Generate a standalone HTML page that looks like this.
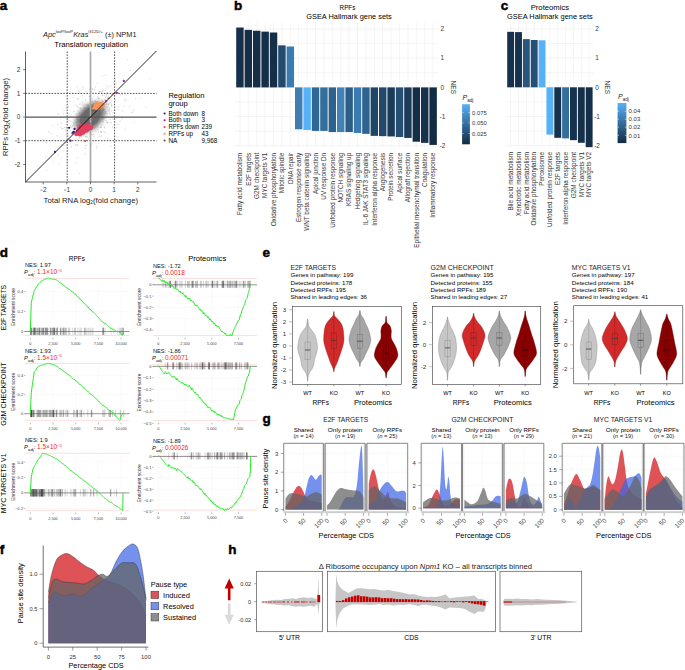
<!DOCTYPE html>
<html><head><meta charset="utf-8"><title>Figure</title>
<style>html,body{margin:0;padding:0;background:#fff;overflow:hidden}svg{display:block}
text{font-family:"Liberation Sans",sans-serif}</style></head>
<body><svg width="685" height="670" viewBox="0 0 685 670" font-family="Liberation Sans, sans-serif">
<rect x="0" y="0" width="685" height="670" fill="#fff"/>
<text x="-0.20" y="9.90" font-size="13.5" fill="#000" font-weight="bold" stroke="#000" stroke-width="0.45">a</text>
<text x="43.0" y="37.0" font-size="7.6" fill="#222" textLength="93.5" lengthAdjust="spacingAndGlyphs"><tspan font-style="italic">Apc</tspan><tspan font-size="4.3" dy="-3.6">loxP/loxP</tspan><tspan font-style="italic" dy="3.6">Kras</tspan><tspan font-size="4.3" dy="-3.6">G12D/+</tspan><tspan dy="3.6"> (±) NPM1</tspan></text>
<text x="91.20" y="46.70" font-size="7.4" text-anchor="middle" textLength="73.80" lengthAdjust="spacingAndGlyphs">Translation regulation</text>
<defs><filter id="bl1" x="-50%" y="-50%" width="200%" height="200%"><feGaussianBlur stdDeviation="2.2"/></filter><filter id="bl2" x="-50%" y="-50%" width="200%" height="200%"><feGaussianBlur stdDeviation="1.2"/></filter><filter id="bl3" x="-50%" y="-50%" width="200%" height="200%"><feGaussianBlur stdDeviation="0.5"/></filter></defs>
<circle cx="81.4" cy="117.0" r="0.75" fill="#aaa" fill-opacity="0.3"/>
<circle cx="89.3" cy="124.0" r="0.75" fill="#aaa" fill-opacity="0.3"/>
<circle cx="75.9" cy="135.6" r="0.75" fill="#aaa" fill-opacity="0.3"/>
<circle cx="106.4" cy="93.5" r="0.75" fill="#aaa" fill-opacity="0.3"/>
<circle cx="106.7" cy="96.4" r="0.75" fill="#aaa" fill-opacity="0.3"/>
<circle cx="95.8" cy="108.4" r="0.75" fill="#aaa" fill-opacity="0.3"/>
<circle cx="53.3" cy="139.0" r="0.75" fill="#aaa" fill-opacity="0.3"/>
<circle cx="95.0" cy="103.6" r="0.75" fill="#aaa" fill-opacity="0.3"/>
<circle cx="76.2" cy="162.9" r="0.75" fill="#aaa" fill-opacity="0.3"/>
<circle cx="78.9" cy="137.1" r="0.75" fill="#aaa" fill-opacity="0.3"/>
<circle cx="96.3" cy="112.1" r="0.75" fill="#aaa" fill-opacity="0.3"/>
<circle cx="105.5" cy="113.6" r="0.75" fill="#aaa" fill-opacity="0.3"/>
<circle cx="92.4" cy="108.1" r="0.75" fill="#aaa" fill-opacity="0.3"/>
<circle cx="63.3" cy="113.4" r="0.75" fill="#aaa" fill-opacity="0.3"/>
<circle cx="89.6" cy="96.4" r="0.75" fill="#aaa" fill-opacity="0.3"/>
<circle cx="86.1" cy="134.8" r="0.75" fill="#aaa" fill-opacity="0.3"/>
<circle cx="85.4" cy="124.2" r="0.75" fill="#aaa" fill-opacity="0.3"/>
<circle cx="99.5" cy="103.6" r="0.75" fill="#aaa" fill-opacity="0.3"/>
<circle cx="91.2" cy="133.7" r="0.75" fill="#aaa" fill-opacity="0.3"/>
<circle cx="70.3" cy="115.4" r="0.75" fill="#aaa" fill-opacity="0.3"/>
<circle cx="74.0" cy="129.3" r="0.75" fill="#aaa" fill-opacity="0.3"/>
<circle cx="111.5" cy="122.9" r="0.75" fill="#aaa" fill-opacity="0.3"/>
<circle cx="79.6" cy="104.5" r="0.75" fill="#aaa" fill-opacity="0.3"/>
<circle cx="57.7" cy="155.8" r="0.75" fill="#aaa" fill-opacity="0.3"/>
<circle cx="96.0" cy="126.3" r="0.75" fill="#aaa" fill-opacity="0.3"/>
<circle cx="99.9" cy="108.8" r="0.75" fill="#aaa" fill-opacity="0.3"/>
<circle cx="57.1" cy="135.7" r="0.75" fill="#aaa" fill-opacity="0.3"/>
<circle cx="93.9" cy="96.7" r="0.75" fill="#aaa" fill-opacity="0.3"/>
<circle cx="112.8" cy="88.2" r="0.75" fill="#aaa" fill-opacity="0.3"/>
<circle cx="104.3" cy="126.7" r="0.75" fill="#aaa" fill-opacity="0.3"/>
<circle cx="106.9" cy="111.7" r="0.75" fill="#aaa" fill-opacity="0.3"/>
<circle cx="93.8" cy="136.5" r="0.75" fill="#aaa" fill-opacity="0.3"/>
<circle cx="78.1" cy="139.1" r="0.75" fill="#aaa" fill-opacity="0.3"/>
<circle cx="131.6" cy="112.5" r="0.75" fill="#aaa" fill-opacity="0.3"/>
<circle cx="62.5" cy="140.9" r="0.75" fill="#aaa" fill-opacity="0.3"/>
<circle cx="110.9" cy="86.2" r="0.75" fill="#aaa" fill-opacity="0.3"/>
<circle cx="79.4" cy="173.6" r="0.75" fill="#aaa" fill-opacity="0.3"/>
<circle cx="103.5" cy="117.4" r="0.75" fill="#aaa" fill-opacity="0.3"/>
<circle cx="61.9" cy="128.2" r="0.75" fill="#aaa" fill-opacity="0.3"/>
<circle cx="108.6" cy="96.1" r="0.75" fill="#aaa" fill-opacity="0.3"/>
<circle cx="91.0" cy="108.8" r="0.75" fill="#aaa" fill-opacity="0.3"/>
<circle cx="113.2" cy="83.2" r="0.75" fill="#aaa" fill-opacity="0.3"/>
<circle cx="94.8" cy="102.9" r="0.75" fill="#aaa" fill-opacity="0.3"/>
<circle cx="51.2" cy="133.4" r="0.75" fill="#aaa" fill-opacity="0.3"/>
<circle cx="102.7" cy="95.4" r="0.75" fill="#aaa" fill-opacity="0.3"/>
<circle cx="61.2" cy="157.9" r="0.75" fill="#aaa" fill-opacity="0.3"/>
<circle cx="121.7" cy="118.4" r="0.75" fill="#aaa" fill-opacity="0.3"/>
<circle cx="78.1" cy="111.2" r="0.75" fill="#aaa" fill-opacity="0.3"/>
<circle cx="52.8" cy="125.9" r="0.75" fill="#aaa" fill-opacity="0.3"/>
<circle cx="101.6" cy="108.6" r="0.75" fill="#aaa" fill-opacity="0.3"/>
<circle cx="90.4" cy="105.5" r="0.75" fill="#aaa" fill-opacity="0.3"/>
<circle cx="82.3" cy="104.6" r="0.75" fill="#aaa" fill-opacity="0.3"/>
<circle cx="82.5" cy="132.6" r="0.75" fill="#aaa" fill-opacity="0.3"/>
<circle cx="108.7" cy="98.3" r="0.75" fill="#aaa" fill-opacity="0.3"/>
<circle cx="66.4" cy="124.2" r="0.75" fill="#aaa" fill-opacity="0.3"/>
<circle cx="120.5" cy="95.1" r="0.75" fill="#aaa" fill-opacity="0.3"/>
<circle cx="67.2" cy="142.8" r="0.75" fill="#aaa" fill-opacity="0.3"/>
<circle cx="90.5" cy="122.4" r="0.75" fill="#aaa" fill-opacity="0.3"/>
<circle cx="124.6" cy="101.4" r="0.75" fill="#aaa" fill-opacity="0.3"/>
<circle cx="124.3" cy="106.1" r="0.75" fill="#aaa" fill-opacity="0.3"/>
<circle cx="70.9" cy="125.4" r="0.75" fill="#aaa" fill-opacity="0.3"/>
<circle cx="102.8" cy="89.3" r="0.75" fill="#aaa" fill-opacity="0.3"/>
<circle cx="95.3" cy="109.7" r="0.75" fill="#aaa" fill-opacity="0.3"/>
<circle cx="88.0" cy="109.2" r="0.75" fill="#aaa" fill-opacity="0.3"/>
<circle cx="84.9" cy="117.7" r="0.75" fill="#aaa" fill-opacity="0.3"/>
<circle cx="100.7" cy="106.9" r="0.75" fill="#aaa" fill-opacity="0.3"/>
<circle cx="99.0" cy="98.4" r="0.75" fill="#aaa" fill-opacity="0.3"/>
<circle cx="123.2" cy="78.4" r="0.75" fill="#aaa" fill-opacity="0.3"/>
<circle cx="86.3" cy="128.1" r="0.75" fill="#aaa" fill-opacity="0.3"/>
<circle cx="82.0" cy="109.0" r="0.75" fill="#aaa" fill-opacity="0.3"/>
<circle cx="81.1" cy="119.6" r="0.75" fill="#aaa" fill-opacity="0.3"/>
<circle cx="146.1" cy="107.5" r="0.75" fill="#aaa" fill-opacity="0.3"/>
<circle cx="68.4" cy="134.9" r="0.75" fill="#aaa" fill-opacity="0.3"/>
<circle cx="95.4" cy="107.9" r="0.75" fill="#aaa" fill-opacity="0.3"/>
<circle cx="77.0" cy="118.9" r="0.75" fill="#aaa" fill-opacity="0.3"/>
<circle cx="100.2" cy="116.8" r="0.75" fill="#aaa" fill-opacity="0.3"/>
<circle cx="130.4" cy="70.7" r="0.75" fill="#aaa" fill-opacity="0.3"/>
<circle cx="81.6" cy="127.8" r="0.75" fill="#aaa" fill-opacity="0.3"/>
<circle cx="87.1" cy="121.7" r="0.75" fill="#aaa" fill-opacity="0.3"/>
<circle cx="46.5" cy="170.0" r="0.75" fill="#aaa" fill-opacity="0.3"/>
<circle cx="118.9" cy="109.7" r="0.75" fill="#aaa" fill-opacity="0.3"/>
<circle cx="80.7" cy="109.7" r="0.75" fill="#aaa" fill-opacity="0.3"/>
<circle cx="92.3" cy="88.5" r="0.75" fill="#aaa" fill-opacity="0.3"/>
<circle cx="63.5" cy="150.5" r="0.75" fill="#aaa" fill-opacity="0.3"/>
<circle cx="78.9" cy="117.5" r="0.75" fill="#aaa" fill-opacity="0.3"/>
<circle cx="134.0" cy="121.9" r="0.75" fill="#aaa" fill-opacity="0.3"/>
<circle cx="122.8" cy="110.8" r="0.75" fill="#aaa" fill-opacity="0.3"/>
<circle cx="116.0" cy="118.4" r="0.75" fill="#aaa" fill-opacity="0.3"/>
<circle cx="82.9" cy="103.2" r="0.75" fill="#aaa" fill-opacity="0.3"/>
<circle cx="86.1" cy="118.0" r="0.75" fill="#aaa" fill-opacity="0.3"/>
<circle cx="103.4" cy="101.7" r="0.75" fill="#aaa" fill-opacity="0.3"/>
<circle cx="75.2" cy="104.9" r="0.75" fill="#aaa" fill-opacity="0.3"/>
<circle cx="111.7" cy="101.1" r="0.75" fill="#aaa" fill-opacity="0.3"/>
<circle cx="149.5" cy="78.6" r="0.75" fill="#aaa" fill-opacity="0.3"/>
<circle cx="109.1" cy="103.2" r="0.75" fill="#aaa" fill-opacity="0.3"/>
<circle cx="86.5" cy="108.4" r="0.75" fill="#aaa" fill-opacity="0.3"/>
<circle cx="88.7" cy="107.4" r="0.75" fill="#aaa" fill-opacity="0.3"/>
<circle cx="77.0" cy="157.8" r="0.75" fill="#aaa" fill-opacity="0.3"/>
<circle cx="110.1" cy="114.8" r="0.75" fill="#aaa" fill-opacity="0.3"/>
<circle cx="85.5" cy="148.6" r="0.75" fill="#aaa" fill-opacity="0.3"/>
<circle cx="106.3" cy="87.9" r="0.75" fill="#aaa" fill-opacity="0.3"/>
<circle cx="125.1" cy="99.4" r="0.75" fill="#aaa" fill-opacity="0.3"/>
<circle cx="100.8" cy="127.4" r="0.75" fill="#aaa" fill-opacity="0.3"/>
<circle cx="89.8" cy="89.2" r="0.75" fill="#aaa" fill-opacity="0.3"/>
<circle cx="60.7" cy="118.9" r="0.75" fill="#aaa" fill-opacity="0.3"/>
<circle cx="109.6" cy="101.1" r="0.75" fill="#aaa" fill-opacity="0.3"/>
<circle cx="42.9" cy="139.5" r="0.75" fill="#aaa" fill-opacity="0.3"/>
<circle cx="94.2" cy="124.2" r="0.75" fill="#aaa" fill-opacity="0.3"/>
<circle cx="93.9" cy="106.3" r="0.75" fill="#aaa" fill-opacity="0.3"/>
<circle cx="126.2" cy="99.7" r="0.75" fill="#aaa" fill-opacity="0.3"/>
<circle cx="97.3" cy="83.5" r="0.75" fill="#aaa" fill-opacity="0.3"/>
<circle cx="117.9" cy="92.9" r="0.75" fill="#aaa" fill-opacity="0.3"/>
<circle cx="68.1" cy="121.2" r="0.75" fill="#aaa" fill-opacity="0.3"/>
<circle cx="91.4" cy="113.9" r="0.75" fill="#aaa" fill-opacity="0.3"/>
<circle cx="118.1" cy="94.2" r="0.75" fill="#aaa" fill-opacity="0.3"/>
<circle cx="53.2" cy="161.4" r="0.75" fill="#aaa" fill-opacity="0.3"/>
<circle cx="50.3" cy="142.7" r="0.75" fill="#aaa" fill-opacity="0.3"/>
<circle cx="101.6" cy="117.0" r="0.75" fill="#aaa" fill-opacity="0.3"/>
<circle cx="82.8" cy="109.8" r="0.75" fill="#aaa" fill-opacity="0.3"/>
<circle cx="80.0" cy="103.8" r="0.75" fill="#aaa" fill-opacity="0.3"/>
<circle cx="80.1" cy="108.8" r="0.75" fill="#aaa" fill-opacity="0.3"/>
<circle cx="102.5" cy="76.1" r="0.75" fill="#aaa" fill-opacity="0.3"/>
<circle cx="70.7" cy="121.1" r="0.75" fill="#aaa" fill-opacity="0.3"/>
<circle cx="67.0" cy="160.2" r="0.75" fill="#aaa" fill-opacity="0.3"/>
<circle cx="46.1" cy="142.4" r="0.75" fill="#aaa" fill-opacity="0.3"/>
<circle cx="68.8" cy="139.1" r="0.75" fill="#aaa" fill-opacity="0.3"/>
<circle cx="87.3" cy="120.8" r="0.75" fill="#aaa" fill-opacity="0.3"/>
<circle cx="77.9" cy="125.5" r="0.75" fill="#aaa" fill-opacity="0.3"/>
<circle cx="121.9" cy="84.9" r="0.75" fill="#aaa" fill-opacity="0.3"/>
<circle cx="90.9" cy="98.7" r="0.75" fill="#aaa" fill-opacity="0.3"/>
<circle cx="98.3" cy="132.0" r="0.75" fill="#aaa" fill-opacity="0.3"/>
<circle cx="71.0" cy="117.3" r="0.75" fill="#aaa" fill-opacity="0.3"/>
<circle cx="66.7" cy="151.7" r="0.75" fill="#aaa" fill-opacity="0.3"/>
<circle cx="101.2" cy="92.1" r="0.75" fill="#aaa" fill-opacity="0.3"/>
<circle cx="83.4" cy="109.7" r="0.75" fill="#aaa" fill-opacity="0.3"/>
<circle cx="104.0" cy="124.8" r="0.75" fill="#aaa" fill-opacity="0.3"/>
<circle cx="68.5" cy="150.7" r="0.75" fill="#aaa" fill-opacity="0.3"/>
<circle cx="111.9" cy="105.8" r="0.75" fill="#aaa" fill-opacity="0.3"/>
<circle cx="81.4" cy="140.1" r="0.75" fill="#aaa" fill-opacity="0.3"/>
<circle cx="64.4" cy="145.4" r="0.75" fill="#aaa" fill-opacity="0.3"/>
<circle cx="66.3" cy="134.8" r="0.75" fill="#aaa" fill-opacity="0.3"/>
<circle cx="45.7" cy="156.1" r="0.75" fill="#aaa" fill-opacity="0.3"/>
<circle cx="96.6" cy="146.0" r="0.75" fill="#aaa" fill-opacity="0.3"/>
<circle cx="105.8" cy="106.7" r="0.75" fill="#aaa" fill-opacity="0.3"/>
<circle cx="58.8" cy="164.6" r="0.75" fill="#aaa" fill-opacity="0.3"/>
<circle cx="99.8" cy="116.1" r="0.75" fill="#aaa" fill-opacity="0.3"/>
<circle cx="97.6" cy="96.5" r="0.75" fill="#aaa" fill-opacity="0.3"/>
<circle cx="99.4" cy="102.3" r="0.75" fill="#aaa" fill-opacity="0.3"/>
<circle cx="108.2" cy="87.5" r="0.75" fill="#aaa" fill-opacity="0.3"/>
<circle cx="117.2" cy="127.8" r="0.75" fill="#aaa" fill-opacity="0.3"/>
<circle cx="94.6" cy="89.4" r="0.75" fill="#aaa" fill-opacity="0.3"/>
<circle cx="89.5" cy="126.6" r="0.75" fill="#aaa" fill-opacity="0.3"/>
<circle cx="140.7" cy="98.4" r="0.75" fill="#aaa" fill-opacity="0.3"/>
<circle cx="77.0" cy="86.9" r="0.75" fill="#aaa" fill-opacity="0.3"/>
<circle cx="67.8" cy="127.4" r="0.75" fill="#aaa" fill-opacity="0.3"/>
<circle cx="125.0" cy="84.7" r="0.75" fill="#aaa" fill-opacity="0.3"/>
<circle cx="92.3" cy="99.0" r="0.75" fill="#aaa" fill-opacity="0.3"/>
<circle cx="75.2" cy="134.0" r="0.75" fill="#aaa" fill-opacity="0.3"/>
<circle cx="88.3" cy="104.5" r="0.75" fill="#aaa" fill-opacity="0.3"/>
<circle cx="91.6" cy="119.5" r="0.75" fill="#aaa" fill-opacity="0.3"/>
<circle cx="75.7" cy="138.4" r="0.75" fill="#aaa" fill-opacity="0.3"/>
<circle cx="105.4" cy="100.3" r="0.75" fill="#aaa" fill-opacity="0.3"/>
<circle cx="82.9" cy="139.8" r="0.75" fill="#aaa" fill-opacity="0.3"/>
<circle cx="127.6" cy="59.4" r="0.75" fill="#aaa" fill-opacity="0.3"/>
<circle cx="125.1" cy="129.1" r="0.75" fill="#aaa" fill-opacity="0.3"/>
<circle cx="97.2" cy="101.7" r="0.75" fill="#aaa" fill-opacity="0.3"/>
<circle cx="116.5" cy="83.3" r="0.75" fill="#aaa" fill-opacity="0.3"/>
<circle cx="84.6" cy="113.6" r="0.75" fill="#aaa" fill-opacity="0.3"/>
<circle cx="46.7" cy="142.4" r="0.75" fill="#aaa" fill-opacity="0.3"/>
<circle cx="102.6" cy="117.6" r="0.75" fill="#aaa" fill-opacity="0.3"/>
<ellipse cx="90.5" cy="117.1" rx="22" ry="14" fill="#aaaaaa" fill-opacity="0.35" filter="url(#bl2)" transform="rotate(-45 90.5 117.1)"/>
<ellipse cx="90.5" cy="117.1" rx="17.5" ry="11" fill="#838383" fill-opacity="0.9" filter="url(#bl2)" transform="rotate(-45 90.5 117.1)"/>
<ellipse cx="90.5" cy="117.1" rx="12.5" ry="8.5" fill="#686868" filter="url(#bl3)" transform="rotate(-45 90.5 117.1)"/>
<circle cx="92.7" cy="89.2" r="0.7" fill="#777" fill-opacity="0.3"/>
<circle cx="79.3" cy="137.8" r="0.7" fill="#777" fill-opacity="0.3"/>
<circle cx="92.5" cy="112.5" r="0.7" fill="#777" fill-opacity="0.3"/>
<circle cx="92.9" cy="128.6" r="0.7" fill="#777" fill-opacity="0.3"/>
<circle cx="107.2" cy="85.6" r="0.7" fill="#777" fill-opacity="0.3"/>
<circle cx="86.5" cy="140.2" r="0.7" fill="#777" fill-opacity="0.3"/>
<circle cx="102.8" cy="90.7" r="0.7" fill="#777" fill-opacity="0.3"/>
<circle cx="105.4" cy="90.6" r="0.7" fill="#777" fill-opacity="0.3"/>
<circle cx="78.8" cy="125.2" r="0.7" fill="#777" fill-opacity="0.3"/>
<circle cx="71.3" cy="147.0" r="0.7" fill="#777" fill-opacity="0.3"/>
<circle cx="86.1" cy="114.1" r="0.7" fill="#777" fill-opacity="0.3"/>
<circle cx="83.1" cy="126.3" r="0.7" fill="#777" fill-opacity="0.3"/>
<circle cx="93.0" cy="109.2" r="0.7" fill="#777" fill-opacity="0.3"/>
<circle cx="96.3" cy="108.4" r="0.7" fill="#777" fill-opacity="0.3"/>
<circle cx="81.2" cy="115.2" r="0.7" fill="#777" fill-opacity="0.3"/>
<circle cx="96.9" cy="122.4" r="0.7" fill="#777" fill-opacity="0.3"/>
<circle cx="83.4" cy="124.2" r="0.7" fill="#777" fill-opacity="0.3"/>
<circle cx="88.1" cy="117.2" r="0.7" fill="#777" fill-opacity="0.3"/>
<circle cx="89.2" cy="115.9" r="0.7" fill="#777" fill-opacity="0.3"/>
<circle cx="97.9" cy="127.6" r="0.7" fill="#777" fill-opacity="0.3"/>
<circle cx="87.8" cy="104.8" r="0.7" fill="#777" fill-opacity="0.3"/>
<circle cx="96.8" cy="113.5" r="0.7" fill="#777" fill-opacity="0.3"/>
<circle cx="102.4" cy="118.9" r="0.7" fill="#777" fill-opacity="0.3"/>
<circle cx="68.6" cy="138.2" r="0.7" fill="#777" fill-opacity="0.3"/>
<circle cx="74.7" cy="122.4" r="0.7" fill="#777" fill-opacity="0.3"/>
<circle cx="96.8" cy="148.1" r="0.7" fill="#777" fill-opacity="0.3"/>
<circle cx="67.5" cy="117.7" r="0.7" fill="#777" fill-opacity="0.3"/>
<circle cx="95.9" cy="131.2" r="0.7" fill="#777" fill-opacity="0.3"/>
<circle cx="78.1" cy="122.1" r="0.7" fill="#777" fill-opacity="0.3"/>
<circle cx="94.9" cy="110.2" r="0.7" fill="#777" fill-opacity="0.3"/>
<circle cx="102.3" cy="95.2" r="0.7" fill="#777" fill-opacity="0.3"/>
<circle cx="86.0" cy="113.1" r="0.7" fill="#777" fill-opacity="0.3"/>
<circle cx="102.4" cy="91.4" r="0.7" fill="#777" fill-opacity="0.3"/>
<circle cx="109.8" cy="113.2" r="0.7" fill="#777" fill-opacity="0.3"/>
<circle cx="83.6" cy="113.6" r="0.7" fill="#777" fill-opacity="0.3"/>
<circle cx="79.6" cy="112.9" r="0.7" fill="#777" fill-opacity="0.3"/>
<circle cx="90.8" cy="103.9" r="0.7" fill="#777" fill-opacity="0.3"/>
<circle cx="70.0" cy="101.4" r="0.7" fill="#777" fill-opacity="0.3"/>
<circle cx="106.1" cy="104.5" r="0.7" fill="#777" fill-opacity="0.3"/>
<circle cx="73.1" cy="97.6" r="0.7" fill="#777" fill-opacity="0.3"/>
<circle cx="80.4" cy="114.8" r="0.7" fill="#777" fill-opacity="0.3"/>
<circle cx="101.6" cy="105.9" r="0.7" fill="#777" fill-opacity="0.3"/>
<circle cx="75.9" cy="129.0" r="0.7" fill="#777" fill-opacity="0.3"/>
<circle cx="86.6" cy="105.0" r="0.7" fill="#777" fill-opacity="0.3"/>
<circle cx="99.2" cy="108.0" r="0.7" fill="#777" fill-opacity="0.3"/>
<circle cx="96.4" cy="103.6" r="0.7" fill="#777" fill-opacity="0.3"/>
<circle cx="92.4" cy="114.4" r="0.7" fill="#777" fill-opacity="0.3"/>
<circle cx="82.9" cy="115.0" r="0.7" fill="#777" fill-opacity="0.3"/>
<circle cx="83.0" cy="133.6" r="0.7" fill="#777" fill-opacity="0.3"/>
<circle cx="100.9" cy="127.5" r="0.7" fill="#777" fill-opacity="0.3"/>
<circle cx="99.8" cy="136.3" r="0.7" fill="#777" fill-opacity="0.3"/>
<circle cx="78.7" cy="120.8" r="0.7" fill="#777" fill-opacity="0.3"/>
<circle cx="97.3" cy="111.0" r="0.7" fill="#777" fill-opacity="0.3"/>
<circle cx="97.9" cy="129.8" r="0.7" fill="#777" fill-opacity="0.3"/>
<circle cx="107.6" cy="92.6" r="0.7" fill="#777" fill-opacity="0.3"/>
<circle cx="109.2" cy="110.9" r="0.7" fill="#777" fill-opacity="0.3"/>
<circle cx="101.3" cy="132.1" r="0.7" fill="#777" fill-opacity="0.3"/>
<circle cx="92.7" cy="101.6" r="0.7" fill="#777" fill-opacity="0.3"/>
<circle cx="69.3" cy="139.1" r="0.7" fill="#777" fill-opacity="0.3"/>
<circle cx="110.2" cy="122.5" r="0.7" fill="#777" fill-opacity="0.3"/>
<circle cx="77.3" cy="145.4" r="0.7" fill="#777" fill-opacity="0.3"/>
<circle cx="93.3" cy="134.2" r="0.7" fill="#777" fill-opacity="0.3"/>
<circle cx="89.1" cy="115.0" r="0.7" fill="#777" fill-opacity="0.3"/>
<circle cx="92.7" cy="104.9" r="0.7" fill="#777" fill-opacity="0.3"/>
<circle cx="99.3" cy="91.7" r="0.7" fill="#777" fill-opacity="0.3"/>
<circle cx="79.2" cy="135.6" r="0.7" fill="#777" fill-opacity="0.3"/>
<circle cx="86.1" cy="136.8" r="0.7" fill="#777" fill-opacity="0.3"/>
<circle cx="89.5" cy="118.0" r="0.7" fill="#777" fill-opacity="0.3"/>
<circle cx="107.3" cy="122.8" r="0.7" fill="#777" fill-opacity="0.3"/>
<circle cx="76.6" cy="131.3" r="0.7" fill="#777" fill-opacity="0.3"/>
<circle cx="90.4" cy="121.6" r="0.7" fill="#777" fill-opacity="0.3"/>
<circle cx="95.2" cy="123.2" r="0.7" fill="#777" fill-opacity="0.3"/>
<circle cx="95.9" cy="106.6" r="0.7" fill="#777" fill-opacity="0.3"/>
<circle cx="94.3" cy="122.9" r="0.7" fill="#777" fill-opacity="0.3"/>
<circle cx="107.8" cy="138.4" r="0.7" fill="#777" fill-opacity="0.3"/>
<circle cx="79.1" cy="128.0" r="0.7" fill="#777" fill-opacity="0.3"/>
<circle cx="72.0" cy="132.8" r="0.7" fill="#777" fill-opacity="0.3"/>
<circle cx="101.9" cy="125.2" r="0.7" fill="#777" fill-opacity="0.3"/>
<circle cx="89.9" cy="122.2" r="0.7" fill="#777" fill-opacity="0.3"/>
<circle cx="91.4" cy="107.5" r="0.7" fill="#777" fill-opacity="0.3"/>
<circle cx="96.1" cy="123.6" r="0.7" fill="#777" fill-opacity="0.3"/>
<circle cx="89.3" cy="119.2" r="0.7" fill="#777" fill-opacity="0.3"/>
<circle cx="96.7" cy="106.7" r="0.7" fill="#777" fill-opacity="0.3"/>
<circle cx="91.9" cy="134.9" r="0.7" fill="#777" fill-opacity="0.3"/>
<circle cx="91.5" cy="126.6" r="0.7" fill="#777" fill-opacity="0.3"/>
<circle cx="78.7" cy="130.6" r="0.7" fill="#777" fill-opacity="0.3"/>
<circle cx="84.2" cy="121.9" r="0.7" fill="#777" fill-opacity="0.3"/>
<circle cx="99.4" cy="114.1" r="0.7" fill="#777" fill-opacity="0.3"/>
<circle cx="119.2" cy="92.9" r="0.7" fill="#777" fill-opacity="0.3"/>
<circle cx="102.1" cy="103.7" r="0.7" fill="#777" fill-opacity="0.3"/>
<circle cx="120.0" cy="121.3" r="0.7" fill="#777" fill-opacity="0.3"/>
<circle cx="80.2" cy="123.9" r="0.7" fill="#777" fill-opacity="0.3"/>
<circle cx="80.8" cy="93.6" r="0.7" fill="#777" fill-opacity="0.3"/>
<circle cx="85.1" cy="104.3" r="0.7" fill="#777" fill-opacity="0.3"/>
<circle cx="92.5" cy="101.6" r="0.7" fill="#777" fill-opacity="0.3"/>
<circle cx="97.4" cy="112.4" r="0.7" fill="#777" fill-opacity="0.3"/>
<circle cx="103.9" cy="119.0" r="0.7" fill="#777" fill-opacity="0.3"/>
<circle cx="111.1" cy="110.9" r="0.7" fill="#777" fill-opacity="0.3"/>
<circle cx="78.3" cy="99.2" r="0.7" fill="#777" fill-opacity="0.3"/>
<circle cx="87.8" cy="119.5" r="0.7" fill="#777" fill-opacity="0.3"/>
<circle cx="103.5" cy="103.7" r="0.7" fill="#777" fill-opacity="0.3"/>
<circle cx="79.5" cy="124.5" r="0.7" fill="#777" fill-opacity="0.3"/>
<circle cx="92.1" cy="105.4" r="0.7" fill="#777" fill-opacity="0.3"/>
<circle cx="69.3" cy="113.4" r="0.7" fill="#777" fill-opacity="0.3"/>
<circle cx="109.3" cy="98.0" r="0.7" fill="#777" fill-opacity="0.3"/>
<circle cx="96.6" cy="117.1" r="0.7" fill="#777" fill-opacity="0.3"/>
<circle cx="111.6" cy="106.0" r="0.7" fill="#777" fill-opacity="0.3"/>
<circle cx="101.6" cy="112.8" r="0.7" fill="#777" fill-opacity="0.3"/>
<circle cx="77.5" cy="119.9" r="0.7" fill="#777" fill-opacity="0.3"/>
<circle cx="105.7" cy="102.0" r="0.7" fill="#777" fill-opacity="0.3"/>
<circle cx="77.1" cy="119.0" r="0.7" fill="#777" fill-opacity="0.3"/>
<circle cx="87.7" cy="115.5" r="0.7" fill="#777" fill-opacity="0.3"/>
<circle cx="99.8" cy="91.7" r="0.7" fill="#777" fill-opacity="0.3"/>
<circle cx="68.4" cy="106.8" r="0.7" fill="#777" fill-opacity="0.3"/>
<circle cx="85.0" cy="111.5" r="0.7" fill="#777" fill-opacity="0.3"/>
<circle cx="83.5" cy="124.8" r="0.7" fill="#777" fill-opacity="0.3"/>
<circle cx="58.0" cy="124.3" r="0.7" fill="#777" fill-opacity="0.3"/>
<circle cx="114.6" cy="110.2" r="0.7" fill="#777" fill-opacity="0.3"/>
<circle cx="84.9" cy="145.7" r="0.7" fill="#777" fill-opacity="0.3"/>
<circle cx="107.1" cy="107.0" r="0.7" fill="#777" fill-opacity="0.3"/>
<circle cx="92.0" cy="120.0" r="0.7" fill="#777" fill-opacity="0.3"/>
<circle cx="96.8" cy="126.2" r="0.7" fill="#777" fill-opacity="0.3"/>
<circle cx="101.0" cy="127.0" r="0.7" fill="#777" fill-opacity="0.3"/>
<circle cx="87.5" cy="115.7" r="0.7" fill="#777" fill-opacity="0.3"/>
<circle cx="97.5" cy="113.4" r="0.7" fill="#777" fill-opacity="0.3"/>
<circle cx="79.1" cy="126.2" r="0.7" fill="#777" fill-opacity="0.3"/>
<circle cx="73.9" cy="111.5" r="0.7" fill="#777" fill-opacity="0.3"/>
<circle cx="100.0" cy="109.2" r="0.7" fill="#777" fill-opacity="0.3"/>
<circle cx="90.1" cy="127.5" r="0.7" fill="#777" fill-opacity="0.3"/>
<circle cx="82.4" cy="130.3" r="0.7" fill="#777" fill-opacity="0.3"/>
<circle cx="90.2" cy="110.1" r="0.7" fill="#777" fill-opacity="0.3"/>
<circle cx="82.1" cy="95.7" r="0.7" fill="#777" fill-opacity="0.3"/>
<circle cx="82.4" cy="125.0" r="0.7" fill="#777" fill-opacity="0.3"/>
<circle cx="135.5" cy="98.6" r="0.7" fill="#777" fill-opacity="0.3"/>
<circle cx="83.4" cy="121.8" r="0.7" fill="#777" fill-opacity="0.3"/>
<circle cx="89.4" cy="112.4" r="0.7" fill="#777" fill-opacity="0.3"/>
<circle cx="85.2" cy="117.2" r="0.7" fill="#777" fill-opacity="0.3"/>
<circle cx="85.6" cy="111.0" r="0.7" fill="#777" fill-opacity="0.3"/>
<circle cx="75.3" cy="144.9" r="0.7" fill="#777" fill-opacity="0.3"/>
<circle cx="97.8" cy="124.5" r="0.7" fill="#777" fill-opacity="0.3"/>
<circle cx="74.2" cy="124.5" r="0.7" fill="#777" fill-opacity="0.3"/>
<circle cx="78.6" cy="120.0" r="0.7" fill="#777" fill-opacity="0.3"/>
<circle cx="96.8" cy="106.4" r="0.7" fill="#777" fill-opacity="0.3"/>
<circle cx="97.0" cy="112.1" r="0.7" fill="#777" fill-opacity="0.3"/>
<circle cx="74.7" cy="133.3" r="0.7" fill="#777" fill-opacity="0.3"/>
<circle cx="99.4" cy="115.7" r="0.7" fill="#777" fill-opacity="0.3"/>
<circle cx="84.1" cy="112.9" r="0.7" fill="#777" fill-opacity="0.3"/>
<circle cx="76.0" cy="122.5" r="0.7" fill="#777" fill-opacity="0.3"/>
<circle cx="115.6" cy="99.9" r="0.7" fill="#777" fill-opacity="0.3"/>
<circle cx="93.2" cy="116.5" r="0.7" fill="#777" fill-opacity="0.3"/>
<circle cx="105.7" cy="97.3" r="0.7" fill="#777" fill-opacity="0.3"/>
<circle cx="105.6" cy="111.8" r="0.7" fill="#777" fill-opacity="0.3"/>
<circle cx="90.4" cy="117.4" r="0.7" fill="#777" fill-opacity="0.3"/>
<circle cx="60.1" cy="127.1" r="0.7" fill="#777" fill-opacity="0.3"/>
<circle cx="113.1" cy="119.3" r="0.7" fill="#777" fill-opacity="0.3"/>
<circle cx="99.9" cy="109.6" r="0.7" fill="#777" fill-opacity="0.3"/>
<circle cx="93.0" cy="109.4" r="0.7" fill="#777" fill-opacity="0.3"/>
<circle cx="75.0" cy="135.7" r="0.7" fill="#777" fill-opacity="0.3"/>
<circle cx="111.5" cy="104.2" r="0.7" fill="#777" fill-opacity="0.3"/>
<circle cx="88.5" cy="138.4" r="0.7" fill="#777" fill-opacity="0.3"/>
<circle cx="74.3" cy="128.6" r="0.7" fill="#777" fill-opacity="0.3"/>
<circle cx="106.7" cy="94.8" r="0.7" fill="#777" fill-opacity="0.3"/>
<circle cx="77.4" cy="98.4" r="0.7" fill="#777" fill-opacity="0.3"/>
<circle cx="89.4" cy="127.8" r="0.7" fill="#777" fill-opacity="0.3"/>
<circle cx="92.6" cy="107.2" r="0.7" fill="#777" fill-opacity="0.3"/>
<circle cx="87.3" cy="137.0" r="0.7" fill="#777" fill-opacity="0.3"/>
<circle cx="92.0" cy="112.0" r="0.7" fill="#777" fill-opacity="0.3"/>
<circle cx="77.1" cy="133.4" r="0.7" fill="#777" fill-opacity="0.3"/>
<circle cx="81.1" cy="120.0" r="0.7" fill="#777" fill-opacity="0.3"/>
<circle cx="89.8" cy="119.0" r="0.7" fill="#777" fill-opacity="0.3"/>
<circle cx="79.0" cy="113.6" r="0.7" fill="#777" fill-opacity="0.3"/>
<circle cx="108.9" cy="103.9" r="0.7" fill="#777" fill-opacity="0.3"/>
<circle cx="105.5" cy="112.9" r="0.7" fill="#777" fill-opacity="0.3"/>
<circle cx="86.0" cy="110.9" r="0.7" fill="#777" fill-opacity="0.3"/>
<circle cx="110.4" cy="102.6" r="0.7" fill="#777" fill-opacity="0.3"/>
<circle cx="88.3" cy="116.5" r="0.7" fill="#777" fill-opacity="0.3"/>
<circle cx="73.4" cy="134.0" r="0.7" fill="#777" fill-opacity="0.3"/>
<circle cx="80.2" cy="122.1" r="0.7" fill="#777" fill-opacity="0.3"/>
<circle cx="91.7" cy="144.0" r="0.7" fill="#777" fill-opacity="0.3"/>
<circle cx="89.1" cy="114.8" r="0.7" fill="#777" fill-opacity="0.3"/>
<circle cx="78.0" cy="117.0" r="0.7" fill="#777" fill-opacity="0.3"/>
<circle cx="91.7" cy="124.5" r="0.7" fill="#777" fill-opacity="0.3"/>
<circle cx="107.0" cy="122.8" r="0.7" fill="#777" fill-opacity="0.3"/>
<circle cx="83.0" cy="125.0" r="0.7" fill="#777" fill-opacity="0.3"/>
<circle cx="101.3" cy="108.6" r="0.7" fill="#777" fill-opacity="0.3"/>
<circle cx="98.7" cy="118.3" r="0.7" fill="#777" fill-opacity="0.3"/>
<circle cx="82.1" cy="101.8" r="0.7" fill="#777" fill-opacity="0.3"/>
<circle cx="65.9" cy="108.1" r="0.7" fill="#777" fill-opacity="0.3"/>
<circle cx="83.1" cy="124.3" r="0.7" fill="#777" fill-opacity="0.3"/>
<circle cx="85.2" cy="107.8" r="0.7" fill="#777" fill-opacity="0.3"/>
<circle cx="91.4" cy="146.1" r="0.7" fill="#777" fill-opacity="0.3"/>
<circle cx="91.7" cy="104.6" r="0.7" fill="#777" fill-opacity="0.3"/>
<circle cx="78.9" cy="91.3" r="0.7" fill="#777" fill-opacity="0.3"/>
<circle cx="91.0" cy="113.0" r="0.7" fill="#777" fill-opacity="0.3"/>
<circle cx="98.4" cy="103.9" r="0.7" fill="#777" fill-opacity="0.3"/>
<circle cx="118.2" cy="107.0" r="0.7" fill="#777" fill-opacity="0.3"/>
<circle cx="110.7" cy="145.9" r="0.7" fill="#777" fill-opacity="0.3"/>
<circle cx="102.4" cy="110.5" r="0.7" fill="#777" fill-opacity="0.3"/>
<circle cx="85.7" cy="91.3" r="0.7" fill="#777" fill-opacity="0.3"/>
<circle cx="92.2" cy="119.0" r="0.7" fill="#777" fill-opacity="0.3"/>
<circle cx="90.8" cy="128.7" r="0.7" fill="#777" fill-opacity="0.3"/>
<circle cx="78.8" cy="119.7" r="0.7" fill="#777" fill-opacity="0.3"/>
<circle cx="90.4" cy="116.2" r="0.7" fill="#777" fill-opacity="0.3"/>
<circle cx="82.0" cy="112.6" r="0.7" fill="#777" fill-opacity="0.3"/>
<circle cx="97.1" cy="112.5" r="0.7" fill="#777" fill-opacity="0.3"/>
<circle cx="99.1" cy="110.6" r="0.7" fill="#777" fill-opacity="0.3"/>
<circle cx="67.1" cy="119.9" r="0.7" fill="#777" fill-opacity="0.3"/>
<circle cx="102.6" cy="118.6" r="0.7" fill="#777" fill-opacity="0.3"/>
<circle cx="100.3" cy="102.4" r="0.7" fill="#777" fill-opacity="0.3"/>
<circle cx="61.3" cy="123.4" r="0.7" fill="#777" fill-opacity="0.3"/>
<circle cx="88.0" cy="107.0" r="0.7" fill="#777" fill-opacity="0.3"/>
<circle cx="93.8" cy="115.9" r="0.7" fill="#777" fill-opacity="0.3"/>
<circle cx="66.0" cy="127.8" r="0.7" fill="#777" fill-opacity="0.3"/>
<circle cx="92.9" cy="118.8" r="0.7" fill="#777" fill-opacity="0.3"/>
<circle cx="93.9" cy="112.6" r="0.7" fill="#777" fill-opacity="0.3"/>
<circle cx="100.8" cy="112.1" r="0.7" fill="#777" fill-opacity="0.3"/>
<circle cx="105.3" cy="132.7" r="0.7" fill="#777" fill-opacity="0.3"/>
<circle cx="80.9" cy="117.1" r="0.7" fill="#777" fill-opacity="0.3"/>
<circle cx="108.3" cy="104.5" r="0.7" fill="#777" fill-opacity="0.3"/>
<circle cx="77.9" cy="107.2" r="0.7" fill="#777" fill-opacity="0.3"/>
<circle cx="81.6" cy="115.6" r="0.7" fill="#777" fill-opacity="0.3"/>
<circle cx="109.3" cy="97.7" r="0.7" fill="#777" fill-opacity="0.3"/>
<circle cx="109.5" cy="108.2" r="0.7" fill="#777" fill-opacity="0.3"/>
<circle cx="93.4" cy="115.3" r="0.7" fill="#777" fill-opacity="0.3"/>
<circle cx="83.8" cy="107.8" r="0.7" fill="#777" fill-opacity="0.3"/>
<circle cx="122.4" cy="94.6" r="0.7" fill="#777" fill-opacity="0.3"/>
<circle cx="80.4" cy="120.1" r="0.7" fill="#777" fill-opacity="0.3"/>
<circle cx="75.0" cy="125.6" r="0.7" fill="#777" fill-opacity="0.3"/>
<circle cx="99.0" cy="112.6" r="0.7" fill="#777" fill-opacity="0.3"/>
<circle cx="107.5" cy="122.1" r="0.7" fill="#777" fill-opacity="0.3"/>
<circle cx="110.1" cy="119.4" r="0.7" fill="#777" fill-opacity="0.3"/>
<circle cx="86.5" cy="129.0" r="0.7" fill="#777" fill-opacity="0.3"/>
<circle cx="79.9" cy="115.6" r="0.7" fill="#777" fill-opacity="0.3"/>
<circle cx="94.2" cy="119.0" r="0.7" fill="#777" fill-opacity="0.3"/>
<circle cx="85.5" cy="99.7" r="0.7" fill="#777" fill-opacity="0.3"/>
<circle cx="88.0" cy="114.4" r="0.7" fill="#777" fill-opacity="0.3"/>
<circle cx="102.7" cy="101.1" r="0.7" fill="#777" fill-opacity="0.3"/>
<circle cx="58.3" cy="114.0" r="0.7" fill="#777" fill-opacity="0.3"/>
<circle cx="129.7" cy="106.1" r="0.7" fill="#777" fill-opacity="0.3"/>
<circle cx="87.1" cy="114.6" r="0.7" fill="#777" fill-opacity="0.3"/>
<circle cx="96.7" cy="101.4" r="0.7" fill="#777" fill-opacity="0.3"/>
<circle cx="94.9" cy="127.7" r="0.7" fill="#777" fill-opacity="0.3"/>
<circle cx="84.3" cy="108.6" r="0.7" fill="#777" fill-opacity="0.3"/>
<circle cx="85.4" cy="136.8" r="0.7" fill="#777" fill-opacity="0.3"/>
<circle cx="104.0" cy="131.2" r="0.7" fill="#777" fill-opacity="0.3"/>
<circle cx="90.6" cy="123.2" r="0.7" fill="#777" fill-opacity="0.3"/>
<circle cx="100.6" cy="117.0" r="0.7" fill="#777" fill-opacity="0.3"/>
<circle cx="83.3" cy="129.9" r="0.7" fill="#777" fill-opacity="0.3"/>
<circle cx="94.6" cy="122.4" r="0.7" fill="#777" fill-opacity="0.3"/>
<circle cx="85.3" cy="111.6" r="0.7" fill="#777" fill-opacity="0.3"/>
<circle cx="91.9" cy="91.5" r="0.7" fill="#777" fill-opacity="0.3"/>
<circle cx="84.6" cy="129.0" r="0.7" fill="#777" fill-opacity="0.3"/>
<circle cx="48.8" cy="131.8" r="0.7" fill="#777" fill-opacity="0.3"/>
<circle cx="82.5" cy="125.6" r="0.7" fill="#777" fill-opacity="0.3"/>
<circle cx="106.1" cy="120.8" r="0.7" fill="#777" fill-opacity="0.3"/>
<circle cx="96.0" cy="112.0" r="0.7" fill="#777" fill-opacity="0.3"/>
<circle cx="67.7" cy="135.8" r="0.7" fill="#777" fill-opacity="0.3"/>
<circle cx="117.3" cy="116.8" r="0.7" fill="#777" fill-opacity="0.3"/>
<circle cx="98.2" cy="106.4" r="0.7" fill="#777" fill-opacity="0.3"/>
<circle cx="92.8" cy="108.6" r="0.7" fill="#777" fill-opacity="0.3"/>
<circle cx="106.9" cy="103.9" r="0.7" fill="#777" fill-opacity="0.3"/>
<circle cx="103.3" cy="110.1" r="0.7" fill="#777" fill-opacity="0.3"/>
<circle cx="104.5" cy="114.6" r="0.7" fill="#777" fill-opacity="0.3"/>
<circle cx="77.0" cy="106.0" r="0.7" fill="#777" fill-opacity="0.3"/>
<circle cx="96.7" cy="113.2" r="0.7" fill="#777" fill-opacity="0.3"/>
<circle cx="83.1" cy="135.7" r="0.7" fill="#777" fill-opacity="0.3"/>
<circle cx="86.0" cy="108.2" r="0.7" fill="#777" fill-opacity="0.3"/>
<circle cx="91.6" cy="108.5" r="0.7" fill="#777" fill-opacity="0.3"/>
<circle cx="80.4" cy="108.0" r="0.7" fill="#777" fill-opacity="0.3"/>
<circle cx="90.0" cy="125.5" r="0.7" fill="#777" fill-opacity="0.3"/>
<circle cx="100.1" cy="106.5" r="0.7" fill="#777" fill-opacity="0.3"/>
<circle cx="91.4" cy="124.4" r="0.7" fill="#777" fill-opacity="0.3"/>
<circle cx="83.2" cy="115.6" r="0.7" fill="#777" fill-opacity="0.3"/>
<circle cx="103.1" cy="121.7" r="0.7" fill="#777" fill-opacity="0.3"/>
<circle cx="94.1" cy="111.0" r="0.7" fill="#777" fill-opacity="0.3"/>
<circle cx="73.7" cy="123.0" r="0.7" fill="#777" fill-opacity="0.3"/>
<circle cx="89.7" cy="122.7" r="0.7" fill="#777" fill-opacity="0.3"/>
<circle cx="90.2" cy="98.7" r="0.7" fill="#777" fill-opacity="0.3"/>
<circle cx="79.6" cy="121.8" r="0.7" fill="#777" fill-opacity="0.3"/>
<circle cx="64.1" cy="110.6" r="0.7" fill="#777" fill-opacity="0.3"/>
<circle cx="76.4" cy="114.2" r="0.7" fill="#777" fill-opacity="0.3"/>
<circle cx="77.4" cy="118.7" r="0.7" fill="#777" fill-opacity="0.3"/>
<circle cx="133.7" cy="109.9" r="0.7" fill="#777" fill-opacity="0.3"/>
<circle cx="82.0" cy="118.5" r="0.7" fill="#777" fill-opacity="0.3"/>
<circle cx="94.2" cy="122.9" r="0.7" fill="#777" fill-opacity="0.3"/>
<circle cx="114.4" cy="92.1" r="0.7" fill="#777" fill-opacity="0.3"/>
<circle cx="65.8" cy="129.7" r="0.7" fill="#777" fill-opacity="0.3"/>
<circle cx="62.8" cy="128.5" r="0.7" fill="#777" fill-opacity="0.3"/>
<circle cx="82.9" cy="122.6" r="0.7" fill="#777" fill-opacity="0.3"/>
<circle cx="104.0" cy="101.9" r="0.7" fill="#777" fill-opacity="0.3"/>
<circle cx="86.7" cy="145.0" r="0.7" fill="#777" fill-opacity="0.3"/>
<circle cx="98.7" cy="98.4" r="0.7" fill="#777" fill-opacity="0.3"/>
<circle cx="75.1" cy="120.3" r="0.7" fill="#777" fill-opacity="0.3"/>
<circle cx="91.5" cy="106.8" r="0.7" fill="#777" fill-opacity="0.3"/>
<circle cx="67.0" cy="144.9" r="0.7" fill="#777" fill-opacity="0.3"/>
<circle cx="95.5" cy="101.6" r="0.7" fill="#777" fill-opacity="0.3"/>
<circle cx="117.9" cy="124.5" r="0.7" fill="#777" fill-opacity="0.3"/>
<circle cx="88.9" cy="111.7" r="0.7" fill="#777" fill-opacity="0.3"/>
<circle cx="126.2" cy="94.9" r="0.7" fill="#777" fill-opacity="0.3"/>
<circle cx="86.5" cy="120.6" r="0.7" fill="#777" fill-opacity="0.3"/>
<circle cx="103.7" cy="110.2" r="0.7" fill="#777" fill-opacity="0.3"/>
<circle cx="109.1" cy="109.7" r="0.7" fill="#777" fill-opacity="0.3"/>
<circle cx="97.3" cy="117.8" r="0.7" fill="#777" fill-opacity="0.3"/>
<circle cx="97.2" cy="120.2" r="0.7" fill="#777" fill-opacity="0.3"/>
<circle cx="64.6" cy="127.5" r="0.7" fill="#777" fill-opacity="0.3"/>
<circle cx="97.9" cy="117.6" r="0.7" fill="#777" fill-opacity="0.3"/>
<circle cx="85.8" cy="107.8" r="0.7" fill="#777" fill-opacity="0.3"/>
<circle cx="80.2" cy="129.0" r="0.7" fill="#777" fill-opacity="0.3"/>
<circle cx="92.9" cy="107.2" r="0.7" fill="#777" fill-opacity="0.3"/>
<circle cx="101.6" cy="135.9" r="0.7" fill="#777" fill-opacity="0.3"/>
<circle cx="102.3" cy="100.6" r="0.7" fill="#777" fill-opacity="0.3"/>
<circle cx="92.6" cy="118.9" r="0.7" fill="#777" fill-opacity="0.3"/>
<circle cx="96.5" cy="117.1" r="0.7" fill="#777" fill-opacity="0.3"/>
<circle cx="84.1" cy="134.0" r="0.7" fill="#777" fill-opacity="0.3"/>
<circle cx="88.1" cy="128.2" r="0.7" fill="#777" fill-opacity="0.3"/>
<circle cx="72.8" cy="125.8" r="0.7" fill="#777" fill-opacity="0.3"/>
<circle cx="71.0" cy="127.3" r="0.7" fill="#777" fill-opacity="0.3"/>
<circle cx="76.5" cy="126.1" r="0.7" fill="#777" fill-opacity="0.3"/>
<circle cx="104.7" cy="100.0" r="0.7" fill="#777" fill-opacity="0.3"/>
<circle cx="81.9" cy="125.1" r="0.7" fill="#777" fill-opacity="0.3"/>
<circle cx="104.5" cy="127.7" r="0.7" fill="#777" fill-opacity="0.3"/>
<circle cx="82.4" cy="122.9" r="0.7" fill="#777" fill-opacity="0.3"/>
<circle cx="84.6" cy="121.9" r="0.7" fill="#777" fill-opacity="0.3"/>
<circle cx="93.4" cy="103.3" r="0.7" fill="#777" fill-opacity="0.3"/>
<circle cx="96.6" cy="102.6" r="0.7" fill="#777" fill-opacity="0.3"/>
<circle cx="87.4" cy="120.5" r="0.7" fill="#777" fill-opacity="0.3"/>
<circle cx="89.6" cy="122.4" r="0.7" fill="#777" fill-opacity="0.3"/>
<circle cx="100.7" cy="131.4" r="0.7" fill="#777" fill-opacity="0.3"/>
<circle cx="86.9" cy="121.1" r="0.7" fill="#777" fill-opacity="0.3"/>
<circle cx="79.6" cy="128.4" r="0.7" fill="#777" fill-opacity="0.3"/>
<circle cx="97.5" cy="112.4" r="0.7" fill="#777" fill-opacity="0.3"/>
<circle cx="132.6" cy="112.0" r="0.7" fill="#777" fill-opacity="0.3"/>
<circle cx="101.1" cy="132.4" r="0.7" fill="#777" fill-opacity="0.3"/>
<circle cx="82.8" cy="87.1" r="0.7" fill="#777" fill-opacity="0.3"/>
<circle cx="61.2" cy="144.7" r="0.7" fill="#777" fill-opacity="0.3"/>
<circle cx="98.5" cy="113.3" r="0.7" fill="#777" fill-opacity="0.3"/>
<circle cx="112.7" cy="126.8" r="0.7" fill="#777" fill-opacity="0.3"/>
<circle cx="97.5" cy="104.8" r="0.7" fill="#777" fill-opacity="0.3"/>
<circle cx="94.9" cy="121.0" r="0.7" fill="#777" fill-opacity="0.3"/>
<circle cx="101.2" cy="113.3" r="0.7" fill="#777" fill-opacity="0.3"/>
<circle cx="96.7" cy="118.2" r="0.7" fill="#777" fill-opacity="0.3"/>
<circle cx="65.2" cy="142.9" r="0.7" fill="#777" fill-opacity="0.3"/>
<circle cx="87.4" cy="109.4" r="0.7" fill="#777" fill-opacity="0.3"/>
<circle cx="80.8" cy="127.3" r="0.7" fill="#777" fill-opacity="0.3"/>
<circle cx="96.5" cy="109.0" r="0.7" fill="#777" fill-opacity="0.3"/>
<circle cx="90.5" cy="88.8" r="0.7" fill="#777" fill-opacity="0.3"/>
<circle cx="93.8" cy="141.1" r="0.7" fill="#777" fill-opacity="0.3"/>
<circle cx="89.4" cy="96.5" r="0.7" fill="#777" fill-opacity="0.3"/>
<circle cx="95.2" cy="100.8" r="0.7" fill="#777" fill-opacity="0.3"/>
<circle cx="88.5" cy="129.2" r="0.7" fill="#777" fill-opacity="0.3"/>
<circle cx="107.1" cy="113.5" r="0.7" fill="#777" fill-opacity="0.3"/>
<circle cx="77.0" cy="144.8" r="0.7" fill="#777" fill-opacity="0.3"/>
<circle cx="105.1" cy="75.1" r="0.7" fill="#777" fill-opacity="0.3"/>
<circle cx="87.9" cy="130.1" r="0.7" fill="#777" fill-opacity="0.3"/>
<circle cx="98.4" cy="119.8" r="0.7" fill="#777" fill-opacity="0.3"/>
<circle cx="105.9" cy="102.8" r="0.7" fill="#777" fill-opacity="0.3"/>
<circle cx="68.9" cy="120.2" r="0.7" fill="#777" fill-opacity="0.3"/>
<circle cx="82.3" cy="122.2" r="0.7" fill="#777" fill-opacity="0.3"/>
<circle cx="92.6" cy="119.5" r="0.7" fill="#777" fill-opacity="0.3"/>
<circle cx="99.1" cy="118.3" r="0.7" fill="#777" fill-opacity="0.3"/>
<circle cx="85.2" cy="153.8" r="0.7" fill="#777" fill-opacity="0.3"/>
<circle cx="81.5" cy="136.9" r="0.7" fill="#777" fill-opacity="0.3"/>
<circle cx="89.8" cy="117.0" r="0.7" fill="#777" fill-opacity="0.3"/>
<circle cx="96.0" cy="109.9" r="0.7" fill="#777" fill-opacity="0.3"/>
<circle cx="86.5" cy="131.2" r="0.7" fill="#777" fill-opacity="0.3"/>
<circle cx="67.6" cy="142.4" r="0.7" fill="#777" fill-opacity="0.3"/>
<circle cx="92.2" cy="107.8" r="0.7" fill="#777" fill-opacity="0.3"/>
<circle cx="90.4" cy="119.7" r="0.7" fill="#777" fill-opacity="0.3"/>
<circle cx="101.0" cy="106.3" r="0.7" fill="#777" fill-opacity="0.3"/>
<circle cx="94.7" cy="104.6" r="0.7" fill="#777" fill-opacity="0.3"/>
<circle cx="83.7" cy="105.4" r="0.7" fill="#777" fill-opacity="0.3"/>
<circle cx="86.5" cy="126.2" r="0.7" fill="#777" fill-opacity="0.3"/>
<circle cx="87.0" cy="132.0" r="0.7" fill="#777" fill-opacity="0.3"/>
<circle cx="95.7" cy="86.9" r="0.7" fill="#777" fill-opacity="0.3"/>
<circle cx="86.7" cy="112.8" r="0.7" fill="#777" fill-opacity="0.3"/>
<circle cx="98.1" cy="98.0" r="0.7" fill="#777" fill-opacity="0.3"/>
<circle cx="113.1" cy="112.4" r="0.7" fill="#777" fill-opacity="0.3"/>
<circle cx="80.0" cy="121.2" r="0.7" fill="#777" fill-opacity="0.3"/>
<circle cx="106.1" cy="100.0" r="0.7" fill="#777" fill-opacity="0.3"/>
<circle cx="83.3" cy="129.4" r="0.7" fill="#777" fill-opacity="0.3"/>
<line x1="67.20" y1="51.50" x2="67.20" y2="182.00" stroke="#333" stroke-width="0.85" stroke-dasharray="1.6,1.3"/>
<line x1="25.50" y1="140.70" x2="156.50" y2="140.70" stroke="#333" stroke-width="0.85" stroke-dasharray="1.6,1.3"/>
<line x1="114.60" y1="51.50" x2="114.60" y2="182.00" stroke="#333" stroke-width="0.85" stroke-dasharray="1.6,1.3"/>
<line x1="25.50" y1="93.40" x2="156.50" y2="93.40" stroke="#333" stroke-width="0.85" stroke-dasharray="1.6,1.3"/>
<line x1="90.50" y1="51.50" x2="90.50" y2="182.00" stroke="#a8a8a8" stroke-width="1.6"/>
<line x1="25.50" y1="117.10" x2="156.50" y2="117.10" stroke="#555" stroke-width="1.4"/>
<path d="M91.10,108.40 L93.00,106.90 L94.10,104.70 L94.90,102.50 L97.10,103.20 L99.00,101.30 L100.10,102.50 L102.30,101.70 L103.80,103.20 L105.70,104.70 L104.60,105.80 L102.30,106.60 L101.60,108.10 L100.10,108.80 L97.80,110.70 L94.90,109.60 L92.60,109.20 Z" fill="#f7955b" filter="url(#bl3)"/>
<circle cx="96.9" cy="104.2" r="0.9" fill="#f7955b"/>
<circle cx="102.1" cy="104.6" r="0.9" fill="#f7955b"/>
<circle cx="98.5" cy="109.1" r="0.9" fill="#f7955b"/>
<circle cx="101.3" cy="106.1" r="0.9" fill="#f7955b"/>
<circle cx="97.0" cy="106.3" r="0.9" fill="#f7955b"/>
<circle cx="102.4" cy="106.6" r="0.9" fill="#f7955b"/>
<circle cx="101.5" cy="105.8" r="0.9" fill="#f7955b"/>
<circle cx="99.7" cy="105.3" r="0.9" fill="#f7955b"/>
<circle cx="99.5" cy="107.7" r="0.9" fill="#f7955b"/>
<circle cx="95.1" cy="105.5" r="0.9" fill="#f7955b"/>
<circle cx="99.1" cy="104.7" r="0.9" fill="#f7955b"/>
<circle cx="97.8" cy="106.9" r="0.9" fill="#f7955b"/>
<circle cx="103.3" cy="106.6" r="0.9" fill="#f7955b"/>
<circle cx="99.3" cy="103.1" r="0.9" fill="#f7955b"/>
<circle cx="103.1" cy="105.7" r="0.9" fill="#f7955b"/>
<circle cx="98.4" cy="103.8" r="0.9" fill="#f7955b"/>
<circle cx="98.4" cy="103.8" r="0.9" fill="#f7955b"/>
<circle cx="98.7" cy="106.3" r="0.9" fill="#f7955b"/>
<circle cx="98.6" cy="106.0" r="0.9" fill="#f7955b"/>
<circle cx="96.5" cy="107.9" r="0.9" fill="#f7955b"/>
<circle cx="96.9" cy="102.7" r="0.9" fill="#f7955b"/>
<circle cx="98.0" cy="104.4" r="0.9" fill="#f7955b"/>
<circle cx="96.1" cy="105.0" r="0.9" fill="#f7955b"/>
<circle cx="99.2" cy="103.7" r="0.9" fill="#f7955b"/>
<circle cx="98.2" cy="107.9" r="0.9" fill="#f7955b"/>
<path d="M74.70,134.60 L76.20,131.60 L78.10,129.30 L78.40,124.90 L82.20,124.10 L84.40,124.50 L86.60,123.40 L88.90,123.70 L90.40,124.90 L92.60,125.60 L93.00,127.50 L91.50,128.20 L90.70,130.10 L88.90,130.80 L88.10,132.30 L85.90,132.70 L84.40,134.20 L82.20,135.30 L80.70,136.40 L76.90,135.70 Z" fill="#e0405e" filter="url(#bl3)"/>
<circle cx="86.2" cy="128.3" r="0.9" fill="#e0405e"/>
<circle cx="83.5" cy="130.9" r="0.9" fill="#e0405e"/>
<circle cx="80.1" cy="129.7" r="0.9" fill="#e0405e"/>
<circle cx="81.9" cy="130.4" r="0.9" fill="#e0405e"/>
<circle cx="87.8" cy="127.5" r="0.9" fill="#e0405e"/>
<circle cx="77.9" cy="128.0" r="0.9" fill="#e0405e"/>
<circle cx="78.0" cy="132.4" r="0.9" fill="#e0405e"/>
<circle cx="75.2" cy="134.4" r="0.9" fill="#e0405e"/>
<circle cx="80.7" cy="131.7" r="0.9" fill="#e0405e"/>
<circle cx="91.7" cy="128.3" r="0.9" fill="#e0405e"/>
<circle cx="84.8" cy="132.1" r="0.9" fill="#e0405e"/>
<circle cx="88.5" cy="127.2" r="0.9" fill="#e0405e"/>
<circle cx="85.1" cy="128.1" r="0.9" fill="#e0405e"/>
<circle cx="78.6" cy="129.8" r="0.9" fill="#e0405e"/>
<circle cx="89.1" cy="125.0" r="0.9" fill="#e0405e"/>
<circle cx="90.2" cy="123.5" r="0.9" fill="#e0405e"/>
<circle cx="91.7" cy="128.9" r="0.9" fill="#e0405e"/>
<circle cx="80.5" cy="132.8" r="0.9" fill="#e0405e"/>
<circle cx="85.0" cy="130.8" r="0.9" fill="#e0405e"/>
<circle cx="76.9" cy="130.4" r="0.9" fill="#e0405e"/>
<circle cx="81.1" cy="131.3" r="0.9" fill="#e0405e"/>
<circle cx="85.0" cy="127.9" r="0.9" fill="#e0405e"/>
<circle cx="83.9" cy="131.6" r="0.9" fill="#e0405e"/>
<circle cx="83.9" cy="131.8" r="0.9" fill="#e0405e"/>
<circle cx="82.9" cy="132.6" r="0.9" fill="#e0405e"/>
<circle cx="84.3" cy="128.3" r="0.9" fill="#e0405e"/>
<circle cx="87.8" cy="124.8" r="0.9" fill="#e0405e"/>
<circle cx="85.0" cy="130.1" r="0.9" fill="#e0405e"/>
<circle cx="81.4" cy="131.4" r="0.9" fill="#e0405e"/>
<circle cx="83.2" cy="129.3" r="0.9" fill="#e0405e"/>
<circle cx="86.4" cy="128.4" r="0.9" fill="#e0405e"/>
<circle cx="76.1" cy="135.3" r="0.9" fill="#e0405e"/>
<circle cx="77.9" cy="134.0" r="0.9" fill="#e0405e"/>
<circle cx="86.1" cy="129.7" r="0.9" fill="#e0405e"/>
<circle cx="87.0" cy="129.6" r="0.9" fill="#e0405e"/>
<circle cx="85.8" cy="126.3" r="0.9" fill="#e0405e"/>
<circle cx="89.2" cy="129.7" r="0.9" fill="#e0405e"/>
<circle cx="86.1" cy="125.0" r="0.9" fill="#e0405e"/>
<circle cx="80.7" cy="129.6" r="0.9" fill="#e0405e"/>
<circle cx="86.5" cy="127.8" r="0.9" fill="#e0405e"/>
<circle cx="112.4" cy="94.3" r="1.0" fill="#f7955b"/>
<circle cx="108.3" cy="98.6" r="1.0" fill="#f7955b"/>
<circle cx="72.3" cy="133.6" r="1.0" fill="#e0405e"/>
<circle cx="85.2" cy="141.0" r="1.0" fill="#e0405e"/>
<circle cx="92.4" cy="127.2" r="1.0" fill="#e0405e"/>
<line x1="25.50" y1="182.00" x2="156.50" y2="50.96" stroke="#000" stroke-width="0.85"/>
<circle cx="69.1" cy="127.8" r="1.15" fill="#3a1d8a"/>
<circle cx="74.6" cy="128.9" r="1.15" fill="#3a1d8a"/>
<circle cx="73.8" cy="132.0" r="1.15" fill="#3a1d8a"/>
<circle cx="70.5" cy="140.7" r="1.15" fill="#3a1d8a"/>
<circle cx="55.0" cy="152.0" r="1.15" fill="#3a1d8a"/>
<circle cx="72.9" cy="132.6" r="1.15" fill="#3a1d8a"/>
<circle cx="106.2" cy="101.2" r="1.15" fill="#8b2c9c"/>
<circle cx="116.9" cy="92.8" r="1.15" fill="#8b2c9c"/>
<circle cx="123.8" cy="81.0" r="1.15" fill="#8b2c9c"/>
<line x1="25.50" y1="51.50" x2="25.50" y2="182.35" stroke="#444" stroke-width="0.85"/>
<line x1="25.10" y1="182.00" x2="156.50" y2="182.00" stroke="#444" stroke-width="0.85"/>
<line x1="23.10" y1="69.70" x2="25.50" y2="69.70" stroke="#444" stroke-width="0.7"/>
<text x="20.30" y="72.00" font-size="6.4" text-anchor="end" fill="#333">2</text>
<line x1="23.10" y1="93.40" x2="25.50" y2="93.40" stroke="#444" stroke-width="0.7"/>
<text x="20.30" y="95.70" font-size="6.4" text-anchor="end" fill="#333">1</text>
<line x1="23.10" y1="117.10" x2="25.50" y2="117.10" stroke="#444" stroke-width="0.7"/>
<text x="20.30" y="119.40" font-size="6.4" text-anchor="end" fill="#333">0</text>
<line x1="23.10" y1="140.80" x2="25.50" y2="140.80" stroke="#444" stroke-width="0.7"/>
<line x1="15.00" y1="140.90" x2="17.30" y2="140.90" stroke="#333" stroke-width="0.55"/>
<text x="20.30" y="143.10" font-size="6.4" text-anchor="end" fill="#333">1</text>
<line x1="23.10" y1="164.50" x2="25.50" y2="164.50" stroke="#444" stroke-width="0.7"/>
<line x1="15.00" y1="164.60" x2="17.30" y2="164.60" stroke="#333" stroke-width="0.55"/>
<text x="20.30" y="166.80" font-size="6.4" text-anchor="end" fill="#333">2</text>
<line x1="43.20" y1="182.00" x2="43.20" y2="184.40" stroke="#444" stroke-width="0.7"/>
<text x="44.70" y="192.40" font-size="6.4" text-anchor="middle" fill="#333">2</text>
<line x1="40.40" y1="190.10" x2="42.60" y2="190.10" stroke="#333" stroke-width="0.55"/>
<line x1="66.85" y1="182.00" x2="66.85" y2="184.40" stroke="#444" stroke-width="0.7"/>
<text x="68.35" y="192.40" font-size="6.4" text-anchor="middle" fill="#333">1</text>
<line x1="64.05" y1="190.10" x2="66.25" y2="190.10" stroke="#333" stroke-width="0.55"/>
<line x1="90.50" y1="182.00" x2="90.50" y2="184.40" stroke="#444" stroke-width="0.7"/>
<text x="90.50" y="192.40" font-size="6.4" text-anchor="middle" fill="#333">0</text>
<line x1="114.15" y1="182.00" x2="114.15" y2="184.40" stroke="#444" stroke-width="0.7"/>
<text x="114.15" y="192.40" font-size="6.4" text-anchor="middle" fill="#333">1</text>
<line x1="137.80" y1="182.00" x2="137.80" y2="184.40" stroke="#444" stroke-width="0.7"/>
<text x="137.80" y="192.40" font-size="6.4" text-anchor="middle" fill="#333">2</text>
<text x="43.6" y="202.8" font-size="7.6" fill="#222" textLength="94.4" lengthAdjust="spacingAndGlyphs">Total RNA log<tspan font-size="4.6" dy="1.6">2</tspan><tspan dy="-1.6">(fold change)</tspan></text>
<text x="8.4" y="156" font-size="7.6" fill="#222" textLength="78" lengthAdjust="spacingAndGlyphs" transform="rotate(-90 8.4 156)">RPFs log<tspan font-size="4.6" dy="1.6">2</tspan><tspan dy="-1.6">(fold change)</tspan></text>
<text x="168.40" y="97.60" font-size="7.5" textLength="36.10" lengthAdjust="spacingAndGlyphs">Regulation</text>
<text x="168.40" y="105.90" font-size="7.5" textLength="19.40" lengthAdjust="spacingAndGlyphs">group</text>
<circle cx="164.6" cy="113.50" r="1.1" fill="#3a1d8a"/>
<text x="168.40" y="115.70" font-size="6.3" textLength="30.00" lengthAdjust="spacingAndGlyphs">Both down</text>
<text x="201.40" y="115.70" font-size="6.3">8</text>
<circle cx="164.6" cy="120.25" r="1.1" fill="#8b2c9c"/>
<text x="168.40" y="122.45" font-size="6.3" textLength="22.00" lengthAdjust="spacingAndGlyphs">Both up</text>
<text x="201.40" y="122.45" font-size="6.3">3</text>
<circle cx="164.6" cy="127.00" r="1.1" fill="#e0405e"/>
<text x="168.40" y="129.20" font-size="6.3" textLength="30.70" lengthAdjust="spacingAndGlyphs">RPFs down</text>
<text x="201.40" y="129.20" font-size="6.3">239</text>
<circle cx="164.6" cy="133.75" r="1.1" fill="#f7955b"/>
<text x="168.40" y="135.95" font-size="6.3" textLength="24.50" lengthAdjust="spacingAndGlyphs">RPFs up</text>
<text x="201.40" y="135.95" font-size="6.3">43</text>
<circle cx="164.6" cy="140.50" r="1.1" fill="#555"/>
<text x="168.40" y="142.70" font-size="6.3" textLength="9.00" lengthAdjust="spacingAndGlyphs">NA</text>
<text x="201.40" y="142.70" font-size="6.3">9,968</text>
<text x="234.00" y="10.10" font-size="13.5" fill="#000" font-weight="bold" stroke="#000" stroke-width="0.45">b</text>
<line x1="239.92" y1="22.50" x2="239.92" y2="146.40" stroke="#ebebeb" stroke-width="0.5"/>
<line x1="248.32" y1="22.50" x2="248.32" y2="146.40" stroke="#ebebeb" stroke-width="0.5"/>
<line x1="256.73" y1="22.50" x2="256.73" y2="146.40" stroke="#ebebeb" stroke-width="0.5"/>
<line x1="265.12" y1="22.50" x2="265.12" y2="146.40" stroke="#ebebeb" stroke-width="0.5"/>
<line x1="273.53" y1="22.50" x2="273.53" y2="146.40" stroke="#ebebeb" stroke-width="0.5"/>
<line x1="281.93" y1="22.50" x2="281.93" y2="146.40" stroke="#ebebeb" stroke-width="0.5"/>
<line x1="290.33" y1="22.50" x2="290.33" y2="146.40" stroke="#ebebeb" stroke-width="0.5"/>
<line x1="298.73" y1="22.50" x2="298.73" y2="146.40" stroke="#ebebeb" stroke-width="0.5"/>
<line x1="307.12" y1="22.50" x2="307.12" y2="146.40" stroke="#ebebeb" stroke-width="0.5"/>
<line x1="315.53" y1="22.50" x2="315.53" y2="146.40" stroke="#ebebeb" stroke-width="0.5"/>
<line x1="323.93" y1="22.50" x2="323.93" y2="146.40" stroke="#ebebeb" stroke-width="0.5"/>
<line x1="332.33" y1="22.50" x2="332.33" y2="146.40" stroke="#ebebeb" stroke-width="0.5"/>
<line x1="340.73" y1="22.50" x2="340.73" y2="146.40" stroke="#ebebeb" stroke-width="0.5"/>
<line x1="349.12" y1="22.50" x2="349.12" y2="146.40" stroke="#ebebeb" stroke-width="0.5"/>
<line x1="357.53" y1="22.50" x2="357.53" y2="146.40" stroke="#ebebeb" stroke-width="0.5"/>
<line x1="365.93" y1="22.50" x2="365.93" y2="146.40" stroke="#ebebeb" stroke-width="0.5"/>
<line x1="374.33" y1="22.50" x2="374.33" y2="146.40" stroke="#ebebeb" stroke-width="0.5"/>
<line x1="382.73" y1="22.50" x2="382.73" y2="146.40" stroke="#ebebeb" stroke-width="0.5"/>
<line x1="391.12" y1="22.50" x2="391.12" y2="146.40" stroke="#ebebeb" stroke-width="0.5"/>
<line x1="399.52" y1="22.50" x2="399.52" y2="146.40" stroke="#ebebeb" stroke-width="0.5"/>
<line x1="407.93" y1="22.50" x2="407.93" y2="146.40" stroke="#ebebeb" stroke-width="0.5"/>
<line x1="416.33" y1="22.50" x2="416.33" y2="146.40" stroke="#ebebeb" stroke-width="0.5"/>
<line x1="424.73" y1="22.50" x2="424.73" y2="146.40" stroke="#ebebeb" stroke-width="0.5"/>
<line x1="433.12" y1="22.50" x2="433.12" y2="146.40" stroke="#ebebeb" stroke-width="0.5"/>
<line x1="235.00" y1="145.80" x2="438.60" y2="145.80" stroke="#e6e6e6" stroke-width="0.5"/>
<line x1="235.00" y1="131.20" x2="438.60" y2="131.20" stroke="#ebebeb" stroke-width="0.5"/>
<line x1="235.00" y1="116.60" x2="438.60" y2="116.60" stroke="#e6e6e6" stroke-width="0.5"/>
<line x1="235.00" y1="102.00" x2="438.60" y2="102.00" stroke="#ebebeb" stroke-width="0.5"/>
<line x1="235.00" y1="87.40" x2="438.60" y2="87.40" stroke="#e6e6e6" stroke-width="0.5"/>
<line x1="235.00" y1="72.80" x2="438.60" y2="72.80" stroke="#ebebeb" stroke-width="0.5"/>
<line x1="235.00" y1="58.20" x2="438.60" y2="58.20" stroke="#e6e6e6" stroke-width="0.5"/>
<line x1="235.00" y1="43.60" x2="438.60" y2="43.60" stroke="#ebebeb" stroke-width="0.5"/>
<line x1="235.00" y1="29.00" x2="438.60" y2="29.00" stroke="#e6e6e6" stroke-width="0.5"/>
<rect x="236.20" y="27.54" width="7.45" height="59.86" fill="#16304a"/>
<rect x="244.60" y="29.88" width="7.45" height="57.52" fill="#152f48"/>
<rect x="253.00" y="30.75" width="7.45" height="56.65" fill="#152f48"/>
<rect x="261.40" y="31.63" width="7.45" height="55.77" fill="#152f48"/>
<rect x="269.80" y="32.50" width="7.45" height="54.90" fill="#152f48"/>
<rect x="278.20" y="45.35" width="7.45" height="42.05" fill="#234b6e"/>
<rect x="286.60" y="46.52" width="7.45" height="40.88" fill="#3b7baf"/>
<rect x="295.00" y="87.40" width="7.45" height="41.90" fill="#3d7eb3"/>
<rect x="303.40" y="87.40" width="7.45" height="42.63" fill="#56b1f7"/>
<rect x="311.80" y="87.40" width="7.45" height="43.51" fill="#316794"/>
<rect x="320.20" y="87.40" width="7.45" height="43.51" fill="#346e9d"/>
<rect x="328.60" y="87.40" width="7.45" height="44.68" fill="#2e618b"/>
<rect x="337.00" y="87.40" width="7.45" height="44.68" fill="#3f83ba"/>
<rect x="345.40" y="87.40" width="7.45" height="44.68" fill="#2c5e87"/>
<rect x="353.80" y="87.40" width="7.45" height="45.55" fill="#3b7baf"/>
<rect x="362.20" y="87.40" width="7.45" height="46.43" fill="#2f638f"/>
<rect x="370.60" y="87.40" width="7.45" height="48.47" fill="#204667"/>
<rect x="379.00" y="87.40" width="7.45" height="48.76" fill="#22486b"/>
<rect x="387.40" y="87.40" width="7.45" height="49.06" fill="#1b3b59"/>
<rect x="395.80" y="87.40" width="7.45" height="49.64" fill="#244e72"/>
<rect x="404.20" y="87.40" width="7.45" height="50.52" fill="#1b3b59"/>
<rect x="412.60" y="87.40" width="7.45" height="54.31" fill="#142e47"/>
<rect x="421.00" y="87.40" width="7.45" height="55.48" fill="#16324c"/>
<rect x="429.40" y="87.40" width="7.45" height="57.52" fill="#132b43"/>
<text x="242.12" y="152.80" font-size="6.4" text-anchor="end" fill="#333" transform="rotate(-90 242.12 152.80)">Fatty acid metabolism</text>
<text x="250.52" y="152.80" font-size="6.4" text-anchor="end" fill="#333" transform="rotate(-90 250.52 152.80)">E2F targets</text>
<text x="258.93" y="152.80" font-size="6.4" text-anchor="end" fill="#333" transform="rotate(-90 258.93 152.80)">G2M checkpoint</text>
<text x="267.32" y="152.80" font-size="6.4" text-anchor="end" fill="#333" transform="rotate(-90 267.32 152.80)">MYC targets V1</text>
<text x="275.73" y="152.80" font-size="6.4" text-anchor="end" fill="#333" transform="rotate(-90 275.73 152.80)">Oxidative phosphorylation</text>
<text x="284.12" y="152.80" font-size="6.4" text-anchor="end" fill="#333" transform="rotate(-90 284.12 152.80)">Mitotic spindle</text>
<text x="292.53" y="152.80" font-size="6.4" text-anchor="end" fill="#333" transform="rotate(-90 292.53 152.80)">DNA repair</text>
<text x="300.93" y="152.80" font-size="6.4" text-anchor="end" fill="#333" transform="rotate(-90 300.93 152.80)">Estrogen response early</text>
<text x="309.32" y="152.80" font-size="6.4" text-anchor="end" fill="#333" transform="rotate(-90 309.32 152.80)">WNT beta catenin signaling</text>
<text x="317.73" y="152.80" font-size="6.4" text-anchor="end" fill="#333" transform="rotate(-90 317.73 152.80)">Apical junction</text>
<text x="326.12" y="152.80" font-size="6.4" text-anchor="end" fill="#333" transform="rotate(-90 326.12 152.80)">UV response Dn</text>
<text x="334.53" y="152.80" font-size="6.4" text-anchor="end" fill="#333" transform="rotate(-90 334.53 152.80)">Unfolded protein response</text>
<text x="342.93" y="152.80" font-size="6.4" text-anchor="end" fill="#333" transform="rotate(-90 342.93 152.80)">NOTCH signaling</text>
<text x="351.32" y="152.80" font-size="6.4" text-anchor="end" fill="#333" transform="rotate(-90 351.32 152.80)">KRAS signaling up</text>
<text x="359.73" y="152.80" font-size="6.4" text-anchor="end" fill="#333" transform="rotate(-90 359.73 152.80)">Hedgehog signaling</text>
<text x="368.12" y="152.80" font-size="6.4" text-anchor="end" fill="#333" transform="rotate(-90 368.12 152.80)">IL-6 JAK STAT3 signaling</text>
<text x="376.53" y="152.80" font-size="6.4" text-anchor="end" fill="#333" transform="rotate(-90 376.53 152.80)">Interferon alpha response</text>
<text x="384.93" y="152.80" font-size="6.4" text-anchor="end" fill="#333" transform="rotate(-90 384.93 152.80)">Angiogenesis</text>
<text x="393.32" y="152.80" font-size="6.4" text-anchor="end" fill="#333" transform="rotate(-90 393.32 152.80)">Protein secretion</text>
<text x="401.72" y="152.80" font-size="6.4" text-anchor="end" fill="#333" transform="rotate(-90 401.72 152.80)">Apical surface</text>
<text x="410.12" y="152.80" font-size="6.4" text-anchor="end" fill="#333" transform="rotate(-90 410.12 152.80)">Allograft rejection</text>
<text x="418.53" y="152.80" font-size="6.4" text-anchor="end" fill="#333" transform="rotate(-90 418.53 152.80)">Epithelial mesenchymal transition</text>
<text x="426.93" y="152.80" font-size="6.4" text-anchor="end" fill="#333" transform="rotate(-90 426.93 152.80)">Coagulation</text>
<text x="435.32" y="152.80" font-size="6.4" text-anchor="end" fill="#333" transform="rotate(-90 435.32 152.80)">Inflammatory response</text>
<text x="440.60" y="31.20" font-size="6.4" fill="#333">2</text>
<text x="440.60" y="60.40" font-size="6.4" fill="#333">1</text>
<text x="440.60" y="89.60" font-size="6.4" fill="#333">0</text>
<text x="439.60" y="118.80" font-size="6.4" fill="#333">-1</text>
<text x="439.60" y="148.00" font-size="6.4" fill="#333">-2</text>
<text x="450.80" y="87.40" font-size="7.0" text-anchor="middle" fill="#333" textLength="13.60" lengthAdjust="spacingAndGlyphs" transform="rotate(90 450.80 87.40)">NES</text>
<text x="347.50" y="10.30" font-size="7.2" text-anchor="middle" textLength="15.80" lengthAdjust="spacingAndGlyphs">RPFs</text>
<text x="349.00" y="19.20" font-size="7.3" text-anchor="middle" textLength="85.60" lengthAdjust="spacingAndGlyphs">GSEA Hallmark gene sets</text>
<defs><linearGradient id="gb" x1="0" y1="1" x2="0" y2="0"><stop offset="0" stop-color="#132B43"/><stop offset="1" stop-color="#56B1F7"/></linearGradient></defs>
<rect x="462.10" y="104.20" width="7.80" height="40.10" fill="url(#gb)"/>
<text x="462.50" y="100.00" font-size="7" font-style="italic" fill="#222">P<tspan font-size="4.5" font-style="normal" dy="2.2">adj</tspan></text>
<line x1="462.10" y1="112.40" x2="463.60" y2="112.40" stroke="#fff" stroke-width="0.5"/>
<line x1="468.40" y1="112.40" x2="469.90" y2="112.40" stroke="#fff" stroke-width="0.5"/>
<text x="472.10" y="114.50" font-size="5.8" fill="#333">0.075</text>
<line x1="462.10" y1="122.90" x2="463.60" y2="122.90" stroke="#fff" stroke-width="0.5"/>
<line x1="468.40" y1="122.90" x2="469.90" y2="122.90" stroke="#fff" stroke-width="0.5"/>
<text x="472.10" y="125.00" font-size="5.8" fill="#333">0.050</text>
<line x1="462.10" y1="133.50" x2="463.60" y2="133.50" stroke="#fff" stroke-width="0.5"/>
<line x1="468.40" y1="133.50" x2="469.90" y2="133.50" stroke="#fff" stroke-width="0.5"/>
<text x="472.10" y="135.60" font-size="5.8" fill="#333">0.025</text>
<text x="500.80" y="10.10" font-size="13.5" fill="#000" font-weight="bold" stroke="#000" stroke-width="0.45">c</text>
<line x1="510.65" y1="22.50" x2="510.65" y2="146.40" stroke="#ebebeb" stroke-width="0.5"/>
<line x1="518.50" y1="22.50" x2="518.50" y2="146.40" stroke="#ebebeb" stroke-width="0.5"/>
<line x1="526.35" y1="22.50" x2="526.35" y2="146.40" stroke="#ebebeb" stroke-width="0.5"/>
<line x1="534.20" y1="22.50" x2="534.20" y2="146.40" stroke="#ebebeb" stroke-width="0.5"/>
<line x1="542.05" y1="22.50" x2="542.05" y2="146.40" stroke="#ebebeb" stroke-width="0.5"/>
<line x1="549.90" y1="22.50" x2="549.90" y2="146.40" stroke="#ebebeb" stroke-width="0.5"/>
<line x1="557.75" y1="22.50" x2="557.75" y2="146.40" stroke="#ebebeb" stroke-width="0.5"/>
<line x1="565.60" y1="22.50" x2="565.60" y2="146.40" stroke="#ebebeb" stroke-width="0.5"/>
<line x1="573.45" y1="22.50" x2="573.45" y2="146.40" stroke="#ebebeb" stroke-width="0.5"/>
<line x1="581.30" y1="22.50" x2="581.30" y2="146.40" stroke="#ebebeb" stroke-width="0.5"/>
<line x1="589.15" y1="22.50" x2="589.15" y2="146.40" stroke="#ebebeb" stroke-width="0.5"/>
<line x1="506.20" y1="145.70" x2="594.00" y2="145.70" stroke="#e6e6e6" stroke-width="0.5"/>
<line x1="506.20" y1="131.10" x2="594.00" y2="131.10" stroke="#ebebeb" stroke-width="0.5"/>
<line x1="506.20" y1="116.50" x2="594.00" y2="116.50" stroke="#e6e6e6" stroke-width="0.5"/>
<line x1="506.20" y1="101.90" x2="594.00" y2="101.90" stroke="#ebebeb" stroke-width="0.5"/>
<line x1="506.20" y1="87.30" x2="594.00" y2="87.30" stroke="#e6e6e6" stroke-width="0.5"/>
<line x1="506.20" y1="72.70" x2="594.00" y2="72.70" stroke="#ebebeb" stroke-width="0.5"/>
<line x1="506.20" y1="58.10" x2="594.00" y2="58.10" stroke="#e6e6e6" stroke-width="0.5"/>
<line x1="506.20" y1="43.50" x2="594.00" y2="43.50" stroke="#ebebeb" stroke-width="0.5"/>
<line x1="506.20" y1="28.90" x2="594.00" y2="28.90" stroke="#e6e6e6" stroke-width="0.5"/>
<rect x="507.20" y="31.82" width="6.90" height="55.48" fill="#16324c"/>
<rect x="515.05" y="32.11" width="6.90" height="55.19" fill="#16324c"/>
<rect x="522.90" y="39.12" width="6.90" height="48.18" fill="#29577e"/>
<rect x="530.75" y="40.00" width="6.90" height="47.30" fill="#254f74"/>
<rect x="538.60" y="40.29" width="6.90" height="47.01" fill="#56b1f7"/>
<rect x="546.45" y="87.30" width="6.90" height="47.30" fill="#56b1f7"/>
<rect x="554.30" y="87.30" width="6.90" height="50.52" fill="#16324c"/>
<rect x="562.15" y="87.30" width="6.90" height="51.10" fill="#346e9d"/>
<rect x="570.00" y="87.30" width="6.90" height="52.85" fill="#16324c"/>
<rect x="577.85" y="87.30" width="6.90" height="55.48" fill="#16304a"/>
<rect x="585.70" y="87.30" width="6.90" height="59.86" fill="#152f48"/>
<text x="512.85" y="152.00" font-size="6.4" text-anchor="end" fill="#333" transform="rotate(-90 512.85 152.00)">Bile acid metabolism</text>
<text x="520.70" y="152.00" font-size="6.4" text-anchor="end" fill="#333" transform="rotate(-90 520.70 152.00)">Xenobiotic metabolism</text>
<text x="528.55" y="152.00" font-size="6.4" text-anchor="end" fill="#333" transform="rotate(-90 528.55 152.00)">Fatty acid metabolism</text>
<text x="536.40" y="152.00" font-size="6.4" text-anchor="end" fill="#333" transform="rotate(-90 536.40 152.00)">Oxidative phosphorylation</text>
<text x="544.25" y="152.00" font-size="6.4" text-anchor="end" fill="#333" transform="rotate(-90 544.25 152.00)">Peroxisome</text>
<text x="552.10" y="152.00" font-size="6.4" text-anchor="end" fill="#333" transform="rotate(-90 552.10 152.00)">Unfolded protein response</text>
<text x="559.95" y="152.00" font-size="6.4" text-anchor="end" fill="#333" transform="rotate(-90 559.95 152.00)">E2F targets</text>
<text x="567.80" y="152.00" font-size="6.4" text-anchor="end" fill="#333" transform="rotate(-90 567.80 152.00)">Interferon alpha response</text>
<text x="575.65" y="152.00" font-size="6.4" text-anchor="end" fill="#333" transform="rotate(-90 575.65 152.00)">G2M checkpoint</text>
<text x="583.50" y="152.00" font-size="6.4" text-anchor="end" fill="#333" transform="rotate(-90 583.50 152.00)">MYC targets V1</text>
<text x="591.35" y="152.00" font-size="6.4" text-anchor="end" fill="#333" transform="rotate(-90 591.35 152.00)">MYC targets V2</text>
<text x="595.20" y="31.10" font-size="6.4" fill="#333">2</text>
<text x="595.20" y="60.30" font-size="6.4" fill="#333">1</text>
<text x="595.20" y="89.50" font-size="6.4" fill="#333">0</text>
<text x="594.20" y="118.70" font-size="6.4" fill="#333">-1</text>
<text x="594.20" y="147.90" font-size="6.4" fill="#333">-2</text>
<text x="604.70" y="87.30" font-size="7.0" text-anchor="middle" fill="#333" textLength="13.60" lengthAdjust="spacingAndGlyphs" transform="rotate(90 604.70 87.30)">NES</text>
<text x="549.90" y="10.30" font-size="7.2" text-anchor="middle" textLength="38.40" lengthAdjust="spacingAndGlyphs">Proteomics</text>
<text x="549.90" y="19.20" font-size="7.3" text-anchor="middle" textLength="85.60" lengthAdjust="spacingAndGlyphs">GSEA Hallmark gene sets</text>
<defs><linearGradient id="gc" x1="0" y1="1" x2="0" y2="0"><stop offset="0" stop-color="#132B43"/><stop offset="1" stop-color="#56B1F7"/></linearGradient></defs>
<rect x="617.60" y="103.00" width="8.80" height="40.10" fill="url(#gc)"/>
<text x="618.00" y="98.80" font-size="7" font-style="italic" fill="#222">P<tspan font-size="4.5" font-style="normal" dy="2.2">adj</tspan></text>
<line x1="617.60" y1="111.30" x2="619.10" y2="111.30" stroke="#fff" stroke-width="0.5"/>
<line x1="624.90" y1="111.30" x2="626.40" y2="111.30" stroke="#fff" stroke-width="0.5"/>
<text x="628.60" y="113.40" font-size="6.0" fill="#333">0.04</text>
<line x1="617.60" y1="119.30" x2="619.10" y2="119.30" stroke="#fff" stroke-width="0.5"/>
<line x1="624.90" y1="119.30" x2="626.40" y2="119.30" stroke="#fff" stroke-width="0.5"/>
<text x="628.60" y="121.40" font-size="6.0" fill="#333">0.03</text>
<line x1="617.60" y1="127.20" x2="619.10" y2="127.20" stroke="#fff" stroke-width="0.5"/>
<line x1="624.90" y1="127.20" x2="626.40" y2="127.20" stroke="#fff" stroke-width="0.5"/>
<text x="628.60" y="129.30" font-size="6.0" fill="#333">0.02</text>
<line x1="617.60" y1="135.40" x2="619.10" y2="135.40" stroke="#fff" stroke-width="0.5"/>
<line x1="624.90" y1="135.40" x2="626.40" y2="135.40" stroke="#fff" stroke-width="0.5"/>
<text x="628.60" y="137.50" font-size="6.0" fill="#333">0.01</text>
<text x="-0.30" y="256.60" font-size="13.5" fill="#000" font-weight="bold" stroke="#000" stroke-width="0.45">d</text>
<text x="76.80" y="260.60" font-size="7.2" text-anchor="middle" textLength="16.10" lengthAdjust="spacingAndGlyphs">RPFs</text>
<text x="207.20" y="260.60" font-size="7.2" text-anchor="middle" textLength="38.00" lengthAdjust="spacingAndGlyphs">Proteomics</text>
<text x="6.50" y="307.60" font-size="7.9" text-anchor="middle" textLength="45.40" lengthAdjust="spacingAndGlyphs" transform="rotate(-90 6.50 307.60)">E2F TARGETS</text>
<text x="6.50" y="394.10" font-size="7.9" text-anchor="middle" textLength="63.40" lengthAdjust="spacingAndGlyphs" transform="rotate(-90 6.50 394.10)">G2M CHECKPOINT</text>
<text x="6.50" y="483.30" font-size="7.9" text-anchor="middle" textLength="59.70" lengthAdjust="spacingAndGlyphs" transform="rotate(-90 6.50 483.30)">MYC TARGETS V1</text>
<line x1="30.30" y1="276.91" x2="30.30" y2="336.49" stroke="#f4f4f4" stroke-width="0.5"/>
<line x1="53.00" y1="276.91" x2="53.00" y2="336.49" stroke="#f4f4f4" stroke-width="0.5"/>
<line x1="75.70" y1="276.91" x2="75.70" y2="336.49" stroke="#f4f4f4" stroke-width="0.5"/>
<line x1="98.40" y1="276.91" x2="98.40" y2="336.49" stroke="#f4f4f4" stroke-width="0.5"/>
<line x1="121.10" y1="276.91" x2="121.10" y2="336.49" stroke="#f4f4f4" stroke-width="0.5"/>
<line x1="24.80" y1="331.50" x2="129.50" y2="331.50" stroke="#f4f4f4" stroke-width="0.5"/>
<line x1="24.80" y1="311.54" x2="129.50" y2="311.54" stroke="#f4f4f4" stroke-width="0.5"/>
<line x1="24.80" y1="291.58" x2="129.50" y2="291.58" stroke="#f4f4f4" stroke-width="0.5"/>
<line x1="24.80" y1="278.41" x2="129.50" y2="278.41" stroke="#f7c4c4" stroke-width="0.55"/>
<line x1="24.80" y1="335.49" x2="129.50" y2="335.49" stroke="#f7c4c4" stroke-width="0.55"/>
<line x1="30.41" y1="327.70" x2="30.41" y2="334.90" stroke="#000" stroke-width="0.5" stroke-opacity="0.46"/>
<line x1="30.60" y1="327.70" x2="30.60" y2="334.90" stroke="#000" stroke-width="0.5" stroke-opacity="0.35"/>
<line x1="30.73" y1="327.70" x2="30.73" y2="334.90" stroke="#000" stroke-width="0.5" stroke-opacity="0.28"/>
<line x1="30.96" y1="327.70" x2="30.96" y2="334.90" stroke="#000" stroke-width="0.5" stroke-opacity="0.16"/>
<line x1="30.98" y1="327.70" x2="30.98" y2="334.90" stroke="#000" stroke-width="0.5" stroke-opacity="0.13"/>
<line x1="31.44" y1="327.70" x2="31.44" y2="334.90" stroke="#000" stroke-width="0.5" stroke-opacity="0.49"/>
<line x1="31.64" y1="327.70" x2="31.64" y2="334.90" stroke="#000" stroke-width="0.5" stroke-opacity="0.21"/>
<line x1="31.68" y1="327.70" x2="31.68" y2="334.90" stroke="#000" stroke-width="0.5" stroke-opacity="0.39"/>
<line x1="32.50" y1="327.70" x2="32.50" y2="334.90" stroke="#000" stroke-width="0.5" stroke-opacity="0.22"/>
<line x1="33.59" y1="327.70" x2="33.59" y2="334.90" stroke="#000" stroke-width="0.5" stroke-opacity="0.43"/>
<line x1="33.68" y1="327.70" x2="33.68" y2="334.90" stroke="#000" stroke-width="0.5" stroke-opacity="0.35"/>
<line x1="33.99" y1="327.70" x2="33.99" y2="334.90" stroke="#000" stroke-width="0.5" stroke-opacity="0.23"/>
<line x1="34.02" y1="327.70" x2="34.02" y2="334.90" stroke="#000" stroke-width="0.5" stroke-opacity="0.19"/>
<line x1="34.14" y1="327.70" x2="34.14" y2="334.90" stroke="#000" stroke-width="0.5" stroke-opacity="0.39"/>
<line x1="34.37" y1="327.70" x2="34.37" y2="334.90" stroke="#000" stroke-width="0.5" stroke-opacity="0.15"/>
<line x1="34.57" y1="327.70" x2="34.57" y2="334.90" stroke="#000" stroke-width="0.5" stroke-opacity="0.21"/>
<line x1="34.77" y1="327.70" x2="34.77" y2="334.90" stroke="#000" stroke-width="0.5" stroke-opacity="0.33"/>
<line x1="34.88" y1="327.70" x2="34.88" y2="334.90" stroke="#000" stroke-width="0.5" stroke-opacity="0.44"/>
<line x1="35.05" y1="327.70" x2="35.05" y2="334.90" stroke="#000" stroke-width="0.5" stroke-opacity="0.35"/>
<line x1="35.34" y1="327.70" x2="35.34" y2="334.90" stroke="#000" stroke-width="0.5" stroke-opacity="0.23"/>
<line x1="36.06" y1="327.70" x2="36.06" y2="334.90" stroke="#000" stroke-width="0.5" stroke-opacity="0.47"/>
<line x1="36.18" y1="327.70" x2="36.18" y2="334.90" stroke="#000" stroke-width="0.5" stroke-opacity="0.20"/>
<line x1="37.01" y1="327.70" x2="37.01" y2="334.90" stroke="#000" stroke-width="0.5" stroke-opacity="0.13"/>
<line x1="37.31" y1="327.70" x2="37.31" y2="334.90" stroke="#000" stroke-width="0.5" stroke-opacity="0.22"/>
<line x1="37.43" y1="327.70" x2="37.43" y2="334.90" stroke="#000" stroke-width="0.5" stroke-opacity="0.29"/>
<line x1="37.57" y1="327.70" x2="37.57" y2="334.90" stroke="#000" stroke-width="0.5" stroke-opacity="0.14"/>
<line x1="38.16" y1="327.70" x2="38.16" y2="334.90" stroke="#000" stroke-width="0.5" stroke-opacity="0.19"/>
<line x1="38.76" y1="327.70" x2="38.76" y2="334.90" stroke="#000" stroke-width="0.5" stroke-opacity="0.26"/>
<line x1="38.97" y1="327.70" x2="38.97" y2="334.90" stroke="#000" stroke-width="0.5" stroke-opacity="0.34"/>
<line x1="39.02" y1="327.70" x2="39.02" y2="334.90" stroke="#000" stroke-width="0.5" stroke-opacity="0.17"/>
<line x1="39.30" y1="327.70" x2="39.30" y2="334.90" stroke="#000" stroke-width="0.5" stroke-opacity="0.26"/>
<line x1="39.58" y1="327.70" x2="39.58" y2="334.90" stroke="#000" stroke-width="0.5" stroke-opacity="0.46"/>
<line x1="39.92" y1="327.70" x2="39.92" y2="334.90" stroke="#000" stroke-width="0.5" stroke-opacity="0.49"/>
<line x1="41.11" y1="327.70" x2="41.11" y2="334.90" stroke="#000" stroke-width="0.5" stroke-opacity="0.37"/>
<line x1="41.75" y1="327.70" x2="41.75" y2="334.90" stroke="#000" stroke-width="0.5" stroke-opacity="0.38"/>
<line x1="42.15" y1="327.70" x2="42.15" y2="334.90" stroke="#000" stroke-width="0.5" stroke-opacity="0.34"/>
<line x1="42.40" y1="327.70" x2="42.40" y2="334.90" stroke="#000" stroke-width="0.5" stroke-opacity="0.17"/>
<line x1="42.49" y1="327.70" x2="42.49" y2="334.90" stroke="#000" stroke-width="0.5" stroke-opacity="0.13"/>
<line x1="42.95" y1="327.70" x2="42.95" y2="334.90" stroke="#000" stroke-width="0.5" stroke-opacity="0.13"/>
<line x1="43.12" y1="327.70" x2="43.12" y2="334.90" stroke="#000" stroke-width="0.5" stroke-opacity="0.47"/>
<line x1="43.34" y1="327.70" x2="43.34" y2="334.90" stroke="#000" stroke-width="0.5" stroke-opacity="0.39"/>
<line x1="43.86" y1="327.70" x2="43.86" y2="334.90" stroke="#000" stroke-width="0.5" stroke-opacity="0.49"/>
<line x1="44.21" y1="327.70" x2="44.21" y2="334.90" stroke="#000" stroke-width="0.5" stroke-opacity="0.13"/>
<line x1="45.28" y1="327.70" x2="45.28" y2="334.90" stroke="#000" stroke-width="0.5" stroke-opacity="0.36"/>
<line x1="45.50" y1="327.70" x2="45.50" y2="334.90" stroke="#000" stroke-width="0.5" stroke-opacity="0.30"/>
<line x1="45.56" y1="327.70" x2="45.56" y2="334.90" stroke="#000" stroke-width="0.5" stroke-opacity="0.40"/>
<line x1="46.36" y1="327.70" x2="46.36" y2="334.90" stroke="#000" stroke-width="0.5" stroke-opacity="0.24"/>
<line x1="46.70" y1="327.70" x2="46.70" y2="334.90" stroke="#000" stroke-width="0.5" stroke-opacity="0.50"/>
<line x1="46.83" y1="327.70" x2="46.83" y2="334.90" stroke="#000" stroke-width="0.5" stroke-opacity="0.15"/>
<line x1="46.95" y1="327.70" x2="46.95" y2="334.90" stroke="#000" stroke-width="0.5" stroke-opacity="0.33"/>
<line x1="47.55" y1="327.70" x2="47.55" y2="334.90" stroke="#000" stroke-width="0.5" stroke-opacity="0.40"/>
<line x1="47.93" y1="327.70" x2="47.93" y2="334.90" stroke="#000" stroke-width="0.5" stroke-opacity="0.46"/>
<line x1="50.14" y1="327.70" x2="50.14" y2="334.90" stroke="#000" stroke-width="0.5" stroke-opacity="0.40"/>
<line x1="50.35" y1="327.70" x2="50.35" y2="334.90" stroke="#000" stroke-width="0.5" stroke-opacity="0.39"/>
<line x1="50.80" y1="327.70" x2="50.80" y2="334.90" stroke="#000" stroke-width="0.5" stroke-opacity="0.42"/>
<line x1="51.70" y1="327.70" x2="51.70" y2="334.90" stroke="#000" stroke-width="0.5" stroke-opacity="0.47"/>
<line x1="52.71" y1="327.70" x2="52.71" y2="334.90" stroke="#000" stroke-width="0.5" stroke-opacity="0.25"/>
<line x1="52.87" y1="327.70" x2="52.87" y2="334.90" stroke="#000" stroke-width="0.5" stroke-opacity="0.38"/>
<line x1="53.12" y1="327.70" x2="53.12" y2="334.90" stroke="#000" stroke-width="0.5" stroke-opacity="0.46"/>
<line x1="53.49" y1="327.70" x2="53.49" y2="334.90" stroke="#000" stroke-width="0.5" stroke-opacity="0.45"/>
<line x1="54.35" y1="327.70" x2="54.35" y2="334.90" stroke="#000" stroke-width="0.5" stroke-opacity="0.28"/>
<line x1="54.39" y1="327.70" x2="54.39" y2="334.90" stroke="#000" stroke-width="0.5" stroke-opacity="0.42"/>
<line x1="54.48" y1="327.70" x2="54.48" y2="334.90" stroke="#000" stroke-width="0.5" stroke-opacity="0.45"/>
<line x1="54.49" y1="327.70" x2="54.49" y2="334.90" stroke="#000" stroke-width="0.5" stroke-opacity="0.34"/>
<line x1="55.75" y1="327.70" x2="55.75" y2="334.90" stroke="#000" stroke-width="0.5" stroke-opacity="0.36"/>
<line x1="56.70" y1="327.70" x2="56.70" y2="334.90" stroke="#000" stroke-width="0.5" stroke-opacity="0.27"/>
<line x1="56.82" y1="327.70" x2="56.82" y2="334.90" stroke="#000" stroke-width="0.5" stroke-opacity="0.34"/>
<line x1="57.15" y1="327.70" x2="57.15" y2="334.90" stroke="#000" stroke-width="0.5" stroke-opacity="0.35"/>
<line x1="57.45" y1="327.70" x2="57.45" y2="334.90" stroke="#000" stroke-width="0.5" stroke-opacity="0.15"/>
<line x1="57.49" y1="327.70" x2="57.49" y2="334.90" stroke="#000" stroke-width="0.5" stroke-opacity="0.36"/>
<line x1="60.27" y1="327.70" x2="60.27" y2="334.90" stroke="#000" stroke-width="0.5" stroke-opacity="0.50"/>
<line x1="60.71" y1="327.70" x2="60.71" y2="334.90" stroke="#000" stroke-width="0.5" stroke-opacity="0.45"/>
<line x1="61.11" y1="327.70" x2="61.11" y2="334.90" stroke="#000" stroke-width="0.5" stroke-opacity="0.40"/>
<line x1="62.73" y1="327.70" x2="62.73" y2="334.90" stroke="#000" stroke-width="0.5" stroke-opacity="0.27"/>
<line x1="63.28" y1="327.70" x2="63.28" y2="334.90" stroke="#000" stroke-width="0.5" stroke-opacity="0.40"/>
<line x1="63.34" y1="327.70" x2="63.34" y2="334.90" stroke="#000" stroke-width="0.5" stroke-opacity="0.34"/>
<line x1="63.35" y1="327.70" x2="63.35" y2="334.90" stroke="#000" stroke-width="0.5" stroke-opacity="0.29"/>
<line x1="64.58" y1="327.70" x2="64.58" y2="334.90" stroke="#000" stroke-width="0.5" stroke-opacity="0.44"/>
<line x1="64.89" y1="327.70" x2="64.89" y2="334.90" stroke="#000" stroke-width="0.5" stroke-opacity="0.15"/>
<line x1="65.61" y1="327.70" x2="65.61" y2="334.90" stroke="#000" stroke-width="0.5" stroke-opacity="0.41"/>
<line x1="65.82" y1="327.70" x2="65.82" y2="334.90" stroke="#000" stroke-width="0.5" stroke-opacity="0.13"/>
<line x1="66.50" y1="327.70" x2="66.50" y2="334.90" stroke="#000" stroke-width="0.5" stroke-opacity="0.35"/>
<line x1="68.28" y1="327.70" x2="68.28" y2="334.90" stroke="#000" stroke-width="0.5" stroke-opacity="0.30"/>
<line x1="69.00" y1="327.70" x2="69.00" y2="334.90" stroke="#000" stroke-width="0.5" stroke-opacity="0.21"/>
<line x1="69.73" y1="327.70" x2="69.73" y2="334.90" stroke="#000" stroke-width="0.5" stroke-opacity="0.39"/>
<line x1="72.78" y1="327.70" x2="72.78" y2="334.90" stroke="#000" stroke-width="0.5" stroke-opacity="0.31"/>
<line x1="75.02" y1="327.70" x2="75.02" y2="334.90" stroke="#000" stroke-width="0.5" stroke-opacity="0.35"/>
<line x1="75.07" y1="327.70" x2="75.07" y2="334.90" stroke="#000" stroke-width="0.5" stroke-opacity="0.47"/>
<line x1="77.48" y1="327.70" x2="77.48" y2="334.90" stroke="#000" stroke-width="0.5" stroke-opacity="0.22"/>
<line x1="78.59" y1="327.70" x2="78.59" y2="334.90" stroke="#000" stroke-width="0.5" stroke-opacity="0.12"/>
<line x1="79.42" y1="327.70" x2="79.42" y2="334.90" stroke="#000" stroke-width="0.5" stroke-opacity="0.23"/>
<line x1="80.81" y1="327.70" x2="80.81" y2="334.90" stroke="#000" stroke-width="0.5" stroke-opacity="0.38"/>
<line x1="81.64" y1="327.70" x2="81.64" y2="334.90" stroke="#000" stroke-width="0.5" stroke-opacity="0.20"/>
<line x1="83.99" y1="327.70" x2="83.99" y2="334.90" stroke="#000" stroke-width="0.5" stroke-opacity="0.18"/>
<line x1="84.49" y1="327.70" x2="84.49" y2="334.90" stroke="#000" stroke-width="0.5" stroke-opacity="0.46"/>
<line x1="85.78" y1="327.70" x2="85.78" y2="334.90" stroke="#000" stroke-width="0.5" stroke-opacity="0.37"/>
<line x1="86.01" y1="327.70" x2="86.01" y2="334.90" stroke="#000" stroke-width="0.5" stroke-opacity="0.29"/>
<line x1="88.09" y1="327.70" x2="88.09" y2="334.90" stroke="#000" stroke-width="0.5" stroke-opacity="0.46"/>
<line x1="89.84" y1="327.70" x2="89.84" y2="334.90" stroke="#000" stroke-width="0.5" stroke-opacity="0.24"/>
<line x1="90.95" y1="327.70" x2="90.95" y2="334.90" stroke="#000" stroke-width="0.5" stroke-opacity="0.37"/>
<line x1="92.72" y1="327.70" x2="92.72" y2="334.90" stroke="#000" stroke-width="0.5" stroke-opacity="0.20"/>
<line x1="92.97" y1="327.70" x2="92.97" y2="334.90" stroke="#000" stroke-width="0.5" stroke-opacity="0.28"/>
<line x1="102.46" y1="327.70" x2="102.46" y2="334.90" stroke="#000" stroke-width="0.5" stroke-opacity="0.43"/>
<line x1="103.21" y1="327.70" x2="103.21" y2="334.90" stroke="#000" stroke-width="0.5" stroke-opacity="0.47"/>
<line x1="103.40" y1="327.70" x2="103.40" y2="334.90" stroke="#000" stroke-width="0.5" stroke-opacity="0.45"/>
<line x1="103.58" y1="327.70" x2="103.58" y2="334.90" stroke="#000" stroke-width="0.5" stroke-opacity="0.27"/>
<line x1="104.97" y1="327.70" x2="104.97" y2="334.90" stroke="#000" stroke-width="0.5" stroke-opacity="0.34"/>
<line x1="111.14" y1="327.70" x2="111.14" y2="334.90" stroke="#000" stroke-width="0.5" stroke-opacity="0.24"/>
<line x1="113.53" y1="327.70" x2="113.53" y2="334.90" stroke="#000" stroke-width="0.5" stroke-opacity="0.17"/>
<line x1="117.87" y1="327.70" x2="117.87" y2="334.90" stroke="#000" stroke-width="0.5" stroke-opacity="0.31"/>
<line x1="119.93" y1="327.70" x2="119.93" y2="334.90" stroke="#000" stroke-width="0.5" stroke-opacity="0.44"/>
<line x1="121.22" y1="327.70" x2="121.22" y2="334.90" stroke="#000" stroke-width="0.5" stroke-opacity="0.44"/>
<line x1="122.32" y1="327.70" x2="122.32" y2="334.90" stroke="#000" stroke-width="0.5" stroke-opacity="0.39"/>
<line x1="123.16" y1="327.70" x2="123.16" y2="334.90" stroke="#000" stroke-width="0.5" stroke-opacity="0.48"/>
<line x1="123.42" y1="327.70" x2="123.42" y2="334.90" stroke="#000" stroke-width="0.5" stroke-opacity="0.23"/>
<line x1="123.66" y1="327.70" x2="123.66" y2="334.90" stroke="#000" stroke-width="0.5" stroke-opacity="0.18"/>
<line x1="24.80" y1="331.50" x2="129.50" y2="331.50" stroke="#444" stroke-width="0.55"/>
<path d="M30.30,331.50 L30.80,316.98 L31.30,302.61 L31.80,300.30 L32.30,298.57 L32.80,296.21 L33.30,294.48 L33.80,292.23 L34.30,290.46 L34.80,289.63 L35.30,288.93 L35.80,288.14 L36.30,287.10 L36.80,286.64 L37.30,285.81 L37.80,284.89 L38.30,284.19 L38.80,283.73 L39.30,283.34 L39.80,282.76 L40.30,282.06 L40.80,281.87 L41.30,281.07 L41.80,280.53 L42.30,280.43 L42.80,280.27 L43.30,280.07 L43.80,279.95 L44.30,279.33 L44.80,279.46 L45.30,279.17 L45.80,278.92 L46.30,279.05 L46.80,278.66 L47.30,278.47 L47.80,278.51 L48.30,278.14 L48.80,278.48 L49.30,278.82 L49.80,279.16 L50.30,278.85 L50.80,278.59 L51.30,278.98 L51.80,278.75 L52.30,279.15 L52.80,279.17 L53.30,279.23 L53.80,279.22 L54.30,279.62 L54.80,279.23 L55.30,279.63 L55.80,279.30 L56.30,279.89 L56.80,280.24 L57.30,280.60 L57.80,280.52 L58.30,281.11 L58.80,281.71 L59.30,282.31 L59.80,282.91 L60.30,282.77 L60.80,283.20 L61.30,283.25 L61.80,283.96 L62.30,284.67 L62.80,284.67 L63.30,285.18 L63.80,285.46 L64.30,286.18 L64.80,286.38 L65.30,286.75 L65.80,287.15 L66.30,287.57 L66.80,287.47 L67.30,288.17 L67.80,288.87 L68.30,288.74 L68.80,289.44 L69.30,289.66 L69.80,289.50 L70.30,290.07 L70.80,290.64 L71.30,291.20 L71.80,291.77 L72.30,292.34 L72.80,291.71 L73.30,292.34 L73.80,292.98 L74.30,293.62 L74.80,294.25 L75.30,293.66 L75.80,294.28 L76.30,295.02 L76.80,295.80 L77.30,296.57 L77.80,296.43 L78.30,297.28 L78.80,297.49 L79.30,298.35 L79.80,298.47 L80.30,299.32 L80.80,300.17 L81.30,300.29 L81.80,300.25 L82.30,301.03 L82.80,301.81 L83.30,302.59 L83.80,303.37 L84.30,303.43 L84.80,303.69 L85.30,304.54 L85.80,304.88 L86.30,305.01 L86.80,305.80 L87.30,306.59 L87.80,307.38 L88.30,307.01 L88.80,307.84 L89.30,308.67 L89.80,309.51 L90.30,309.39 L90.80,310.23 L91.30,310.11 L91.80,310.94 L92.30,311.77 L92.80,311.94 L93.30,311.91 L93.80,312.48 L94.30,313.04 L94.80,313.61 L95.30,314.17 L95.80,314.73 L96.30,315.29 L96.80,315.85 L97.30,316.41 L97.80,316.97 L98.30,317.53 L98.80,318.09 L99.30,318.65 L99.80,319.21 L100.30,319.77 L100.80,320.33 L101.30,320.89 L101.80,321.45 L102.30,322.01 L102.80,321.91 L103.30,322.43 L103.80,322.61 L104.30,323.44 L104.80,324.15 L105.30,323.61 L105.80,324.06 L106.30,324.51 L106.80,324.95 L107.30,325.40 L107.80,325.84 L108.30,326.29 L108.80,326.74 L109.30,327.18 L109.80,327.63 L110.30,328.07 L110.80,328.52 L111.30,327.82 L111.80,328.42 L112.30,329.01 L112.80,329.61 L113.30,330.21 L113.80,329.55 L114.30,329.87 L114.80,330.17 L115.30,330.48 L115.80,330.78 L116.30,331.09 L116.80,331.39 L117.30,331.69 L117.80,332.00 L118.30,331.23 L118.80,331.69 L119.30,332.14 L119.80,332.78 L120.30,332.61 L120.80,333.47 L121.30,333.54 L121.80,334.41 L122.30,335.27 L122.80,334.39 L123.30,333.61 L123.80,331.61 L123.82,331.50" fill="none" stroke="#26ea26" stroke-width="1.0" stroke-linejoin="round"/>
<line x1="23.90" y1="331.50" x2="25.30" y2="331.50" stroke="#555" stroke-width="0.4"/>
<text x="23.30" y="332.90" font-size="4.1" text-anchor="end" fill="#444">0</text>
<line x1="23.90" y1="311.54" x2="25.30" y2="311.54" stroke="#555" stroke-width="0.4"/>
<text x="23.30" y="312.94" font-size="4.1" text-anchor="end" fill="#444">0.2</text>
<line x1="23.90" y1="291.58" x2="25.30" y2="291.58" stroke="#555" stroke-width="0.4"/>
<text x="23.30" y="292.98" font-size="4.1" text-anchor="end" fill="#444">0.4</text>
<line x1="30.30" y1="337.69" x2="30.30" y2="339.49" stroke="#555" stroke-width="0.4"/>
<text x="30.30" y="344.79" font-size="3.8" text-anchor="middle" fill="#444">0</text>
<line x1="53.00" y1="337.69" x2="53.00" y2="339.49" stroke="#555" stroke-width="0.4"/>
<text x="53.00" y="344.79" font-size="3.8" text-anchor="middle" fill="#444">2,500</text>
<line x1="75.70" y1="337.69" x2="75.70" y2="339.49" stroke="#555" stroke-width="0.4"/>
<text x="75.70" y="344.79" font-size="3.8" text-anchor="middle" fill="#444">5,000</text>
<line x1="98.40" y1="337.69" x2="98.40" y2="339.49" stroke="#555" stroke-width="0.4"/>
<text x="98.40" y="344.79" font-size="3.8" text-anchor="middle" fill="#444">7,500</text>
<line x1="121.10" y1="337.69" x2="121.10" y2="339.49" stroke="#555" stroke-width="0.4"/>
<text x="121.10" y="344.79" font-size="3.8" text-anchor="middle" fill="#444">10,000</text>
<text x="14.80" y="306.95" font-size="4.6" text-anchor="middle" fill="#333" textLength="38.00" lengthAdjust="spacingAndGlyphs" transform="rotate(-90 14.80 306.95)">Enrichment score</text>
<text x="25.00" y="267.20" font-size="5.7" fill="#111">NES: 1.97</text>
<text x="24.10" y="274.20" font-size="5.9" fill="#111"><tspan font-style="italic">P</tspan><tspan font-size="4.3" dy="2.0">adj</tspan><tspan dy="-2.0">: </tspan><tspan fill="#f02828" font-size="6.5">1.1×10<tspan font-size="4.3" dy="-2.6">−5</tspan></tspan></text>
<line x1="158.40" y1="276.97" x2="158.40" y2="336.54" stroke="#f4f4f4" stroke-width="0.5"/>
<line x1="185.10" y1="276.97" x2="185.10" y2="336.54" stroke="#f4f4f4" stroke-width="0.5"/>
<line x1="211.80" y1="276.97" x2="211.80" y2="336.54" stroke="#f4f4f4" stroke-width="0.5"/>
<line x1="238.50" y1="276.97" x2="238.50" y2="336.54" stroke="#f4f4f4" stroke-width="0.5"/>
<line x1="153.00" y1="284.80" x2="257.00" y2="284.80" stroke="#f4f4f4" stroke-width="0.5"/>
<line x1="153.00" y1="296.10" x2="257.00" y2="296.10" stroke="#f4f4f4" stroke-width="0.5"/>
<line x1="153.00" y1="307.40" x2="257.00" y2="307.40" stroke="#f4f4f4" stroke-width="0.5"/>
<line x1="153.00" y1="318.70" x2="257.00" y2="318.70" stroke="#f4f4f4" stroke-width="0.5"/>
<line x1="153.00" y1="330.00" x2="257.00" y2="330.00" stroke="#f4f4f4" stroke-width="0.5"/>
<line x1="153.00" y1="278.47" x2="257.00" y2="278.47" stroke="#f7c4c4" stroke-width="0.55"/>
<line x1="153.00" y1="335.54" x2="257.00" y2="335.54" stroke="#f7c4c4" stroke-width="0.55"/>
<line x1="162.27" y1="280.80" x2="162.27" y2="287.80" stroke="#000" stroke-width="0.5" stroke-opacity="0.24"/>
<line x1="163.89" y1="280.80" x2="163.89" y2="287.80" stroke="#000" stroke-width="0.5" stroke-opacity="0.42"/>
<line x1="165.50" y1="280.80" x2="165.50" y2="287.80" stroke="#000" stroke-width="0.5" stroke-opacity="0.44"/>
<line x1="166.74" y1="280.80" x2="166.74" y2="287.80" stroke="#000" stroke-width="0.5" stroke-opacity="0.36"/>
<line x1="167.97" y1="280.80" x2="167.97" y2="287.80" stroke="#000" stroke-width="0.5" stroke-opacity="0.21"/>
<line x1="168.99" y1="280.80" x2="168.99" y2="287.80" stroke="#000" stroke-width="0.5" stroke-opacity="0.32"/>
<line x1="169.53" y1="280.80" x2="169.53" y2="287.80" stroke="#000" stroke-width="0.5" stroke-opacity="0.30"/>
<line x1="170.21" y1="280.80" x2="170.21" y2="287.80" stroke="#000" stroke-width="0.5" stroke-opacity="0.36"/>
<line x1="170.26" y1="280.80" x2="170.26" y2="287.80" stroke="#000" stroke-width="0.5" stroke-opacity="0.22"/>
<line x1="170.32" y1="280.80" x2="170.32" y2="287.80" stroke="#000" stroke-width="0.5" stroke-opacity="0.48"/>
<line x1="170.62" y1="280.80" x2="170.62" y2="287.80" stroke="#000" stroke-width="0.5" stroke-opacity="0.46"/>
<line x1="172.09" y1="280.80" x2="172.09" y2="287.80" stroke="#000" stroke-width="0.5" stroke-opacity="0.18"/>
<line x1="174.72" y1="280.80" x2="174.72" y2="287.80" stroke="#000" stroke-width="0.5" stroke-opacity="0.23"/>
<line x1="175.36" y1="280.80" x2="175.36" y2="287.80" stroke="#000" stroke-width="0.5" stroke-opacity="0.45"/>
<line x1="175.39" y1="280.80" x2="175.39" y2="287.80" stroke="#000" stroke-width="0.5" stroke-opacity="0.23"/>
<line x1="175.62" y1="280.80" x2="175.62" y2="287.80" stroke="#000" stroke-width="0.5" stroke-opacity="0.48"/>
<line x1="176.75" y1="280.80" x2="176.75" y2="287.80" stroke="#000" stroke-width="0.5" stroke-opacity="0.32"/>
<line x1="177.02" y1="280.80" x2="177.02" y2="287.80" stroke="#000" stroke-width="0.5" stroke-opacity="0.38"/>
<line x1="179.82" y1="280.80" x2="179.82" y2="287.80" stroke="#000" stroke-width="0.5" stroke-opacity="0.39"/>
<line x1="180.90" y1="280.80" x2="180.90" y2="287.80" stroke="#000" stroke-width="0.5" stroke-opacity="0.20"/>
<line x1="181.47" y1="280.80" x2="181.47" y2="287.80" stroke="#000" stroke-width="0.5" stroke-opacity="0.23"/>
<line x1="182.57" y1="280.80" x2="182.57" y2="287.80" stroke="#000" stroke-width="0.5" stroke-opacity="0.22"/>
<line x1="185.42" y1="280.80" x2="185.42" y2="287.80" stroke="#000" stroke-width="0.5" stroke-opacity="0.38"/>
<line x1="187.54" y1="280.80" x2="187.54" y2="287.80" stroke="#000" stroke-width="0.5" stroke-opacity="0.38"/>
<line x1="187.92" y1="280.80" x2="187.92" y2="287.80" stroke="#000" stroke-width="0.5" stroke-opacity="0.17"/>
<line x1="188.93" y1="280.80" x2="188.93" y2="287.80" stroke="#000" stroke-width="0.5" stroke-opacity="0.46"/>
<line x1="189.08" y1="280.80" x2="189.08" y2="287.80" stroke="#000" stroke-width="0.5" stroke-opacity="0.28"/>
<line x1="191.26" y1="280.80" x2="191.26" y2="287.80" stroke="#000" stroke-width="0.5" stroke-opacity="0.21"/>
<line x1="191.90" y1="280.80" x2="191.90" y2="287.80" stroke="#000" stroke-width="0.5" stroke-opacity="0.29"/>
<line x1="192.24" y1="280.80" x2="192.24" y2="287.80" stroke="#000" stroke-width="0.5" stroke-opacity="0.49"/>
<line x1="192.60" y1="280.80" x2="192.60" y2="287.80" stroke="#000" stroke-width="0.5" stroke-opacity="0.33"/>
<line x1="193.06" y1="280.80" x2="193.06" y2="287.80" stroke="#000" stroke-width="0.5" stroke-opacity="0.36"/>
<line x1="193.18" y1="280.80" x2="193.18" y2="287.80" stroke="#000" stroke-width="0.5" stroke-opacity="0.47"/>
<line x1="195.45" y1="280.80" x2="195.45" y2="287.80" stroke="#000" stroke-width="0.5" stroke-opacity="0.49"/>
<line x1="196.86" y1="280.80" x2="196.86" y2="287.80" stroke="#000" stroke-width="0.5" stroke-opacity="0.41"/>
<line x1="197.15" y1="280.80" x2="197.15" y2="287.80" stroke="#000" stroke-width="0.5" stroke-opacity="0.28"/>
<line x1="197.22" y1="280.80" x2="197.22" y2="287.80" stroke="#000" stroke-width="0.5" stroke-opacity="0.34"/>
<line x1="200.40" y1="280.80" x2="200.40" y2="287.80" stroke="#000" stroke-width="0.5" stroke-opacity="0.46"/>
<line x1="201.60" y1="280.80" x2="201.60" y2="287.80" stroke="#000" stroke-width="0.5" stroke-opacity="0.42"/>
<line x1="203.51" y1="280.80" x2="203.51" y2="287.80" stroke="#000" stroke-width="0.5" stroke-opacity="0.34"/>
<line x1="205.61" y1="280.80" x2="205.61" y2="287.80" stroke="#000" stroke-width="0.5" stroke-opacity="0.25"/>
<line x1="206.25" y1="280.80" x2="206.25" y2="287.80" stroke="#000" stroke-width="0.5" stroke-opacity="0.26"/>
<line x1="206.95" y1="280.80" x2="206.95" y2="287.80" stroke="#000" stroke-width="0.5" stroke-opacity="0.40"/>
<line x1="208.28" y1="280.80" x2="208.28" y2="287.80" stroke="#000" stroke-width="0.5" stroke-opacity="0.33"/>
<line x1="210.22" y1="280.80" x2="210.22" y2="287.80" stroke="#000" stroke-width="0.5" stroke-opacity="0.13"/>
<line x1="212.17" y1="280.80" x2="212.17" y2="287.80" stroke="#000" stroke-width="0.5" stroke-opacity="0.39"/>
<line x1="212.28" y1="280.80" x2="212.28" y2="287.80" stroke="#000" stroke-width="0.5" stroke-opacity="0.46"/>
<line x1="212.28" y1="280.80" x2="212.28" y2="287.80" stroke="#000" stroke-width="0.5" stroke-opacity="0.42"/>
<line x1="212.62" y1="280.80" x2="212.62" y2="287.80" stroke="#000" stroke-width="0.5" stroke-opacity="0.46"/>
<line x1="214.10" y1="280.80" x2="214.10" y2="287.80" stroke="#000" stroke-width="0.5" stroke-opacity="0.47"/>
<line x1="216.01" y1="280.80" x2="216.01" y2="287.80" stroke="#000" stroke-width="0.5" stroke-opacity="0.32"/>
<line x1="217.09" y1="280.80" x2="217.09" y2="287.80" stroke="#000" stroke-width="0.5" stroke-opacity="0.42"/>
<line x1="217.25" y1="280.80" x2="217.25" y2="287.80" stroke="#000" stroke-width="0.5" stroke-opacity="0.26"/>
<line x1="217.52" y1="280.80" x2="217.52" y2="287.80" stroke="#000" stroke-width="0.5" stroke-opacity="0.16"/>
<line x1="218.10" y1="280.80" x2="218.10" y2="287.80" stroke="#000" stroke-width="0.5" stroke-opacity="0.25"/>
<line x1="221.96" y1="280.80" x2="221.96" y2="287.80" stroke="#000" stroke-width="0.5" stroke-opacity="0.24"/>
<line x1="222.10" y1="280.80" x2="222.10" y2="287.80" stroke="#000" stroke-width="0.5" stroke-opacity="0.47"/>
<line x1="222.67" y1="280.80" x2="222.67" y2="287.80" stroke="#000" stroke-width="0.5" stroke-opacity="0.38"/>
<line x1="222.72" y1="280.80" x2="222.72" y2="287.80" stroke="#000" stroke-width="0.5" stroke-opacity="0.33"/>
<line x1="223.14" y1="280.80" x2="223.14" y2="287.80" stroke="#000" stroke-width="0.5" stroke-opacity="0.36"/>
<line x1="223.26" y1="280.80" x2="223.26" y2="287.80" stroke="#000" stroke-width="0.5" stroke-opacity="0.17"/>
<line x1="223.50" y1="280.80" x2="223.50" y2="287.80" stroke="#000" stroke-width="0.5" stroke-opacity="0.32"/>
<line x1="223.59" y1="280.80" x2="223.59" y2="287.80" stroke="#000" stroke-width="0.5" stroke-opacity="0.39"/>
<line x1="223.93" y1="280.80" x2="223.93" y2="287.80" stroke="#000" stroke-width="0.5" stroke-opacity="0.27"/>
<line x1="225.33" y1="280.80" x2="225.33" y2="287.80" stroke="#000" stroke-width="0.5" stroke-opacity="0.21"/>
<line x1="227.13" y1="280.80" x2="227.13" y2="287.80" stroke="#000" stroke-width="0.5" stroke-opacity="0.27"/>
<line x1="227.42" y1="280.80" x2="227.42" y2="287.80" stroke="#000" stroke-width="0.5" stroke-opacity="0.24"/>
<line x1="227.73" y1="280.80" x2="227.73" y2="287.80" stroke="#000" stroke-width="0.5" stroke-opacity="0.38"/>
<line x1="228.28" y1="280.80" x2="228.28" y2="287.80" stroke="#000" stroke-width="0.5" stroke-opacity="0.17"/>
<line x1="228.65" y1="280.80" x2="228.65" y2="287.80" stroke="#000" stroke-width="0.5" stroke-opacity="0.15"/>
<line x1="229.19" y1="280.80" x2="229.19" y2="287.80" stroke="#000" stroke-width="0.5" stroke-opacity="0.24"/>
<line x1="229.93" y1="280.80" x2="229.93" y2="287.80" stroke="#000" stroke-width="0.5" stroke-opacity="0.38"/>
<line x1="230.16" y1="280.80" x2="230.16" y2="287.80" stroke="#000" stroke-width="0.5" stroke-opacity="0.41"/>
<line x1="230.31" y1="280.80" x2="230.31" y2="287.80" stroke="#000" stroke-width="0.5" stroke-opacity="0.37"/>
<line x1="231.97" y1="280.80" x2="231.97" y2="287.80" stroke="#000" stroke-width="0.5" stroke-opacity="0.48"/>
<line x1="232.04" y1="280.80" x2="232.04" y2="287.80" stroke="#000" stroke-width="0.5" stroke-opacity="0.26"/>
<line x1="232.59" y1="280.80" x2="232.59" y2="287.80" stroke="#000" stroke-width="0.5" stroke-opacity="0.13"/>
<line x1="233.26" y1="280.80" x2="233.26" y2="287.80" stroke="#000" stroke-width="0.5" stroke-opacity="0.31"/>
<line x1="234.34" y1="280.80" x2="234.34" y2="287.80" stroke="#000" stroke-width="0.5" stroke-opacity="0.29"/>
<line x1="234.42" y1="280.80" x2="234.42" y2="287.80" stroke="#000" stroke-width="0.5" stroke-opacity="0.19"/>
<line x1="235.23" y1="280.80" x2="235.23" y2="287.80" stroke="#000" stroke-width="0.5" stroke-opacity="0.37"/>
<line x1="235.70" y1="280.80" x2="235.70" y2="287.80" stroke="#000" stroke-width="0.5" stroke-opacity="0.25"/>
<line x1="235.84" y1="280.80" x2="235.84" y2="287.80" stroke="#000" stroke-width="0.5" stroke-opacity="0.21"/>
<line x1="236.36" y1="280.80" x2="236.36" y2="287.80" stroke="#000" stroke-width="0.5" stroke-opacity="0.24"/>
<line x1="236.46" y1="280.80" x2="236.46" y2="287.80" stroke="#000" stroke-width="0.5" stroke-opacity="0.48"/>
<line x1="236.68" y1="280.80" x2="236.68" y2="287.80" stroke="#000" stroke-width="0.5" stroke-opacity="0.12"/>
<line x1="236.89" y1="280.80" x2="236.89" y2="287.80" stroke="#000" stroke-width="0.5" stroke-opacity="0.26"/>
<line x1="237.75" y1="280.80" x2="237.75" y2="287.80" stroke="#000" stroke-width="0.5" stroke-opacity="0.23"/>
<line x1="239.67" y1="280.80" x2="239.67" y2="287.80" stroke="#000" stroke-width="0.5" stroke-opacity="0.20"/>
<line x1="240.17" y1="280.80" x2="240.17" y2="287.80" stroke="#000" stroke-width="0.5" stroke-opacity="0.28"/>
<line x1="241.80" y1="280.80" x2="241.80" y2="287.80" stroke="#000" stroke-width="0.5" stroke-opacity="0.20"/>
<line x1="243.27" y1="280.80" x2="243.27" y2="287.80" stroke="#000" stroke-width="0.5" stroke-opacity="0.47"/>
<line x1="243.88" y1="280.80" x2="243.88" y2="287.80" stroke="#000" stroke-width="0.5" stroke-opacity="0.31"/>
<line x1="243.91" y1="280.80" x2="243.91" y2="287.80" stroke="#000" stroke-width="0.5" stroke-opacity="0.39"/>
<line x1="244.98" y1="280.80" x2="244.98" y2="287.80" stroke="#000" stroke-width="0.5" stroke-opacity="0.18"/>
<line x1="245.32" y1="280.80" x2="245.32" y2="287.80" stroke="#000" stroke-width="0.5" stroke-opacity="0.30"/>
<line x1="247.81" y1="280.80" x2="247.81" y2="287.80" stroke="#000" stroke-width="0.5" stroke-opacity="0.35"/>
<line x1="248.14" y1="280.80" x2="248.14" y2="287.80" stroke="#000" stroke-width="0.5" stroke-opacity="0.44"/>
<line x1="249.02" y1="280.80" x2="249.02" y2="287.80" stroke="#000" stroke-width="0.5" stroke-opacity="0.21"/>
<line x1="249.10" y1="280.80" x2="249.10" y2="287.80" stroke="#000" stroke-width="0.5" stroke-opacity="0.29"/>
<line x1="249.80" y1="280.80" x2="249.80" y2="287.80" stroke="#000" stroke-width="0.5" stroke-opacity="0.44"/>
<line x1="250.21" y1="280.80" x2="250.21" y2="287.80" stroke="#000" stroke-width="0.5" stroke-opacity="0.44"/>
<line x1="153.00" y1="284.80" x2="257.00" y2="284.80" stroke="#444" stroke-width="0.55"/>
<path d="M158.40,278.47 L158.90,277.76 L159.40,278.40 L159.90,279.04 L160.40,279.68 L160.90,280.28 L161.40,280.86 L161.90,281.44 L162.40,279.71 L162.90,280.57 L163.40,281.47 L163.90,280.31 L164.40,281.21 L164.90,282.11 L165.40,283.01 L165.90,282.10 L166.40,283.00 L166.90,282.34 L167.40,283.24 L167.90,284.13 L168.40,283.60 L168.90,284.50 L169.40,284.41 L169.90,284.54 L170.40,284.67 L170.90,284.53 L171.40,285.53 L171.90,286.53 L172.40,285.16 L172.90,286.03 L173.40,286.91 L173.90,287.79 L174.40,288.67 L174.90,287.82 L175.40,288.23 L175.90,288.36 L176.40,289.36 L176.90,289.46 L177.40,288.82 L177.90,289.66 L178.40,290.51 L178.90,291.35 L179.40,292.20 L179.90,291.02 L180.40,292.02 L180.90,293.02 L181.40,292.96 L181.90,292.90 L182.40,293.93 L182.90,292.80 L183.40,293.68 L183.90,294.55 L184.40,295.42 L184.90,296.30 L185.40,297.17 L185.90,295.50 L186.40,296.53 L186.90,297.57 L187.40,298.60 L187.90,298.05 L188.40,298.20 L188.90,299.23 L189.40,298.07 L189.90,299.09 L190.40,300.11 L190.90,301.13 L191.40,300.39 L191.90,300.91 L192.40,301.60 L192.90,302.22 L193.40,301.54 L193.90,302.65 L194.40,303.75 L194.90,304.86 L195.40,305.96 L195.90,304.85 L196.40,305.99 L196.90,306.05 L197.40,305.48 L197.90,306.41 L198.40,307.34 L198.90,308.28 L199.40,309.21 L199.90,310.14 L200.40,308.95 L200.90,310.09 L201.40,311.23 L201.90,310.40 L202.40,311.54 L202.90,312.68 L203.40,313.82 L203.90,312.42 L204.40,313.56 L204.90,314.70 L205.40,315.84 L205.90,315.23 L206.40,315.52 L206.90,316.66 L207.40,316.51 L207.90,317.65 L208.40,316.71 L208.90,317.85 L209.40,318.99 L209.90,320.13 L210.40,318.81 L210.90,319.92 L211.40,321.03 L211.90,322.14 L212.40,321.66 L212.90,321.61 L213.40,322.72 L213.90,323.83 L214.40,322.79 L214.90,323.90 L215.40,325.02 L215.90,326.13 L216.40,325.34 L216.90,326.45 L217.40,326.50 L217.90,327.07 L218.40,326.29 L218.90,327.11 L219.40,327.94 L219.90,328.76 L220.40,329.61 L220.90,330.46 L221.40,331.31 L221.90,332.16 L222.40,331.37 L222.90,331.81 L223.40,332.37 L223.90,333.03 L224.40,333.06 L224.90,334.19 L225.40,333.29 L225.90,334.20 L226.40,334.99 L226.90,335.78 L227.40,335.23 L227.90,335.10 L228.40,335.31 L228.90,335.51 L229.40,335.26 L229.90,335.83 L230.40,334.39 L230.90,334.95 L231.40,335.51 L231.90,336.08 L232.40,334.25 L232.90,332.58 L233.40,330.57 L233.90,329.67 L234.40,328.37 L234.90,327.50 L235.40,326.38 L235.90,325.27 L236.40,324.57 L236.90,323.11 L237.40,322.80 L237.90,320.73 L238.40,320.43 L238.90,320.12 L239.40,319.34 L239.90,317.00 L240.40,314.84 L240.90,314.03 L241.40,313.22 L241.90,310.45 L242.40,309.64 L242.90,308.83 L243.40,306.70 L243.90,305.59 L244.40,304.27 L244.90,303.65 L245.40,300.55 L245.90,299.84 L246.40,299.13 L246.90,298.42 L247.40,297.66 L247.90,294.69 L248.40,292.58 L248.90,291.24 L249.40,288.72 L249.90,286.31 L250.25,284.80" fill="none" stroke="#26ea26" stroke-width="1.0" stroke-linejoin="round"/>
<line x1="152.10" y1="284.80" x2="153.50" y2="284.80" stroke="#555" stroke-width="0.4"/>
<text x="151.50" y="286.20" font-size="4.1" text-anchor="end" fill="#444">0</text>
<line x1="152.10" y1="296.10" x2="153.50" y2="296.10" stroke="#555" stroke-width="0.4"/>
<text x="151.50" y="297.50" font-size="4.1" text-anchor="end" fill="#444">−0.1</text>
<line x1="152.10" y1="307.40" x2="153.50" y2="307.40" stroke="#555" stroke-width="0.4"/>
<text x="151.50" y="308.80" font-size="4.1" text-anchor="end" fill="#444">−0.2</text>
<line x1="152.10" y1="318.70" x2="153.50" y2="318.70" stroke="#555" stroke-width="0.4"/>
<text x="151.50" y="320.10" font-size="4.1" text-anchor="end" fill="#444">−0.3</text>
<line x1="152.10" y1="330.00" x2="153.50" y2="330.00" stroke="#555" stroke-width="0.4"/>
<text x="151.50" y="331.40" font-size="4.1" text-anchor="end" fill="#444">−0.4</text>
<line x1="158.40" y1="337.74" x2="158.40" y2="339.54" stroke="#555" stroke-width="0.4"/>
<text x="158.40" y="344.84" font-size="3.8" text-anchor="middle" fill="#444">0</text>
<line x1="185.10" y1="337.74" x2="185.10" y2="339.54" stroke="#555" stroke-width="0.4"/>
<text x="185.10" y="344.84" font-size="3.8" text-anchor="middle" fill="#444">2,500</text>
<line x1="211.80" y1="337.74" x2="211.80" y2="339.54" stroke="#555" stroke-width="0.4"/>
<text x="211.80" y="344.84" font-size="3.8" text-anchor="middle" fill="#444">5,000</text>
<line x1="238.50" y1="337.74" x2="238.50" y2="339.54" stroke="#555" stroke-width="0.4"/>
<text x="238.50" y="344.84" font-size="3.8" text-anchor="middle" fill="#444">7,500</text>
<text x="141.00" y="307.00" font-size="4.6" text-anchor="middle" fill="#333" textLength="38.00" lengthAdjust="spacingAndGlyphs" transform="rotate(-90 141.00 307.00)">Enrichment score</text>
<text x="152.90" y="267.50" font-size="5.7" fill="#111">NES: -1.72</text>
<text x="152.00" y="274.50" font-size="5.9" fill="#111"><tspan font-style="italic">P</tspan><tspan font-size="4.3" dy="2.0">adj</tspan><tspan dy="-2.0">: </tspan><tspan fill="#f02828" font-size="6.5">0.0018</tspan></text>
<line x1="30.30" y1="361.91" x2="30.30" y2="421.37" stroke="#f4f4f4" stroke-width="0.5"/>
<line x1="53.00" y1="361.91" x2="53.00" y2="421.37" stroke="#f4f4f4" stroke-width="0.5"/>
<line x1="75.70" y1="361.91" x2="75.70" y2="421.37" stroke="#f4f4f4" stroke-width="0.5"/>
<line x1="98.40" y1="361.91" x2="98.40" y2="421.37" stroke="#f4f4f4" stroke-width="0.5"/>
<line x1="121.10" y1="361.91" x2="121.10" y2="421.37" stroke="#f4f4f4" stroke-width="0.5"/>
<line x1="24.80" y1="413.70" x2="129.50" y2="413.70" stroke="#f4f4f4" stroke-width="0.5"/>
<line x1="24.80" y1="394.65" x2="129.50" y2="394.65" stroke="#f4f4f4" stroke-width="0.5"/>
<line x1="24.80" y1="375.60" x2="129.50" y2="375.60" stroke="#f4f4f4" stroke-width="0.5"/>
<line x1="24.80" y1="363.41" x2="129.50" y2="363.41" stroke="#f7c4c4" stroke-width="0.55"/>
<line x1="24.80" y1="420.37" x2="129.50" y2="420.37" stroke="#f7c4c4" stroke-width="0.55"/>
<line x1="30.37" y1="409.90" x2="30.37" y2="417.10" stroke="#000" stroke-width="0.5" stroke-opacity="0.31"/>
<line x1="30.89" y1="409.90" x2="30.89" y2="417.10" stroke="#000" stroke-width="0.5" stroke-opacity="0.49"/>
<line x1="30.97" y1="409.90" x2="30.97" y2="417.10" stroke="#000" stroke-width="0.5" stroke-opacity="0.32"/>
<line x1="30.97" y1="409.90" x2="30.97" y2="417.10" stroke="#000" stroke-width="0.5" stroke-opacity="0.30"/>
<line x1="31.14" y1="409.90" x2="31.14" y2="417.10" stroke="#000" stroke-width="0.5" stroke-opacity="0.37"/>
<line x1="31.27" y1="409.90" x2="31.27" y2="417.10" stroke="#000" stroke-width="0.5" stroke-opacity="0.23"/>
<line x1="31.32" y1="409.90" x2="31.32" y2="417.10" stroke="#000" stroke-width="0.5" stroke-opacity="0.13"/>
<line x1="31.35" y1="409.90" x2="31.35" y2="417.10" stroke="#000" stroke-width="0.5" stroke-opacity="0.31"/>
<line x1="31.48" y1="409.90" x2="31.48" y2="417.10" stroke="#000" stroke-width="0.5" stroke-opacity="0.47"/>
<line x1="31.55" y1="409.90" x2="31.55" y2="417.10" stroke="#000" stroke-width="0.5" stroke-opacity="0.40"/>
<line x1="31.64" y1="409.90" x2="31.64" y2="417.10" stroke="#000" stroke-width="0.5" stroke-opacity="0.22"/>
<line x1="32.26" y1="409.90" x2="32.26" y2="417.10" stroke="#000" stroke-width="0.5" stroke-opacity="0.38"/>
<line x1="32.71" y1="409.90" x2="32.71" y2="417.10" stroke="#000" stroke-width="0.5" stroke-opacity="0.44"/>
<line x1="33.06" y1="409.90" x2="33.06" y2="417.10" stroke="#000" stroke-width="0.5" stroke-opacity="0.22"/>
<line x1="33.41" y1="409.90" x2="33.41" y2="417.10" stroke="#000" stroke-width="0.5" stroke-opacity="0.34"/>
<line x1="33.41" y1="409.90" x2="33.41" y2="417.10" stroke="#000" stroke-width="0.5" stroke-opacity="0.26"/>
<line x1="33.63" y1="409.90" x2="33.63" y2="417.10" stroke="#000" stroke-width="0.5" stroke-opacity="0.21"/>
<line x1="34.10" y1="409.90" x2="34.10" y2="417.10" stroke="#000" stroke-width="0.5" stroke-opacity="0.23"/>
<line x1="34.16" y1="409.90" x2="34.16" y2="417.10" stroke="#000" stroke-width="0.5" stroke-opacity="0.20"/>
<line x1="34.26" y1="409.90" x2="34.26" y2="417.10" stroke="#000" stroke-width="0.5" stroke-opacity="0.25"/>
<line x1="35.82" y1="409.90" x2="35.82" y2="417.10" stroke="#000" stroke-width="0.5" stroke-opacity="0.13"/>
<line x1="36.50" y1="409.90" x2="36.50" y2="417.10" stroke="#000" stroke-width="0.5" stroke-opacity="0.27"/>
<line x1="37.50" y1="409.90" x2="37.50" y2="417.10" stroke="#000" stroke-width="0.5" stroke-opacity="0.15"/>
<line x1="37.81" y1="409.90" x2="37.81" y2="417.10" stroke="#000" stroke-width="0.5" stroke-opacity="0.41"/>
<line x1="37.90" y1="409.90" x2="37.90" y2="417.10" stroke="#000" stroke-width="0.5" stroke-opacity="0.35"/>
<line x1="38.06" y1="409.90" x2="38.06" y2="417.10" stroke="#000" stroke-width="0.5" stroke-opacity="0.12"/>
<line x1="38.47" y1="409.90" x2="38.47" y2="417.10" stroke="#000" stroke-width="0.5" stroke-opacity="0.41"/>
<line x1="38.85" y1="409.90" x2="38.85" y2="417.10" stroke="#000" stroke-width="0.5" stroke-opacity="0.19"/>
<line x1="39.25" y1="409.90" x2="39.25" y2="417.10" stroke="#000" stroke-width="0.5" stroke-opacity="0.30"/>
<line x1="39.44" y1="409.90" x2="39.44" y2="417.10" stroke="#000" stroke-width="0.5" stroke-opacity="0.33"/>
<line x1="40.18" y1="409.90" x2="40.18" y2="417.10" stroke="#000" stroke-width="0.5" stroke-opacity="0.25"/>
<line x1="40.19" y1="409.90" x2="40.19" y2="417.10" stroke="#000" stroke-width="0.5" stroke-opacity="0.23"/>
<line x1="40.59" y1="409.90" x2="40.59" y2="417.10" stroke="#000" stroke-width="0.5" stroke-opacity="0.29"/>
<line x1="40.67" y1="409.90" x2="40.67" y2="417.10" stroke="#000" stroke-width="0.5" stroke-opacity="0.17"/>
<line x1="41.96" y1="409.90" x2="41.96" y2="417.10" stroke="#000" stroke-width="0.5" stroke-opacity="0.45"/>
<line x1="43.11" y1="409.90" x2="43.11" y2="417.10" stroke="#000" stroke-width="0.5" stroke-opacity="0.16"/>
<line x1="43.16" y1="409.90" x2="43.16" y2="417.10" stroke="#000" stroke-width="0.5" stroke-opacity="0.43"/>
<line x1="43.69" y1="409.90" x2="43.69" y2="417.10" stroke="#000" stroke-width="0.5" stroke-opacity="0.20"/>
<line x1="43.82" y1="409.90" x2="43.82" y2="417.10" stroke="#000" stroke-width="0.5" stroke-opacity="0.24"/>
<line x1="44.59" y1="409.90" x2="44.59" y2="417.10" stroke="#000" stroke-width="0.5" stroke-opacity="0.27"/>
<line x1="44.60" y1="409.90" x2="44.60" y2="417.10" stroke="#000" stroke-width="0.5" stroke-opacity="0.13"/>
<line x1="44.91" y1="409.90" x2="44.91" y2="417.10" stroke="#000" stroke-width="0.5" stroke-opacity="0.17"/>
<line x1="45.27" y1="409.90" x2="45.27" y2="417.10" stroke="#000" stroke-width="0.5" stroke-opacity="0.26"/>
<line x1="45.89" y1="409.90" x2="45.89" y2="417.10" stroke="#000" stroke-width="0.5" stroke-opacity="0.29"/>
<line x1="45.98" y1="409.90" x2="45.98" y2="417.10" stroke="#000" stroke-width="0.5" stroke-opacity="0.45"/>
<line x1="46.71" y1="409.90" x2="46.71" y2="417.10" stroke="#000" stroke-width="0.5" stroke-opacity="0.50"/>
<line x1="47.42" y1="409.90" x2="47.42" y2="417.10" stroke="#000" stroke-width="0.5" stroke-opacity="0.14"/>
<line x1="47.65" y1="409.90" x2="47.65" y2="417.10" stroke="#000" stroke-width="0.5" stroke-opacity="0.32"/>
<line x1="48.58" y1="409.90" x2="48.58" y2="417.10" stroke="#000" stroke-width="0.5" stroke-opacity="0.17"/>
<line x1="49.35" y1="409.90" x2="49.35" y2="417.10" stroke="#000" stroke-width="0.5" stroke-opacity="0.43"/>
<line x1="49.62" y1="409.90" x2="49.62" y2="417.10" stroke="#000" stroke-width="0.5" stroke-opacity="0.24"/>
<line x1="50.20" y1="409.90" x2="50.20" y2="417.10" stroke="#000" stroke-width="0.5" stroke-opacity="0.46"/>
<line x1="50.52" y1="409.90" x2="50.52" y2="417.10" stroke="#000" stroke-width="0.5" stroke-opacity="0.33"/>
<line x1="51.16" y1="409.90" x2="51.16" y2="417.10" stroke="#000" stroke-width="0.5" stroke-opacity="0.17"/>
<line x1="51.75" y1="409.90" x2="51.75" y2="417.10" stroke="#000" stroke-width="0.5" stroke-opacity="0.12"/>
<line x1="51.83" y1="409.90" x2="51.83" y2="417.10" stroke="#000" stroke-width="0.5" stroke-opacity="0.21"/>
<line x1="51.98" y1="409.90" x2="51.98" y2="417.10" stroke="#000" stroke-width="0.5" stroke-opacity="0.45"/>
<line x1="52.86" y1="409.90" x2="52.86" y2="417.10" stroke="#000" stroke-width="0.5" stroke-opacity="0.18"/>
<line x1="52.96" y1="409.90" x2="52.96" y2="417.10" stroke="#000" stroke-width="0.5" stroke-opacity="0.30"/>
<line x1="53.14" y1="409.90" x2="53.14" y2="417.10" stroke="#000" stroke-width="0.5" stroke-opacity="0.26"/>
<line x1="53.14" y1="409.90" x2="53.14" y2="417.10" stroke="#000" stroke-width="0.5" stroke-opacity="0.25"/>
<line x1="53.22" y1="409.90" x2="53.22" y2="417.10" stroke="#000" stroke-width="0.5" stroke-opacity="0.42"/>
<line x1="53.45" y1="409.90" x2="53.45" y2="417.10" stroke="#000" stroke-width="0.5" stroke-opacity="0.20"/>
<line x1="53.60" y1="409.90" x2="53.60" y2="417.10" stroke="#000" stroke-width="0.5" stroke-opacity="0.39"/>
<line x1="53.87" y1="409.90" x2="53.87" y2="417.10" stroke="#000" stroke-width="0.5" stroke-opacity="0.37"/>
<line x1="54.13" y1="409.90" x2="54.13" y2="417.10" stroke="#000" stroke-width="0.5" stroke-opacity="0.48"/>
<line x1="56.02" y1="409.90" x2="56.02" y2="417.10" stroke="#000" stroke-width="0.5" stroke-opacity="0.32"/>
<line x1="56.39" y1="409.90" x2="56.39" y2="417.10" stroke="#000" stroke-width="0.5" stroke-opacity="0.47"/>
<line x1="56.49" y1="409.90" x2="56.49" y2="417.10" stroke="#000" stroke-width="0.5" stroke-opacity="0.29"/>
<line x1="57.21" y1="409.90" x2="57.21" y2="417.10" stroke="#000" stroke-width="0.5" stroke-opacity="0.34"/>
<line x1="59.42" y1="409.90" x2="59.42" y2="417.10" stroke="#000" stroke-width="0.5" stroke-opacity="0.36"/>
<line x1="60.60" y1="409.90" x2="60.60" y2="417.10" stroke="#000" stroke-width="0.5" stroke-opacity="0.44"/>
<line x1="61.27" y1="409.90" x2="61.27" y2="417.10" stroke="#000" stroke-width="0.5" stroke-opacity="0.46"/>
<line x1="62.02" y1="409.90" x2="62.02" y2="417.10" stroke="#000" stroke-width="0.5" stroke-opacity="0.16"/>
<line x1="63.07" y1="409.90" x2="63.07" y2="417.10" stroke="#000" stroke-width="0.5" stroke-opacity="0.17"/>
<line x1="63.31" y1="409.90" x2="63.31" y2="417.10" stroke="#000" stroke-width="0.5" stroke-opacity="0.32"/>
<line x1="63.68" y1="409.90" x2="63.68" y2="417.10" stroke="#000" stroke-width="0.5" stroke-opacity="0.43"/>
<line x1="65.58" y1="409.90" x2="65.58" y2="417.10" stroke="#000" stroke-width="0.5" stroke-opacity="0.32"/>
<line x1="66.84" y1="409.90" x2="66.84" y2="417.10" stroke="#000" stroke-width="0.5" stroke-opacity="0.23"/>
<line x1="67.33" y1="409.90" x2="67.33" y2="417.10" stroke="#000" stroke-width="0.5" stroke-opacity="0.49"/>
<line x1="67.75" y1="409.90" x2="67.75" y2="417.10" stroke="#000" stroke-width="0.5" stroke-opacity="0.23"/>
<line x1="68.80" y1="409.90" x2="68.80" y2="417.10" stroke="#000" stroke-width="0.5" stroke-opacity="0.15"/>
<line x1="73.36" y1="409.90" x2="73.36" y2="417.10" stroke="#000" stroke-width="0.5" stroke-opacity="0.14"/>
<line x1="73.64" y1="409.90" x2="73.64" y2="417.10" stroke="#000" stroke-width="0.5" stroke-opacity="0.13"/>
<line x1="73.98" y1="409.90" x2="73.98" y2="417.10" stroke="#000" stroke-width="0.5" stroke-opacity="0.40"/>
<line x1="74.35" y1="409.90" x2="74.35" y2="417.10" stroke="#000" stroke-width="0.5" stroke-opacity="0.16"/>
<line x1="76.17" y1="409.90" x2="76.17" y2="417.10" stroke="#000" stroke-width="0.5" stroke-opacity="0.39"/>
<line x1="77.06" y1="409.90" x2="77.06" y2="417.10" stroke="#000" stroke-width="0.5" stroke-opacity="0.45"/>
<line x1="77.23" y1="409.90" x2="77.23" y2="417.10" stroke="#000" stroke-width="0.5" stroke-opacity="0.50"/>
<line x1="77.36" y1="409.90" x2="77.36" y2="417.10" stroke="#000" stroke-width="0.5" stroke-opacity="0.43"/>
<line x1="79.42" y1="409.90" x2="79.42" y2="417.10" stroke="#000" stroke-width="0.5" stroke-opacity="0.28"/>
<line x1="80.79" y1="409.90" x2="80.79" y2="417.10" stroke="#000" stroke-width="0.5" stroke-opacity="0.36"/>
<line x1="81.19" y1="409.90" x2="81.19" y2="417.10" stroke="#000" stroke-width="0.5" stroke-opacity="0.44"/>
<line x1="81.68" y1="409.90" x2="81.68" y2="417.10" stroke="#000" stroke-width="0.5" stroke-opacity="0.39"/>
<line x1="84.00" y1="409.90" x2="84.00" y2="417.10" stroke="#000" stroke-width="0.5" stroke-opacity="0.23"/>
<line x1="87.79" y1="409.90" x2="87.79" y2="417.10" stroke="#000" stroke-width="0.5" stroke-opacity="0.41"/>
<line x1="90.70" y1="409.90" x2="90.70" y2="417.10" stroke="#000" stroke-width="0.5" stroke-opacity="0.16"/>
<line x1="91.45" y1="409.90" x2="91.45" y2="417.10" stroke="#000" stroke-width="0.5" stroke-opacity="0.24"/>
<line x1="91.54" y1="409.90" x2="91.54" y2="417.10" stroke="#000" stroke-width="0.5" stroke-opacity="0.50"/>
<line x1="92.18" y1="409.90" x2="92.18" y2="417.10" stroke="#000" stroke-width="0.5" stroke-opacity="0.30"/>
<line x1="103.00" y1="409.90" x2="103.00" y2="417.10" stroke="#000" stroke-width="0.5" stroke-opacity="0.22"/>
<line x1="103.06" y1="409.90" x2="103.06" y2="417.10" stroke="#000" stroke-width="0.5" stroke-opacity="0.42"/>
<line x1="104.56" y1="409.90" x2="104.56" y2="417.10" stroke="#000" stroke-width="0.5" stroke-opacity="0.29"/>
<line x1="104.88" y1="409.90" x2="104.88" y2="417.10" stroke="#000" stroke-width="0.5" stroke-opacity="0.12"/>
<line x1="105.48" y1="409.90" x2="105.48" y2="417.10" stroke="#000" stroke-width="0.5" stroke-opacity="0.13"/>
<line x1="108.56" y1="409.90" x2="108.56" y2="417.10" stroke="#000" stroke-width="0.5" stroke-opacity="0.22"/>
<line x1="109.24" y1="409.90" x2="109.24" y2="417.10" stroke="#000" stroke-width="0.5" stroke-opacity="0.25"/>
<line x1="109.93" y1="409.90" x2="109.93" y2="417.10" stroke="#000" stroke-width="0.5" stroke-opacity="0.48"/>
<line x1="110.10" y1="409.90" x2="110.10" y2="417.10" stroke="#000" stroke-width="0.5" stroke-opacity="0.21"/>
<line x1="110.60" y1="409.90" x2="110.60" y2="417.10" stroke="#000" stroke-width="0.5" stroke-opacity="0.44"/>
<line x1="112.75" y1="409.90" x2="112.75" y2="417.10" stroke="#000" stroke-width="0.5" stroke-opacity="0.44"/>
<line x1="115.41" y1="409.90" x2="115.41" y2="417.10" stroke="#000" stroke-width="0.5" stroke-opacity="0.28"/>
<line x1="120.37" y1="409.90" x2="120.37" y2="417.10" stroke="#000" stroke-width="0.5" stroke-opacity="0.50"/>
<line x1="123.78" y1="409.90" x2="123.78" y2="417.10" stroke="#000" stroke-width="0.5" stroke-opacity="0.41"/>
<line x1="24.80" y1="413.70" x2="129.50" y2="413.70" stroke="#444" stroke-width="0.55"/>
<path d="M30.30,413.70 L30.80,403.08 L31.30,392.26 L31.80,388.71 L32.30,385.23 L32.80,381.83 L33.30,378.47 L33.80,374.93 L34.30,371.56 L34.80,371.13 L35.30,370.69 L35.80,370.26 L36.30,369.12 L36.80,368.15 L37.30,367.72 L37.80,366.87 L38.30,366.39 L38.80,366.28 L39.30,366.00 L39.80,365.85 L40.30,365.64 L40.80,365.21 L41.30,365.35 L41.80,365.50 L42.30,364.88 L42.80,365.03 L43.30,364.62 L43.80,364.56 L44.30,364.47 L44.80,364.32 L45.30,363.99 L45.80,364.18 L46.30,363.89 L46.80,363.63 L47.30,363.82 L47.80,363.35 L48.30,363.54 L48.80,363.42 L49.30,363.86 L49.80,363.71 L50.30,363.87 L50.80,364.01 L51.30,364.07 L51.80,364.30 L52.30,364.35 L52.80,364.79 L53.30,364.66 L53.80,364.86 L54.30,364.47 L54.80,364.90 L55.30,365.47 L55.80,366.12 L56.30,366.09 L56.80,366.35 L57.30,366.21 L57.80,366.81 L58.30,367.42 L58.80,368.03 L59.30,368.64 L59.80,368.35 L60.30,369.01 L60.80,369.10 L61.30,369.31 L61.80,369.98 L62.30,370.07 L62.80,370.74 L63.30,371.00 L63.80,370.78 L64.30,371.43 L64.80,372.08 L65.30,372.73 L65.80,372.42 L66.30,373.08 L66.80,373.79 L67.30,373.96 L67.80,373.92 L68.30,374.64 L68.80,375.36 L69.30,374.99 L69.80,375.51 L70.30,376.04 L70.80,376.57 L71.30,377.10 L71.80,377.63 L72.30,378.16 L72.80,378.69 L73.30,379.22 L73.80,379.06 L74.30,379.55 L74.80,379.58 L75.30,380.30 L75.80,381.01 L76.30,380.92 L76.80,381.69 L77.30,382.02 L77.80,382.14 L78.30,382.87 L78.80,383.60 L79.30,384.32 L79.80,384.07 L80.30,384.84 L80.80,385.04 L81.30,385.53 L81.80,385.55 L82.30,386.25 L82.80,386.94 L83.30,387.64 L83.80,388.34 L84.30,387.83 L84.80,388.43 L85.30,389.03 L85.80,389.63 L86.30,390.23 L86.80,390.83 L87.30,391.43 L87.80,390.89 L88.30,391.54 L88.80,392.18 L89.30,392.83 L89.80,393.47 L90.30,394.12 L90.80,393.98 L91.30,394.74 L91.80,395.01 L92.30,394.94 L92.80,395.44 L93.30,395.94 L93.80,396.44 L94.30,396.94 L94.80,397.45 L95.30,397.95 L95.80,398.45 L96.30,398.95 L96.80,399.46 L97.30,399.96 L97.80,400.46 L98.30,400.96 L98.80,401.46 L99.30,401.97 L99.80,402.47 L100.30,402.97 L100.80,403.47 L101.30,403.98 L101.80,404.48 L102.30,404.98 L102.80,405.48 L103.30,405.06 L103.80,405.83 L104.30,406.59 L104.80,406.73 L105.30,407.15 L105.80,407.01 L106.30,407.58 L106.80,408.15 L107.30,408.73 L107.80,409.30 L108.30,409.88 L108.80,409.73 L109.30,410.00 L109.80,410.70 L110.30,410.92 L110.80,410.88 L111.30,411.53 L111.80,412.18 L112.30,412.84 L112.80,412.34 L113.30,412.95 L113.80,413.55 L114.30,414.36 L114.80,415.18 L115.30,416.01 L115.80,415.61 L116.30,416.34 L116.80,417.06 L117.30,417.79 L117.80,418.48 L118.30,418.91 L118.80,419.34 L119.30,419.77 L119.80,420.20 L120.30,419.64 L120.80,417.27 L121.30,416.05 L121.80,415.08 L122.30,414.38 L122.80,413.43 L122.92,413.22" fill="none" stroke="#26ea26" stroke-width="1.0" stroke-linejoin="round"/>
<line x1="23.90" y1="413.70" x2="25.30" y2="413.70" stroke="#555" stroke-width="0.4"/>
<text x="23.30" y="415.10" font-size="4.1" text-anchor="end" fill="#444">0</text>
<line x1="23.90" y1="394.65" x2="25.30" y2="394.65" stroke="#555" stroke-width="0.4"/>
<text x="23.30" y="396.05" font-size="4.1" text-anchor="end" fill="#444">0.2</text>
<line x1="23.90" y1="375.60" x2="25.30" y2="375.60" stroke="#555" stroke-width="0.4"/>
<text x="23.30" y="377.00" font-size="4.1" text-anchor="end" fill="#444">0.4</text>
<line x1="30.30" y1="422.57" x2="30.30" y2="424.37" stroke="#555" stroke-width="0.4"/>
<text x="30.30" y="429.67" font-size="3.8" text-anchor="middle" fill="#444">0</text>
<line x1="53.00" y1="422.57" x2="53.00" y2="424.37" stroke="#555" stroke-width="0.4"/>
<text x="53.00" y="429.67" font-size="3.8" text-anchor="middle" fill="#444">2,500</text>
<line x1="75.70" y1="422.57" x2="75.70" y2="424.37" stroke="#555" stroke-width="0.4"/>
<text x="75.70" y="429.67" font-size="3.8" text-anchor="middle" fill="#444">5,000</text>
<line x1="98.40" y1="422.57" x2="98.40" y2="424.37" stroke="#555" stroke-width="0.4"/>
<text x="98.40" y="429.67" font-size="3.8" text-anchor="middle" fill="#444">7,500</text>
<line x1="121.10" y1="422.57" x2="121.10" y2="424.37" stroke="#555" stroke-width="0.4"/>
<text x="121.10" y="429.67" font-size="3.8" text-anchor="middle" fill="#444">10,000</text>
<text x="14.80" y="391.89" font-size="4.6" text-anchor="middle" fill="#333" textLength="38.00" lengthAdjust="spacingAndGlyphs" transform="rotate(-90 14.80 391.89)">Enrichment score</text>
<text x="25.00" y="352.90" font-size="5.7" fill="#111">NES: 1.93</text>
<text x="24.10" y="359.90" font-size="5.9" fill="#111"><tspan font-style="italic">P</tspan><tspan font-size="4.3" dy="2.0">adj</tspan><tspan dy="-2.0">: </tspan><tspan fill="#f02828" font-size="6.5">1.5×10<tspan font-size="4.3" dy="-2.6">−5</tspan></tspan></text>
<line x1="158.40" y1="363.19" x2="158.40" y2="421.55" stroke="#f4f4f4" stroke-width="0.5"/>
<line x1="185.10" y1="363.19" x2="185.10" y2="421.55" stroke="#f4f4f4" stroke-width="0.5"/>
<line x1="211.80" y1="363.19" x2="211.80" y2="421.55" stroke="#f4f4f4" stroke-width="0.5"/>
<line x1="238.50" y1="363.19" x2="238.50" y2="421.55" stroke="#f4f4f4" stroke-width="0.5"/>
<line x1="153.00" y1="366.40" x2="257.00" y2="366.40" stroke="#f4f4f4" stroke-width="0.5"/>
<line x1="153.00" y1="377.80" x2="257.00" y2="377.80" stroke="#f4f4f4" stroke-width="0.5"/>
<line x1="153.00" y1="389.20" x2="257.00" y2="389.20" stroke="#f4f4f4" stroke-width="0.5"/>
<line x1="153.00" y1="400.60" x2="257.00" y2="400.60" stroke="#f4f4f4" stroke-width="0.5"/>
<line x1="153.00" y1="412.00" x2="257.00" y2="412.00" stroke="#f4f4f4" stroke-width="0.5"/>
<line x1="153.00" y1="423.40" x2="257.00" y2="423.40" stroke="#f4f4f4" stroke-width="0.5"/>
<line x1="153.00" y1="364.69" x2="257.00" y2="364.69" stroke="#f7c4c4" stroke-width="0.55"/>
<line x1="153.00" y1="420.55" x2="257.00" y2="420.55" stroke="#f7c4c4" stroke-width="0.55"/>
<line x1="165.22" y1="362.40" x2="165.22" y2="369.40" stroke="#000" stroke-width="0.5" stroke-opacity="0.26"/>
<line x1="167.29" y1="362.40" x2="167.29" y2="369.40" stroke="#000" stroke-width="0.5" stroke-opacity="0.33"/>
<line x1="167.50" y1="362.40" x2="167.50" y2="369.40" stroke="#000" stroke-width="0.5" stroke-opacity="0.35"/>
<line x1="167.95" y1="362.40" x2="167.95" y2="369.40" stroke="#000" stroke-width="0.5" stroke-opacity="0.48"/>
<line x1="172.79" y1="362.40" x2="172.79" y2="369.40" stroke="#000" stroke-width="0.5" stroke-opacity="0.41"/>
<line x1="172.88" y1="362.40" x2="172.88" y2="369.40" stroke="#000" stroke-width="0.5" stroke-opacity="0.31"/>
<line x1="173.24" y1="362.40" x2="173.24" y2="369.40" stroke="#000" stroke-width="0.5" stroke-opacity="0.44"/>
<line x1="173.49" y1="362.40" x2="173.49" y2="369.40" stroke="#000" stroke-width="0.5" stroke-opacity="0.26"/>
<line x1="173.93" y1="362.40" x2="173.93" y2="369.40" stroke="#000" stroke-width="0.5" stroke-opacity="0.27"/>
<line x1="176.80" y1="362.40" x2="176.80" y2="369.40" stroke="#000" stroke-width="0.5" stroke-opacity="0.48"/>
<line x1="178.69" y1="362.40" x2="178.69" y2="369.40" stroke="#000" stroke-width="0.5" stroke-opacity="0.33"/>
<line x1="179.14" y1="362.40" x2="179.14" y2="369.40" stroke="#000" stroke-width="0.5" stroke-opacity="0.41"/>
<line x1="179.20" y1="362.40" x2="179.20" y2="369.40" stroke="#000" stroke-width="0.5" stroke-opacity="0.24"/>
<line x1="179.54" y1="362.40" x2="179.54" y2="369.40" stroke="#000" stroke-width="0.5" stroke-opacity="0.47"/>
<line x1="179.74" y1="362.40" x2="179.74" y2="369.40" stroke="#000" stroke-width="0.5" stroke-opacity="0.35"/>
<line x1="180.24" y1="362.40" x2="180.24" y2="369.40" stroke="#000" stroke-width="0.5" stroke-opacity="0.21"/>
<line x1="180.49" y1="362.40" x2="180.49" y2="369.40" stroke="#000" stroke-width="0.5" stroke-opacity="0.47"/>
<line x1="180.96" y1="362.40" x2="180.96" y2="369.40" stroke="#000" stroke-width="0.5" stroke-opacity="0.30"/>
<line x1="181.94" y1="362.40" x2="181.94" y2="369.40" stroke="#000" stroke-width="0.5" stroke-opacity="0.25"/>
<line x1="182.21" y1="362.40" x2="182.21" y2="369.40" stroke="#000" stroke-width="0.5" stroke-opacity="0.22"/>
<line x1="182.71" y1="362.40" x2="182.71" y2="369.40" stroke="#000" stroke-width="0.5" stroke-opacity="0.16"/>
<line x1="184.69" y1="362.40" x2="184.69" y2="369.40" stroke="#000" stroke-width="0.5" stroke-opacity="0.20"/>
<line x1="185.72" y1="362.40" x2="185.72" y2="369.40" stroke="#000" stroke-width="0.5" stroke-opacity="0.38"/>
<line x1="185.98" y1="362.40" x2="185.98" y2="369.40" stroke="#000" stroke-width="0.5" stroke-opacity="0.17"/>
<line x1="186.13" y1="362.40" x2="186.13" y2="369.40" stroke="#000" stroke-width="0.5" stroke-opacity="0.22"/>
<line x1="187.59" y1="362.40" x2="187.59" y2="369.40" stroke="#000" stroke-width="0.5" stroke-opacity="0.29"/>
<line x1="187.93" y1="362.40" x2="187.93" y2="369.40" stroke="#000" stroke-width="0.5" stroke-opacity="0.33"/>
<line x1="189.18" y1="362.40" x2="189.18" y2="369.40" stroke="#000" stroke-width="0.5" stroke-opacity="0.26"/>
<line x1="191.63" y1="362.40" x2="191.63" y2="369.40" stroke="#000" stroke-width="0.5" stroke-opacity="0.42"/>
<line x1="194.75" y1="362.40" x2="194.75" y2="369.40" stroke="#000" stroke-width="0.5" stroke-opacity="0.22"/>
<line x1="195.12" y1="362.40" x2="195.12" y2="369.40" stroke="#000" stroke-width="0.5" stroke-opacity="0.26"/>
<line x1="196.73" y1="362.40" x2="196.73" y2="369.40" stroke="#000" stroke-width="0.5" stroke-opacity="0.28"/>
<line x1="196.93" y1="362.40" x2="196.93" y2="369.40" stroke="#000" stroke-width="0.5" stroke-opacity="0.17"/>
<line x1="197.21" y1="362.40" x2="197.21" y2="369.40" stroke="#000" stroke-width="0.5" stroke-opacity="0.20"/>
<line x1="197.78" y1="362.40" x2="197.78" y2="369.40" stroke="#000" stroke-width="0.5" stroke-opacity="0.18"/>
<line x1="199.76" y1="362.40" x2="199.76" y2="369.40" stroke="#000" stroke-width="0.5" stroke-opacity="0.40"/>
<line x1="200.89" y1="362.40" x2="200.89" y2="369.40" stroke="#000" stroke-width="0.5" stroke-opacity="0.18"/>
<line x1="201.02" y1="362.40" x2="201.02" y2="369.40" stroke="#000" stroke-width="0.5" stroke-opacity="0.37"/>
<line x1="201.57" y1="362.40" x2="201.57" y2="369.40" stroke="#000" stroke-width="0.5" stroke-opacity="0.20"/>
<line x1="202.55" y1="362.40" x2="202.55" y2="369.40" stroke="#000" stroke-width="0.5" stroke-opacity="0.37"/>
<line x1="202.61" y1="362.40" x2="202.61" y2="369.40" stroke="#000" stroke-width="0.5" stroke-opacity="0.37"/>
<line x1="202.64" y1="362.40" x2="202.64" y2="369.40" stroke="#000" stroke-width="0.5" stroke-opacity="0.25"/>
<line x1="202.76" y1="362.40" x2="202.76" y2="369.40" stroke="#000" stroke-width="0.5" stroke-opacity="0.47"/>
<line x1="202.94" y1="362.40" x2="202.94" y2="369.40" stroke="#000" stroke-width="0.5" stroke-opacity="0.37"/>
<line x1="204.02" y1="362.40" x2="204.02" y2="369.40" stroke="#000" stroke-width="0.5" stroke-opacity="0.33"/>
<line x1="204.23" y1="362.40" x2="204.23" y2="369.40" stroke="#000" stroke-width="0.5" stroke-opacity="0.14"/>
<line x1="204.62" y1="362.40" x2="204.62" y2="369.40" stroke="#000" stroke-width="0.5" stroke-opacity="0.27"/>
<line x1="205.62" y1="362.40" x2="205.62" y2="369.40" stroke="#000" stroke-width="0.5" stroke-opacity="0.22"/>
<line x1="208.37" y1="362.40" x2="208.37" y2="369.40" stroke="#000" stroke-width="0.5" stroke-opacity="0.30"/>
<line x1="208.41" y1="362.40" x2="208.41" y2="369.40" stroke="#000" stroke-width="0.5" stroke-opacity="0.47"/>
<line x1="208.82" y1="362.40" x2="208.82" y2="369.40" stroke="#000" stroke-width="0.5" stroke-opacity="0.45"/>
<line x1="209.14" y1="362.40" x2="209.14" y2="369.40" stroke="#000" stroke-width="0.5" stroke-opacity="0.14"/>
<line x1="209.35" y1="362.40" x2="209.35" y2="369.40" stroke="#000" stroke-width="0.5" stroke-opacity="0.38"/>
<line x1="209.54" y1="362.40" x2="209.54" y2="369.40" stroke="#000" stroke-width="0.5" stroke-opacity="0.47"/>
<line x1="209.69" y1="362.40" x2="209.69" y2="369.40" stroke="#000" stroke-width="0.5" stroke-opacity="0.33"/>
<line x1="212.10" y1="362.40" x2="212.10" y2="369.40" stroke="#000" stroke-width="0.5" stroke-opacity="0.16"/>
<line x1="212.98" y1="362.40" x2="212.98" y2="369.40" stroke="#000" stroke-width="0.5" stroke-opacity="0.45"/>
<line x1="213.91" y1="362.40" x2="213.91" y2="369.40" stroke="#000" stroke-width="0.5" stroke-opacity="0.28"/>
<line x1="214.23" y1="362.40" x2="214.23" y2="369.40" stroke="#000" stroke-width="0.5" stroke-opacity="0.49"/>
<line x1="215.13" y1="362.40" x2="215.13" y2="369.40" stroke="#000" stroke-width="0.5" stroke-opacity="0.45"/>
<line x1="217.75" y1="362.40" x2="217.75" y2="369.40" stroke="#000" stroke-width="0.5" stroke-opacity="0.43"/>
<line x1="218.25" y1="362.40" x2="218.25" y2="369.40" stroke="#000" stroke-width="0.5" stroke-opacity="0.47"/>
<line x1="218.27" y1="362.40" x2="218.27" y2="369.40" stroke="#000" stroke-width="0.5" stroke-opacity="0.15"/>
<line x1="219.27" y1="362.40" x2="219.27" y2="369.40" stroke="#000" stroke-width="0.5" stroke-opacity="0.42"/>
<line x1="220.18" y1="362.40" x2="220.18" y2="369.40" stroke="#000" stroke-width="0.5" stroke-opacity="0.24"/>
<line x1="221.73" y1="362.40" x2="221.73" y2="369.40" stroke="#000" stroke-width="0.5" stroke-opacity="0.17"/>
<line x1="221.82" y1="362.40" x2="221.82" y2="369.40" stroke="#000" stroke-width="0.5" stroke-opacity="0.26"/>
<line x1="223.19" y1="362.40" x2="223.19" y2="369.40" stroke="#000" stroke-width="0.5" stroke-opacity="0.34"/>
<line x1="223.52" y1="362.40" x2="223.52" y2="369.40" stroke="#000" stroke-width="0.5" stroke-opacity="0.12"/>
<line x1="224.51" y1="362.40" x2="224.51" y2="369.40" stroke="#000" stroke-width="0.5" stroke-opacity="0.29"/>
<line x1="224.71" y1="362.40" x2="224.71" y2="369.40" stroke="#000" stroke-width="0.5" stroke-opacity="0.42"/>
<line x1="225.11" y1="362.40" x2="225.11" y2="369.40" stroke="#000" stroke-width="0.5" stroke-opacity="0.31"/>
<line x1="225.20" y1="362.40" x2="225.20" y2="369.40" stroke="#000" stroke-width="0.5" stroke-opacity="0.32"/>
<line x1="225.34" y1="362.40" x2="225.34" y2="369.40" stroke="#000" stroke-width="0.5" stroke-opacity="0.23"/>
<line x1="225.58" y1="362.40" x2="225.58" y2="369.40" stroke="#000" stroke-width="0.5" stroke-opacity="0.49"/>
<line x1="225.62" y1="362.40" x2="225.62" y2="369.40" stroke="#000" stroke-width="0.5" stroke-opacity="0.21"/>
<line x1="226.19" y1="362.40" x2="226.19" y2="369.40" stroke="#000" stroke-width="0.5" stroke-opacity="0.38"/>
<line x1="226.48" y1="362.40" x2="226.48" y2="369.40" stroke="#000" stroke-width="0.5" stroke-opacity="0.37"/>
<line x1="226.83" y1="362.40" x2="226.83" y2="369.40" stroke="#000" stroke-width="0.5" stroke-opacity="0.12"/>
<line x1="227.15" y1="362.40" x2="227.15" y2="369.40" stroke="#000" stroke-width="0.5" stroke-opacity="0.50"/>
<line x1="228.27" y1="362.40" x2="228.27" y2="369.40" stroke="#000" stroke-width="0.5" stroke-opacity="0.21"/>
<line x1="228.62" y1="362.40" x2="228.62" y2="369.40" stroke="#000" stroke-width="0.5" stroke-opacity="0.50"/>
<line x1="229.57" y1="362.40" x2="229.57" y2="369.40" stroke="#000" stroke-width="0.5" stroke-opacity="0.47"/>
<line x1="230.70" y1="362.40" x2="230.70" y2="369.40" stroke="#000" stroke-width="0.5" stroke-opacity="0.46"/>
<line x1="231.14" y1="362.40" x2="231.14" y2="369.40" stroke="#000" stroke-width="0.5" stroke-opacity="0.44"/>
<line x1="232.18" y1="362.40" x2="232.18" y2="369.40" stroke="#000" stroke-width="0.5" stroke-opacity="0.27"/>
<line x1="232.34" y1="362.40" x2="232.34" y2="369.40" stroke="#000" stroke-width="0.5" stroke-opacity="0.29"/>
<line x1="232.68" y1="362.40" x2="232.68" y2="369.40" stroke="#000" stroke-width="0.5" stroke-opacity="0.25"/>
<line x1="235.38" y1="362.40" x2="235.38" y2="369.40" stroke="#000" stroke-width="0.5" stroke-opacity="0.48"/>
<line x1="235.45" y1="362.40" x2="235.45" y2="369.40" stroke="#000" stroke-width="0.5" stroke-opacity="0.13"/>
<line x1="235.92" y1="362.40" x2="235.92" y2="369.40" stroke="#000" stroke-width="0.5" stroke-opacity="0.17"/>
<line x1="236.22" y1="362.40" x2="236.22" y2="369.40" stroke="#000" stroke-width="0.5" stroke-opacity="0.48"/>
<line x1="236.49" y1="362.40" x2="236.49" y2="369.40" stroke="#000" stroke-width="0.5" stroke-opacity="0.43"/>
<line x1="237.27" y1="362.40" x2="237.27" y2="369.40" stroke="#000" stroke-width="0.5" stroke-opacity="0.39"/>
<line x1="239.68" y1="362.40" x2="239.68" y2="369.40" stroke="#000" stroke-width="0.5" stroke-opacity="0.49"/>
<line x1="239.72" y1="362.40" x2="239.72" y2="369.40" stroke="#000" stroke-width="0.5" stroke-opacity="0.32"/>
<line x1="241.54" y1="362.40" x2="241.54" y2="369.40" stroke="#000" stroke-width="0.5" stroke-opacity="0.44"/>
<line x1="244.87" y1="362.40" x2="244.87" y2="369.40" stroke="#000" stroke-width="0.5" stroke-opacity="0.29"/>
<line x1="245.11" y1="362.40" x2="245.11" y2="369.40" stroke="#000" stroke-width="0.5" stroke-opacity="0.46"/>
<line x1="246.53" y1="362.40" x2="246.53" y2="369.40" stroke="#000" stroke-width="0.5" stroke-opacity="0.15"/>
<line x1="247.13" y1="362.40" x2="247.13" y2="369.40" stroke="#000" stroke-width="0.5" stroke-opacity="0.29"/>
<line x1="247.23" y1="362.40" x2="247.23" y2="369.40" stroke="#000" stroke-width="0.5" stroke-opacity="0.34"/>
<line x1="247.23" y1="362.40" x2="247.23" y2="369.40" stroke="#000" stroke-width="0.5" stroke-opacity="0.42"/>
<line x1="247.38" y1="362.40" x2="247.38" y2="369.40" stroke="#000" stroke-width="0.5" stroke-opacity="0.28"/>
<line x1="248.63" y1="362.40" x2="248.63" y2="369.40" stroke="#000" stroke-width="0.5" stroke-opacity="0.38"/>
<line x1="153.00" y1="366.40" x2="257.00" y2="366.40" stroke="#444" stroke-width="0.55"/>
<path d="M158.40,366.40 L158.90,365.85 L159.40,366.67 L159.90,367.50 L160.40,368.32 L160.90,369.14 L161.40,369.96 L161.90,370.78 L162.40,371.60 L162.90,372.42 L163.40,372.85 L163.90,373.19 L164.40,373.53 L164.90,373.88 L165.40,371.68 L165.90,372.46 L166.40,373.24 L166.90,374.03 L167.40,373.35 L167.90,373.71 L168.40,372.51 L168.90,373.03 L169.40,373.65 L169.90,374.26 L170.40,374.87 L170.90,375.49 L171.40,376.10 L171.90,376.72 L172.40,377.33 L172.90,376.31 L173.40,376.89 L173.90,377.42 L174.40,376.60 L174.90,377.45 L175.40,378.29 L175.90,379.14 L176.40,379.99 L176.90,378.28 L177.40,379.29 L177.90,380.30 L178.40,381.31 L178.90,380.82 L179.40,381.24 L179.90,381.46 L180.40,381.99 L180.90,382.54 L181.40,382.61 L181.90,383.62 L182.40,383.20 L182.90,382.48 L183.40,383.35 L183.90,384.22 L184.40,385.09 L184.90,384.03 L185.40,384.90 L185.90,384.95 L186.40,384.52 L186.90,385.39 L187.40,386.26 L187.90,385.98 L188.40,385.84 L188.90,386.71 L189.40,385.37 L189.90,386.35 L190.40,387.43 L190.90,388.51 L191.40,389.60 L191.90,387.88 L192.40,388.85 L192.90,389.81 L193.40,390.78 L193.90,391.74 L194.40,392.70 L194.90,392.12 L195.40,392.02 L195.90,393.19 L196.40,394.35 L196.90,394.37 L197.40,394.72 L197.90,394.32 L198.40,395.55 L198.90,396.78 L199.40,398.02 L199.90,397.26 L200.40,398.49 L200.90,398.92 L201.40,399.72 L201.90,399.97 L202.40,401.20 L202.90,401.42 L203.40,401.85 L203.90,403.08 L204.40,403.12 L204.90,403.46 L205.40,404.70 L205.90,403.84 L206.40,404.93 L206.90,405.93 L207.40,406.83 L207.90,407.73 L208.40,407.24 L208.90,407.53 L209.40,407.97 L209.90,407.31 L210.40,408.28 L210.90,409.25 L211.40,410.22 L211.90,411.19 L212.40,410.27 L212.90,411.31 L213.40,411.19 L213.90,412.23 L214.40,411.69 L214.90,412.74 L215.40,411.77 L215.90,412.69 L216.40,413.55 L216.90,414.33 L217.40,415.11 L217.90,414.23 L218.40,414.15 L218.90,415.04 L219.40,414.71 L219.90,415.61 L220.40,414.93 L220.90,415.82 L221.40,416.72 L221.90,415.63 L222.40,416.53 L222.90,417.42 L223.40,417.23 L223.90,417.25 L224.40,418.05 L224.90,417.70 L225.40,417.78 L225.90,418.01 L226.40,418.26 L226.90,418.21 L227.40,418.08 L227.90,418.87 L228.40,418.73 L228.90,418.64 L229.40,419.36 L229.90,418.75 L230.40,419.46 L230.90,419.17 L231.40,418.94 L231.90,419.66 L232.40,419.37 L232.90,418.90 L233.40,419.77 L233.90,417.45 L234.40,415.14 L234.90,412.83 L235.40,409.54 L235.90,409.05 L236.40,408.05 L236.90,407.23 L237.40,405.19 L237.90,404.98 L238.40,404.76 L238.90,404.54 L239.40,403.87 L239.90,400.62 L240.40,399.99 L240.90,399.37 L241.40,398.74 L241.90,395.42 L242.40,394.57 L242.90,393.37 L243.40,391.80 L243.90,390.22 L244.40,388.65 L244.90,385.56 L245.40,383.16 L245.90,381.81 L246.40,380.46 L246.90,378.59 L247.40,376.71 L247.90,376.35 L248.40,375.98 L248.90,373.78 L249.40,372.79 L249.90,369.63 L250.25,366.40" fill="none" stroke="#26ea26" stroke-width="1.0" stroke-linejoin="round"/>
<line x1="152.10" y1="366.40" x2="153.50" y2="366.40" stroke="#555" stroke-width="0.4"/>
<text x="151.50" y="367.80" font-size="4.1" text-anchor="end" fill="#444">0</text>
<line x1="152.10" y1="377.80" x2="153.50" y2="377.80" stroke="#555" stroke-width="0.4"/>
<text x="151.50" y="379.20" font-size="4.1" text-anchor="end" fill="#444">−0.1</text>
<line x1="152.10" y1="389.20" x2="153.50" y2="389.20" stroke="#555" stroke-width="0.4"/>
<text x="151.50" y="390.60" font-size="4.1" text-anchor="end" fill="#444">−0.2</text>
<line x1="152.10" y1="400.60" x2="153.50" y2="400.60" stroke="#555" stroke-width="0.4"/>
<text x="151.50" y="402.00" font-size="4.1" text-anchor="end" fill="#444">−0.3</text>
<line x1="152.10" y1="412.00" x2="153.50" y2="412.00" stroke="#555" stroke-width="0.4"/>
<text x="151.50" y="413.40" font-size="4.1" text-anchor="end" fill="#444">−0.4</text>
<line x1="152.10" y1="423.40" x2="153.50" y2="423.40" stroke="#555" stroke-width="0.4"/>
<text x="151.50" y="424.80" font-size="4.1" text-anchor="end" fill="#444">−0.5</text>
<line x1="158.40" y1="422.75" x2="158.40" y2="424.55" stroke="#555" stroke-width="0.4"/>
<text x="158.40" y="429.85" font-size="3.8" text-anchor="middle" fill="#444">0</text>
<line x1="185.10" y1="422.75" x2="185.10" y2="424.55" stroke="#555" stroke-width="0.4"/>
<text x="185.10" y="429.85" font-size="3.8" text-anchor="middle" fill="#444">2,500</text>
<line x1="211.80" y1="422.75" x2="211.80" y2="424.55" stroke="#555" stroke-width="0.4"/>
<text x="211.80" y="429.85" font-size="3.8" text-anchor="middle" fill="#444">5,000</text>
<line x1="238.50" y1="422.75" x2="238.50" y2="424.55" stroke="#555" stroke-width="0.4"/>
<text x="238.50" y="429.85" font-size="3.8" text-anchor="middle" fill="#444">7,500</text>
<text x="141.00" y="392.62" font-size="4.6" text-anchor="middle" fill="#333" textLength="38.00" lengthAdjust="spacingAndGlyphs" transform="rotate(-90 141.00 392.62)">Enrichment score</text>
<text x="152.90" y="353.30" font-size="5.7" fill="#111">NES: -1.86</text>
<text x="152.00" y="360.30" font-size="5.9" fill="#111"><tspan font-style="italic">P</tspan><tspan font-size="4.3" dy="2.0">adj</tspan><tspan dy="-2.0">: </tspan><tspan fill="#f02828" font-size="6.5">0.00071</tspan></text>
<line x1="30.30" y1="451.75" x2="30.30" y2="511.30" stroke="#f4f4f4" stroke-width="0.5"/>
<line x1="53.00" y1="451.75" x2="53.00" y2="511.30" stroke="#f4f4f4" stroke-width="0.5"/>
<line x1="75.70" y1="451.75" x2="75.70" y2="511.30" stroke="#f4f4f4" stroke-width="0.5"/>
<line x1="98.40" y1="451.75" x2="98.40" y2="511.30" stroke="#f4f4f4" stroke-width="0.5"/>
<line x1="121.10" y1="451.75" x2="121.10" y2="511.30" stroke="#f4f4f4" stroke-width="0.5"/>
<line x1="24.80" y1="492.90" x2="129.50" y2="492.90" stroke="#f4f4f4" stroke-width="0.5"/>
<line x1="24.80" y1="508.30" x2="129.50" y2="508.30" stroke="#f4f4f4" stroke-width="0.5"/>
<line x1="24.80" y1="477.50" x2="129.50" y2="477.50" stroke="#f4f4f4" stroke-width="0.5"/>
<line x1="24.80" y1="462.10" x2="129.50" y2="462.10" stroke="#f4f4f4" stroke-width="0.5"/>
<line x1="24.80" y1="453.25" x2="129.50" y2="453.25" stroke="#f7c4c4" stroke-width="0.55"/>
<line x1="24.80" y1="510.30" x2="129.50" y2="510.30" stroke="#f7c4c4" stroke-width="0.55"/>
<line x1="30.45" y1="489.10" x2="30.45" y2="496.50" stroke="#000" stroke-width="0.5" stroke-opacity="0.35"/>
<line x1="30.51" y1="489.10" x2="30.51" y2="496.50" stroke="#000" stroke-width="0.5" stroke-opacity="0.39"/>
<line x1="30.54" y1="489.10" x2="30.54" y2="496.50" stroke="#000" stroke-width="0.5" stroke-opacity="0.25"/>
<line x1="30.90" y1="489.10" x2="30.90" y2="496.50" stroke="#000" stroke-width="0.5" stroke-opacity="0.14"/>
<line x1="31.30" y1="489.10" x2="31.30" y2="496.50" stroke="#000" stroke-width="0.5" stroke-opacity="0.19"/>
<line x1="31.57" y1="489.10" x2="31.57" y2="496.50" stroke="#000" stroke-width="0.5" stroke-opacity="0.45"/>
<line x1="31.78" y1="489.10" x2="31.78" y2="496.50" stroke="#000" stroke-width="0.5" stroke-opacity="0.40"/>
<line x1="32.08" y1="489.10" x2="32.08" y2="496.50" stroke="#000" stroke-width="0.5" stroke-opacity="0.16"/>
<line x1="32.31" y1="489.10" x2="32.31" y2="496.50" stroke="#000" stroke-width="0.5" stroke-opacity="0.44"/>
<line x1="32.49" y1="489.10" x2="32.49" y2="496.50" stroke="#000" stroke-width="0.5" stroke-opacity="0.34"/>
<line x1="32.58" y1="489.10" x2="32.58" y2="496.50" stroke="#000" stroke-width="0.5" stroke-opacity="0.25"/>
<line x1="33.14" y1="489.10" x2="33.14" y2="496.50" stroke="#000" stroke-width="0.5" stroke-opacity="0.46"/>
<line x1="33.21" y1="489.10" x2="33.21" y2="496.50" stroke="#000" stroke-width="0.5" stroke-opacity="0.17"/>
<line x1="33.24" y1="489.10" x2="33.24" y2="496.50" stroke="#000" stroke-width="0.5" stroke-opacity="0.16"/>
<line x1="33.29" y1="489.10" x2="33.29" y2="496.50" stroke="#000" stroke-width="0.5" stroke-opacity="0.25"/>
<line x1="33.35" y1="489.10" x2="33.35" y2="496.50" stroke="#000" stroke-width="0.5" stroke-opacity="0.40"/>
<line x1="33.65" y1="489.10" x2="33.65" y2="496.50" stroke="#000" stroke-width="0.5" stroke-opacity="0.33"/>
<line x1="33.87" y1="489.10" x2="33.87" y2="496.50" stroke="#000" stroke-width="0.5" stroke-opacity="0.30"/>
<line x1="33.94" y1="489.10" x2="33.94" y2="496.50" stroke="#000" stroke-width="0.5" stroke-opacity="0.46"/>
<line x1="34.26" y1="489.10" x2="34.26" y2="496.50" stroke="#000" stroke-width="0.5" stroke-opacity="0.27"/>
<line x1="34.35" y1="489.10" x2="34.35" y2="496.50" stroke="#000" stroke-width="0.5" stroke-opacity="0.42"/>
<line x1="34.60" y1="489.10" x2="34.60" y2="496.50" stroke="#000" stroke-width="0.5" stroke-opacity="0.12"/>
<line x1="34.80" y1="489.10" x2="34.80" y2="496.50" stroke="#000" stroke-width="0.5" stroke-opacity="0.42"/>
<line x1="34.88" y1="489.10" x2="34.88" y2="496.50" stroke="#000" stroke-width="0.5" stroke-opacity="0.18"/>
<line x1="35.40" y1="489.10" x2="35.40" y2="496.50" stroke="#000" stroke-width="0.5" stroke-opacity="0.37"/>
<line x1="35.45" y1="489.10" x2="35.45" y2="496.50" stroke="#000" stroke-width="0.5" stroke-opacity="0.44"/>
<line x1="35.64" y1="489.10" x2="35.64" y2="496.50" stroke="#000" stroke-width="0.5" stroke-opacity="0.37"/>
<line x1="36.09" y1="489.10" x2="36.09" y2="496.50" stroke="#000" stroke-width="0.5" stroke-opacity="0.34"/>
<line x1="36.26" y1="489.10" x2="36.26" y2="496.50" stroke="#000" stroke-width="0.5" stroke-opacity="0.33"/>
<line x1="36.53" y1="489.10" x2="36.53" y2="496.50" stroke="#000" stroke-width="0.5" stroke-opacity="0.41"/>
<line x1="36.59" y1="489.10" x2="36.59" y2="496.50" stroke="#000" stroke-width="0.5" stroke-opacity="0.26"/>
<line x1="36.68" y1="489.10" x2="36.68" y2="496.50" stroke="#000" stroke-width="0.5" stroke-opacity="0.21"/>
<line x1="36.80" y1="489.10" x2="36.80" y2="496.50" stroke="#000" stroke-width="0.5" stroke-opacity="0.33"/>
<line x1="37.36" y1="489.10" x2="37.36" y2="496.50" stroke="#000" stroke-width="0.5" stroke-opacity="0.32"/>
<line x1="37.48" y1="489.10" x2="37.48" y2="496.50" stroke="#000" stroke-width="0.5" stroke-opacity="0.16"/>
<line x1="37.54" y1="489.10" x2="37.54" y2="496.50" stroke="#000" stroke-width="0.5" stroke-opacity="0.32"/>
<line x1="38.51" y1="489.10" x2="38.51" y2="496.50" stroke="#000" stroke-width="0.5" stroke-opacity="0.30"/>
<line x1="38.96" y1="489.10" x2="38.96" y2="496.50" stroke="#000" stroke-width="0.5" stroke-opacity="0.18"/>
<line x1="39.08" y1="489.10" x2="39.08" y2="496.50" stroke="#000" stroke-width="0.5" stroke-opacity="0.39"/>
<line x1="39.30" y1="489.10" x2="39.30" y2="496.50" stroke="#000" stroke-width="0.5" stroke-opacity="0.42"/>
<line x1="39.44" y1="489.10" x2="39.44" y2="496.50" stroke="#000" stroke-width="0.5" stroke-opacity="0.25"/>
<line x1="39.66" y1="489.10" x2="39.66" y2="496.50" stroke="#000" stroke-width="0.5" stroke-opacity="0.45"/>
<line x1="40.44" y1="489.10" x2="40.44" y2="496.50" stroke="#000" stroke-width="0.5" stroke-opacity="0.50"/>
<line x1="40.79" y1="489.10" x2="40.79" y2="496.50" stroke="#000" stroke-width="0.5" stroke-opacity="0.37"/>
<line x1="40.98" y1="489.10" x2="40.98" y2="496.50" stroke="#000" stroke-width="0.5" stroke-opacity="0.27"/>
<line x1="41.20" y1="489.10" x2="41.20" y2="496.50" stroke="#000" stroke-width="0.5" stroke-opacity="0.22"/>
<line x1="41.20" y1="489.10" x2="41.20" y2="496.50" stroke="#000" stroke-width="0.5" stroke-opacity="0.17"/>
<line x1="41.28" y1="489.10" x2="41.28" y2="496.50" stroke="#000" stroke-width="0.5" stroke-opacity="0.22"/>
<line x1="41.42" y1="489.10" x2="41.42" y2="496.50" stroke="#000" stroke-width="0.5" stroke-opacity="0.50"/>
<line x1="41.48" y1="489.10" x2="41.48" y2="496.50" stroke="#000" stroke-width="0.5" stroke-opacity="0.14"/>
<line x1="41.58" y1="489.10" x2="41.58" y2="496.50" stroke="#000" stroke-width="0.5" stroke-opacity="0.47"/>
<line x1="42.06" y1="489.10" x2="42.06" y2="496.50" stroke="#000" stroke-width="0.5" stroke-opacity="0.38"/>
<line x1="42.12" y1="489.10" x2="42.12" y2="496.50" stroke="#000" stroke-width="0.5" stroke-opacity="0.42"/>
<line x1="42.22" y1="489.10" x2="42.22" y2="496.50" stroke="#000" stroke-width="0.5" stroke-opacity="0.16"/>
<line x1="42.31" y1="489.10" x2="42.31" y2="496.50" stroke="#000" stroke-width="0.5" stroke-opacity="0.37"/>
<line x1="42.35" y1="489.10" x2="42.35" y2="496.50" stroke="#000" stroke-width="0.5" stroke-opacity="0.20"/>
<line x1="42.57" y1="489.10" x2="42.57" y2="496.50" stroke="#000" stroke-width="0.5" stroke-opacity="0.38"/>
<line x1="42.84" y1="489.10" x2="42.84" y2="496.50" stroke="#000" stroke-width="0.5" stroke-opacity="0.42"/>
<line x1="42.95" y1="489.10" x2="42.95" y2="496.50" stroke="#000" stroke-width="0.5" stroke-opacity="0.39"/>
<line x1="43.01" y1="489.10" x2="43.01" y2="496.50" stroke="#000" stroke-width="0.5" stroke-opacity="0.32"/>
<line x1="43.80" y1="489.10" x2="43.80" y2="496.50" stroke="#000" stroke-width="0.5" stroke-opacity="0.46"/>
<line x1="43.83" y1="489.10" x2="43.83" y2="496.50" stroke="#000" stroke-width="0.5" stroke-opacity="0.21"/>
<line x1="44.19" y1="489.10" x2="44.19" y2="496.50" stroke="#000" stroke-width="0.5" stroke-opacity="0.18"/>
<line x1="44.43" y1="489.10" x2="44.43" y2="496.50" stroke="#000" stroke-width="0.5" stroke-opacity="0.45"/>
<line x1="45.21" y1="489.10" x2="45.21" y2="496.50" stroke="#000" stroke-width="0.5" stroke-opacity="0.14"/>
<line x1="46.03" y1="489.10" x2="46.03" y2="496.50" stroke="#000" stroke-width="0.5" stroke-opacity="0.28"/>
<line x1="47.89" y1="489.10" x2="47.89" y2="496.50" stroke="#000" stroke-width="0.5" stroke-opacity="0.28"/>
<line x1="48.49" y1="489.10" x2="48.49" y2="496.50" stroke="#000" stroke-width="0.5" stroke-opacity="0.45"/>
<line x1="49.42" y1="489.10" x2="49.42" y2="496.50" stroke="#000" stroke-width="0.5" stroke-opacity="0.26"/>
<line x1="50.18" y1="489.10" x2="50.18" y2="496.50" stroke="#000" stroke-width="0.5" stroke-opacity="0.34"/>
<line x1="51.43" y1="489.10" x2="51.43" y2="496.50" stroke="#000" stroke-width="0.5" stroke-opacity="0.31"/>
<line x1="51.83" y1="489.10" x2="51.83" y2="496.50" stroke="#000" stroke-width="0.5" stroke-opacity="0.30"/>
<line x1="52.06" y1="489.10" x2="52.06" y2="496.50" stroke="#000" stroke-width="0.5" stroke-opacity="0.30"/>
<line x1="52.18" y1="489.10" x2="52.18" y2="496.50" stroke="#000" stroke-width="0.5" stroke-opacity="0.30"/>
<line x1="52.40" y1="489.10" x2="52.40" y2="496.50" stroke="#000" stroke-width="0.5" stroke-opacity="0.35"/>
<line x1="52.54" y1="489.10" x2="52.54" y2="496.50" stroke="#000" stroke-width="0.5" stroke-opacity="0.28"/>
<line x1="53.87" y1="489.10" x2="53.87" y2="496.50" stroke="#000" stroke-width="0.5" stroke-opacity="0.28"/>
<line x1="54.33" y1="489.10" x2="54.33" y2="496.50" stroke="#000" stroke-width="0.5" stroke-opacity="0.47"/>
<line x1="56.22" y1="489.10" x2="56.22" y2="496.50" stroke="#000" stroke-width="0.5" stroke-opacity="0.49"/>
<line x1="57.14" y1="489.10" x2="57.14" y2="496.50" stroke="#000" stroke-width="0.5" stroke-opacity="0.21"/>
<line x1="57.84" y1="489.10" x2="57.84" y2="496.50" stroke="#000" stroke-width="0.5" stroke-opacity="0.48"/>
<line x1="58.19" y1="489.10" x2="58.19" y2="496.50" stroke="#000" stroke-width="0.5" stroke-opacity="0.13"/>
<line x1="59.03" y1="489.10" x2="59.03" y2="496.50" stroke="#000" stroke-width="0.5" stroke-opacity="0.25"/>
<line x1="59.10" y1="489.10" x2="59.10" y2="496.50" stroke="#000" stroke-width="0.5" stroke-opacity="0.46"/>
<line x1="60.06" y1="489.10" x2="60.06" y2="496.50" stroke="#000" stroke-width="0.5" stroke-opacity="0.18"/>
<line x1="60.26" y1="489.10" x2="60.26" y2="496.50" stroke="#000" stroke-width="0.5" stroke-opacity="0.37"/>
<line x1="60.32" y1="489.10" x2="60.32" y2="496.50" stroke="#000" stroke-width="0.5" stroke-opacity="0.50"/>
<line x1="60.71" y1="489.10" x2="60.71" y2="496.50" stroke="#000" stroke-width="0.5" stroke-opacity="0.35"/>
<line x1="61.02" y1="489.10" x2="61.02" y2="496.50" stroke="#000" stroke-width="0.5" stroke-opacity="0.29"/>
<line x1="61.63" y1="489.10" x2="61.63" y2="496.50" stroke="#000" stroke-width="0.5" stroke-opacity="0.13"/>
<line x1="62.40" y1="489.10" x2="62.40" y2="496.50" stroke="#000" stroke-width="0.5" stroke-opacity="0.29"/>
<line x1="62.61" y1="489.10" x2="62.61" y2="496.50" stroke="#000" stroke-width="0.5" stroke-opacity="0.30"/>
<line x1="65.09" y1="489.10" x2="65.09" y2="496.50" stroke="#000" stroke-width="0.5" stroke-opacity="0.42"/>
<line x1="67.18" y1="489.10" x2="67.18" y2="496.50" stroke="#000" stroke-width="0.5" stroke-opacity="0.27"/>
<line x1="70.91" y1="489.10" x2="70.91" y2="496.50" stroke="#000" stroke-width="0.5" stroke-opacity="0.43"/>
<line x1="73.12" y1="489.10" x2="73.12" y2="496.50" stroke="#000" stroke-width="0.5" stroke-opacity="0.27"/>
<line x1="73.88" y1="489.10" x2="73.88" y2="496.50" stroke="#000" stroke-width="0.5" stroke-opacity="0.36"/>
<line x1="74.38" y1="489.10" x2="74.38" y2="496.50" stroke="#000" stroke-width="0.5" stroke-opacity="0.41"/>
<line x1="74.41" y1="489.10" x2="74.41" y2="496.50" stroke="#000" stroke-width="0.5" stroke-opacity="0.18"/>
<line x1="75.53" y1="489.10" x2="75.53" y2="496.50" stroke="#000" stroke-width="0.5" stroke-opacity="0.48"/>
<line x1="75.84" y1="489.10" x2="75.84" y2="496.50" stroke="#000" stroke-width="0.5" stroke-opacity="0.29"/>
<line x1="80.43" y1="489.10" x2="80.43" y2="496.50" stroke="#000" stroke-width="0.5" stroke-opacity="0.30"/>
<line x1="83.17" y1="489.10" x2="83.17" y2="496.50" stroke="#000" stroke-width="0.5" stroke-opacity="0.49"/>
<line x1="83.98" y1="489.10" x2="83.98" y2="496.50" stroke="#000" stroke-width="0.5" stroke-opacity="0.34"/>
<line x1="85.04" y1="489.10" x2="85.04" y2="496.50" stroke="#000" stroke-width="0.5" stroke-opacity="0.32"/>
<line x1="85.78" y1="489.10" x2="85.78" y2="496.50" stroke="#000" stroke-width="0.5" stroke-opacity="0.20"/>
<line x1="87.05" y1="489.10" x2="87.05" y2="496.50" stroke="#000" stroke-width="0.5" stroke-opacity="0.20"/>
<line x1="90.43" y1="489.10" x2="90.43" y2="496.50" stroke="#000" stroke-width="0.5" stroke-opacity="0.41"/>
<line x1="91.18" y1="489.10" x2="91.18" y2="496.50" stroke="#000" stroke-width="0.5" stroke-opacity="0.31"/>
<line x1="93.69" y1="489.10" x2="93.69" y2="496.50" stroke="#000" stroke-width="0.5" stroke-opacity="0.37"/>
<line x1="93.72" y1="489.10" x2="93.72" y2="496.50" stroke="#000" stroke-width="0.5" stroke-opacity="0.38"/>
<line x1="97.01" y1="489.10" x2="97.01" y2="496.50" stroke="#000" stroke-width="0.5" stroke-opacity="0.38"/>
<line x1="110.62" y1="489.10" x2="110.62" y2="496.50" stroke="#000" stroke-width="0.5" stroke-opacity="0.24"/>
<line x1="110.66" y1="489.10" x2="110.66" y2="496.50" stroke="#000" stroke-width="0.5" stroke-opacity="0.45"/>
<line x1="110.79" y1="489.10" x2="110.79" y2="496.50" stroke="#000" stroke-width="0.5" stroke-opacity="0.29"/>
<line x1="114.32" y1="489.10" x2="114.32" y2="496.50" stroke="#000" stroke-width="0.5" stroke-opacity="0.19"/>
<line x1="116.60" y1="489.10" x2="116.60" y2="496.50" stroke="#000" stroke-width="0.5" stroke-opacity="0.45"/>
<line x1="24.80" y1="492.90" x2="129.50" y2="492.90" stroke="#444" stroke-width="0.55"/>
<path d="M30.30,492.90 L30.80,484.85 L31.30,476.82 L31.80,474.44 L32.30,472.34 L32.80,470.03 L33.30,468.08 L33.80,467.24 L34.30,466.33 L34.80,465.44 L35.30,464.66 L35.80,463.66 L36.30,462.77 L36.80,461.96 L37.30,461.17 L37.80,460.06 L38.30,459.53 L38.80,458.72 L39.30,458.03 L39.80,457.15 L40.30,456.69 L40.80,455.81 L41.30,455.13 L41.80,454.44 L42.30,453.75 L42.80,453.33 L43.30,453.35 L43.80,453.73 L44.30,453.64 L44.80,453.76 L45.30,453.73 L45.80,454.11 L46.30,453.81 L46.80,454.18 L47.30,454.55 L47.80,455.03 L48.30,454.91 L48.80,455.01 L49.30,455.51 L49.80,455.58 L50.30,455.56 L50.80,456.06 L51.30,456.55 L51.80,456.63 L52.30,456.79 L52.80,456.82 L53.30,457.32 L53.80,457.82 L54.30,457.86 L54.80,457.77 L55.30,458.26 L55.80,458.74 L56.30,458.53 L56.80,459.03 L57.30,459.24 L57.80,459.90 L58.30,459.99 L58.80,460.65 L59.30,460.81 L59.80,461.47 L60.30,461.77 L60.80,462.13 L61.30,462.56 L61.80,462.87 L62.30,463.52 L62.80,463.39 L63.30,463.98 L63.80,464.57 L64.30,465.16 L64.80,465.75 L65.30,465.43 L65.80,466.06 L66.30,466.68 L66.80,467.31 L67.30,466.99 L67.80,467.52 L68.30,468.05 L68.80,468.59 L69.30,469.12 L69.80,469.65 L70.30,470.18 L70.80,470.71 L71.30,470.38 L71.80,471.00 L72.30,471.62 L72.80,472.24 L73.30,472.21 L73.80,472.88 L74.30,473.22 L74.80,473.45 L75.30,474.11 L75.80,474.41 L76.30,474.37 L76.80,474.86 L77.30,475.34 L77.80,475.83 L78.30,476.31 L78.80,476.79 L79.30,477.28 L79.80,477.76 L80.30,478.25 L80.80,477.86 L81.30,478.41 L81.80,478.96 L82.30,479.51 L82.80,480.07 L83.30,479.97 L83.80,480.61 L84.30,480.77 L84.80,481.41 L85.30,481.59 L85.80,481.73 L86.30,482.38 L86.80,483.04 L87.30,482.85 L87.80,483.38 L88.30,483.92 L88.80,484.45 L89.30,484.99 L89.80,485.53 L90.30,486.06 L90.80,486.03 L91.30,486.02 L91.80,486.60 L92.30,487.19 L92.80,487.77 L93.30,488.35 L93.80,488.00 L94.30,488.54 L94.80,489.08 L95.30,489.66 L95.80,490.25 L96.30,490.84 L96.80,491.43 L97.30,491.03 L97.80,491.51 L98.30,491.99 L98.80,492.47 L99.30,492.96 L99.80,493.44 L100.30,493.92 L100.80,494.40 L101.30,494.88 L101.80,495.37 L102.30,495.85 L102.80,496.33 L103.30,496.81 L103.80,497.30 L104.30,497.78 L104.80,498.18 L105.30,498.56 L105.80,498.95 L106.30,499.33 L106.80,499.72 L107.30,500.10 L107.80,500.49 L108.30,500.87 L108.80,501.26 L109.30,501.64 L109.80,502.03 L110.30,502.41 L110.80,501.86 L111.30,502.34 L111.80,502.83 L112.30,503.31 L112.80,503.79 L113.30,504.27 L113.80,504.75 L114.30,505.20 L114.80,504.80 L115.30,505.32 L115.80,505.84 L116.30,506.36 L116.80,505.91 L117.30,506.30 L117.80,506.69 L118.30,507.08 L118.80,507.47 L119.30,507.86 L119.80,508.25 L120.30,508.64 L120.80,509.03 L121.30,509.42 L121.80,509.81 L122.30,510.21 L122.80,510.17 L123.05,492.90" fill="none" stroke="#26ea26" stroke-width="1.0" stroke-linejoin="round"/>
<line x1="23.90" y1="492.90" x2="25.30" y2="492.90" stroke="#555" stroke-width="0.4"/>
<text x="23.30" y="494.30" font-size="4.1" text-anchor="end" fill="#444">0</text>
<line x1="23.90" y1="508.30" x2="25.30" y2="508.30" stroke="#555" stroke-width="0.4"/>
<text x="23.30" y="509.70" font-size="4.1" text-anchor="end" fill="#444">−0.2</text>
<line x1="23.90" y1="477.50" x2="25.30" y2="477.50" stroke="#555" stroke-width="0.4"/>
<text x="23.30" y="478.90" font-size="4.1" text-anchor="end" fill="#444">0.2</text>
<line x1="23.90" y1="462.10" x2="25.30" y2="462.10" stroke="#555" stroke-width="0.4"/>
<text x="23.30" y="463.50" font-size="4.1" text-anchor="end" fill="#444">0.4</text>
<line x1="30.30" y1="512.50" x2="30.30" y2="514.30" stroke="#555" stroke-width="0.4"/>
<text x="30.30" y="519.60" font-size="3.8" text-anchor="middle" fill="#444">0</text>
<line x1="53.00" y1="512.50" x2="53.00" y2="514.30" stroke="#555" stroke-width="0.4"/>
<text x="53.00" y="519.60" font-size="3.8" text-anchor="middle" fill="#444">2,500</text>
<line x1="75.70" y1="512.50" x2="75.70" y2="514.30" stroke="#555" stroke-width="0.4"/>
<text x="75.70" y="519.60" font-size="3.8" text-anchor="middle" fill="#444">5,000</text>
<line x1="98.40" y1="512.50" x2="98.40" y2="514.30" stroke="#555" stroke-width="0.4"/>
<text x="98.40" y="519.60" font-size="3.8" text-anchor="middle" fill="#444">7,500</text>
<line x1="121.10" y1="512.50" x2="121.10" y2="514.30" stroke="#555" stroke-width="0.4"/>
<text x="121.10" y="519.60" font-size="3.8" text-anchor="middle" fill="#444">10,000</text>
<text x="14.80" y="481.77" font-size="4.6" text-anchor="middle" fill="#333" textLength="38.00" lengthAdjust="spacingAndGlyphs" transform="rotate(-90 14.80 481.77)">Enrichment score</text>
<text x="25.00" y="442.40" font-size="5.7" fill="#111">NES: 1.9</text>
<text x="24.10" y="449.40" font-size="5.9" fill="#111"><tspan font-style="italic">P</tspan><tspan font-size="4.3" dy="2.0">adj</tspan><tspan dy="-2.0">: </tspan><tspan fill="#f02828" font-size="6.5">1.5×10<tspan font-size="4.3" dy="-2.6">−5</tspan></tspan></text>
<line x1="158.40" y1="454.90" x2="158.40" y2="511.05" stroke="#f4f4f4" stroke-width="0.5"/>
<line x1="185.10" y1="454.90" x2="185.10" y2="511.05" stroke="#f4f4f4" stroke-width="0.5"/>
<line x1="211.80" y1="454.90" x2="211.80" y2="511.05" stroke="#f4f4f4" stroke-width="0.5"/>
<line x1="238.50" y1="454.90" x2="238.50" y2="511.05" stroke="#f4f4f4" stroke-width="0.5"/>
<line x1="153.00" y1="456.40" x2="257.00" y2="456.40" stroke="#f4f4f4" stroke-width="0.5"/>
<line x1="153.00" y1="467.35" x2="257.00" y2="467.35" stroke="#f4f4f4" stroke-width="0.5"/>
<line x1="153.00" y1="478.30" x2="257.00" y2="478.30" stroke="#f4f4f4" stroke-width="0.5"/>
<line x1="153.00" y1="489.25" x2="257.00" y2="489.25" stroke="#f4f4f4" stroke-width="0.5"/>
<line x1="153.00" y1="500.20" x2="257.00" y2="500.20" stroke="#f4f4f4" stroke-width="0.5"/>
<line x1="153.00" y1="511.15" x2="257.00" y2="511.15" stroke="#f4f4f4" stroke-width="0.5"/>
<line x1="153.00" y1="456.40" x2="257.00" y2="456.40" stroke="#f7c4c4" stroke-width="0.55"/>
<line x1="153.00" y1="510.05" x2="257.00" y2="510.05" stroke="#f7c4c4" stroke-width="0.55"/>
<line x1="168.68" y1="452.40" x2="168.68" y2="459.40" stroke="#000" stroke-width="0.5" stroke-opacity="0.30"/>
<line x1="172.00" y1="452.40" x2="172.00" y2="459.40" stroke="#000" stroke-width="0.5" stroke-opacity="0.13"/>
<line x1="172.58" y1="452.40" x2="172.58" y2="459.40" stroke="#000" stroke-width="0.5" stroke-opacity="0.13"/>
<line x1="173.37" y1="452.40" x2="173.37" y2="459.40" stroke="#000" stroke-width="0.5" stroke-opacity="0.20"/>
<line x1="174.01" y1="452.40" x2="174.01" y2="459.40" stroke="#000" stroke-width="0.5" stroke-opacity="0.37"/>
<line x1="174.11" y1="452.40" x2="174.11" y2="459.40" stroke="#000" stroke-width="0.5" stroke-opacity="0.47"/>
<line x1="174.51" y1="452.40" x2="174.51" y2="459.40" stroke="#000" stroke-width="0.5" stroke-opacity="0.31"/>
<line x1="174.96" y1="452.40" x2="174.96" y2="459.40" stroke="#000" stroke-width="0.5" stroke-opacity="0.16"/>
<line x1="177.02" y1="452.40" x2="177.02" y2="459.40" stroke="#000" stroke-width="0.5" stroke-opacity="0.20"/>
<line x1="177.33" y1="452.40" x2="177.33" y2="459.40" stroke="#000" stroke-width="0.5" stroke-opacity="0.28"/>
<line x1="187.62" y1="452.40" x2="187.62" y2="459.40" stroke="#000" stroke-width="0.5" stroke-opacity="0.16"/>
<line x1="189.21" y1="452.40" x2="189.21" y2="459.40" stroke="#000" stroke-width="0.5" stroke-opacity="0.16"/>
<line x1="190.76" y1="452.40" x2="190.76" y2="459.40" stroke="#000" stroke-width="0.5" stroke-opacity="0.28"/>
<line x1="191.35" y1="452.40" x2="191.35" y2="459.40" stroke="#000" stroke-width="0.5" stroke-opacity="0.44"/>
<line x1="191.54" y1="452.40" x2="191.54" y2="459.40" stroke="#000" stroke-width="0.5" stroke-opacity="0.21"/>
<line x1="191.89" y1="452.40" x2="191.89" y2="459.40" stroke="#000" stroke-width="0.5" stroke-opacity="0.46"/>
<line x1="193.58" y1="452.40" x2="193.58" y2="459.40" stroke="#000" stroke-width="0.5" stroke-opacity="0.45"/>
<line x1="195.94" y1="452.40" x2="195.94" y2="459.40" stroke="#000" stroke-width="0.5" stroke-opacity="0.28"/>
<line x1="196.50" y1="452.40" x2="196.50" y2="459.40" stroke="#000" stroke-width="0.5" stroke-opacity="0.21"/>
<line x1="197.56" y1="452.40" x2="197.56" y2="459.40" stroke="#000" stroke-width="0.5" stroke-opacity="0.19"/>
<line x1="198.19" y1="452.40" x2="198.19" y2="459.40" stroke="#000" stroke-width="0.5" stroke-opacity="0.37"/>
<line x1="198.45" y1="452.40" x2="198.45" y2="459.40" stroke="#000" stroke-width="0.5" stroke-opacity="0.43"/>
<line x1="199.64" y1="452.40" x2="199.64" y2="459.40" stroke="#000" stroke-width="0.5" stroke-opacity="0.45"/>
<line x1="200.51" y1="452.40" x2="200.51" y2="459.40" stroke="#000" stroke-width="0.5" stroke-opacity="0.20"/>
<line x1="204.89" y1="452.40" x2="204.89" y2="459.40" stroke="#000" stroke-width="0.5" stroke-opacity="0.28"/>
<line x1="206.30" y1="452.40" x2="206.30" y2="459.40" stroke="#000" stroke-width="0.5" stroke-opacity="0.13"/>
<line x1="207.20" y1="452.40" x2="207.20" y2="459.40" stroke="#000" stroke-width="0.5" stroke-opacity="0.24"/>
<line x1="207.33" y1="452.40" x2="207.33" y2="459.40" stroke="#000" stroke-width="0.5" stroke-opacity="0.23"/>
<line x1="207.63" y1="452.40" x2="207.63" y2="459.40" stroke="#000" stroke-width="0.5" stroke-opacity="0.17"/>
<line x1="208.08" y1="452.40" x2="208.08" y2="459.40" stroke="#000" stroke-width="0.5" stroke-opacity="0.15"/>
<line x1="208.22" y1="452.40" x2="208.22" y2="459.40" stroke="#000" stroke-width="0.5" stroke-opacity="0.50"/>
<line x1="208.29" y1="452.40" x2="208.29" y2="459.40" stroke="#000" stroke-width="0.5" stroke-opacity="0.24"/>
<line x1="208.78" y1="452.40" x2="208.78" y2="459.40" stroke="#000" stroke-width="0.5" stroke-opacity="0.31"/>
<line x1="209.75" y1="452.40" x2="209.75" y2="459.40" stroke="#000" stroke-width="0.5" stroke-opacity="0.32"/>
<line x1="210.23" y1="452.40" x2="210.23" y2="459.40" stroke="#000" stroke-width="0.5" stroke-opacity="0.30"/>
<line x1="211.03" y1="452.40" x2="211.03" y2="459.40" stroke="#000" stroke-width="0.5" stroke-opacity="0.34"/>
<line x1="212.56" y1="452.40" x2="212.56" y2="459.40" stroke="#000" stroke-width="0.5" stroke-opacity="0.31"/>
<line x1="214.42" y1="452.40" x2="214.42" y2="459.40" stroke="#000" stroke-width="0.5" stroke-opacity="0.31"/>
<line x1="214.45" y1="452.40" x2="214.45" y2="459.40" stroke="#000" stroke-width="0.5" stroke-opacity="0.15"/>
<line x1="214.99" y1="452.40" x2="214.99" y2="459.40" stroke="#000" stroke-width="0.5" stroke-opacity="0.36"/>
<line x1="216.48" y1="452.40" x2="216.48" y2="459.40" stroke="#000" stroke-width="0.5" stroke-opacity="0.37"/>
<line x1="216.81" y1="452.40" x2="216.81" y2="459.40" stroke="#000" stroke-width="0.5" stroke-opacity="0.40"/>
<line x1="217.43" y1="452.40" x2="217.43" y2="459.40" stroke="#000" stroke-width="0.5" stroke-opacity="0.24"/>
<line x1="217.50" y1="452.40" x2="217.50" y2="459.40" stroke="#000" stroke-width="0.5" stroke-opacity="0.30"/>
<line x1="217.56" y1="452.40" x2="217.56" y2="459.40" stroke="#000" stroke-width="0.5" stroke-opacity="0.43"/>
<line x1="217.87" y1="452.40" x2="217.87" y2="459.40" stroke="#000" stroke-width="0.5" stroke-opacity="0.40"/>
<line x1="218.38" y1="452.40" x2="218.38" y2="459.40" stroke="#000" stroke-width="0.5" stroke-opacity="0.14"/>
<line x1="219.25" y1="452.40" x2="219.25" y2="459.40" stroke="#000" stroke-width="0.5" stroke-opacity="0.25"/>
<line x1="220.12" y1="452.40" x2="220.12" y2="459.40" stroke="#000" stroke-width="0.5" stroke-opacity="0.19"/>
<line x1="220.37" y1="452.40" x2="220.37" y2="459.40" stroke="#000" stroke-width="0.5" stroke-opacity="0.39"/>
<line x1="220.47" y1="452.40" x2="220.47" y2="459.40" stroke="#000" stroke-width="0.5" stroke-opacity="0.27"/>
<line x1="220.78" y1="452.40" x2="220.78" y2="459.40" stroke="#000" stroke-width="0.5" stroke-opacity="0.27"/>
<line x1="221.03" y1="452.40" x2="221.03" y2="459.40" stroke="#000" stroke-width="0.5" stroke-opacity="0.20"/>
<line x1="221.75" y1="452.40" x2="221.75" y2="459.40" stroke="#000" stroke-width="0.5" stroke-opacity="0.29"/>
<line x1="221.86" y1="452.40" x2="221.86" y2="459.40" stroke="#000" stroke-width="0.5" stroke-opacity="0.39"/>
<line x1="222.05" y1="452.40" x2="222.05" y2="459.40" stroke="#000" stroke-width="0.5" stroke-opacity="0.36"/>
<line x1="222.85" y1="452.40" x2="222.85" y2="459.40" stroke="#000" stroke-width="0.5" stroke-opacity="0.20"/>
<line x1="224.44" y1="452.40" x2="224.44" y2="459.40" stroke="#000" stroke-width="0.5" stroke-opacity="0.27"/>
<line x1="224.58" y1="452.40" x2="224.58" y2="459.40" stroke="#000" stroke-width="0.5" stroke-opacity="0.36"/>
<line x1="225.33" y1="452.40" x2="225.33" y2="459.40" stroke="#000" stroke-width="0.5" stroke-opacity="0.14"/>
<line x1="227.37" y1="452.40" x2="227.37" y2="459.40" stroke="#000" stroke-width="0.5" stroke-opacity="0.46"/>
<line x1="228.97" y1="452.40" x2="228.97" y2="459.40" stroke="#000" stroke-width="0.5" stroke-opacity="0.13"/>
<line x1="229.58" y1="452.40" x2="229.58" y2="459.40" stroke="#000" stroke-width="0.5" stroke-opacity="0.36"/>
<line x1="229.96" y1="452.40" x2="229.96" y2="459.40" stroke="#000" stroke-width="0.5" stroke-opacity="0.18"/>
<line x1="230.16" y1="452.40" x2="230.16" y2="459.40" stroke="#000" stroke-width="0.5" stroke-opacity="0.48"/>
<line x1="231.69" y1="452.40" x2="231.69" y2="459.40" stroke="#000" stroke-width="0.5" stroke-opacity="0.38"/>
<line x1="232.02" y1="452.40" x2="232.02" y2="459.40" stroke="#000" stroke-width="0.5" stroke-opacity="0.20"/>
<line x1="232.36" y1="452.40" x2="232.36" y2="459.40" stroke="#000" stroke-width="0.5" stroke-opacity="0.31"/>
<line x1="232.89" y1="452.40" x2="232.89" y2="459.40" stroke="#000" stroke-width="0.5" stroke-opacity="0.44"/>
<line x1="233.14" y1="452.40" x2="233.14" y2="459.40" stroke="#000" stroke-width="0.5" stroke-opacity="0.44"/>
<line x1="233.52" y1="452.40" x2="233.52" y2="459.40" stroke="#000" stroke-width="0.5" stroke-opacity="0.37"/>
<line x1="233.97" y1="452.40" x2="233.97" y2="459.40" stroke="#000" stroke-width="0.5" stroke-opacity="0.36"/>
<line x1="234.42" y1="452.40" x2="234.42" y2="459.40" stroke="#000" stroke-width="0.5" stroke-opacity="0.40"/>
<line x1="236.78" y1="452.40" x2="236.78" y2="459.40" stroke="#000" stroke-width="0.5" stroke-opacity="0.47"/>
<line x1="237.18" y1="452.40" x2="237.18" y2="459.40" stroke="#000" stroke-width="0.5" stroke-opacity="0.32"/>
<line x1="237.59" y1="452.40" x2="237.59" y2="459.40" stroke="#000" stroke-width="0.5" stroke-opacity="0.35"/>
<line x1="238.14" y1="452.40" x2="238.14" y2="459.40" stroke="#000" stroke-width="0.5" stroke-opacity="0.42"/>
<line x1="238.27" y1="452.40" x2="238.27" y2="459.40" stroke="#000" stroke-width="0.5" stroke-opacity="0.31"/>
<line x1="239.15" y1="452.40" x2="239.15" y2="459.40" stroke="#000" stroke-width="0.5" stroke-opacity="0.20"/>
<line x1="239.55" y1="452.40" x2="239.55" y2="459.40" stroke="#000" stroke-width="0.5" stroke-opacity="0.34"/>
<line x1="240.46" y1="452.40" x2="240.46" y2="459.40" stroke="#000" stroke-width="0.5" stroke-opacity="0.25"/>
<line x1="240.54" y1="452.40" x2="240.54" y2="459.40" stroke="#000" stroke-width="0.5" stroke-opacity="0.39"/>
<line x1="241.66" y1="452.40" x2="241.66" y2="459.40" stroke="#000" stroke-width="0.5" stroke-opacity="0.40"/>
<line x1="242.22" y1="452.40" x2="242.22" y2="459.40" stroke="#000" stroke-width="0.5" stroke-opacity="0.46"/>
<line x1="242.64" y1="452.40" x2="242.64" y2="459.40" stroke="#000" stroke-width="0.5" stroke-opacity="0.16"/>
<line x1="243.32" y1="452.40" x2="243.32" y2="459.40" stroke="#000" stroke-width="0.5" stroke-opacity="0.13"/>
<line x1="244.13" y1="452.40" x2="244.13" y2="459.40" stroke="#000" stroke-width="0.5" stroke-opacity="0.47"/>
<line x1="246.58" y1="452.40" x2="246.58" y2="459.40" stroke="#000" stroke-width="0.5" stroke-opacity="0.40"/>
<line x1="246.58" y1="452.40" x2="246.58" y2="459.40" stroke="#000" stroke-width="0.5" stroke-opacity="0.50"/>
<line x1="246.58" y1="452.40" x2="246.58" y2="459.40" stroke="#000" stroke-width="0.5" stroke-opacity="0.43"/>
<line x1="247.28" y1="452.40" x2="247.28" y2="459.40" stroke="#000" stroke-width="0.5" stroke-opacity="0.48"/>
<line x1="247.67" y1="452.40" x2="247.67" y2="459.40" stroke="#000" stroke-width="0.5" stroke-opacity="0.18"/>
<line x1="153.00" y1="456.40" x2="257.00" y2="456.40" stroke="#444" stroke-width="0.55"/>
<path d="M158.40,456.40 L158.90,455.65 L159.40,456.21 L159.90,456.78 L160.40,457.34 L160.90,457.91 L161.40,458.49 L161.90,459.12 L162.40,459.75 L162.90,460.38 L163.40,461.01 L163.90,461.64 L164.40,462.27 L164.90,462.90 L165.40,463.53 L165.90,464.17 L166.40,464.80 L166.90,465.43 L167.40,465.84 L167.90,466.22 L168.40,466.61 L168.90,464.49 L169.40,465.14 L169.90,465.80 L170.40,466.46 L170.90,467.11 L171.40,467.77 L171.90,468.42 L172.40,467.59 L172.90,467.62 L173.40,467.61 L173.90,468.49 L174.40,468.60 L174.90,468.94 L175.40,468.25 L175.90,469.11 L176.40,469.97 L176.90,470.83 L177.40,468.67 L177.90,469.04 L178.40,469.41 L178.90,469.78 L179.40,470.16 L179.90,470.53 L180.40,470.90 L180.90,471.28 L181.40,471.65 L181.90,472.03 L182.40,472.59 L182.90,473.15 L183.40,473.71 L183.90,474.27 L184.40,474.84 L184.90,475.40 L185.40,475.96 L185.90,476.52 L186.40,477.08 L186.90,477.65 L187.40,478.21 L187.90,476.75 L188.40,477.80 L188.90,478.85 L189.40,477.97 L189.90,479.02 L190.40,480.08 L190.90,479.82 L191.40,480.39 L191.90,479.86 L192.40,480.92 L192.90,481.97 L193.40,483.03 L193.90,481.69 L194.40,482.69 L194.90,483.69 L195.40,484.68 L195.90,485.68 L196.40,485.07 L196.90,485.13 L197.40,486.24 L197.90,486.37 L198.40,486.99 L198.90,487.27 L199.40,488.44 L199.90,488.35 L200.40,489.52 L200.90,488.60 L201.40,489.45 L201.90,490.31 L202.40,491.16 L202.90,492.02 L203.40,492.88 L203.90,493.73 L204.40,494.59 L204.90,493.27 L205.40,494.44 L205.90,495.61 L206.40,495.36 L206.90,496.53 L207.40,496.80 L207.90,497.51 L208.40,497.85 L208.90,498.12 L209.40,499.29 L209.90,499.57 L210.40,499.96 L210.90,501.13 L211.40,500.86 L211.90,502.03 L212.40,503.18 L212.90,502.10 L213.40,503.11 L213.90,504.11 L214.40,505.12 L214.90,504.61 L215.40,504.37 L215.90,505.37 L216.40,506.38 L216.90,505.68 L217.40,506.69 L217.90,506.46 L218.40,506.61 L218.90,507.62 L219.40,507.55 L219.90,508.55 L220.40,508.42 L220.90,508.60 L221.40,508.77 L221.90,508.85 L222.40,509.01 L222.90,508.31 L223.40,509.08 L223.90,509.85 L224.40,510.62 L224.90,509.78 L225.40,508.83 L225.90,509.37 L226.40,509.77 L226.90,510.18 L227.40,508.34 L227.90,508.75 L228.40,509.16 L228.90,509.56 L229.40,508.61 L229.90,508.41 L230.40,507.39 L230.90,507.80 L231.40,508.17 L231.90,507.08 L232.40,506.19 L232.90,505.78 L233.40,505.45 L233.90,504.99 L234.40,504.50 L234.90,502.91 L235.40,502.83 L235.90,502.71 L236.40,502.59 L236.90,500.92 L237.40,500.36 L237.90,499.71 L238.40,498.62 L238.90,498.55 L239.40,497.71 L239.90,496.83 L240.40,496.77 L240.90,495.20 L241.40,494.61 L241.90,492.99 L242.40,491.81 L242.90,490.55 L243.40,489.04 L243.90,488.46 L244.40,486.02 L244.90,485.35 L245.40,484.69 L245.90,484.26 L246.40,483.84 L246.90,481.73 L247.40,480.73 L247.90,478.74 L248.40,478.21 L248.90,477.59 L249.40,476.95 L249.90,476.32 L250.40,470.71 L250.78,456.40" fill="none" stroke="#26ea26" stroke-width="1.0" stroke-linejoin="round"/>
<line x1="152.10" y1="456.40" x2="153.50" y2="456.40" stroke="#555" stroke-width="0.4"/>
<text x="151.50" y="457.80" font-size="4.1" text-anchor="end" fill="#444">0</text>
<line x1="152.10" y1="467.35" x2="153.50" y2="467.35" stroke="#555" stroke-width="0.4"/>
<text x="151.50" y="468.75" font-size="4.1" text-anchor="end" fill="#444">−0.1</text>
<line x1="152.10" y1="478.30" x2="153.50" y2="478.30" stroke="#555" stroke-width="0.4"/>
<text x="151.50" y="479.70" font-size="4.1" text-anchor="end" fill="#444">−0.2</text>
<line x1="152.10" y1="489.25" x2="153.50" y2="489.25" stroke="#555" stroke-width="0.4"/>
<text x="151.50" y="490.65" font-size="4.1" text-anchor="end" fill="#444">−0.3</text>
<line x1="152.10" y1="500.20" x2="153.50" y2="500.20" stroke="#555" stroke-width="0.4"/>
<text x="151.50" y="501.60" font-size="4.1" text-anchor="end" fill="#444">−0.4</text>
<line x1="152.10" y1="511.15" x2="153.50" y2="511.15" stroke="#555" stroke-width="0.4"/>
<text x="151.50" y="512.55" font-size="4.1" text-anchor="end" fill="#444">−0.5</text>
<line x1="158.40" y1="512.25" x2="158.40" y2="514.05" stroke="#555" stroke-width="0.4"/>
<text x="158.40" y="519.35" font-size="3.8" text-anchor="middle" fill="#444">0</text>
<line x1="185.10" y1="512.25" x2="185.10" y2="514.05" stroke="#555" stroke-width="0.4"/>
<text x="185.10" y="519.35" font-size="3.8" text-anchor="middle" fill="#444">2,500</text>
<line x1="211.80" y1="512.25" x2="211.80" y2="514.05" stroke="#555" stroke-width="0.4"/>
<text x="211.80" y="519.35" font-size="3.8" text-anchor="middle" fill="#444">5,000</text>
<line x1="238.50" y1="512.25" x2="238.50" y2="514.05" stroke="#555" stroke-width="0.4"/>
<text x="238.50" y="519.35" font-size="3.8" text-anchor="middle" fill="#444">7,500</text>
<text x="141.00" y="483.23" font-size="4.6" text-anchor="middle" fill="#333" textLength="38.00" lengthAdjust="spacingAndGlyphs" transform="rotate(-90 141.00 483.23)">Enrichment score</text>
<text x="152.90" y="442.60" font-size="5.7" fill="#111">NES: -1.89</text>
<text x="152.00" y="449.60" font-size="5.9" fill="#111"><tspan font-style="italic">P</tspan><tspan font-size="4.3" dy="2.0">adj</tspan><tspan dy="-2.0">: </tspan><tspan fill="#f02828" font-size="6.5">0.00026</tspan></text>
<text x="262.60" y="256.60" font-size="13.5" fill="#000" font-weight="bold" stroke="#000" stroke-width="0.45">e</text>
<text x="290.50" y="269.60" font-size="7.4" fill="#1a1a1a" textLength="45.50" lengthAdjust="spacingAndGlyphs">E2F TARGETS</text>
<text x="290.50" y="277.40" font-size="6.15">Genes in pathway: 199</text>
<text x="290.50" y="284.55" font-size="6.15">Detected proteins: 178</text>
<text x="290.50" y="291.70" font-size="6.15">Detected RPFs: 195</text>
<text x="290.50" y="298.85" font-size="6.15">Shared in leading edges: 36</text>
<path d="M307.60,318.79 L307.63,318.96 L307.66,319.17 L307.69,319.41 L307.74,319.69 L307.78,319.99 L307.83,320.32 L307.89,320.67 L307.95,321.03 L308.02,321.41 L308.10,321.80 L308.18,322.21 L308.24,322.65 L308.31,323.11 L308.39,323.60 L308.47,324.10 L308.57,324.61 L308.68,325.12 L308.82,325.63 L308.99,326.13 L309.20,326.62 L309.45,327.11 L309.75,327.60 L310.09,328.10 L310.45,328.61 L310.83,329.11 L311.21,329.60 L311.59,330.08 L311.95,330.55 L312.29,331.01 L312.60,331.44 L312.88,331.84 L313.14,332.20 L313.39,332.54 L313.63,332.86 L313.86,333.17 L314.08,333.49 L314.29,333.83 L314.50,334.20 L314.70,334.60 L314.90,335.05 L315.10,335.56 L315.29,336.11 L315.48,336.69 L315.67,337.29 L315.84,337.92 L316.01,338.55 L316.18,339.20 L316.33,339.84 L316.47,340.47 L316.60,341.08 L316.72,341.69 L316.84,342.30 L316.95,342.93 L317.05,343.55 L317.14,344.17 L317.22,344.78 L317.28,345.39 L317.34,345.98 L317.38,346.55 L317.40,347.10 L317.41,347.63 L317.41,348.12 L317.40,348.58 L317.37,349.03 L317.33,349.47 L317.28,349.92 L317.21,350.38 L317.12,350.86 L317.02,351.37 L316.90,351.92 L316.75,352.51 L316.58,353.13 L316.38,353.76 L316.16,354.41 L315.93,355.08 L315.70,355.77 L315.46,356.47 L315.23,357.19 L315.01,357.93 L314.80,358.67 L314.62,359.45 L314.45,360.27 L314.29,361.12 L314.14,362.00 L313.99,362.88 L313.84,363.75 L313.66,364.61 L313.47,365.45 L313.25,366.24 L313.00,366.99 L312.70,367.69 L312.36,368.37 L311.98,369.02 L311.58,369.65 L311.17,370.26 L310.76,370.84 L310.37,371.41 L310.00,371.96 L309.67,372.49 L309.40,373.01 L309.17,373.51 L308.98,373.97 L308.82,374.41 L308.68,374.83 L308.56,375.23 L308.45,375.63 L308.36,376.02 L308.27,376.42 L308.19,376.82 L308.10,377.23 L308.02,377.67 L307.94,378.14 L307.88,378.63 L307.82,379.12 L307.77,379.60 L307.73,380.06 L307.69,380.49 L307.66,380.87 L307.63,381.20 L307.60,381.45 L307.60,381.45 L307.57,381.20 L307.54,380.87 L307.51,380.49 L307.47,380.06 L307.43,379.60 L307.38,379.12 L307.32,378.63 L307.26,378.14 L307.18,377.67 L307.10,377.23 L307.01,376.82 L306.93,376.42 L306.84,376.02 L306.75,375.63 L306.64,375.23 L306.52,374.83 L306.38,374.41 L306.22,373.97 L306.03,373.51 L305.80,373.01 L305.53,372.49 L305.20,371.96 L304.83,371.41 L304.44,370.84 L304.03,370.26 L303.62,369.65 L303.22,369.02 L302.84,368.37 L302.50,367.69 L302.20,366.99 L301.95,366.24 L301.73,365.45 L301.54,364.61 L301.36,363.75 L301.21,362.88 L301.06,362.00 L300.91,361.12 L300.75,360.27 L300.58,359.45 L300.40,358.67 L300.19,357.93 L299.97,357.19 L299.74,356.47 L299.50,355.77 L299.27,355.08 L299.04,354.41 L298.82,353.76 L298.62,353.13 L298.45,352.51 L298.30,351.92 L298.18,351.37 L298.08,350.86 L297.99,350.38 L297.92,349.92 L297.87,349.47 L297.83,349.03 L297.80,348.58 L297.79,348.12 L297.79,347.63 L297.80,347.10 L297.82,346.55 L297.86,345.98 L297.92,345.39 L297.98,344.78 L298.06,344.17 L298.15,343.55 L298.25,342.93 L298.36,342.30 L298.48,341.69 L298.60,341.08 L298.73,340.47 L298.87,339.84 L299.02,339.20 L299.19,338.55 L299.36,337.92 L299.53,337.29 L299.72,336.69 L299.91,336.11 L300.10,335.56 L300.30,335.05 L300.50,334.60 L300.70,334.20 L300.91,333.83 L301.12,333.49 L301.34,333.17 L301.57,332.86 L301.81,332.54 L302.06,332.20 L302.32,331.84 L302.60,331.44 L302.91,331.01 L303.25,330.55 L303.61,330.08 L303.99,329.60 L304.38,329.11 L304.75,328.61 L305.11,328.10 L305.45,327.60 L305.75,327.11 L306.00,326.62 L306.21,326.13 L306.38,325.63 L306.52,325.12 L306.63,324.61 L306.73,324.10 L306.81,323.60 L306.89,323.11 L306.96,322.65 L307.02,322.21 L307.10,321.80 L307.18,321.41 L307.25,321.03 L307.31,320.67 L307.37,320.32 L307.42,319.99 L307.46,319.69 L307.51,319.41 L307.54,319.17 L307.57,318.96 L307.60,318.79 Z" fill="#c6c6c6" stroke="#8c8c8c" stroke-width="0.45"/>
<line x1="307.60" y1="318.79" x2="307.60" y2="381.45" stroke="#8c8c8c" stroke-width="0.45" stroke-opacity="0.9"/>
<rect x="305.00" y="342.04" width="5.20" height="17.23" fill="none" stroke="#8c8c8c" stroke-width="0.45"/>
<line x1="305.00" y1="350.00" x2="310.20" y2="350.00" stroke="#3a3a3a" stroke-width="0.75"/>
<path d="M333.80,311.56 L333.84,311.82 L333.89,312.16 L333.94,312.57 L334.00,313.03 L334.06,313.52 L334.14,314.02 L334.23,314.51 L334.34,314.98 L334.46,315.41 L334.60,315.77 L334.76,316.08 L334.92,316.33 L335.10,316.55 L335.29,316.75 L335.50,316.94 L335.72,317.13 L335.96,317.34 L336.22,317.58 L336.50,317.85 L336.80,318.19 L337.14,318.56 L337.51,318.98 L337.92,319.42 L338.36,319.89 L338.80,320.38 L339.24,320.88 L339.68,321.40 L340.09,321.93 L340.46,322.47 L340.80,323.00 L341.10,323.53 L341.38,324.04 L341.63,324.54 L341.87,325.06 L342.09,325.59 L342.30,326.15 L342.49,326.75 L342.67,327.40 L342.84,328.12 L343.00,328.91 L343.15,329.81 L343.30,330.82 L343.43,331.91 L343.55,333.07 L343.66,334.25 L343.75,335.43 L343.82,336.59 L343.87,337.70 L343.90,338.72 L343.90,339.63 L343.88,340.44 L343.82,341.16 L343.75,341.83 L343.65,342.44 L343.54,343.02 L343.41,343.57 L343.27,344.13 L343.12,344.69 L342.96,345.27 L342.80,345.90 L342.63,346.56 L342.44,347.24 L342.24,347.93 L342.02,348.63 L341.80,349.33 L341.57,350.03 L341.35,350.71 L341.12,351.38 L340.91,352.03 L340.70,352.65 L340.50,353.24 L340.30,353.82 L340.10,354.38 L339.91,354.92 L339.71,355.45 L339.52,355.97 L339.33,356.48 L339.15,356.97 L338.97,357.47 L338.80,357.95 L338.64,358.42 L338.49,358.85 L338.36,359.27 L338.23,359.68 L338.10,360.08 L337.97,360.49 L337.83,360.90 L337.67,361.34 L337.50,361.80 L337.30,362.29 L337.07,362.83 L336.81,363.41 L336.52,364.02 L336.22,364.65 L335.91,365.29 L335.60,365.92 L335.31,366.54 L335.04,367.13 L334.80,367.69 L334.60,368.19 L334.44,368.66 L334.31,369.12 L334.20,369.56 L334.10,369.98 L334.03,370.37 L333.97,370.73 L333.92,371.06 L333.88,371.35 L333.84,371.60 L333.80,371.81 L333.80,371.81 L333.76,371.60 L333.72,371.35 L333.68,371.06 L333.63,370.73 L333.57,370.37 L333.50,369.98 L333.40,369.56 L333.29,369.12 L333.16,368.66 L333.00,368.19 L332.80,367.69 L332.56,367.13 L332.29,366.54 L332.00,365.92 L331.69,365.29 L331.38,364.65 L331.08,364.02 L330.79,363.41 L330.53,362.83 L330.30,362.29 L330.10,361.80 L329.93,361.34 L329.77,360.90 L329.63,360.49 L329.50,360.08 L329.37,359.68 L329.24,359.27 L329.11,358.85 L328.96,358.42 L328.80,357.95 L328.63,357.47 L328.45,356.97 L328.27,356.48 L328.08,355.97 L327.89,355.45 L327.69,354.92 L327.50,354.38 L327.30,353.82 L327.10,353.24 L326.90,352.65 L326.69,352.03 L326.48,351.38 L326.25,350.71 L326.03,350.03 L325.80,349.33 L325.58,348.63 L325.36,347.93 L325.16,347.24 L324.97,346.56 L324.80,345.90 L324.64,345.27 L324.48,344.69 L324.33,344.13 L324.19,343.57 L324.06,343.02 L323.95,342.44 L323.85,341.83 L323.78,341.16 L323.72,340.44 L323.70,339.63 L323.70,338.72 L323.73,337.70 L323.78,336.59 L323.85,335.43 L323.94,334.25 L324.05,333.07 L324.17,331.91 L324.30,330.82 L324.45,329.81 L324.60,328.91 L324.76,328.12 L324.93,327.40 L325.11,326.75 L325.30,326.15 L325.51,325.59 L325.73,325.06 L325.97,324.54 L326.22,324.04 L326.50,323.53 L326.80,323.00 L327.14,322.47 L327.51,321.93 L327.92,321.40 L328.36,320.88 L328.80,320.38 L329.24,319.89 L329.68,319.42 L330.09,318.98 L330.46,318.56 L330.80,318.19 L331.10,317.85 L331.38,317.58 L331.64,317.34 L331.88,317.13 L332.10,316.94 L332.31,316.75 L332.50,316.55 L332.68,316.33 L332.84,316.08 L333.00,315.77 L333.14,315.41 L333.26,314.98 L333.37,314.51 L333.46,314.02 L333.54,313.52 L333.60,313.03 L333.66,312.57 L333.71,312.16 L333.76,311.82 L333.80,311.56 Z" fill="#d22a2a" stroke="#8a1a1a" stroke-width="0.45"/>
<line x1="333.80" y1="311.56" x2="333.80" y2="371.81" stroke="#8a1a1a" stroke-width="0.45" stroke-opacity="0.9"/>
<rect x="331.20" y="333.01" width="5.20" height="15.18" fill="none" stroke="#8a1a1a" stroke-width="0.45"/>
<line x1="331.20" y1="340.36" x2="336.40" y2="340.36" stroke="#3a3a3a" stroke-width="0.75"/>
<path d="M359.90,310.47 L359.95,310.72 L360.01,311.02 L360.07,311.39 L360.14,311.80 L360.22,312.24 L360.32,312.71 L360.44,313.19 L360.57,313.66 L360.72,314.13 L360.90,314.57 L361.11,315.00 L361.35,315.43 L361.63,315.86 L361.92,316.29 L362.22,316.73 L362.54,317.18 L362.85,317.63 L363.15,318.08 L363.44,318.55 L363.70,319.03 L363.94,319.52 L364.18,320.03 L364.41,320.56 L364.63,321.09 L364.84,321.63 L365.06,322.16 L365.27,322.69 L365.48,323.22 L365.69,323.72 L365.90,324.21 L366.12,324.67 L366.33,325.12 L366.55,325.54 L366.77,325.96 L366.98,326.37 L367.19,326.78 L367.40,327.20 L367.61,327.63 L367.81,328.08 L368.00,328.55 L368.19,329.04 L368.38,329.54 L368.56,330.04 L368.74,330.56 L368.92,331.09 L369.09,331.63 L369.25,332.18 L369.41,332.73 L369.56,333.29 L369.70,333.85 L369.84,334.42 L369.98,335.01 L370.12,335.60 L370.26,336.21 L370.39,336.82 L370.50,337.43 L370.59,338.04 L370.66,338.66 L370.70,339.27 L370.70,339.88 L370.67,340.48 L370.60,341.09 L370.51,341.71 L370.40,342.32 L370.26,342.93 L370.11,343.54 L369.94,344.15 L369.77,344.74 L369.58,345.33 L369.40,345.90 L369.20,346.46 L368.99,347.02 L368.75,347.57 L368.50,348.12 L368.25,348.66 L367.99,349.19 L367.73,349.71 L367.48,350.21 L367.23,350.71 L367.00,351.20 L366.78,351.68 L366.55,352.15 L366.33,352.61 L366.11,353.06 L365.89,353.50 L365.68,353.93 L365.48,354.35 L365.28,354.76 L365.08,355.15 L364.90,355.54 L364.73,355.91 L364.58,356.25 L364.44,356.58 L364.31,356.89 L364.19,357.20 L364.06,357.50 L363.92,357.81 L363.77,358.12 L363.60,358.45 L363.40,358.79 L363.17,359.16 L362.91,359.53 L362.62,359.91 L362.32,360.30 L362.01,360.69 L361.70,361.09 L361.41,361.48 L361.14,361.88 L360.90,362.27 L360.70,362.65 L360.54,363.04 L360.41,363.46 L360.30,363.90 L360.20,364.33 L360.13,364.76 L360.07,365.17 L360.02,365.54 L359.98,365.88 L359.94,366.16 L359.90,366.38 L359.90,366.38 L359.86,366.16 L359.82,365.88 L359.78,365.54 L359.73,365.17 L359.67,364.76 L359.60,364.33 L359.50,363.90 L359.39,363.46 L359.26,363.04 L359.10,362.65 L358.90,362.27 L358.66,361.88 L358.39,361.48 L358.10,361.09 L357.79,360.69 L357.48,360.30 L357.18,359.91 L356.89,359.53 L356.63,359.16 L356.40,358.79 L356.20,358.45 L356.03,358.12 L355.88,357.81 L355.74,357.50 L355.61,357.20 L355.49,356.89 L355.36,356.58 L355.22,356.25 L355.07,355.91 L354.90,355.54 L354.72,355.15 L354.52,354.76 L354.32,354.35 L354.12,353.93 L353.91,353.50 L353.69,353.06 L353.47,352.61 L353.25,352.15 L353.02,351.68 L352.80,351.20 L352.57,350.71 L352.32,350.21 L352.07,349.71 L351.81,349.19 L351.55,348.66 L351.30,348.12 L351.05,347.57 L350.81,347.02 L350.60,346.46 L350.40,345.90 L350.22,345.33 L350.03,344.74 L349.86,344.15 L349.69,343.54 L349.54,342.93 L349.40,342.32 L349.29,341.71 L349.20,341.09 L349.13,340.48 L349.10,339.88 L349.10,339.27 L349.14,338.66 L349.21,338.04 L349.30,337.43 L349.41,336.82 L349.54,336.21 L349.68,335.60 L349.82,335.01 L349.96,334.42 L350.10,333.85 L350.24,333.29 L350.39,332.73 L350.55,332.18 L350.71,331.63 L350.88,331.09 L351.06,330.56 L351.24,330.04 L351.42,329.54 L351.61,329.04 L351.80,328.55 L351.99,328.08 L352.19,327.63 L352.40,327.20 L352.61,326.78 L352.82,326.37 L353.03,325.96 L353.25,325.54 L353.47,325.12 L353.68,324.67 L353.90,324.21 L354.11,323.72 L354.32,323.22 L354.53,322.69 L354.74,322.16 L354.96,321.63 L355.17,321.09 L355.39,320.56 L355.62,320.03 L355.86,319.52 L356.10,319.03 L356.36,318.55 L356.65,318.08 L356.95,317.63 L357.26,317.18 L357.57,316.73 L357.88,316.29 L358.17,315.86 L358.45,315.43 L358.69,315.00 L358.90,314.57 L359.08,314.13 L359.23,313.66 L359.36,313.19 L359.48,312.71 L359.57,312.24 L359.66,311.80 L359.73,311.39 L359.79,311.02 L359.85,310.72 L359.90,310.47 Z" fill="#a6a6a6" stroke="#6e6e6e" stroke-width="0.45"/>
<line x1="359.90" y1="310.47" x2="359.90" y2="366.38" stroke="#6e6e6e" stroke-width="0.45" stroke-opacity="0.9"/>
<rect x="357.30" y="334.21" width="5.20" height="14.10" fill="none" stroke="#6e6e6e" stroke-width="0.45"/>
<line x1="357.30" y1="341.20" x2="362.50" y2="341.20" stroke="#3a3a3a" stroke-width="0.75"/>
<path d="M386.10,316.26 L386.14,316.54 L386.19,316.93 L386.24,317.39 L386.31,317.89 L386.37,318.41 L386.44,318.92 L386.50,319.39 L386.55,319.84 L386.58,320.29 L386.61,320.75 L386.64,321.20 L386.70,321.63 L386.78,322.04 L386.90,322.40 L387.06,322.72 L387.26,322.99 L387.49,323.23 L387.74,323.46 L387.99,323.68 L388.25,323.93 L388.50,324.21 L388.75,324.51 L389.02,324.80 L389.30,325.11 L389.57,325.43 L389.84,325.78 L390.08,326.18 L390.30,326.62 L390.50,327.13 L390.68,327.71 L390.85,328.33 L391.00,328.98 L391.13,329.62 L391.23,330.25 L391.30,330.84 L391.33,331.38 L391.32,331.90 L391.27,332.40 L391.21,332.89 L391.16,333.39 L391.11,333.91 L391.10,334.45 L391.10,335.02 L391.09,335.61 L391.09,336.22 L391.11,336.83 L391.16,337.45 L391.25,338.06 L391.40,338.67 L391.61,339.26 L391.88,339.84 L392.18,340.41 L392.52,341.00 L392.88,341.59 L393.24,342.22 L393.60,342.89 L393.97,343.59 L394.37,344.33 L394.79,345.10 L395.20,345.88 L395.60,346.68 L395.97,347.49 L396.30,348.31 L396.60,349.16 L396.88,350.06 L397.14,350.98 L397.37,351.89 L397.57,352.77 L397.71,353.60 L397.80,354.33 L397.83,354.98 L397.80,355.54 L397.73,356.05 L397.62,356.53 L397.47,356.99 L397.30,357.45 L397.10,357.95 L396.87,358.47 L396.59,358.98 L396.28,359.50 L395.95,360.02 L395.60,360.53 L395.25,361.05 L394.90,361.56 L394.55,362.08 L394.19,362.60 L393.81,363.11 L393.44,363.63 L393.05,364.15 L392.67,364.66 L392.30,365.18 L391.93,365.70 L391.55,366.23 L391.17,366.76 L390.79,367.29 L390.42,367.81 L390.06,368.31 L389.70,368.79 L389.34,369.26 L388.98,369.72 L388.61,370.16 L388.27,370.59 L387.94,371.01 L387.65,371.41 L387.40,371.81 L387.20,372.17 L387.05,372.50 L386.94,372.82 L386.84,373.13 L386.76,373.46 L386.69,373.82 L386.60,374.22 L386.51,374.70 L386.42,375.27 L386.34,375.87 L386.26,376.47 L386.20,377.03 L386.14,377.50 L386.10,377.83 L386.10,377.83 L386.06,377.50 L386.00,377.03 L385.94,376.47 L385.86,375.87 L385.78,375.27 L385.69,374.70 L385.60,374.22 L385.51,373.82 L385.44,373.46 L385.36,373.13 L385.26,372.82 L385.15,372.50 L385.00,372.17 L384.80,371.81 L384.55,371.41 L384.26,371.01 L383.93,370.59 L383.59,370.16 L383.22,369.72 L382.86,369.26 L382.50,368.79 L382.14,368.31 L381.78,367.81 L381.41,367.29 L381.03,366.76 L380.65,366.23 L380.27,365.70 L379.90,365.18 L379.53,364.66 L379.15,364.15 L378.76,363.63 L378.39,363.11 L378.01,362.60 L377.65,362.08 L377.30,361.56 L376.95,361.05 L376.60,360.53 L376.25,360.02 L375.92,359.50 L375.61,358.98 L375.33,358.47 L375.10,357.95 L374.90,357.45 L374.73,356.99 L374.58,356.53 L374.47,356.05 L374.40,355.54 L374.37,354.98 L374.40,354.33 L374.49,353.60 L374.63,352.77 L374.83,351.89 L375.06,350.98 L375.32,350.06 L375.60,349.16 L375.90,348.31 L376.23,347.49 L376.60,346.68 L377.00,345.88 L377.41,345.10 L377.83,344.33 L378.23,343.59 L378.60,342.89 L378.96,342.22 L379.32,341.59 L379.68,341.00 L380.02,340.41 L380.32,339.84 L380.59,339.26 L380.80,338.67 L380.95,338.06 L381.04,337.45 L381.09,336.83 L381.11,336.22 L381.11,335.61 L381.10,335.02 L381.10,334.45 L381.09,333.91 L381.04,333.39 L380.99,332.89 L380.93,332.40 L380.88,331.90 L380.87,331.38 L380.90,330.84 L380.97,330.25 L381.07,329.62 L381.20,328.98 L381.35,328.33 L381.52,327.71 L381.70,327.13 L381.90,326.62 L382.12,326.18 L382.36,325.78 L382.63,325.43 L382.90,325.11 L383.18,324.80 L383.45,324.51 L383.70,324.21 L383.95,323.93 L384.21,323.68 L384.46,323.46 L384.71,323.23 L384.94,322.99 L385.14,322.72 L385.30,322.40 L385.42,322.04 L385.50,321.63 L385.56,321.20 L385.59,320.75 L385.62,320.29 L385.65,319.84 L385.70,319.39 L385.76,318.92 L385.83,318.41 L385.89,317.89 L385.96,317.39 L386.01,316.93 L386.06,316.54 L386.10,316.26 Z" fill="#8b0000" stroke="#5a0000" stroke-width="0.45"/>
<line x1="386.10" y1="316.26" x2="386.10" y2="377.83" stroke="#5a0000" stroke-width="0.45" stroke-opacity="0.9"/>
<rect x="383.50" y="343.73" width="5.20" height="15.06" fill="none" stroke="#5a0000" stroke-width="0.45"/>
<line x1="383.50" y1="353.49" x2="388.70" y2="353.49" stroke="#2a0303" stroke-width="0.75"/>
<rect x="292.50" y="306.60" width="108.80" height="77.80" fill="none" stroke="#444" stroke-width="0.65"/>
<line x1="288.90" y1="309.75" x2="292.50" y2="309.75" stroke="#999" stroke-width="0.6"/>
<text x="286.20" y="311.95" font-size="6.2" text-anchor="end" fill="#333">3</text>
<line x1="288.90" y1="321.80" x2="292.50" y2="321.80" stroke="#999" stroke-width="0.6"/>
<text x="286.20" y="324.00" font-size="6.2" text-anchor="end" fill="#333">2</text>
<line x1="288.90" y1="333.85" x2="292.50" y2="333.85" stroke="#999" stroke-width="0.6"/>
<text x="286.20" y="336.05" font-size="6.2" text-anchor="end" fill="#333">1</text>
<line x1="288.90" y1="345.90" x2="292.50" y2="345.90" stroke="#999" stroke-width="0.6"/>
<text x="286.20" y="348.10" font-size="6.2" text-anchor="end" fill="#333">0</text>
<line x1="288.90" y1="357.95" x2="292.50" y2="357.95" stroke="#999" stroke-width="0.6"/>
<text x="286.20" y="360.15" font-size="6.2" text-anchor="end" fill="#333">-1</text>
<line x1="288.90" y1="370.00" x2="292.50" y2="370.00" stroke="#999" stroke-width="0.6"/>
<text x="286.20" y="372.20" font-size="6.2" text-anchor="end" fill="#333">-2</text>
<line x1="288.90" y1="382.05" x2="292.50" y2="382.05" stroke="#999" stroke-width="0.6"/>
<text x="286.20" y="384.25" font-size="6.2" text-anchor="end" fill="#333">-3</text>
<line x1="307.60" y1="384.40" x2="307.60" y2="386.40" stroke="#444" stroke-width="0.5"/>
<text x="307.60" y="395.00" font-size="5.6" text-anchor="middle">WT</text>
<line x1="333.80" y1="384.40" x2="333.80" y2="386.40" stroke="#444" stroke-width="0.5"/>
<text x="333.80" y="395.00" font-size="5.6" text-anchor="middle">KO</text>
<line x1="359.90" y1="384.40" x2="359.90" y2="386.40" stroke="#444" stroke-width="0.5"/>
<text x="359.90" y="395.00" font-size="5.6" text-anchor="middle">WT</text>
<line x1="386.10" y1="384.40" x2="386.10" y2="386.40" stroke="#444" stroke-width="0.5"/>
<text x="386.10" y="395.00" font-size="5.6" text-anchor="middle">KO</text>
<text x="320.70" y="404.80" font-size="7.2" text-anchor="middle" textLength="16.60" lengthAdjust="spacingAndGlyphs">RPFs</text>
<text x="373.00" y="404.80" font-size="7.2" text-anchor="middle" textLength="38.00" lengthAdjust="spacingAndGlyphs">Proteomics</text>
<text x="277.30" y="345.50" font-size="7.4" text-anchor="middle" textLength="87.00" lengthAdjust="spacingAndGlyphs" transform="rotate(-90 277.30 345.50)">Normalized quantification</text>
<text x="430.60" y="269.60" font-size="7.4" fill="#1a1a1a" textLength="63.30" lengthAdjust="spacingAndGlyphs">G2M CHECKPOINT</text>
<text x="430.60" y="277.40" font-size="6.15">Genes in pathway: 195</text>
<text x="430.60" y="284.55" font-size="6.15">Detected proteins: 155</text>
<text x="430.60" y="291.70" font-size="6.15">Detected RPFs: 189</text>
<text x="430.60" y="298.85" font-size="6.15">Shared in leading edges: 27</text>
<path d="M447.50,316.88 L447.54,317.08 L447.59,317.32 L447.64,317.60 L447.70,317.91 L447.76,318.26 L447.84,318.64 L447.93,319.05 L448.04,319.48 L448.16,319.93 L448.30,320.40 L448.46,320.91 L448.65,321.47 L448.85,322.06 L449.06,322.69 L449.29,323.34 L449.53,323.99 L449.77,324.64 L450.02,325.27 L450.26,325.88 L450.50,326.45 L450.74,326.98 L450.98,327.48 L451.23,327.96 L451.48,328.43 L451.73,328.89 L451.99,329.35 L452.24,329.83 L452.50,330.32 L452.75,330.84 L453.00,331.40 L453.26,331.98 L453.52,332.56 L453.80,333.15 L454.07,333.76 L454.34,334.39 L454.61,335.04 L454.86,335.73 L455.10,336.44 L455.31,337.20 L455.50,338.00 L455.67,338.87 L455.83,339.80 L455.97,340.80 L456.10,341.83 L456.22,342.88 L456.32,343.94 L456.39,344.99 L456.45,346.01 L456.49,346.98 L456.50,347.90 L456.49,348.76 L456.44,349.60 L456.38,350.41 L456.29,351.19 L456.19,351.96 L456.07,352.70 L455.94,353.44 L455.80,354.17 L455.65,354.88 L455.50,355.60 L455.34,356.31 L455.17,357.01 L454.99,357.70 L454.80,358.37 L454.59,359.04 L454.38,359.69 L454.17,360.34 L453.95,360.97 L453.72,361.59 L453.50,362.20 L453.27,362.80 L453.03,363.39 L452.79,363.98 L452.54,364.55 L452.28,365.11 L452.02,365.66 L451.77,366.19 L451.51,366.71 L451.25,367.21 L451.00,367.70 L450.74,368.17 L450.47,368.61 L450.19,369.04 L449.91,369.45 L449.63,369.85 L449.36,370.24 L449.11,370.63 L448.88,371.01 L448.67,371.39 L448.50,371.77 L448.36,372.15 L448.26,372.50 L448.17,372.85 L448.11,373.20 L448.07,373.54 L448.03,373.88 L448.01,374.24 L447.98,374.60 L447.94,374.99 L447.90,375.40 L447.85,375.86 L447.80,376.37 L447.75,376.92 L447.71,377.48 L447.66,378.05 L447.62,378.59 L447.58,379.11 L447.55,379.56 L447.52,379.95 L447.50,380.24 L447.50,380.24 L447.48,379.95 L447.45,379.56 L447.42,379.11 L447.38,378.59 L447.34,378.05 L447.29,377.48 L447.25,376.92 L447.20,376.37 L447.15,375.86 L447.10,375.40 L447.06,374.99 L447.02,374.60 L446.99,374.24 L446.97,373.88 L446.93,373.54 L446.89,373.20 L446.83,372.85 L446.74,372.50 L446.64,372.15 L446.50,371.77 L446.33,371.39 L446.12,371.01 L445.89,370.63 L445.64,370.24 L445.37,369.85 L445.09,369.45 L444.81,369.04 L444.53,368.61 L444.26,368.17 L444.00,367.70 L443.75,367.21 L443.49,366.71 L443.23,366.19 L442.98,365.66 L442.72,365.11 L442.46,364.55 L442.21,363.98 L441.97,363.39 L441.73,362.80 L441.50,362.20 L441.28,361.59 L441.05,360.97 L440.83,360.34 L440.62,359.69 L440.41,359.04 L440.20,358.37 L440.01,357.70 L439.83,357.01 L439.66,356.31 L439.50,355.60 L439.35,354.88 L439.20,354.17 L439.06,353.44 L438.93,352.70 L438.81,351.96 L438.71,351.19 L438.62,350.41 L438.56,349.60 L438.51,348.76 L438.50,347.90 L438.51,346.98 L438.55,346.01 L438.61,344.99 L438.68,343.94 L438.78,342.88 L438.90,341.83 L439.03,340.80 L439.17,339.80 L439.33,338.87 L439.50,338.00 L439.69,337.20 L439.90,336.44 L440.14,335.73 L440.39,335.04 L440.66,334.39 L440.93,333.76 L441.20,333.15 L441.48,332.56 L441.74,331.98 L442.00,331.40 L442.25,330.84 L442.50,330.32 L442.76,329.83 L443.01,329.35 L443.27,328.89 L443.52,328.43 L443.77,327.96 L444.02,327.48 L444.26,326.98 L444.50,326.45 L444.74,325.88 L444.98,325.27 L445.23,324.64 L445.47,323.99 L445.71,323.34 L445.94,322.69 L446.15,322.06 L446.35,321.47 L446.54,320.91 L446.70,320.40 L446.84,319.93 L446.96,319.48 L447.07,319.05 L447.16,318.64 L447.24,318.26 L447.30,317.91 L447.36,317.60 L447.41,317.32 L447.46,317.08 L447.50,316.88 Z" fill="#c6c6c6" stroke="#8c8c8c" stroke-width="0.45"/>
<line x1="447.50" y1="316.88" x2="447.50" y2="380.24" stroke="#8c8c8c" stroke-width="0.45" stroke-opacity="0.9"/>
<rect x="444.90" y="340.75" width="5.20" height="15.51" fill="none" stroke="#8c8c8c" stroke-width="0.45"/>
<line x1="444.90" y1="347.90" x2="450.10" y2="347.90" stroke="#3a3a3a" stroke-width="0.75"/>
<path d="M473.60,313.25 L473.64,313.42 L473.68,313.62 L473.73,313.86 L473.78,314.13 L473.84,314.43 L473.91,314.74 L473.98,315.07 L474.06,315.40 L474.15,315.75 L474.25,316.10 L474.35,316.44 L474.47,316.78 L474.60,317.10 L474.74,317.42 L474.88,317.74 L475.03,318.06 L475.19,318.38 L475.36,318.70 L475.54,319.03 L475.73,319.36 L475.92,319.70 L476.13,320.05 L476.36,320.40 L476.59,320.76 L476.84,321.12 L477.10,321.50 L477.38,321.88 L477.69,322.26 L478.03,322.65 L478.38,323.04 L478.74,323.44 L479.11,323.84 L479.49,324.25 L479.87,324.67 L480.24,325.11 L480.60,325.56 L480.95,326.02 L481.29,326.50 L481.60,327.00 L481.91,327.52 L482.22,328.07 L482.54,328.65 L482.85,329.24 L483.17,329.85 L483.47,330.47 L483.75,331.09 L484.02,331.72 L484.26,332.34 L484.48,332.95 L484.66,333.55 L484.80,334.14 L484.90,334.70 L484.96,335.24 L484.97,335.75 L484.95,336.25 L484.89,336.74 L484.81,337.22 L484.71,337.69 L484.58,338.17 L484.43,338.65 L484.28,339.14 L484.11,339.65 L483.94,340.17 L483.77,340.72 L483.60,341.30 L483.42,341.91 L483.23,342.57 L483.01,343.25 L482.79,343.95 L482.55,344.67 L482.30,345.40 L482.05,346.13 L481.79,346.86 L481.54,347.56 L481.29,348.25 L481.05,348.91 L480.82,349.53 L480.60,350.10 L480.39,350.63 L480.20,351.13 L480.01,351.59 L479.83,352.04 L479.65,352.46 L479.47,352.86 L479.29,353.25 L479.11,353.63 L478.93,354.02 L478.73,354.40 L478.53,354.79 L478.32,355.19 L478.10,355.60 L477.86,356.02 L477.59,356.45 L477.31,356.87 L477.01,357.29 L476.71,357.72 L476.41,358.14 L476.11,358.56 L475.81,358.98 L475.53,359.41 L475.26,359.83 L475.01,360.25 L474.79,360.68 L474.60,361.10 L474.44,361.54 L474.30,362.00 L474.18,362.48 L474.08,362.97 L473.99,363.47 L473.91,363.95 L473.85,364.43 L473.80,364.89 L473.75,365.31 L473.71,365.71 L473.67,366.06 L473.64,366.36 L473.60,366.60 L473.60,366.60 L473.56,366.36 L473.53,366.06 L473.49,365.71 L473.45,365.31 L473.40,364.89 L473.35,364.43 L473.29,363.95 L473.21,363.47 L473.12,362.97 L473.02,362.48 L472.90,362.00 L472.76,361.54 L472.60,361.10 L472.41,360.68 L472.19,360.25 L471.94,359.83 L471.67,359.41 L471.39,358.98 L471.09,358.56 L470.79,358.14 L470.49,357.72 L470.19,357.29 L469.89,356.87 L469.61,356.45 L469.34,356.02 L469.10,355.60 L468.88,355.19 L468.67,354.79 L468.47,354.40 L468.27,354.02 L468.09,353.63 L467.91,353.25 L467.73,352.86 L467.55,352.46 L467.37,352.04 L467.19,351.59 L467.00,351.13 L466.81,350.63 L466.60,350.10 L466.38,349.53 L466.15,348.91 L465.91,348.25 L465.66,347.56 L465.41,346.86 L465.15,346.13 L464.90,345.40 L464.65,344.67 L464.41,343.95 L464.19,343.25 L463.97,342.57 L463.78,341.91 L463.60,341.30 L463.43,340.72 L463.26,340.17 L463.09,339.65 L462.92,339.14 L462.77,338.65 L462.62,338.17 L462.49,337.69 L462.39,337.22 L462.31,336.74 L462.25,336.25 L462.23,335.75 L462.24,335.24 L462.30,334.70 L462.40,334.14 L462.54,333.55 L462.72,332.95 L462.94,332.34 L463.18,331.72 L463.45,331.09 L463.73,330.47 L464.03,329.85 L464.35,329.24 L464.66,328.65 L464.98,328.07 L465.29,327.52 L465.60,327.00 L465.91,326.50 L466.25,326.02 L466.60,325.56 L466.96,325.11 L467.33,324.67 L467.71,324.25 L468.09,323.84 L468.46,323.44 L468.82,323.04 L469.17,322.65 L469.51,322.26 L469.82,321.88 L470.10,321.50 L470.36,321.12 L470.61,320.76 L470.84,320.40 L471.07,320.05 L471.28,319.70 L471.47,319.36 L471.66,319.03 L471.84,318.70 L472.01,318.38 L472.17,318.06 L472.32,317.74 L472.46,317.42 L472.60,317.10 L472.73,316.78 L472.85,316.44 L472.95,316.10 L473.05,315.75 L473.14,315.40 L473.22,315.07 L473.29,314.74 L473.36,314.43 L473.42,314.13 L473.47,313.86 L473.52,313.62 L473.56,313.42 L473.60,313.25 Z" fill="#d22a2a" stroke="#8a1a1a" stroke-width="0.45"/>
<line x1="473.60" y1="313.25" x2="473.60" y2="366.60" stroke="#8a1a1a" stroke-width="0.45" stroke-opacity="0.9"/>
<rect x="471.00" y="332.50" width="5.20" height="13.20" fill="none" stroke="#8a1a1a" stroke-width="0.45"/>
<line x1="471.00" y1="338.00" x2="476.20" y2="338.00" stroke="#3a3a3a" stroke-width="0.75"/>
<path d="M499.40,310.94 L499.45,311.16 L499.50,311.44 L499.56,311.75 L499.63,312.11 L499.70,312.50 L499.78,312.91 L499.87,313.34 L499.97,313.79 L500.07,314.24 L500.19,314.70 L500.32,315.15 L500.45,315.58 L500.60,316.00 L500.76,316.41 L500.93,316.81 L501.11,317.22 L501.30,317.62 L501.51,318.03 L501.72,318.45 L501.94,318.86 L502.16,319.28 L502.40,319.71 L502.64,320.15 L502.89,320.59 L503.14,321.04 L503.40,321.50 L503.67,321.96 L503.96,322.43 L504.26,322.90 L504.57,323.37 L504.88,323.84 L505.21,324.33 L505.53,324.82 L505.86,325.33 L506.18,325.85 L506.50,326.38 L506.81,326.93 L507.11,327.51 L507.40,328.10 L507.69,328.72 L508.00,329.38 L508.31,330.07 L508.63,330.78 L508.95,331.51 L509.26,332.25 L509.56,332.99 L509.83,333.73 L510.08,334.47 L510.30,335.19 L510.48,335.90 L510.62,336.58 L510.70,337.23 L510.73,337.86 L510.72,338.47 L510.66,339.07 L510.56,339.65 L510.43,340.23 L510.28,340.79 L510.10,341.35 L509.91,341.90 L509.71,342.45 L509.50,342.99 L509.29,343.53 L509.09,344.06 L508.90,344.60 L508.71,345.14 L508.50,345.68 L508.28,346.22 L508.05,346.76 L507.81,347.29 L507.57,347.82 L507.32,348.35 L507.07,348.86 L506.83,349.36 L506.58,349.84 L506.35,350.31 L506.12,350.77 L505.90,351.20 L505.69,351.61 L505.49,352.00 L505.30,352.37 L505.11,352.72 L504.92,353.05 L504.74,353.38 L504.56,353.70 L504.38,354.01 L504.19,354.32 L504.00,354.63 L503.81,354.95 L503.61,355.27 L503.40,355.60 L503.18,355.93 L502.95,356.25 L502.70,356.57 L502.45,356.88 L502.19,357.19 L501.93,357.50 L501.68,357.82 L501.43,358.15 L501.19,358.48 L500.97,358.83 L500.76,359.20 L500.57,359.59 L500.40,360.00 L500.25,360.45 L500.13,360.96 L500.01,361.51 L499.91,362.08 L499.82,362.68 L499.75,363.28 L499.68,363.87 L499.62,364.44 L499.57,364.98 L499.52,365.48 L499.48,365.93 L499.44,366.30 L499.40,366.60 L499.40,366.60 L499.36,366.30 L499.32,365.93 L499.28,365.48 L499.23,364.98 L499.18,364.44 L499.12,363.87 L499.05,363.28 L498.98,362.68 L498.89,362.08 L498.79,361.51 L498.67,360.96 L498.55,360.45 L498.40,360.00 L498.23,359.59 L498.04,359.20 L497.83,358.83 L497.61,358.48 L497.37,358.15 L497.12,357.82 L496.87,357.50 L496.61,357.19 L496.35,356.88 L496.10,356.57 L495.85,356.25 L495.62,355.93 L495.40,355.60 L495.19,355.27 L494.99,354.95 L494.80,354.63 L494.61,354.32 L494.42,354.01 L494.24,353.70 L494.06,353.38 L493.88,353.05 L493.69,352.72 L493.50,352.37 L493.31,352.00 L493.11,351.61 L492.90,351.20 L492.68,350.77 L492.45,350.31 L492.22,349.84 L491.97,349.36 L491.73,348.86 L491.48,348.35 L491.23,347.82 L490.99,347.29 L490.75,346.76 L490.52,346.22 L490.30,345.68 L490.09,345.14 L489.90,344.60 L489.71,344.06 L489.51,343.53 L489.30,342.99 L489.09,342.45 L488.89,341.90 L488.70,341.35 L488.52,340.79 L488.37,340.23 L488.24,339.65 L488.14,339.07 L488.08,338.47 L488.07,337.86 L488.10,337.23 L488.18,336.58 L488.32,335.90 L488.50,335.19 L488.72,334.47 L488.97,333.73 L489.24,332.99 L489.54,332.25 L489.85,331.51 L490.17,330.78 L490.49,330.07 L490.80,329.38 L491.11,328.72 L491.40,328.10 L491.69,327.51 L491.99,326.93 L492.30,326.38 L492.62,325.85 L492.94,325.33 L493.27,324.82 L493.59,324.33 L493.92,323.84 L494.23,323.37 L494.54,322.90 L494.84,322.43 L495.13,321.96 L495.40,321.50 L495.66,321.04 L495.91,320.59 L496.16,320.15 L496.40,319.71 L496.64,319.28 L496.86,318.86 L497.08,318.45 L497.29,318.03 L497.50,317.62 L497.69,317.22 L497.87,316.81 L498.04,316.41 L498.20,316.00 L498.35,315.58 L498.48,315.15 L498.61,314.70 L498.73,314.24 L498.83,313.79 L498.93,313.34 L499.02,312.91 L499.10,312.50 L499.17,312.11 L499.24,311.75 L499.30,311.44 L499.35,311.16 L499.40,310.94 Z" fill="#a6a6a6" stroke="#6e6e6e" stroke-width="0.45"/>
<line x1="499.40" y1="310.94" x2="499.40" y2="366.60" stroke="#6e6e6e" stroke-width="0.45" stroke-opacity="0.9"/>
<rect x="496.80" y="332.50" width="5.20" height="12.65" fill="none" stroke="#6e6e6e" stroke-width="0.45"/>
<line x1="496.80" y1="338.00" x2="502.00" y2="338.00" stroke="#3a3a3a" stroke-width="0.75"/>
<path d="M525.20,310.94 L525.24,311.20 L525.28,311.52 L525.32,311.88 L525.37,312.28 L525.42,312.72 L525.48,313.19 L525.55,313.69 L525.62,314.22 L525.71,314.77 L525.81,315.33 L525.93,315.91 L526.05,316.50 L526.20,317.10 L526.37,317.72 L526.56,318.37 L526.77,319.06 L526.99,319.78 L527.23,320.51 L527.48,321.27 L527.73,322.03 L527.99,322.79 L528.25,323.55 L528.50,324.30 L528.75,325.04 L528.98,325.76 L529.20,326.45 L529.41,327.12 L529.61,327.79 L529.81,328.44 L530.01,329.09 L530.20,329.73 L530.39,330.36 L530.57,330.99 L530.76,331.62 L530.95,332.24 L531.13,332.86 L531.32,333.47 L531.51,334.09 L531.70,334.70 L531.89,335.30 L532.09,335.89 L532.28,336.46 L532.48,337.02 L532.67,337.58 L532.87,338.13 L533.06,338.69 L533.25,339.26 L533.45,339.85 L533.64,340.45 L533.83,341.07 L534.01,341.72 L534.20,342.40 L534.40,343.13 L534.62,343.90 L534.85,344.71 L535.09,345.56 L535.33,346.42 L535.57,347.29 L535.79,348.16 L536.00,349.03 L536.17,349.87 L536.32,350.68 L536.43,351.46 L536.49,352.18 L536.50,352.85 L536.46,353.46 L536.36,354.03 L536.23,354.56 L536.05,355.05 L535.85,355.52 L535.62,355.97 L535.37,356.40 L535.10,356.81 L534.82,357.22 L534.53,357.63 L534.25,358.04 L533.97,358.46 L533.70,358.90 L533.43,359.34 L533.15,359.78 L532.85,360.22 L532.54,360.65 L532.23,361.08 L531.91,361.51 L531.58,361.93 L531.26,362.35 L530.93,362.77 L530.61,363.18 L530.30,363.59 L529.99,364.00 L529.70,364.40 L529.41,364.79 L529.11,365.17 L528.81,365.53 L528.50,365.89 L528.20,366.24 L527.91,366.60 L527.62,366.95 L527.34,367.31 L527.08,367.68 L526.83,368.07 L526.60,368.47 L526.39,368.90 L526.20,369.35 L526.04,369.85 L525.90,370.40 L525.78,371.00 L525.68,371.62 L525.59,372.27 L525.51,372.91 L525.45,373.55 L525.40,374.17 L525.35,374.76 L525.31,375.29 L525.27,375.77 L525.24,376.18 L525.20,376.50 L525.20,376.50 L525.16,376.18 L525.13,375.77 L525.09,375.29 L525.05,374.76 L525.00,374.17 L524.95,373.55 L524.89,372.91 L524.81,372.27 L524.72,371.62 L524.62,371.00 L524.50,370.40 L524.36,369.85 L524.20,369.35 L524.01,368.90 L523.80,368.47 L523.57,368.07 L523.32,367.68 L523.06,367.31 L522.78,366.95 L522.49,366.60 L522.20,366.24 L521.90,365.89 L521.59,365.53 L521.29,365.17 L520.99,364.79 L520.70,364.40 L520.41,364.00 L520.10,363.59 L519.79,363.18 L519.47,362.77 L519.14,362.35 L518.82,361.93 L518.49,361.51 L518.17,361.08 L517.86,360.65 L517.55,360.22 L517.25,359.78 L516.97,359.34 L516.70,358.90 L516.43,358.46 L516.15,358.04 L515.87,357.63 L515.58,357.22 L515.30,356.81 L515.03,356.40 L514.78,355.97 L514.55,355.52 L514.35,355.05 L514.17,354.56 L514.04,354.03 L513.94,353.46 L513.90,352.85 L513.91,352.18 L513.97,351.46 L514.08,350.68 L514.23,349.87 L514.40,349.03 L514.61,348.16 L514.83,347.29 L515.07,346.42 L515.31,345.56 L515.55,344.71 L515.78,343.90 L516.00,343.13 L516.20,342.40 L516.39,341.72 L516.57,341.07 L516.76,340.45 L516.95,339.85 L517.15,339.26 L517.34,338.69 L517.53,338.13 L517.73,337.58 L517.92,337.02 L518.12,336.46 L518.31,335.89 L518.51,335.30 L518.70,334.70 L518.89,334.09 L519.08,333.47 L519.27,332.86 L519.45,332.24 L519.64,331.62 L519.83,330.99 L520.01,330.36 L520.20,329.73 L520.39,329.09 L520.59,328.44 L520.79,327.79 L520.99,327.12 L521.20,326.45 L521.42,325.76 L521.65,325.04 L521.90,324.30 L522.15,323.55 L522.41,322.79 L522.67,322.03 L522.92,321.27 L523.17,320.51 L523.41,319.78 L523.63,319.06 L523.84,318.37 L524.03,317.72 L524.20,317.10 L524.35,316.50 L524.47,315.91 L524.59,315.33 L524.69,314.77 L524.78,314.22 L524.85,313.69 L524.92,313.19 L524.98,312.72 L525.03,312.28 L525.08,311.88 L525.12,311.52 L525.16,311.20 L525.20,310.94 Z" fill="#8b0000" stroke="#5a0000" stroke-width="0.45"/>
<line x1="525.20" y1="310.94" x2="525.20" y2="376.50" stroke="#5a0000" stroke-width="0.45" stroke-opacity="0.9"/>
<rect x="522.60" y="341.96" width="5.20" height="14.30" fill="none" stroke="#5a0000" stroke-width="0.45"/>
<line x1="522.60" y1="350.32" x2="527.80" y2="350.32" stroke="#2a0303" stroke-width="0.75"/>
<rect x="432.50" y="306.60" width="108.20" height="77.80" fill="none" stroke="#444" stroke-width="0.65"/>
<line x1="428.90" y1="322.60" x2="432.50" y2="322.60" stroke="#999" stroke-width="0.6"/>
<text x="426.20" y="324.80" font-size="6.2" text-anchor="end" fill="#333">2</text>
<line x1="428.90" y1="344.60" x2="432.50" y2="344.60" stroke="#999" stroke-width="0.6"/>
<text x="426.20" y="346.80" font-size="6.2" text-anchor="end" fill="#333">0</text>
<line x1="428.90" y1="366.60" x2="432.50" y2="366.60" stroke="#999" stroke-width="0.6"/>
<text x="426.20" y="368.80" font-size="6.2" text-anchor="end" fill="#333">-2</text>
<line x1="447.50" y1="384.40" x2="447.50" y2="386.40" stroke="#444" stroke-width="0.5"/>
<text x="447.50" y="395.00" font-size="5.6" text-anchor="middle">WT</text>
<line x1="473.60" y1="384.40" x2="473.60" y2="386.40" stroke="#444" stroke-width="0.5"/>
<text x="473.60" y="395.00" font-size="5.6" text-anchor="middle">KO</text>
<line x1="499.40" y1="384.40" x2="499.40" y2="386.40" stroke="#444" stroke-width="0.5"/>
<text x="499.40" y="395.00" font-size="5.6" text-anchor="middle">WT</text>
<line x1="525.20" y1="384.40" x2="525.20" y2="386.40" stroke="#444" stroke-width="0.5"/>
<text x="525.20" y="395.00" font-size="5.6" text-anchor="middle">KO</text>
<text x="461.10" y="404.80" font-size="7.2" text-anchor="middle" textLength="16.60" lengthAdjust="spacingAndGlyphs">RPFs</text>
<text x="512.70" y="404.80" font-size="7.2" text-anchor="middle" textLength="38.00" lengthAdjust="spacingAndGlyphs">Proteomics</text>
<text x="417.30" y="345.50" font-size="7.4" text-anchor="middle" textLength="87.00" lengthAdjust="spacingAndGlyphs" transform="rotate(-90 417.30 345.50)">Normalized quantification</text>
<text x="571.80" y="269.60" font-size="7.4" fill="#1a1a1a" textLength="58.70" lengthAdjust="spacingAndGlyphs">MYC TARGETS V1</text>
<text x="571.80" y="277.40" font-size="6.15">Genes in pathway: 197</text>
<text x="571.80" y="284.55" font-size="6.15">Detected proteins: 184</text>
<text x="571.80" y="291.70" font-size="6.15">Detected RPFs: 190</text>
<text x="571.80" y="298.85" font-size="6.15">Shared in leading edges: 41</text>
<path d="M588.70,319.31 L588.74,319.51 L588.79,319.76 L588.83,320.05 L588.89,320.38 L588.94,320.73 L589.01,321.11 L589.09,321.51 L589.18,321.92 L589.29,322.33 L589.41,322.75 L589.54,323.16 L589.70,323.56 L589.88,323.96 L590.09,324.35 L590.32,324.76 L590.57,325.17 L590.83,325.58 L591.11,326.01 L591.38,326.44 L591.66,326.88 L591.94,327.33 L592.21,327.79 L592.46,328.27 L592.70,328.75 L592.93,329.25 L593.16,329.77 L593.38,330.29 L593.61,330.83 L593.83,331.38 L594.04,331.94 L594.25,332.50 L594.46,333.07 L594.66,333.64 L594.85,334.21 L595.03,334.79 L595.20,335.36 L595.36,335.94 L595.52,336.53 L595.67,337.13 L595.81,337.74 L595.95,338.35 L596.08,338.97 L596.20,339.57 L596.32,340.18 L596.43,340.77 L596.53,341.34 L596.62,341.90 L596.70,342.44 L596.78,342.95 L596.84,343.43 L596.90,343.89 L596.95,344.33 L597.00,344.76 L597.03,345.19 L597.06,345.62 L597.08,346.05 L597.10,346.50 L597.10,346.97 L597.11,347.46 L597.10,347.99 L597.09,348.54 L597.06,349.12 L597.03,349.73 L596.98,350.35 L596.93,350.98 L596.88,351.62 L596.81,352.27 L596.75,352.92 L596.69,353.56 L596.62,354.19 L596.56,354.82 L596.50,355.42 L596.45,356.01 L596.40,356.60 L596.37,357.19 L596.33,357.77 L596.29,358.35 L596.25,358.92 L596.20,359.49 L596.14,360.06 L596.06,360.62 L595.96,361.17 L595.84,361.72 L595.70,362.26 L595.53,362.80 L595.33,363.34 L595.10,363.88 L594.86,364.41 L594.61,364.94 L594.34,365.46 L594.06,365.98 L593.78,366.49 L593.50,366.98 L593.23,367.47 L592.96,367.94 L592.70,368.40 L592.44,368.84 L592.18,369.24 L591.90,369.62 L591.63,369.99 L591.35,370.35 L591.08,370.70 L590.81,371.06 L590.55,371.42 L590.31,371.81 L590.08,372.21 L589.88,372.65 L589.70,373.12 L589.54,373.65 L589.41,374.25 L589.29,374.89 L589.18,375.57 L589.09,376.26 L589.01,376.96 L588.94,377.63 L588.89,378.28 L588.83,378.87 L588.79,379.40 L588.74,379.85 L588.70,380.20 L588.70,380.20 L588.66,379.85 L588.61,379.40 L588.57,378.87 L588.51,378.28 L588.46,377.63 L588.39,376.96 L588.31,376.26 L588.22,375.57 L588.11,374.89 L587.99,374.25 L587.86,373.65 L587.70,373.12 L587.52,372.65 L587.32,372.21 L587.09,371.81 L586.85,371.42 L586.59,371.06 L586.33,370.70 L586.05,370.35 L585.77,369.99 L585.50,369.62 L585.22,369.24 L584.96,368.84 L584.70,368.40 L584.44,367.94 L584.17,367.47 L583.90,366.98 L583.62,366.49 L583.34,365.98 L583.06,365.46 L582.79,364.94 L582.54,364.41 L582.30,363.88 L582.07,363.34 L581.87,362.80 L581.70,362.26 L581.56,361.72 L581.44,361.17 L581.34,360.62 L581.26,360.06 L581.20,359.49 L581.15,358.92 L581.11,358.35 L581.07,357.77 L581.03,357.19 L581.00,356.60 L580.95,356.01 L580.90,355.42 L580.84,354.82 L580.78,354.19 L580.71,353.56 L580.65,352.92 L580.59,352.27 L580.53,351.62 L580.47,350.98 L580.42,350.35 L580.38,349.73 L580.34,349.12 L580.31,348.54 L580.30,347.99 L580.29,347.46 L580.30,346.97 L580.30,346.50 L580.32,346.05 L580.34,345.62 L580.37,345.19 L580.40,344.76 L580.45,344.33 L580.50,343.89 L580.56,343.43 L580.62,342.95 L580.70,342.44 L580.78,341.90 L580.87,341.34 L580.97,340.77 L581.08,340.18 L581.20,339.57 L581.32,338.97 L581.45,338.35 L581.59,337.74 L581.73,337.13 L581.88,336.53 L582.04,335.94 L582.20,335.36 L582.37,334.79 L582.55,334.21 L582.74,333.64 L582.94,333.07 L583.15,332.50 L583.36,331.94 L583.57,331.38 L583.79,330.83 L584.02,330.29 L584.24,329.77 L584.47,329.25 L584.70,328.75 L584.94,328.27 L585.19,327.79 L585.46,327.33 L585.74,326.88 L586.02,326.44 L586.29,326.01 L586.57,325.58 L586.83,325.17 L587.08,324.76 L587.31,324.35 L587.52,323.96 L587.70,323.56 L587.86,323.16 L587.99,322.75 L588.11,322.33 L588.22,321.92 L588.31,321.51 L588.39,321.11 L588.46,320.73 L588.51,320.38 L588.57,320.05 L588.61,319.76 L588.66,319.51 L588.70,319.31 Z" fill="#c6c6c6" stroke="#8c8c8c" stroke-width="0.45"/>
<line x1="588.70" y1="319.31" x2="588.70" y2="380.20" stroke="#8c8c8c" stroke-width="0.45" stroke-opacity="0.9"/>
<rect x="586.10" y="341.97" width="5.20" height="17.46" fill="none" stroke="#8c8c8c" stroke-width="0.45"/>
<line x1="586.10" y1="349.05" x2="591.30" y2="349.05" stroke="#3a3a3a" stroke-width="0.75"/>
<path d="M614.80,311.76 L614.86,311.96 L614.92,312.20 L614.98,312.48 L615.05,312.79 L615.13,313.12 L615.22,313.49 L615.32,313.87 L615.44,314.28 L615.57,314.70 L615.72,315.13 L615.89,315.58 L616.08,316.03 L616.30,316.48 L616.55,316.95 L616.83,317.44 L617.14,317.95 L617.48,318.48 L617.84,319.03 L618.20,319.59 L618.58,320.16 L618.97,320.73 L619.35,321.30 L619.73,321.88 L620.11,322.45 L620.46,323.01 L620.80,323.56 L621.13,324.10 L621.46,324.64 L621.79,325.18 L622.12,325.72 L622.44,326.25 L622.77,326.79 L623.08,327.32 L623.39,327.87 L623.70,328.41 L623.99,328.96 L624.27,329.51 L624.54,330.07 L624.80,330.64 L625.05,331.22 L625.31,331.81 L625.57,332.42 L625.83,333.03 L626.08,333.65 L626.31,334.27 L626.53,334.89 L626.73,335.50 L626.91,336.11 L627.06,336.71 L627.18,337.30 L627.26,337.87 L627.30,338.43 L627.30,338.97 L627.26,339.49 L627.18,340.01 L627.07,340.52 L626.93,341.02 L626.76,341.51 L626.58,342.00 L626.38,342.47 L626.17,342.95 L625.96,343.41 L625.74,343.88 L625.52,344.34 L625.30,344.80 L625.08,345.25 L624.84,345.70 L624.58,346.15 L624.32,346.58 L624.04,347.01 L623.76,347.44 L623.47,347.87 L623.18,348.28 L622.89,348.70 L622.60,349.12 L622.33,349.53 L622.06,349.94 L621.80,350.35 L621.55,350.75 L621.31,351.15 L621.07,351.54 L620.84,351.92 L620.61,352.31 L620.38,352.69 L620.16,353.07 L619.93,353.45 L619.71,353.83 L619.48,354.22 L619.26,354.61 L619.03,355.01 L618.80,355.42 L618.56,355.84 L618.32,356.26 L618.07,356.68 L617.81,357.11 L617.56,357.54 L617.30,357.98 L617.05,358.42 L616.81,358.86 L616.58,359.30 L616.36,359.75 L616.15,360.19 L615.97,360.64 L615.80,361.08 L615.65,361.55 L615.53,362.04 L615.41,362.55 L615.31,363.08 L615.22,363.60 L615.15,364.13 L615.08,364.64 L615.02,365.13 L614.97,365.60 L614.92,366.02 L614.88,366.40 L614.84,366.72 L614.80,366.98 L614.80,366.98 L614.76,366.72 L614.72,366.40 L614.68,366.02 L614.63,365.60 L614.58,365.13 L614.52,364.64 L614.45,364.13 L614.38,363.60 L614.29,363.08 L614.19,362.55 L614.07,362.04 L613.95,361.55 L613.80,361.08 L613.63,360.64 L613.45,360.19 L613.24,359.75 L613.02,359.30 L612.79,358.86 L612.55,358.42 L612.30,357.98 L612.04,357.54 L611.79,357.11 L611.53,356.68 L611.28,356.26 L611.04,355.84 L610.80,355.42 L610.57,355.01 L610.34,354.61 L610.12,354.22 L609.89,353.83 L609.67,353.45 L609.44,353.07 L609.22,352.69 L608.99,352.31 L608.76,351.92 L608.53,351.54 L608.29,351.15 L608.05,350.75 L607.80,350.35 L607.54,349.94 L607.27,349.53 L607.00,349.12 L606.71,348.70 L606.42,348.28 L606.13,347.87 L605.84,347.44 L605.56,347.01 L605.28,346.58 L605.02,346.15 L604.76,345.70 L604.52,345.25 L604.30,344.80 L604.08,344.34 L603.86,343.88 L603.64,343.41 L603.43,342.95 L603.22,342.47 L603.02,342.00 L602.84,341.51 L602.67,341.02 L602.53,340.52 L602.42,340.01 L602.34,339.49 L602.30,338.97 L602.30,338.43 L602.34,337.87 L602.42,337.30 L602.54,336.71 L602.69,336.11 L602.87,335.50 L603.07,334.89 L603.29,334.27 L603.52,333.65 L603.77,333.03 L604.03,332.42 L604.29,331.81 L604.55,331.22 L604.80,330.64 L605.06,330.07 L605.33,329.51 L605.61,328.96 L605.90,328.41 L606.21,327.87 L606.52,327.32 L606.83,326.79 L607.16,326.25 L607.48,325.72 L607.81,325.18 L608.14,324.64 L608.47,324.10 L608.80,323.56 L609.14,323.01 L609.49,322.45 L609.87,321.88 L610.25,321.30 L610.63,320.73 L611.02,320.16 L611.40,319.59 L611.76,319.03 L612.12,318.48 L612.46,317.95 L612.77,317.44 L613.05,316.95 L613.30,316.48 L613.52,316.03 L613.71,315.58 L613.88,315.13 L614.03,314.70 L614.16,314.28 L614.28,313.87 L614.38,313.49 L614.47,313.12 L614.55,312.79 L614.62,312.48 L614.68,312.20 L614.74,311.96 L614.80,311.76 Z" fill="#d22a2a" stroke="#8a1a1a" stroke-width="0.45"/>
<line x1="614.80" y1="311.76" x2="614.80" y2="366.98" stroke="#8a1a1a" stroke-width="0.45" stroke-opacity="0.9"/>
<rect x="612.20" y="333.12" width="5.20" height="11.33" fill="none" stroke="#8a1a1a" stroke-width="0.45"/>
<line x1="612.20" y1="338.43" x2="617.40" y2="338.43" stroke="#3a3a3a" stroke-width="0.75"/>
<path d="M640.60,309.75 L640.66,309.94 L640.73,310.16 L640.80,310.41 L640.89,310.69 L640.98,310.99 L641.08,311.32 L641.19,311.67 L641.31,312.04 L641.44,312.43 L641.59,312.84 L641.74,313.26 L641.91,313.68 L642.10,314.12 L642.30,314.57 L642.52,315.05 L642.76,315.54 L643.01,316.06 L643.28,316.59 L643.55,317.14 L643.84,317.70 L644.13,318.27 L644.42,318.85 L644.72,319.43 L645.01,320.02 L645.31,320.61 L645.60,321.20 L645.90,321.79 L646.21,322.39 L646.53,322.99 L646.87,323.59 L647.20,324.21 L647.54,324.83 L647.87,325.45 L648.20,326.09 L648.52,326.74 L648.82,327.40 L649.10,328.07 L649.36,328.76 L649.60,329.46 L649.82,330.19 L650.04,330.94 L650.25,331.73 L650.45,332.53 L650.64,333.34 L650.81,334.17 L650.97,334.99 L651.11,335.81 L651.22,336.62 L651.31,337.40 L651.37,338.17 L651.40,338.91 L651.40,339.61 L651.36,340.28 L651.27,340.93 L651.15,341.57 L651.00,342.19 L650.82,342.79 L650.62,343.38 L650.41,343.96 L650.19,344.52 L649.96,345.07 L649.73,345.61 L649.51,346.13 L649.29,346.65 L649.10,347.16 L648.91,347.65 L648.73,348.13 L648.54,348.59 L648.35,349.03 L648.15,349.46 L647.96,349.88 L647.77,350.29 L647.57,350.70 L647.38,351.10 L647.18,351.50 L646.99,351.90 L646.79,352.30 L646.60,352.71 L646.41,353.11 L646.22,353.51 L646.02,353.90 L645.83,354.28 L645.64,354.67 L645.45,355.05 L645.25,355.43 L645.06,355.81 L644.87,356.19 L644.68,356.58 L644.48,356.97 L644.29,357.37 L644.10,357.78 L643.90,358.18 L643.70,358.57 L643.49,358.94 L643.28,359.31 L643.07,359.68 L642.86,360.06 L642.65,360.45 L642.45,360.86 L642.26,361.30 L642.07,361.77 L641.90,362.28 L641.74,362.84 L641.60,363.44 L641.47,364.14 L641.35,364.94 L641.25,365.82 L641.15,366.76 L641.06,367.74 L640.98,368.73 L640.91,369.72 L640.84,370.68 L640.78,371.59 L640.73,372.43 L640.68,373.18 L640.64,373.81 L640.60,374.30 L640.60,374.30 L640.56,373.81 L640.52,373.18 L640.47,372.43 L640.42,371.59 L640.36,370.68 L640.29,369.72 L640.22,368.73 L640.14,367.74 L640.05,366.76 L639.95,365.82 L639.85,364.94 L639.73,364.14 L639.60,363.44 L639.46,362.84 L639.30,362.28 L639.13,361.77 L638.94,361.30 L638.75,360.86 L638.55,360.45 L638.34,360.06 L638.13,359.68 L637.92,359.31 L637.71,358.94 L637.50,358.57 L637.30,358.18 L637.10,357.78 L636.91,357.37 L636.72,356.97 L636.52,356.58 L636.33,356.19 L636.14,355.81 L635.95,355.43 L635.75,355.05 L635.56,354.67 L635.37,354.28 L635.18,353.90 L634.98,353.51 L634.79,353.11 L634.60,352.71 L634.41,352.30 L634.21,351.90 L634.02,351.50 L633.82,351.10 L633.63,350.70 L633.43,350.29 L633.24,349.88 L633.05,349.46 L632.85,349.03 L632.66,348.59 L632.47,348.13 L632.29,347.65 L632.10,347.16 L631.91,346.65 L631.69,346.13 L631.47,345.61 L631.24,345.07 L631.01,344.52 L630.79,343.96 L630.58,343.38 L630.38,342.79 L630.20,342.19 L630.05,341.57 L629.93,340.93 L629.84,340.28 L629.80,339.61 L629.80,338.91 L629.83,338.17 L629.89,337.40 L629.98,336.62 L630.09,335.81 L630.23,334.99 L630.39,334.17 L630.56,333.34 L630.75,332.53 L630.95,331.73 L631.16,330.94 L631.38,330.19 L631.60,329.46 L631.84,328.76 L632.10,328.07 L632.38,327.40 L632.68,326.74 L633.00,326.09 L633.33,325.45 L633.66,324.83 L634.00,324.21 L634.33,323.59 L634.67,322.99 L634.99,322.39 L635.30,321.79 L635.60,321.20 L635.89,320.61 L636.19,320.02 L636.48,319.43 L636.78,318.85 L637.07,318.27 L637.36,317.70 L637.65,317.14 L637.92,316.59 L638.19,316.06 L638.44,315.54 L638.68,315.05 L638.90,314.57 L639.10,314.12 L639.29,313.68 L639.46,313.26 L639.61,312.84 L639.76,312.43 L639.89,312.04 L640.01,311.67 L640.12,311.32 L640.22,310.99 L640.31,310.69 L640.40,310.41 L640.47,310.16 L640.54,309.94 L640.60,309.75 Z" fill="#a6a6a6" stroke="#6e6e6e" stroke-width="0.45"/>
<line x1="640.60" y1="309.75" x2="640.60" y2="374.30" stroke="#6e6e6e" stroke-width="0.45" stroke-opacity="0.9"/>
<rect x="638.00" y="333.59" width="5.20" height="13.92" fill="none" stroke="#6e6e6e" stroke-width="0.45"/>
<line x1="638.00" y1="340.32" x2="643.20" y2="340.32" stroke="#3a3a3a" stroke-width="0.75"/>
<path d="M666.80,314.00 L666.86,314.21 L666.94,314.48 L667.02,314.78 L667.12,315.12 L667.22,315.49 L667.33,315.89 L667.45,316.31 L667.58,316.73 L667.72,317.17 L667.85,317.60 L668.00,318.03 L668.15,318.44 L668.30,318.84 L668.46,319.22 L668.63,319.58 L668.82,319.94 L669.01,320.29 L669.21,320.64 L669.42,321.00 L669.62,321.36 L669.83,321.74 L670.03,322.14 L670.24,322.57 L670.43,323.02 L670.62,323.51 L670.80,324.03 L670.97,324.60 L671.14,325.20 L671.30,325.83 L671.46,326.50 L671.61,327.18 L671.77,327.89 L671.92,328.61 L672.07,329.34 L672.22,330.08 L672.36,330.82 L672.51,331.56 L672.65,332.28 L672.80,333.00 L672.94,333.71 L673.09,334.41 L673.22,335.11 L673.36,335.80 L673.50,336.51 L673.63,337.21 L673.77,337.92 L673.90,338.64 L674.04,339.37 L674.18,340.11 L674.31,340.87 L674.46,341.65 L674.60,342.44 L674.76,343.27 L674.94,344.13 L675.15,345.03 L675.36,345.95 L675.57,346.88 L675.78,347.82 L675.99,348.76 L676.17,349.68 L676.33,350.59 L676.46,351.48 L676.55,352.33 L676.60,353.13 L676.60,353.89 L676.54,354.59 L676.44,355.27 L676.30,355.91 L676.12,356.52 L675.90,357.11 L675.67,357.67 L675.41,358.22 L675.15,358.76 L674.87,359.28 L674.59,359.79 L674.32,360.30 L674.05,360.81 L673.80,361.32 L673.55,361.83 L673.29,362.33 L673.02,362.81 L672.74,363.29 L672.46,363.76 L672.17,364.22 L671.89,364.67 L671.61,365.12 L671.33,365.55 L671.05,365.98 L670.79,366.40 L670.54,366.81 L670.30,367.22 L670.07,367.61 L669.85,367.96 L669.62,368.29 L669.41,368.61 L669.20,368.91 L668.99,369.21 L668.80,369.52 L668.61,369.84 L668.43,370.17 L668.25,370.53 L668.09,370.92 L667.94,371.35 L667.80,371.82 L667.67,372.37 L667.55,372.99 L667.45,373.67 L667.35,374.40 L667.26,375.15 L667.18,375.92 L667.11,376.68 L667.04,377.42 L666.98,378.12 L666.93,378.76 L666.88,379.33 L666.84,379.82 L666.80,380.20 L666.80,380.20 L666.76,379.82 L666.72,379.33 L666.67,378.76 L666.62,378.12 L666.56,377.42 L666.49,376.68 L666.42,375.92 L666.34,375.15 L666.25,374.40 L666.15,373.67 L666.05,372.99 L665.93,372.37 L665.80,371.82 L665.66,371.35 L665.51,370.92 L665.35,370.53 L665.17,370.17 L664.99,369.84 L664.80,369.52 L664.61,369.21 L664.40,368.91 L664.19,368.61 L663.98,368.29 L663.75,367.96 L663.53,367.61 L663.30,367.22 L663.06,366.81 L662.81,366.40 L662.55,365.98 L662.27,365.55 L661.99,365.12 L661.71,364.67 L661.43,364.22 L661.14,363.76 L660.86,363.29 L660.58,362.81 L660.31,362.33 L660.05,361.83 L659.80,361.32 L659.55,360.81 L659.28,360.30 L659.01,359.79 L658.73,359.28 L658.45,358.76 L658.19,358.22 L657.93,357.67 L657.70,357.11 L657.48,356.52 L657.30,355.91 L657.16,355.27 L657.06,354.59 L657.00,353.89 L657.00,353.13 L657.05,352.33 L657.14,351.48 L657.27,350.59 L657.43,349.68 L657.61,348.76 L657.82,347.82 L658.03,346.88 L658.24,345.95 L658.45,345.03 L658.66,344.13 L658.84,343.27 L659.00,342.44 L659.14,341.65 L659.29,340.87 L659.42,340.11 L659.56,339.37 L659.70,338.64 L659.83,337.92 L659.97,337.21 L660.10,336.51 L660.24,335.80 L660.38,335.11 L660.51,334.41 L660.66,333.71 L660.80,333.00 L660.95,332.28 L661.09,331.56 L661.24,330.82 L661.38,330.08 L661.53,329.34 L661.68,328.61 L661.83,327.89 L661.99,327.18 L662.14,326.50 L662.30,325.83 L662.46,325.20 L662.63,324.60 L662.80,324.03 L662.98,323.51 L663.17,323.02 L663.36,322.57 L663.57,322.14 L663.77,321.74 L663.98,321.36 L664.18,321.00 L664.39,320.64 L664.59,320.29 L664.78,319.94 L664.97,319.58 L665.14,319.22 L665.30,318.84 L665.45,318.44 L665.60,318.03 L665.75,317.60 L665.88,317.17 L666.02,316.73 L666.15,316.31 L666.27,315.89 L666.38,315.49 L666.48,315.12 L666.58,314.78 L666.66,314.48 L666.74,314.21 L666.80,314.00 Z" fill="#8b0000" stroke="#5a0000" stroke-width="0.45"/>
<line x1="666.80" y1="314.00" x2="666.80" y2="380.20" stroke="#5a0000" stroke-width="0.45" stroke-opacity="0.9"/>
<rect x="664.20" y="340.32" width="5.20" height="15.46" fill="none" stroke="#5a0000" stroke-width="0.45"/>
<line x1="664.20" y1="349.87" x2="669.40" y2="349.87" stroke="#2a0303" stroke-width="0.75"/>
<rect x="573.70" y="305.70" width="109.10" height="78.10" fill="none" stroke="#444" stroke-width="0.65"/>
<line x1="570.10" y1="321.20" x2="573.70" y2="321.20" stroke="#999" stroke-width="0.6"/>
<text x="567.40" y="323.40" font-size="6.2" text-anchor="end" fill="#333">2</text>
<line x1="570.10" y1="344.80" x2="573.70" y2="344.80" stroke="#999" stroke-width="0.6"/>
<text x="567.40" y="347.00" font-size="6.2" text-anchor="end" fill="#333">0</text>
<line x1="570.10" y1="368.40" x2="573.70" y2="368.40" stroke="#999" stroke-width="0.6"/>
<text x="567.40" y="370.60" font-size="6.2" text-anchor="end" fill="#333">-2</text>
<line x1="588.70" y1="383.80" x2="588.70" y2="385.80" stroke="#444" stroke-width="0.5"/>
<text x="588.70" y="395.00" font-size="5.6" text-anchor="middle">WT</text>
<line x1="614.80" y1="383.80" x2="614.80" y2="385.80" stroke="#444" stroke-width="0.5"/>
<text x="614.80" y="395.00" font-size="5.6" text-anchor="middle">KO</text>
<line x1="640.60" y1="383.80" x2="640.60" y2="385.80" stroke="#444" stroke-width="0.5"/>
<text x="640.60" y="395.00" font-size="5.6" text-anchor="middle">WT</text>
<line x1="666.80" y1="383.80" x2="666.80" y2="385.80" stroke="#444" stroke-width="0.5"/>
<text x="666.80" y="395.00" font-size="5.6" text-anchor="middle">KO</text>
<text x="602.00" y="404.80" font-size="7.2" text-anchor="middle" textLength="16.60" lengthAdjust="spacingAndGlyphs">RPFs</text>
<text x="655.50" y="404.80" font-size="7.2" text-anchor="middle" textLength="38.00" lengthAdjust="spacingAndGlyphs">Proteomics</text>
<text x="558.40" y="344.75" font-size="7.4" text-anchor="middle" textLength="87.00" lengthAdjust="spacingAndGlyphs" transform="rotate(-90 558.40 344.75)">Normalized quantification</text>
<text x="-0.30" y="554.00" font-size="13.5" fill="#000" font-weight="bold" stroke="#000" stroke-width="0.45">f</text>
<path d="M48.40,643.20 L48.40,592.14 L48.55,591.25 L48.73,590.12 L48.93,588.78 L49.17,587.28 L49.42,585.65 L49.70,583.95 L50.00,582.20 L50.31,580.44 L50.64,578.73 L50.98,577.10 L51.33,575.58 L51.70,574.11 L52.10,572.60 L52.53,571.06 L52.97,569.52 L53.43,568.00 L53.90,566.52 L54.37,565.10 L54.85,563.76 L55.31,562.51 L55.77,561.39 L56.21,560.40 L56.63,559.56 L57.04,558.85 L57.45,558.26 L57.84,557.77 L58.24,557.35 L58.64,557.00 L59.05,556.69 L59.46,556.41 L59.89,556.14 L60.33,555.87 L60.80,555.57 L61.28,555.26 L61.78,554.96 L62.30,554.68 L62.84,554.41 L63.38,554.17 L63.92,553.96 L64.48,553.78 L65.03,553.64 L65.58,553.55 L66.12,553.50 L66.65,553.50 L67.17,553.56 L67.69,553.67 L68.19,553.83 L68.70,554.03 L69.20,554.27 L69.71,554.55 L70.23,554.85 L70.75,555.18 L71.29,555.52 L71.84,555.89 L72.41,556.26 L73.00,556.66 L73.61,557.11 L74.23,557.59 L74.87,558.09 L75.52,558.62 L76.17,559.16 L76.83,559.71 L77.49,560.25 L78.14,560.78 L78.79,561.29 L79.44,561.78 L80.08,562.25 L80.72,562.72 L81.36,563.18 L82.00,563.65 L82.64,564.10 L83.28,564.55 L83.92,564.98 L84.56,565.41 L85.20,565.83 L85.83,566.23 L86.46,566.61 L87.10,566.97 L87.74,567.30 L88.39,567.61 L89.04,567.91 L89.69,568.19 L90.33,568.48 L90.96,568.76 L91.58,569.06 L92.18,569.37 L92.75,569.70 L93.30,570.06 L93.81,570.45 L94.28,570.85 L94.71,571.28 L95.13,571.71 L95.54,572.16 L95.94,572.62 L96.34,573.08 L96.76,573.54 L97.20,573.99 L97.67,574.45 L98.18,574.89 L98.71,575.33 L99.23,575.78 L99.77,576.23 L100.31,576.68 L100.87,577.12 L101.46,577.57 L102.08,578.01 L102.74,578.45 L103.44,578.88 L104.20,579.31 L105.01,579.72 L105.89,580.11 L106.84,580.49 L107.85,580.84 L108.91,581.19 L110.00,581.53 L111.12,581.88 L112.26,582.23 L113.39,582.60 L114.52,582.99 L115.64,583.41 L116.72,583.86 L117.78,584.32 L118.85,584.78 L119.91,585.24 L120.98,585.70 L122.04,586.19 L123.11,586.71 L124.17,587.27 L125.24,587.87 L126.30,588.53 L127.37,589.26 L128.43,590.07 L129.52,590.96 L130.64,591.94 L131.78,592.99 L132.94,594.10 L134.09,595.26 L135.22,596.45 L136.32,597.66 L137.37,598.88 L138.37,600.11 L139.30,601.31 L140.14,602.49 L140.92,603.71 L141.64,605.01 L142.32,606.37 L142.95,607.76 L143.53,609.14 L144.06,610.49 L144.55,611.77 L144.98,612.95 L145.37,614.00 L145.71,614.90 L146.00,615.60 L146.00,643.20 Z" fill="#d01018" fill-opacity="0.72"/>
<path d="M48.40,592.14 L48.55,591.25 L48.73,590.12 L48.93,588.78 L49.17,587.28 L49.42,585.65 L49.70,583.95 L50.00,582.20 L50.31,580.44 L50.64,578.73 L50.98,577.10 L51.33,575.58 L51.70,574.11 L52.10,572.60 L52.53,571.06 L52.97,569.52 L53.43,568.00 L53.90,566.52 L54.37,565.10 L54.85,563.76 L55.31,562.51 L55.77,561.39 L56.21,560.40 L56.63,559.56 L57.04,558.85 L57.45,558.26 L57.84,557.77 L58.24,557.35 L58.64,557.00 L59.05,556.69 L59.46,556.41 L59.89,556.14 L60.33,555.87 L60.80,555.57 L61.28,555.26 L61.78,554.96 L62.30,554.68 L62.84,554.41 L63.38,554.17 L63.92,553.96 L64.48,553.78 L65.03,553.64 L65.58,553.55 L66.12,553.50 L66.65,553.50 L67.17,553.56 L67.69,553.67 L68.19,553.83 L68.70,554.03 L69.20,554.27 L69.71,554.55 L70.23,554.85 L70.75,555.18 L71.29,555.52 L71.84,555.89 L72.41,556.26 L73.00,556.66 L73.61,557.11 L74.23,557.59 L74.87,558.09 L75.52,558.62 L76.17,559.16 L76.83,559.71 L77.49,560.25 L78.14,560.78 L78.79,561.29 L79.44,561.78 L80.08,562.25 L80.72,562.72 L81.36,563.18 L82.00,563.65 L82.64,564.10 L83.28,564.55 L83.92,564.98 L84.56,565.41 L85.20,565.83 L85.83,566.23 L86.46,566.61 L87.10,566.97 L87.74,567.30 L88.39,567.61 L89.04,567.91 L89.69,568.19 L90.33,568.48 L90.96,568.76 L91.58,569.06 L92.18,569.37 L92.75,569.70 L93.30,570.06 L93.81,570.45 L94.28,570.85 L94.71,571.28 L95.13,571.71 L95.54,572.16 L95.94,572.62 L96.34,573.08 L96.76,573.54 L97.20,573.99 L97.67,574.45 L98.18,574.89 L98.71,575.33 L99.23,575.78 L99.77,576.23 L100.31,576.68 L100.87,577.12 L101.46,577.57 L102.08,578.01 L102.74,578.45 L103.44,578.88 L104.20,579.31 L105.01,579.72 L105.89,580.11 L106.84,580.49 L107.85,580.84 L108.91,581.19 L110.00,581.53 L111.12,581.88 L112.26,582.23 L113.39,582.60 L114.52,582.99 L115.64,583.41 L116.72,583.86 L117.78,584.32 L118.85,584.78 L119.91,585.24 L120.98,585.70 L122.04,586.19 L123.11,586.71 L124.17,587.27 L125.24,587.87 L126.30,588.53 L127.37,589.26 L128.43,590.07 L129.52,590.96 L130.64,591.94 L131.78,592.99 L132.94,594.10 L134.09,595.26 L135.22,596.45 L136.32,597.66 L137.37,598.88 L138.37,600.11 L139.30,601.31 L140.14,602.49 L140.92,603.71 L141.64,605.01 L142.32,606.37 L142.95,607.76 L143.53,609.14 L144.06,610.49 L144.55,611.77 L144.98,612.95 L145.37,614.00 L145.71,614.90 L146.00,615.60" fill="none" stroke="#333" stroke-width="0.45"/>
<path d="M48.40,643.20 L48.40,602.49 L48.73,601.75 L49.17,600.70 L49.69,599.45 L50.27,598.09 L50.88,596.72 L51.49,595.44 L52.07,594.34 L52.60,593.52 L53.05,592.95 L53.47,592.53 L53.85,592.23 L54.24,592.05 L54.64,591.97 L55.09,591.97 L55.61,592.03 L56.21,592.14 L56.89,592.37 L57.63,592.78 L58.42,593.29 L59.26,593.87 L60.15,594.44 L61.08,594.95 L62.04,595.36 L63.04,595.59 L64.11,595.63 L65.26,595.50 L66.47,595.27 L67.71,594.99 L68.96,594.69 L70.17,594.43 L71.33,594.25 L72.41,594.21 L73.41,594.33 L74.36,594.58 L75.27,594.92 L76.14,595.29 L76.99,595.66 L77.82,595.97 L78.63,596.20 L79.44,596.28 L80.22,596.24 L80.98,596.13 L81.72,595.96 L82.44,595.72 L83.15,595.42 L83.86,595.07 L84.57,594.66 L85.29,594.21 L86.02,593.68 L86.73,593.06 L87.44,592.36 L88.15,591.62 L88.87,590.86 L89.60,590.10 L90.36,589.37 L91.15,588.69 L91.97,588.05 L92.83,587.43 L93.71,586.83 L94.60,586.23 L95.50,585.64 L96.41,585.05 L97.30,584.46 L98.18,583.86 L99.05,583.25 L99.94,582.64 L100.84,582.02 L101.73,581.40 L102.60,580.79 L103.44,580.19 L104.25,579.60 L105.01,579.03 L105.70,578.55 L106.32,578.19 L106.90,577.88 L107.45,577.56 L108.00,577.17 L108.58,576.64 L109.20,575.90 L109.89,574.89 L110.65,573.55 L111.46,571.90 L112.31,570.03 L113.18,568.03 L114.07,565.99 L114.97,563.97 L115.85,562.08 L116.72,560.40 L117.57,558.88 L118.42,557.41 L119.26,556.00 L120.11,554.66 L120.96,553.40 L121.82,552.20 L122.68,551.08 L123.55,550.05 L124.46,549.09 L125.42,548.20 L126.39,547.38 L127.37,546.64 L128.32,545.98 L129.22,545.41 L130.05,544.92 L130.77,544.53 L131.39,544.24 L131.91,544.04 L132.36,543.94 L132.76,543.93 L133.13,543.98 L133.50,544.11 L133.87,544.29 L134.29,544.53 L134.73,544.78 L135.17,545.03 L135.61,545.32 L136.06,545.69 L136.50,546.18 L136.94,546.81 L137.37,547.63 L137.80,548.67 L138.23,549.98 L138.66,551.53 L139.09,553.29 L139.52,555.18 L139.94,557.17 L140.35,559.20 L140.74,561.21 L141.12,563.16 L141.48,565.04 L141.81,566.90 L142.14,568.77 L142.45,570.66 L142.75,572.61 L143.06,574.64 L143.36,576.77 L143.66,579.03 L143.98,581.59 L144.31,584.49 L144.65,587.59 L144.99,590.72 L145.30,593.72 L145.58,596.45 L145.82,598.73 L146.00,600.42 L146.00,643.20 Z" fill="#3d66e6" fill-opacity="0.72"/>
<path d="M48.40,602.49 L48.73,601.75 L49.17,600.70 L49.69,599.45 L50.27,598.09 L50.88,596.72 L51.49,595.44 L52.07,594.34 L52.60,593.52 L53.05,592.95 L53.47,592.53 L53.85,592.23 L54.24,592.05 L54.64,591.97 L55.09,591.97 L55.61,592.03 L56.21,592.14 L56.89,592.37 L57.63,592.78 L58.42,593.29 L59.26,593.87 L60.15,594.44 L61.08,594.95 L62.04,595.36 L63.04,595.59 L64.11,595.63 L65.26,595.50 L66.47,595.27 L67.71,594.99 L68.96,594.69 L70.17,594.43 L71.33,594.25 L72.41,594.21 L73.41,594.33 L74.36,594.58 L75.27,594.92 L76.14,595.29 L76.99,595.66 L77.82,595.97 L78.63,596.20 L79.44,596.28 L80.22,596.24 L80.98,596.13 L81.72,595.96 L82.44,595.72 L83.15,595.42 L83.86,595.07 L84.57,594.66 L85.29,594.21 L86.02,593.68 L86.73,593.06 L87.44,592.36 L88.15,591.62 L88.87,590.86 L89.60,590.10 L90.36,589.37 L91.15,588.69 L91.97,588.05 L92.83,587.43 L93.71,586.83 L94.60,586.23 L95.50,585.64 L96.41,585.05 L97.30,584.46 L98.18,583.86 L99.05,583.25 L99.94,582.64 L100.84,582.02 L101.73,581.40 L102.60,580.79 L103.44,580.19 L104.25,579.60 L105.01,579.03 L105.70,578.55 L106.32,578.19 L106.90,577.88 L107.45,577.56 L108.00,577.17 L108.58,576.64 L109.20,575.90 L109.89,574.89 L110.65,573.55 L111.46,571.90 L112.31,570.03 L113.18,568.03 L114.07,565.99 L114.97,563.97 L115.85,562.08 L116.72,560.40 L117.57,558.88 L118.42,557.41 L119.26,556.00 L120.11,554.66 L120.96,553.40 L121.82,552.20 L122.68,551.08 L123.55,550.05 L124.46,549.09 L125.42,548.20 L126.39,547.38 L127.37,546.64 L128.32,545.98 L129.22,545.41 L130.05,544.92 L130.77,544.53 L131.39,544.24 L131.91,544.04 L132.36,543.94 L132.76,543.93 L133.13,543.98 L133.50,544.11 L133.87,544.29 L134.29,544.53 L134.73,544.78 L135.17,545.03 L135.61,545.32 L136.06,545.69 L136.50,546.18 L136.94,546.81 L137.37,547.63 L137.80,548.67 L138.23,549.98 L138.66,551.53 L139.09,553.29 L139.52,555.18 L139.94,557.17 L140.35,559.20 L140.74,561.21 L141.12,563.16 L141.48,565.04 L141.81,566.90 L142.14,568.77 L142.45,570.66 L142.75,572.61 L143.06,574.64 L143.36,576.77 L143.66,579.03 L143.98,581.59 L144.31,584.49 L144.65,587.59 L144.99,590.72 L145.30,593.72 L145.58,596.45 L145.82,598.73 L146.00,600.42" fill="none" stroke="#333" stroke-width="0.45"/>
<path d="M48.40,643.20 L48.40,597.66 L48.65,596.66 L48.98,595.29 L49.37,593.65 L49.80,591.83 L50.27,589.90 L50.76,587.96 L51.25,586.09 L51.73,584.38 L52.18,582.92 L52.60,581.79 L52.97,580.96 L53.30,580.31 L53.62,579.82 L53.93,579.48 L54.24,579.25 L54.56,579.11 L54.91,579.04 L55.29,579.02 L55.72,579.02 L56.21,579.03 L56.74,579.09 L57.29,579.26 L57.87,579.51 L58.47,579.82 L59.12,580.17 L59.80,580.55 L60.53,580.91 L61.31,581.26 L62.14,581.56 L63.04,581.79 L64.02,581.96 L65.11,582.11 L66.27,582.23 L67.49,582.33 L68.74,582.42 L70.00,582.49 L71.26,582.57 L72.48,582.65 L73.65,582.73 L74.75,582.83 L75.79,582.95 L76.81,583.10 L77.81,583.28 L78.78,583.45 L79.73,583.62 L80.65,583.77 L81.56,583.88 L82.44,583.94 L83.29,583.94 L84.12,583.86 L84.92,583.70 L85.68,583.48 L86.40,583.20 L87.10,582.87 L87.78,582.50 L88.45,582.10 L89.11,581.69 L89.78,581.26 L90.46,580.83 L91.15,580.41 L91.86,579.97 L92.59,579.48 L93.33,578.95 L94.08,578.41 L94.81,577.87 L95.54,577.33 L96.25,576.82 L96.93,576.35 L97.57,575.93 L98.18,575.58 L98.73,575.29 L99.25,575.03 L99.73,574.80 L100.18,574.61 L100.62,574.46 L101.04,574.34 L101.46,574.25 L101.88,574.20 L102.31,574.18 L102.76,574.20 L103.22,574.30 L103.66,574.53 L104.09,574.83 L104.52,575.18 L104.95,575.54 L105.40,575.87 L105.87,576.15 L106.36,576.33 L106.88,576.38 L107.45,576.27 L108.06,575.99 L108.70,575.57 L109.38,575.04 L110.09,574.42 L110.82,573.73 L111.55,572.99 L112.29,572.23 L113.03,571.48 L113.76,570.75 L114.48,570.06 L115.18,569.37 L115.88,568.62 L116.59,567.83 L117.29,567.04 L117.99,566.24 L118.70,565.48 L119.40,564.77 L120.10,564.13 L120.80,563.59 L121.50,563.16 L122.20,562.85 L122.90,562.65 L123.59,562.53 L124.29,562.48 L124.98,562.49 L125.67,562.54 L126.36,562.61 L127.05,562.69 L127.74,562.76 L128.43,562.82 L129.13,562.81 L129.84,562.76 L130.55,562.69 L131.27,562.62 L131.98,562.58 L132.68,562.60 L133.36,562.71 L134.02,562.94 L134.66,563.31 L135.26,563.85 L135.84,564.58 L136.39,565.49 L136.91,566.54 L137.42,567.71 L137.91,568.96 L138.38,570.28 L138.84,571.62 L139.29,572.97 L139.72,574.30 L140.14,575.58 L140.56,576.85 L140.95,578.17 L141.34,579.52 L141.70,580.89 L142.06,582.26 L142.40,583.63 L142.73,584.97 L143.05,586.27 L143.36,587.51 L143.66,588.69 L143.95,589.84 L144.24,591.00 L144.52,592.15 L144.79,593.27 L145.05,594.34 L145.29,595.35 L145.51,596.27 L145.70,597.09 L145.87,597.79 L146.00,598.35 L146.00,643.20 Z" fill="#626262" fill-opacity="0.72"/>
<path d="M48.40,597.66 L48.65,596.66 L48.98,595.29 L49.37,593.65 L49.80,591.83 L50.27,589.90 L50.76,587.96 L51.25,586.09 L51.73,584.38 L52.18,582.92 L52.60,581.79 L52.97,580.96 L53.30,580.31 L53.62,579.82 L53.93,579.48 L54.24,579.25 L54.56,579.11 L54.91,579.04 L55.29,579.02 L55.72,579.02 L56.21,579.03 L56.74,579.09 L57.29,579.26 L57.87,579.51 L58.47,579.82 L59.12,580.17 L59.80,580.55 L60.53,580.91 L61.31,581.26 L62.14,581.56 L63.04,581.79 L64.02,581.96 L65.11,582.11 L66.27,582.23 L67.49,582.33 L68.74,582.42 L70.00,582.49 L71.26,582.57 L72.48,582.65 L73.65,582.73 L74.75,582.83 L75.79,582.95 L76.81,583.10 L77.81,583.28 L78.78,583.45 L79.73,583.62 L80.65,583.77 L81.56,583.88 L82.44,583.94 L83.29,583.94 L84.12,583.86 L84.92,583.70 L85.68,583.48 L86.40,583.20 L87.10,582.87 L87.78,582.50 L88.45,582.10 L89.11,581.69 L89.78,581.26 L90.46,580.83 L91.15,580.41 L91.86,579.97 L92.59,579.48 L93.33,578.95 L94.08,578.41 L94.81,577.87 L95.54,577.33 L96.25,576.82 L96.93,576.35 L97.57,575.93 L98.18,575.58 L98.73,575.29 L99.25,575.03 L99.73,574.80 L100.18,574.61 L100.62,574.46 L101.04,574.34 L101.46,574.25 L101.88,574.20 L102.31,574.18 L102.76,574.20 L103.22,574.30 L103.66,574.53 L104.09,574.83 L104.52,575.18 L104.95,575.54 L105.40,575.87 L105.87,576.15 L106.36,576.33 L106.88,576.38 L107.45,576.27 L108.06,575.99 L108.70,575.57 L109.38,575.04 L110.09,574.42 L110.82,573.73 L111.55,572.99 L112.29,572.23 L113.03,571.48 L113.76,570.75 L114.48,570.06 L115.18,569.37 L115.88,568.62 L116.59,567.83 L117.29,567.04 L117.99,566.24 L118.70,565.48 L119.40,564.77 L120.10,564.13 L120.80,563.59 L121.50,563.16 L122.20,562.85 L122.90,562.65 L123.59,562.53 L124.29,562.48 L124.98,562.49 L125.67,562.54 L126.36,562.61 L127.05,562.69 L127.74,562.76 L128.43,562.82 L129.13,562.81 L129.84,562.76 L130.55,562.69 L131.27,562.62 L131.98,562.58 L132.68,562.60 L133.36,562.71 L134.02,562.94 L134.66,563.31 L135.26,563.85 L135.84,564.58 L136.39,565.49 L136.91,566.54 L137.42,567.71 L137.91,568.96 L138.38,570.28 L138.84,571.62 L139.29,572.97 L139.72,574.30 L140.14,575.58 L140.56,576.85 L140.95,578.17 L141.34,579.52 L141.70,580.89 L142.06,582.26 L142.40,583.63 L142.73,584.97 L143.05,586.27 L143.36,587.51 L143.66,588.69 L143.95,589.84 L144.24,591.00 L144.52,592.15 L144.79,593.27 L145.05,594.34 L145.29,595.35 L145.51,596.27 L145.70,597.09 L145.87,597.79 L146.00,598.35" fill="none" stroke="#333" stroke-width="0.45"/>
<line x1="43.20" y1="545.50" x2="43.20" y2="647.10" stroke="#333" stroke-width="0.7"/>
<line x1="43.20" y1="647.10" x2="148.30" y2="647.10" stroke="#333" stroke-width="0.7"/>
<line x1="39.40" y1="643.20" x2="43.20" y2="643.20" stroke="#666" stroke-width="0.6"/>
<text x="37.40" y="645.20" font-size="5.7" text-anchor="end" fill="#333">0</text>
<line x1="39.40" y1="608.70" x2="43.20" y2="608.70" stroke="#666" stroke-width="0.6"/>
<text x="37.40" y="610.70" font-size="5.7" text-anchor="end" fill="#333">0.5</text>
<line x1="39.40" y1="574.20" x2="43.20" y2="574.20" stroke="#666" stroke-width="0.6"/>
<text x="37.40" y="576.20" font-size="5.7" text-anchor="end" fill="#333">1.0</text>
<line x1="48.40" y1="647.10" x2="48.40" y2="650.60" stroke="#555" stroke-width="0.6"/>
<text x="48.40" y="658.80" font-size="5.9" text-anchor="middle" fill="#333">0</text>
<line x1="72.80" y1="647.10" x2="72.80" y2="650.60" stroke="#555" stroke-width="0.6"/>
<text x="72.80" y="658.80" font-size="5.9" text-anchor="middle" fill="#333">25</text>
<line x1="97.20" y1="647.10" x2="97.20" y2="650.60" stroke="#555" stroke-width="0.6"/>
<text x="97.20" y="658.80" font-size="5.9" text-anchor="middle" fill="#333">50</text>
<line x1="121.60" y1="647.10" x2="121.60" y2="650.60" stroke="#555" stroke-width="0.6"/>
<text x="121.60" y="658.80" font-size="5.9" text-anchor="middle" fill="#333">75</text>
<line x1="146.00" y1="647.10" x2="146.00" y2="650.60" stroke="#555" stroke-width="0.6"/>
<text x="146.00" y="658.80" font-size="5.9" text-anchor="middle" fill="#333">100</text>
<text x="96.10" y="668.20" font-size="7.38" text-anchor="middle" textLength="55.40" lengthAdjust="spacingAndGlyphs">Percentage CDS</text>
<text x="23.40" y="593.30" font-size="7.3" text-anchor="middle" textLength="60.00" lengthAdjust="spacingAndGlyphs" transform="rotate(-90 23.40 593.30)">Pause site density</text>
<text x="150.70" y="586.80" font-size="7.2" textLength="36.50" lengthAdjust="spacingAndGlyphs">Pause type</text>
<rect x="151.00" y="591.20" width="7.80" height="7.40" fill="#fff"/>
<rect x="151.00" y="591.20" width="7.80" height="7.40" fill="#d01018" stroke="#333" stroke-width="0.45" fill-opacity="0.72"/>
<text x="163.10" y="597.50" font-size="7.4" textLength="26.80" lengthAdjust="spacingAndGlyphs">Induced</text>
<rect x="151.00" y="602.40" width="7.80" height="7.40" fill="#fff"/>
<rect x="151.00" y="602.40" width="7.80" height="7.40" fill="#3d66e6" stroke="#333" stroke-width="0.45" fill-opacity="0.72"/>
<text x="163.10" y="608.70" font-size="7.4" textLength="30.70" lengthAdjust="spacingAndGlyphs">Resolved</text>
<rect x="151.00" y="613.60" width="7.80" height="7.40" fill="#fff"/>
<rect x="151.00" y="613.60" width="7.80" height="7.40" fill="#626262" stroke="#333" stroke-width="0.45" fill-opacity="0.72"/>
<text x="163.10" y="619.90" font-size="7.4" textLength="33.00" lengthAdjust="spacingAndGlyphs">Sustained</text>
<text x="262.60" y="423.00" font-size="13.5" fill="#000" font-weight="bold" stroke="#000" stroke-width="0.45">g</text>
<text x="268.20" y="478.70" font-size="7.3" text-anchor="middle" textLength="59.80" lengthAdjust="spacingAndGlyphs" transform="rotate(-90 268.20 478.70)">Pause site density</text>
<rect x="283.70" y="511.20" width="41.00" height="1.90" fill="#cdcdcd"/>
<rect x="323.30" y="443.30" width="1.90" height="67.90" fill="#cdcdcd"/>
<rect x="325.20" y="511.20" width="41.20" height="1.90" fill="#cdcdcd"/>
<rect x="365.00" y="443.30" width="2.00" height="67.90" fill="#cdcdcd"/>
<rect x="367.00" y="511.20" width="42.10" height="1.90" fill="#cdcdcd"/>
<clipPath id="cpE2F0"><rect x="283.70" y="443.30" width="39.60" height="67.90"/></clipPath>
<g clip-path="url(#cpE2F0)">
<line x1="283.70" y1="509.60" x2="323.30" y2="509.60" stroke="#f3f3f3" stroke-width="0.5"/>
<line x1="283.70" y1="490.90" x2="323.30" y2="490.90" stroke="#f3f3f3" stroke-width="0.5"/>
<line x1="283.70" y1="472.20" x2="323.30" y2="472.20" stroke="#f3f3f3" stroke-width="0.5"/>
<line x1="283.70" y1="453.50" x2="323.30" y2="453.50" stroke="#f3f3f3" stroke-width="0.5"/>
<line x1="285.50" y1="443.30" x2="285.50" y2="511.20" stroke="#f3f3f3" stroke-width="0.5"/>
<line x1="303.60" y1="443.30" x2="303.60" y2="511.20" stroke="#f3f3f3" stroke-width="0.5"/>
<line x1="321.70" y1="443.30" x2="321.70" y2="511.20" stroke="#f3f3f3" stroke-width="0.5"/>
<path d="M285.50,509.60 L285.50,506.80 L285.63,506.60 L285.78,506.37 L285.95,506.12 L286.15,505.83 L286.36,505.52 L286.59,505.18 L286.83,504.83 L287.08,504.46 L287.34,504.07 L287.60,503.67 L287.87,503.26 L288.13,502.85 L288.39,502.43 L288.64,502.01 L288.89,501.60 L289.12,501.19 L289.35,500.77 L289.57,500.33 L289.80,499.88 L290.02,499.42 L290.25,498.94 L290.48,498.46 L290.70,497.97 L290.93,497.48 L291.16,496.99 L291.38,496.50 L291.61,496.01 L291.83,495.53 L292.06,495.05 L292.29,494.59 L292.51,494.14 L292.74,493.71 L292.97,493.27 L293.20,492.84 L293.43,492.40 L293.66,491.96 L293.90,491.52 L294.13,491.09 L294.36,490.66 L294.60,490.25 L294.83,489.84 L295.06,489.45 L295.28,489.07 L295.51,488.72 L295.73,488.38 L295.94,488.07 L296.15,487.79 L296.36,487.53 L296.56,487.30 L296.76,487.10 L296.95,486.91 L297.14,486.73 L297.33,486.58 L297.51,486.45 L297.70,486.33 L297.88,486.24 L298.05,486.16 L298.23,486.09 L298.40,486.04 L298.57,486.01 L298.75,486.00 L298.92,486.00 L299.09,486.01 L299.26,486.04 L299.42,486.08 L299.58,486.14 L299.74,486.20 L299.89,486.29 L300.04,486.39 L300.19,486.50 L300.33,486.64 L300.48,486.79 L300.63,486.95 L300.78,487.14 L300.93,487.34 L301.09,487.56 L301.25,487.81 L301.42,488.07 L301.60,488.35 L301.79,488.66 L301.99,489.00 L302.20,489.39 L302.42,489.82 L302.64,490.28 L302.88,490.78 L303.12,491.29 L303.36,491.82 L303.60,492.36 L303.84,492.90 L304.08,493.43 L304.32,493.95 L304.56,494.45 L304.78,494.93 L305.00,495.37 L305.21,495.78 L305.41,496.14 L305.59,496.46 L305.76,496.75 L305.92,497.02 L306.07,497.26 L306.21,497.49 L306.34,497.70 L306.48,497.89 L306.61,498.08 L306.74,498.25 L306.88,498.41 L307.03,498.56 L307.18,498.71 L307.35,498.86 L307.53,499.01 L307.73,499.16 L307.94,499.31 L308.18,499.47 L308.42,499.62 L308.68,499.76 L308.95,499.90 L309.23,500.03 L309.52,500.15 L309.81,500.27 L310.12,500.39 L310.42,500.50 L310.74,500.61 L311.05,500.71 L311.37,500.81 L311.69,500.91 L312.01,501.00 L312.33,501.10 L312.65,501.19 L312.97,501.27 L313.31,501.35 L313.65,501.42 L314.00,501.48 L314.35,501.55 L314.71,501.60 L315.07,501.66 L315.43,501.71 L315.79,501.76 L316.14,501.81 L316.49,501.86 L316.83,501.91 L317.16,501.96 L317.48,502.01 L317.79,502.06 L318.08,502.12 L318.36,502.18 L318.64,502.24 L318.92,502.31 L319.20,502.38 L319.47,502.44 L319.73,502.51 L319.98,502.58 L320.23,502.65 L320.46,502.71 L320.69,502.77 L320.90,502.83 L321.09,502.89 L321.27,502.94 L321.43,502.98 L321.58,503.02 L321.70,503.06 L321.70,509.60 Z" fill="#d01018" fill-opacity="0.72"/>
<path d="M285.50,509.60 L285.50,509.60 L285.74,509.56 L286.04,509.53 L286.38,509.49 L286.77,509.44 L287.19,509.39 L287.64,509.34 L288.11,509.28 L288.59,509.20 L289.08,509.12 L289.57,509.03 L290.04,508.92 L290.50,508.80 L290.93,508.67 L291.35,508.52 L291.77,508.36 L292.18,508.18 L292.60,508.00 L293.02,507.81 L293.44,507.60 L293.85,507.39 L294.27,507.16 L294.69,506.92 L295.11,506.67 L295.52,506.41 L295.94,506.14 L296.36,505.86 L296.79,505.56 L297.22,505.24 L297.67,504.91 L298.13,504.56 L298.58,504.20 L299.03,503.83 L299.48,503.45 L299.91,503.07 L300.33,502.68 L300.73,502.30 L301.11,501.92 L301.47,501.55 L301.79,501.19 L302.08,500.84 L302.34,500.51 L302.58,500.20 L302.80,499.90 L302.99,499.60 L303.17,499.30 L303.34,498.98 L303.51,498.65 L303.67,498.29 L303.82,497.91 L303.98,497.49 L304.15,497.02 L304.32,496.51 L304.50,495.94 L304.68,495.32 L304.85,494.65 L305.02,493.95 L305.19,493.21 L305.35,492.45 L305.51,491.68 L305.68,490.90 L305.84,490.12 L306.00,489.35 L306.17,488.59 L306.33,487.86 L306.50,487.16 L306.66,486.47 L306.83,485.77 L306.99,485.06 L307.15,484.35 L307.31,483.64 L307.48,482.95 L307.64,482.26 L307.81,481.60 L307.97,480.96 L308.14,480.35 L308.31,479.77 L308.49,479.24 L308.67,478.75 L308.85,478.29 L309.04,477.86 L309.24,477.45 L309.43,477.07 L309.63,476.71 L309.83,476.38 L310.04,476.09 L310.24,475.82 L310.44,475.59 L310.63,475.39 L310.83,475.22 L311.02,475.10 L311.20,475.00 L311.38,474.96 L311.55,474.97 L311.72,475.03 L311.89,475.14 L312.05,475.27 L312.21,475.44 L312.37,475.63 L312.53,475.83 L312.69,476.05 L312.86,476.26 L313.02,476.48 L313.20,476.69 L313.37,476.88 L313.56,477.08 L313.74,477.32 L313.93,477.58 L314.13,477.87 L314.32,478.17 L314.52,478.46 L314.72,478.74 L314.92,479.01 L315.12,479.24 L315.32,479.43 L315.51,479.58 L315.71,479.66 L315.91,479.68 L316.10,479.62 L316.30,479.49 L316.50,479.29 L316.70,479.04 L316.90,478.76 L317.10,478.44 L317.30,478.11 L317.49,477.77 L317.69,477.43 L317.88,477.10 L318.07,476.80 L318.26,476.53 L318.44,476.31 L318.62,476.12 L318.81,475.94 L318.99,475.77 L319.17,475.60 L319.35,475.45 L319.53,475.31 L319.70,475.17 L319.87,475.05 L320.04,474.94 L320.19,474.84 L320.34,474.76 L320.48,474.69 L320.61,474.63 L320.74,474.59 L320.85,474.58 L320.96,474.58 L321.06,474.61 L321.16,474.64 L321.25,474.69 L321.33,474.74 L321.41,474.79 L321.48,474.85 L321.55,474.90 L321.60,474.95 L321.66,474.98 L321.70,475.00 L321.70,509.60 Z" fill="#3d66e6" fill-opacity="0.72"/>
<path d="M285.50,509.60 L285.50,498.75 L285.60,498.61 L285.72,498.42 L285.86,498.20 L286.01,497.95 L286.18,497.68 L286.36,497.40 L286.55,497.10 L286.74,496.79 L286.95,496.48 L287.16,496.17 L287.37,495.87 L287.58,495.58 L287.79,495.31 L288.00,495.06 L288.20,494.83 L288.40,494.64 L288.59,494.47 L288.78,494.31 L288.98,494.17 L289.18,494.04 L289.38,493.92 L289.58,493.81 L289.78,493.70 L289.98,493.61 L290.18,493.53 L290.39,493.45 L290.60,493.39 L290.81,493.33 L291.02,493.27 L291.23,493.22 L291.44,493.18 L291.65,493.14 L291.87,493.11 L292.08,493.10 L292.29,493.09 L292.51,493.09 L292.72,493.10 L292.94,493.11 L293.15,493.14 L293.37,493.17 L293.60,493.20 L293.82,493.24 L294.05,493.28 L294.28,493.33 L294.52,493.37 L294.77,493.42 L295.02,493.47 L295.27,493.52 L295.54,493.57 L295.82,493.62 L296.10,493.68 L296.40,493.74 L296.70,493.80 L297.01,493.87 L297.32,493.94 L297.63,494.01 L297.94,494.08 L298.25,494.16 L298.55,494.24 L298.85,494.32 L299.15,494.40 L299.44,494.48 L299.71,494.56 L299.98,494.64 L300.24,494.73 L300.48,494.82 L300.73,494.92 L300.96,495.02 L301.19,495.13 L301.42,495.24 L301.64,495.35 L301.86,495.46 L302.07,495.56 L302.29,495.67 L302.51,495.77 L302.72,495.86 L302.94,495.94 L303.15,496.02 L303.38,496.08 L303.60,496.14 L303.82,496.18 L304.05,496.23 L304.26,496.27 L304.48,496.30 L304.69,496.33 L304.91,496.36 L305.13,496.38 L305.34,496.39 L305.56,496.40 L305.78,496.39 L306.01,496.38 L306.24,496.36 L306.47,496.32 L306.72,496.27 L306.96,496.21 L307.22,496.14 L307.48,496.04 L307.76,495.93 L308.04,495.79 L308.33,495.63 L308.62,495.47 L308.92,495.29 L309.22,495.10 L309.53,494.91 L309.83,494.71 L310.14,494.52 L310.45,494.33 L310.75,494.14 L311.05,493.97 L311.35,493.80 L311.64,493.65 L311.93,493.52 L312.21,493.40 L312.49,493.27 L312.77,493.15 L313.05,493.04 L313.33,492.92 L313.61,492.82 L313.89,492.71 L314.17,492.62 L314.44,492.53 L314.71,492.45 L314.98,492.38 L315.24,492.32 L315.51,492.27 L315.76,492.24 L316.02,492.22 L316.27,492.21 L316.52,492.22 L316.77,492.25 L317.02,492.30 L317.27,492.36 L317.52,492.43 L317.76,492.52 L318.00,492.61 L318.24,492.71 L318.47,492.82 L318.70,492.93 L318.92,493.03 L319.13,493.14 L319.33,493.25 L319.53,493.35 L319.71,493.44 L319.89,493.52 L320.06,493.60 L320.22,493.67 L320.37,493.76 L320.51,493.84 L320.65,493.92 L320.78,494.00 L320.90,494.08 L321.02,494.16 L321.13,494.24 L321.23,494.31 L321.33,494.38 L321.42,494.44 L321.50,494.50 L321.57,494.55 L321.64,494.60 L321.70,494.64 L321.70,509.60 Z" fill="#626262" fill-opacity="0.72"/>
</g>
<path d="M283.70,511.20 L283.70,443.30 L323.30,443.30 L323.30,511.20" fill="none" stroke="#555" stroke-width="0.7"/>
<text x="303.50" y="431.70" font-size="6.2" text-anchor="middle" textLength="19.60" lengthAdjust="spacingAndGlyphs">Shared</text>
<text x="303.50" y="438.4" font-size="5.8" text-anchor="middle" fill="#222">(<tspan font-style="italic">n</tspan> = 14)</text>
<line x1="285.50" y1="513.10" x2="285.50" y2="515.80" stroke="#555" stroke-width="0.5"/>
<text x="287.90" y="521.00" font-size="6.3" text-anchor="end" fill="#333" transform="rotate(-45 287.90 521.00)">0</text>
<line x1="303.60" y1="513.10" x2="303.60" y2="515.80" stroke="#555" stroke-width="0.5"/>
<text x="306.00" y="521.00" font-size="6.3" text-anchor="end" fill="#333" transform="rotate(-45 306.00 521.00)">50</text>
<line x1="321.70" y1="513.10" x2="321.70" y2="515.80" stroke="#555" stroke-width="0.5"/>
<text x="324.10" y="521.00" font-size="6.3" text-anchor="end" fill="#333" transform="rotate(-45 324.10 521.00)">100</text>
<clipPath id="cpE2F1"><rect x="325.20" y="443.30" width="39.80" height="67.90"/></clipPath>
<g clip-path="url(#cpE2F1)">
<line x1="325.20" y1="509.60" x2="365.00" y2="509.60" stroke="#f3f3f3" stroke-width="0.5"/>
<line x1="325.20" y1="490.90" x2="365.00" y2="490.90" stroke="#f3f3f3" stroke-width="0.5"/>
<line x1="325.20" y1="472.20" x2="365.00" y2="472.20" stroke="#f3f3f3" stroke-width="0.5"/>
<line x1="325.20" y1="453.50" x2="365.00" y2="453.50" stroke="#f3f3f3" stroke-width="0.5"/>
<line x1="327.00" y1="443.30" x2="327.00" y2="511.20" stroke="#f3f3f3" stroke-width="0.5"/>
<line x1="345.20" y1="443.30" x2="345.20" y2="511.20" stroke="#f3f3f3" stroke-width="0.5"/>
<line x1="363.40" y1="443.30" x2="363.40" y2="511.20" stroke="#f3f3f3" stroke-width="0.5"/>
<path d="M327.00,509.60 L327.00,509.60 L327.12,509.60 L327.24,509.60 L327.36,509.60 L327.49,509.60 L327.62,509.60 L327.76,509.60 L327.90,509.60 L328.04,509.60 L328.19,509.60 L328.34,509.60 L328.50,509.60 L328.66,509.60 L328.82,509.60 L328.99,509.60 L329.16,509.60 L329.33,509.60 L329.51,509.60 L329.69,509.60 L329.87,509.60 L330.06,509.60 L330.25,509.60 L330.44,509.60 L330.64,509.60 L330.84,509.60 L331.04,509.60 L331.24,509.60 L331.45,509.60 L331.66,509.60 L331.88,509.60 L332.09,509.60 L332.31,509.60 L332.53,509.60 L332.76,509.60 L332.98,509.60 L333.21,509.60 L333.44,509.60 L333.68,509.60 L333.91,509.60 L334.15,509.60 L334.39,509.60 L334.64,509.60 L334.88,509.60 L335.13,509.60 L335.38,509.60 L335.63,509.60 L335.88,509.60 L336.13,509.60 L336.39,509.60 L336.65,509.60 L336.91,509.60 L337.17,509.60 L337.43,509.60 L337.70,509.60 L337.96,509.60 L338.23,509.60 L338.50,509.60 L338.77,509.60 L339.04,509.60 L339.31,509.60 L339.58,509.60 L339.86,509.60 L340.13,509.60 L340.41,509.60 L340.69,509.60 L340.96,509.60 L341.24,509.60 L341.52,509.60 L341.80,509.60 L342.08,509.60 L342.37,509.60 L342.65,509.60 L342.93,509.60 L343.21,509.60 L343.50,509.60 L343.78,509.60 L344.06,509.60 L344.35,509.60 L344.63,509.60 L344.92,509.60 L345.20,509.60 L345.48,509.60 L345.77,509.60 L346.05,509.60 L346.34,509.60 L346.62,509.60 L346.90,509.60 L347.19,509.60 L347.47,509.60 L347.75,509.60 L348.03,509.60 L348.32,509.60 L348.60,509.60 L348.88,509.60 L349.16,509.60 L349.44,509.60 L349.71,509.60 L349.99,509.60 L350.27,509.60 L350.54,509.60 L350.82,509.60 L351.09,509.60 L351.36,509.60 L351.63,509.60 L351.90,509.60 L352.17,509.60 L352.44,509.60 L352.70,509.60 L352.97,509.60 L353.23,509.60 L353.49,509.60 L353.75,509.60 L354.01,509.60 L354.27,509.60 L354.52,509.60 L354.77,509.60 L355.02,509.60 L355.27,509.60 L355.52,509.60 L355.76,509.60 L356.01,509.60 L356.25,509.60 L356.49,509.60 L356.72,509.60 L356.96,509.60 L357.19,509.60 L357.42,509.60 L357.64,509.60 L357.87,509.60 L358.09,509.60 L358.31,509.60 L358.52,509.60 L358.74,509.60 L358.95,509.60 L359.16,509.60 L359.36,509.60 L359.56,509.60 L359.76,509.60 L359.96,509.60 L360.15,509.60 L360.34,509.60 L360.53,509.60 L360.71,509.60 L360.89,509.60 L361.07,509.60 L361.24,509.60 L361.41,509.60 L361.58,509.60 L361.74,509.60 L361.90,509.60 L362.06,509.60 L362.21,509.60 L362.36,509.60 L362.50,509.60 L362.64,509.60 L362.78,509.60 L362.91,509.60 L363.04,509.60 L363.16,509.60 L363.28,509.60 L363.40,509.60 L363.40,509.60 Z" fill="#d01018" fill-opacity="0.72"/>
<path d="M327.00,509.60 L327.00,509.60 L327.46,509.60 L328.05,509.60 L328.75,509.60 L329.54,509.60 L330.39,509.60 L331.30,509.60 L332.23,509.60 L333.18,509.60 L334.11,509.60 L335.01,509.60 L335.86,509.60 L336.65,509.60 L337.34,509.60 L337.92,509.60 L338.40,509.37 L338.82,509.10 L339.18,508.78 L339.49,508.42 L339.76,508.03 L339.99,507.61 L340.19,507.17 L340.38,506.71 L340.56,506.25 L340.73,505.78 L340.91,505.32 L341.10,504.86 L341.32,504.42 L341.56,503.99 L341.82,503.56 L342.08,503.11 L342.34,502.64 L342.60,502.17 L342.86,501.68 L343.12,501.20 L343.38,500.72 L343.64,500.25 L343.90,499.80 L344.16,499.37 L344.42,498.97 L344.68,498.61 L344.94,498.28 L345.20,498.01 L345.46,497.77 L345.71,497.58 L345.95,497.43 L346.20,497.31 L346.44,497.22 L346.68,497.15 L346.93,497.09 L347.18,497.06 L347.43,497.03 L347.69,497.01 L347.96,496.99 L348.24,496.96 L348.54,496.93 L348.84,496.88 L349.16,496.86 L349.51,496.89 L349.88,496.95 L350.25,497.04 L350.64,497.14 L351.04,497.24 L351.43,497.33 L351.83,497.39 L352.22,497.41 L352.60,497.39 L352.96,497.29 L353.31,497.13 L353.64,496.87 L353.94,496.51 L354.21,496.07 L354.47,495.57 L354.72,495.03 L354.95,494.42 L355.17,493.76 L355.38,493.05 L355.57,492.28 L355.77,491.45 L355.95,490.57 L356.13,489.63 L356.31,488.63 L356.49,487.58 L356.67,486.46 L356.85,485.29 L357.03,484.01 L357.20,482.61 L357.37,481.09 L357.54,479.48 L357.70,477.80 L357.85,476.07 L358.01,474.30 L358.16,472.53 L358.31,470.77 L358.46,469.04 L358.60,467.37 L358.75,465.76 L358.89,464.25 L359.03,462.85 L359.17,461.52 L359.32,460.19 L359.46,458.88 L359.60,457.59 L359.74,456.34 L359.88,455.13 L360.01,453.97 L360.14,452.86 L360.27,451.82 L360.40,450.86 L360.52,449.97 L360.63,449.18 L360.75,448.48 L360.85,447.89 L360.95,447.37 L361.05,446.89 L361.14,446.46 L361.22,446.09 L361.30,445.79 L361.38,445.57 L361.45,445.44 L361.53,445.40 L361.60,445.48 L361.67,445.68 L361.74,446.01 L361.80,446.48 L361.87,447.11 L361.94,447.89 L362.02,448.86 L362.09,450.02 L362.16,451.36 L362.23,452.85 L362.30,454.47 L362.37,456.22 L362.43,458.06 L362.50,459.98 L362.56,461.97 L362.63,464.00 L362.69,466.06 L362.74,468.12 L362.80,470.18 L362.85,472.20 L362.91,474.32 L362.96,476.63 L363.00,479.09 L363.05,481.66 L363.10,484.30 L363.14,486.97 L363.18,489.61 L363.22,492.20 L363.26,494.68 L363.29,497.01 L363.33,499.15 L363.35,501.05 L363.38,502.68 L363.40,503.99 L363.40,509.60 Z" fill="#3d66e6" fill-opacity="0.72"/>
<path d="M327.00,509.60 L327.00,505.49 L327.10,505.37 L327.21,505.25 L327.33,505.12 L327.47,504.98 L327.61,504.83 L327.77,504.67 L327.93,504.50 L328.11,504.32 L328.29,504.12 L328.48,503.92 L328.68,503.70 L328.88,503.48 L329.09,503.23 L329.30,502.98 L329.52,502.72 L329.74,502.44 L329.96,502.14 L330.19,501.84 L330.41,501.52 L330.64,501.19 L330.87,500.82 L331.12,500.43 L331.37,500.00 L331.63,499.55 L331.90,499.07 L332.18,498.57 L332.46,498.06 L332.75,497.54 L333.03,497.01 L333.32,496.47 L333.62,495.94 L333.91,495.41 L334.20,494.89 L334.48,494.39 L334.77,493.90 L335.05,493.43 L335.32,492.98 L335.59,492.57 L335.85,492.18 L336.10,491.84 L336.34,491.52 L336.58,491.21 L336.81,490.93 L337.04,490.65 L337.26,490.40 L337.48,490.15 L337.70,489.93 L337.91,489.71 L338.12,489.51 L338.33,489.32 L338.54,489.15 L338.75,488.99 L338.96,488.83 L339.17,488.70 L339.38,488.57 L339.59,488.45 L339.80,488.35 L340.02,488.25 L340.24,488.17 L340.47,488.10 L340.69,488.04 L340.91,488.00 L341.13,487.98 L341.35,487.98 L341.57,487.99 L341.78,488.02 L342.00,488.06 L342.21,488.11 L342.43,488.18 L342.65,488.25 L342.88,488.32 L343.11,488.40 L343.34,488.49 L343.58,488.57 L343.83,488.66 L344.08,488.74 L344.35,488.82 L344.62,488.90 L344.91,488.97 L345.20,489.03 L345.51,489.09 L345.83,489.15 L346.17,489.21 L346.52,489.28 L346.87,489.35 L347.24,489.42 L347.62,489.49 L348.00,489.56 L348.38,489.64 L348.77,489.71 L349.16,489.78 L349.55,489.85 L349.94,489.92 L350.32,489.99 L350.70,490.06 L351.08,490.12 L351.44,490.18 L351.80,490.24 L352.15,490.29 L352.48,490.34 L352.81,490.38 L353.13,490.42 L353.46,490.44 L353.78,490.46 L354.10,490.48 L354.41,490.49 L354.73,490.50 L355.04,490.51 L355.34,490.52 L355.64,490.53 L355.94,490.54 L356.23,490.55 L356.51,490.57 L356.79,490.59 L357.06,490.62 L357.33,490.66 L357.58,490.70 L357.83,490.76 L358.07,490.82 L358.30,490.90 L358.53,490.99 L358.74,491.09 L358.95,491.20 L359.15,491.31 L359.34,491.43 L359.52,491.56 L359.70,491.70 L359.87,491.84 L360.03,491.99 L360.19,492.14 L360.35,492.29 L360.50,492.45 L360.64,492.61 L360.78,492.77 L360.92,492.92 L361.06,493.08 L361.19,493.24 L361.32,493.40 L361.45,493.55 L361.58,493.71 L361.71,493.86 L361.83,494.02 L361.95,494.19 L362.07,494.37 L362.18,494.55 L362.29,494.73 L362.40,494.92 L362.50,495.10 L362.60,495.29 L362.69,495.47 L362.79,495.65 L362.87,495.82 L362.96,495.99 L363.03,496.15 L363.11,496.30 L363.18,496.45 L363.24,496.58 L363.30,496.69 L363.35,496.80 L363.40,496.88 L363.40,509.60 Z" fill="#626262" fill-opacity="0.72"/>
</g>
<path d="M325.20,511.20 L325.20,443.30 L365.00,443.30 L365.00,511.20" fill="none" stroke="#555" stroke-width="0.7"/>
<text x="345.10" y="431.70" font-size="6.2" text-anchor="middle" textLength="34.50" lengthAdjust="spacingAndGlyphs">Only protein</text>
<text x="345.10" y="438.4" font-size="5.8" text-anchor="middle" fill="#222">(<tspan font-style="italic">n</tspan> = 19)</text>
<line x1="327.00" y1="513.10" x2="327.00" y2="515.80" stroke="#555" stroke-width="0.5"/>
<text x="329.40" y="521.00" font-size="6.3" text-anchor="end" fill="#333" transform="rotate(-45 329.40 521.00)">0</text>
<line x1="345.20" y1="513.10" x2="345.20" y2="515.80" stroke="#555" stroke-width="0.5"/>
<text x="347.60" y="521.00" font-size="6.3" text-anchor="end" fill="#333" transform="rotate(-45 347.60 521.00)">50</text>
<line x1="363.40" y1="513.10" x2="363.40" y2="515.80" stroke="#555" stroke-width="0.5"/>
<text x="365.80" y="521.00" font-size="6.3" text-anchor="end" fill="#333" transform="rotate(-45 365.80 521.00)">100</text>
<clipPath id="cpE2F2"><rect x="367.00" y="443.30" width="40.70" height="67.90"/></clipPath>
<g clip-path="url(#cpE2F2)">
<line x1="367.00" y1="509.60" x2="407.70" y2="509.60" stroke="#f3f3f3" stroke-width="0.5"/>
<line x1="367.00" y1="490.90" x2="407.70" y2="490.90" stroke="#f3f3f3" stroke-width="0.5"/>
<line x1="367.00" y1="472.20" x2="407.70" y2="472.20" stroke="#f3f3f3" stroke-width="0.5"/>
<line x1="367.00" y1="453.50" x2="407.70" y2="453.50" stroke="#f3f3f3" stroke-width="0.5"/>
<line x1="368.80" y1="443.30" x2="368.80" y2="511.20" stroke="#f3f3f3" stroke-width="0.5"/>
<line x1="387.45" y1="443.30" x2="387.45" y2="511.20" stroke="#f3f3f3" stroke-width="0.5"/>
<line x1="406.10" y1="443.30" x2="406.10" y2="511.20" stroke="#f3f3f3" stroke-width="0.5"/>
<path d="M368.80,509.60 L368.80,483.61 L368.89,483.17 L369.00,482.60 L369.13,481.93 L369.28,481.18 L369.43,480.36 L369.60,479.50 L369.78,478.60 L369.96,477.70 L370.15,476.81 L370.33,475.94 L370.52,475.12 L370.70,474.37 L370.87,473.70 L371.04,473.14 L371.20,472.64 L371.36,472.17 L371.52,471.74 L371.68,471.33 L371.84,470.96 L372.00,470.62 L372.16,470.32 L372.32,470.06 L372.48,469.83 L372.64,469.65 L372.80,469.52 L372.96,469.43 L373.12,469.39 L373.28,469.40 L373.43,469.44 L373.58,469.51 L373.73,469.62 L373.87,469.76 L374.01,469.95 L374.16,470.17 L374.30,470.45 L374.45,470.77 L374.60,471.16 L374.77,471.60 L374.94,472.11 L375.12,472.69 L375.31,473.34 L375.51,474.07 L375.74,474.92 L375.98,475.92 L376.23,477.04 L376.50,478.27 L376.78,479.57 L377.07,480.92 L377.36,482.31 L377.65,483.70 L377.93,485.08 L378.22,486.42 L378.49,487.69 L378.76,488.88 L379.01,489.96 L379.24,490.90 L379.46,491.74 L379.68,492.52 L379.88,493.24 L380.07,493.91 L380.26,494.53 L380.44,495.10 L380.62,495.63 L380.79,496.12 L380.97,496.57 L381.14,496.99 L381.32,497.38 L381.49,497.74 L381.67,498.07 L381.86,498.38 L382.04,498.67 L382.22,498.93 L382.40,499.17 L382.58,499.37 L382.76,499.54 L382.93,499.68 L383.11,499.78 L383.29,499.85 L383.48,499.87 L383.67,499.85 L383.86,499.79 L384.05,499.68 L384.26,499.52 L384.47,499.31 L384.68,499.00 L384.91,498.55 L385.15,497.98 L385.39,497.33 L385.64,496.61 L385.89,495.86 L386.14,495.11 L386.40,494.37 L386.65,493.68 L386.90,493.06 L387.14,492.54 L387.38,492.14 L387.60,491.90 L387.82,491.84 L388.03,491.95 L388.22,492.23 L388.40,492.64 L388.57,493.16 L388.73,493.78 L388.90,494.48 L389.06,495.22 L389.22,496.01 L389.39,496.80 L389.57,497.59 L389.76,498.35 L389.97,499.06 L390.19,499.70 L390.43,500.25 L390.69,500.75 L390.97,501.23 L391.25,501.71 L391.54,502.17 L391.85,502.61 L392.16,503.05 L392.49,503.46 L392.82,503.86 L393.15,504.25 L393.50,504.61 L393.84,504.96 L394.20,505.28 L394.55,505.58 L394.91,505.86 L395.28,506.11 L395.65,506.33 L396.03,506.52 L396.43,506.69 L396.83,506.84 L397.23,506.97 L397.64,507.09 L398.05,507.19 L398.46,507.28 L398.87,507.37 L399.29,507.46 L399.70,507.54 L400.10,507.63 L400.50,507.73 L400.92,507.83 L401.35,507.92 L401.80,508.01 L402.27,508.09 L402.73,508.17 L403.20,508.25 L403.65,508.31 L404.09,508.38 L404.51,508.44 L404.91,508.49 L405.27,508.54 L405.59,508.59 L405.87,508.63 L406.10,508.67 L406.10,509.60 Z" fill="#d01018" fill-opacity="0.72"/>
<path d="M368.80,509.60 L368.80,503.99 L368.98,503.94 L369.21,503.91 L369.46,503.89 L369.75,503.87 L370.06,503.85 L370.39,503.83 L370.74,503.80 L371.11,503.76 L371.48,503.70 L371.87,503.62 L372.25,503.52 L372.63,503.38 L373.01,503.22 L373.38,503.01 L373.74,502.76 L374.08,502.47 L374.39,502.12 L374.70,501.71 L375.00,501.23 L375.30,500.69 L375.60,500.10 L375.89,499.47 L376.18,498.80 L376.46,498.10 L376.75,497.38 L377.03,496.65 L377.31,495.91 L377.59,495.17 L377.87,494.45 L378.14,493.75 L378.42,493.07 L378.70,492.42 L378.97,491.82 L379.24,491.27 L379.52,490.76 L379.79,490.25 L380.06,489.76 L380.33,489.28 L380.60,488.81 L380.87,488.35 L381.13,487.91 L381.40,487.48 L381.66,487.07 L381.92,486.68 L382.18,486.29 L382.44,485.93 L382.70,485.58 L382.96,485.25 L383.21,484.93 L383.47,484.63 L383.72,484.36 L383.97,484.09 L384.22,483.84 L384.47,483.60 L384.71,483.37 L384.95,483.16 L385.20,482.96 L385.44,482.78 L385.68,482.62 L385.91,482.47 L386.15,482.35 L386.39,482.24 L386.63,482.16 L386.87,482.10 L387.10,482.07 L387.34,482.06 L387.58,482.07 L387.82,482.11 L388.06,482.19 L388.30,482.30 L388.54,482.44 L388.78,482.62 L389.02,482.83 L389.26,483.06 L389.49,483.31 L389.73,483.57 L389.97,483.85 L390.21,484.15 L390.45,484.45 L390.69,484.75 L390.93,485.06 L391.18,485.36 L391.43,485.66 L391.67,485.95 L391.93,486.23 L392.18,486.51 L392.44,486.81 L392.69,487.13 L392.95,487.46 L393.22,487.81 L393.48,488.16 L393.74,488.51 L394.01,488.86 L394.27,489.20 L394.54,489.53 L394.81,489.86 L395.07,490.16 L395.34,490.44 L395.61,490.70 L395.87,490.92 L396.14,491.12 L396.40,491.27 L396.67,491.39 L396.94,491.48 L397.21,491.53 L397.48,491.55 L397.75,491.55 L398.03,491.53 L398.30,491.49 L398.57,491.43 L398.85,491.37 L399.11,491.30 L399.38,491.22 L399.64,491.15 L399.90,491.08 L400.16,491.01 L400.40,490.96 L400.64,490.92 L400.88,490.90 L401.11,490.89 L401.33,490.87 L401.56,490.85 L401.78,490.83 L401.99,490.80 L402.21,490.78 L402.41,490.76 L402.62,490.74 L402.82,490.73 L403.01,490.72 L403.21,490.72 L403.39,490.72 L403.57,490.74 L403.75,490.76 L403.92,490.79 L404.08,490.84 L404.23,490.90 L404.39,490.98 L404.53,491.07 L404.68,491.19 L404.82,491.32 L404.95,491.46 L405.08,491.62 L405.20,491.78 L405.32,491.94 L405.43,492.10 L405.54,492.27 L405.64,492.43 L405.73,492.58 L405.82,492.72 L405.90,492.85 L405.98,492.97 L406.04,493.07 L406.10,493.14 L406.10,509.60 Z" fill="#3d66e6" fill-opacity="0.72"/>
<path d="M368.80,509.60 L368.80,490.15 L368.89,490.07 L369.00,489.96 L369.12,489.84 L369.26,489.71 L369.41,489.56 L369.57,489.40 L369.73,489.24 L369.91,489.06 L370.09,488.88 L370.28,488.70 L370.47,488.52 L370.67,488.34 L370.86,488.16 L371.06,487.99 L371.25,487.82 L371.44,487.66 L371.63,487.52 L371.81,487.38 L371.99,487.26 L372.16,487.16 L372.32,487.07 L372.47,486.97 L372.63,486.88 L372.78,486.78 L372.93,486.69 L373.07,486.61 L373.22,486.52 L373.37,486.45 L373.51,486.38 L373.66,486.32 L373.81,486.27 L373.96,486.23 L374.11,486.20 L374.27,486.18 L374.43,486.18 L374.60,486.19 L374.77,486.22 L374.95,486.26 L375.14,486.33 L375.33,486.41 L375.52,486.52 L375.72,486.64 L375.93,486.79 L376.13,486.95 L376.34,487.13 L376.55,487.33 L376.77,487.54 L376.99,487.76 L377.21,487.99 L377.44,488.24 L377.67,488.49 L377.91,488.75 L378.15,489.01 L378.39,489.28 L378.65,489.55 L378.90,489.82 L379.17,490.10 L379.43,490.37 L379.71,490.64 L379.99,490.90 L380.28,491.17 L380.58,491.46 L380.89,491.76 L381.21,492.07 L381.53,492.40 L381.87,492.73 L382.20,493.06 L382.55,493.40 L382.89,493.74 L383.24,494.08 L383.59,494.41 L383.95,494.74 L384.30,495.06 L384.65,495.37 L385.00,495.67 L385.35,495.95 L385.70,496.22 L386.04,496.46 L386.37,496.68 L386.70,496.88 L387.03,497.06 L387.36,497.22 L387.69,497.36 L388.01,497.49 L388.34,497.60 L388.67,497.70 L389.00,497.78 L389.32,497.86 L389.65,497.93 L389.97,497.98 L390.29,498.03 L390.61,498.08 L390.92,498.12 L391.24,498.16 L391.55,498.19 L391.85,498.22 L392.16,498.26 L392.46,498.30 L392.75,498.34 L393.04,498.38 L393.33,498.42 L393.61,498.46 L393.89,498.48 L394.17,498.50 L394.44,498.51 L394.71,498.52 L394.97,498.53 L395.23,498.53 L395.49,498.53 L395.75,498.53 L396.00,498.53 L396.26,498.54 L396.51,498.54 L396.76,498.55 L397.01,498.57 L397.26,498.59 L397.51,498.62 L397.76,498.65 L398.02,498.70 L398.27,498.75 L398.52,498.82 L398.78,498.89 L399.03,498.97 L399.29,499.06 L399.55,499.16 L399.81,499.26 L400.07,499.36 L400.32,499.47 L400.58,499.59 L400.83,499.70 L401.08,499.82 L401.33,499.93 L401.57,500.05 L401.81,500.17 L402.04,500.28 L402.27,500.40 L402.49,500.51 L402.71,500.61 L402.92,500.71 L403.12,500.81 L403.31,500.91 L403.50,501.00 L403.69,501.10 L403.88,501.20 L404.06,501.30 L404.24,501.40 L404.42,501.49 L404.59,501.59 L404.75,501.69 L404.91,501.78 L405.06,501.87 L405.21,501.96 L405.35,502.04 L405.48,502.12 L405.61,502.20 L405.72,502.27 L405.83,502.34 L405.93,502.40 L406.02,502.45 L406.10,502.49 L406.10,509.60 Z" fill="#626262" fill-opacity="0.72"/>
</g>
<path d="M367.00,511.20 L367.00,443.30 L407.70,443.30 L407.70,511.20" fill="none" stroke="#555" stroke-width="0.7"/>
<text x="387.35" y="431.70" font-size="6.2" text-anchor="middle" textLength="29.50" lengthAdjust="spacingAndGlyphs">Only RPFs</text>
<text x="387.35" y="438.4" font-size="5.8" text-anchor="middle" fill="#222">(<tspan font-style="italic">n</tspan> = 25)</text>
<line x1="368.80" y1="513.10" x2="368.80" y2="515.80" stroke="#555" stroke-width="0.5"/>
<text x="371.20" y="521.00" font-size="6.3" text-anchor="end" fill="#333" transform="rotate(-45 371.20 521.00)">0</text>
<line x1="387.45" y1="513.10" x2="387.45" y2="515.80" stroke="#555" stroke-width="0.5"/>
<text x="389.85" y="521.00" font-size="6.3" text-anchor="end" fill="#333" transform="rotate(-45 389.85 521.00)">50</text>
<line x1="406.10" y1="513.10" x2="406.10" y2="515.80" stroke="#555" stroke-width="0.5"/>
<text x="408.50" y="521.00" font-size="6.3" text-anchor="end" fill="#333" transform="rotate(-45 408.50 521.00)">100</text>
<line x1="280.70" y1="509.60" x2="283.70" y2="509.60" stroke="#555" stroke-width="0.5"/>
<text x="278.30" y="511.60" font-size="5.8" text-anchor="end" fill="#333">0</text>
<line x1="280.70" y1="490.90" x2="283.70" y2="490.90" stroke="#555" stroke-width="0.5"/>
<text x="278.30" y="492.90" font-size="5.8" text-anchor="end" fill="#333">1</text>
<line x1="280.70" y1="472.20" x2="283.70" y2="472.20" stroke="#555" stroke-width="0.5"/>
<text x="278.30" y="474.20" font-size="5.8" text-anchor="end" fill="#333">2</text>
<line x1="280.70" y1="453.50" x2="283.70" y2="453.50" stroke="#555" stroke-width="0.5"/>
<text x="278.30" y="455.50" font-size="5.8" text-anchor="end" fill="#333">3</text>
<text x="345.70" y="421.60" font-size="7.4" text-anchor="middle" fill="#1a1a1a" textLength="45.00" lengthAdjust="spacingAndGlyphs">E2F TARGETS</text>
<text x="346.30" y="537.60" font-size="7.38" text-anchor="middle" textLength="55.40" lengthAdjust="spacingAndGlyphs">Percentage CDS</text>
<rect x="421.20" y="511.20" width="41.80" height="1.90" fill="#cdcdcd"/>
<rect x="461.60" y="443.30" width="1.00" height="67.90" fill="#cdcdcd"/>
<rect x="462.60" y="511.20" width="41.10" height="1.90" fill="#cdcdcd"/>
<rect x="502.30" y="443.30" width="1.80" height="67.90" fill="#cdcdcd"/>
<rect x="504.10" y="511.20" width="41.10" height="1.90" fill="#cdcdcd"/>
<clipPath id="cpG2M0"><rect x="421.20" y="443.30" width="40.40" height="67.90"/></clipPath>
<g clip-path="url(#cpG2M0)">
<line x1="421.20" y1="508.20" x2="461.60" y2="508.20" stroke="#f3f3f3" stroke-width="0.5"/>
<line x1="421.20" y1="485.54" x2="461.60" y2="485.54" stroke="#f3f3f3" stroke-width="0.5"/>
<line x1="421.20" y1="462.88" x2="461.60" y2="462.88" stroke="#f3f3f3" stroke-width="0.5"/>
<line x1="423.00" y1="443.30" x2="423.00" y2="511.20" stroke="#f3f3f3" stroke-width="0.5"/>
<line x1="441.50" y1="443.30" x2="441.50" y2="511.20" stroke="#f3f3f3" stroke-width="0.5"/>
<line x1="460.00" y1="443.30" x2="460.00" y2="511.20" stroke="#f3f3f3" stroke-width="0.5"/>
<path d="M423.00,508.20 L423.00,507.63 L423.18,507.55 L423.41,507.46 L423.67,507.37 L423.96,507.27 L424.28,507.16 L424.62,507.05 L424.98,506.92 L425.35,506.79 L425.73,506.64 L426.12,506.47 L426.50,506.29 L426.88,506.09 L427.25,505.88 L427.61,505.64 L427.95,505.39 L428.26,505.11 L428.55,504.80 L428.81,504.47 L429.07,504.10 L429.30,503.70 L429.53,503.27 L429.75,502.82 L429.96,502.35 L430.17,501.86 L430.37,501.37 L430.57,500.86 L430.77,500.34 L430.96,499.82 L431.16,499.31 L431.37,498.80 L431.58,498.29 L431.79,497.80 L432.02,497.33 L432.25,496.87 L432.49,496.41 L432.75,495.91 L433.01,495.39 L433.28,494.86 L433.55,494.31 L433.82,493.77 L434.10,493.23 L434.38,492.70 L434.65,492.18 L434.93,491.70 L435.20,491.25 L435.47,490.83 L435.73,490.47 L435.99,490.16 L436.23,489.91 L436.47,489.73 L436.69,489.62 L436.90,489.59 L437.11,489.63 L437.31,489.73 L437.50,489.89 L437.68,490.10 L437.86,490.36 L438.03,490.65 L438.20,490.99 L438.37,491.35 L438.53,491.73 L438.69,492.13 L438.85,492.55 L439.01,492.97 L439.17,493.39 L439.33,493.81 L439.49,494.21 L439.65,494.60 L439.81,495.00 L439.97,495.43 L440.12,495.89 L440.28,496.36 L440.43,496.86 L440.58,497.37 L440.72,497.89 L440.87,498.41 L441.02,498.93 L441.17,499.45 L441.31,499.95 L441.46,500.44 L441.61,500.92 L441.77,501.37 L441.92,501.79 L442.08,502.18 L442.24,502.53 L442.40,502.86 L442.56,503.18 L442.71,503.48 L442.86,503.77 L443.00,504.04 L443.15,504.30 L443.30,504.54 L443.46,504.77 L443.61,504.97 L443.78,505.16 L443.95,505.34 L444.13,505.49 L444.32,505.62 L444.52,505.73 L444.73,505.82 L444.96,505.89 L445.20,505.93 L445.46,505.95 L445.74,505.94 L446.03,505.90 L446.34,505.84 L446.67,505.75 L447.00,505.64 L447.34,505.52 L447.68,505.37 L448.04,505.22 L448.39,505.04 L448.74,504.86 L449.09,504.67 L449.44,504.48 L449.78,504.28 L450.12,504.07 L450.44,503.87 L450.75,503.67 L451.05,503.45 L451.35,503.20 L451.65,502.93 L451.94,502.64 L452.23,502.33 L452.52,502.01 L452.80,501.68 L453.08,501.35 L453.36,501.03 L453.64,500.71 L453.92,500.41 L454.19,500.12 L454.47,499.86 L454.74,499.63 L455.02,499.42 L455.29,499.26 L455.56,499.14 L455.84,499.06 L456.13,499.02 L456.42,499.01 L456.72,499.04 L457.03,499.09 L457.33,499.16 L457.64,499.26 L457.93,499.36 L458.23,499.48 L458.51,499.60 L458.78,499.72 L459.03,499.85 L459.27,499.96 L459.49,500.06 L459.68,500.15 L459.86,500.22 L460.00,500.27 L460.00,508.20 Z" fill="#d01018" fill-opacity="0.72"/>
<path d="M423.00,508.20 L423.00,508.20 L423.70,508.17 L424.64,508.14 L425.77,508.11 L427.03,508.07 L428.37,508.02 L429.71,507.97 L431.02,507.90 L432.22,507.83 L433.27,507.74 L434.10,507.63 L434.73,507.53 L435.23,507.45 L435.62,507.37 L435.92,507.28 L436.16,507.17 L436.35,507.04 L436.51,506.85 L436.67,506.62 L436.85,506.32 L437.06,505.93 L437.29,505.50 L437.51,505.05 L437.71,504.55 L437.90,504.02 L438.08,503.42 L438.25,502.75 L438.42,502.00 L438.58,501.16 L438.74,500.21 L438.91,499.14 L439.07,497.94 L439.24,496.62 L439.39,495.19 L439.55,493.66 L439.70,492.05 L439.84,490.38 L439.98,488.65 L440.12,486.88 L440.26,485.08 L440.39,483.27 L440.52,481.40 L440.64,479.41 L440.75,477.35 L440.86,475.23 L440.97,473.08 L441.07,470.93 L441.18,468.81 L441.28,466.74 L441.39,464.76 L441.50,462.88 L441.61,460.99 L441.72,458.98 L441.83,456.93 L441.94,454.90 L442.06,452.97 L442.17,451.19 L442.28,449.64 L442.39,448.38 L442.50,447.48 L442.61,447.02 L442.72,447.00 L442.83,447.38 L442.94,448.10 L443.05,449.10 L443.17,450.35 L443.28,451.78 L443.39,453.34 L443.50,454.99 L443.61,456.68 L443.72,458.35 L443.83,460.14 L443.94,462.20 L444.05,464.45 L444.16,466.82 L444.27,469.25 L444.39,471.67 L444.50,474.01 L444.61,476.20 L444.72,478.18 L444.83,479.88 L444.94,481.34 L445.05,482.67 L445.16,483.87 L445.27,484.94 L445.38,485.89 L445.50,486.73 L445.61,487.45 L445.72,488.05 L445.83,488.55 L445.94,488.94 L446.05,489.20 L446.16,489.33 L446.27,489.32 L446.38,489.20 L446.50,488.97 L446.61,488.65 L446.72,488.25 L446.83,487.78 L446.94,487.25 L447.05,486.67 L447.16,485.95 L447.27,485.00 L447.38,483.90 L447.49,482.70 L447.61,481.47 L447.72,480.27 L447.83,479.16 L447.94,478.22 L448.05,477.49 L448.16,477.04 L448.27,476.85 L448.38,476.81 L448.49,476.93 L448.60,477.19 L448.71,477.57 L448.83,478.08 L448.94,478.68 L449.05,479.38 L449.16,480.16 L449.27,481.01 L449.38,482.00 L449.48,483.20 L449.58,484.56 L449.68,486.02 L449.78,487.56 L449.88,489.11 L449.99,490.64 L450.11,492.09 L450.24,493.43 L450.38,494.60 L450.51,495.65 L450.61,496.63 L450.69,497.54 L450.78,498.40 L450.89,499.21 L451.03,499.96 L451.22,500.67 L451.47,501.33 L451.80,501.95 L452.23,502.53 L452.80,503.07 L453.53,503.56 L454.37,503.99 L455.28,504.38 L456.23,504.73 L457.17,505.04 L458.05,505.31 L458.85,505.54 L459.51,505.75 L460.00,505.93 L460.00,508.20 Z" fill="#3d66e6" fill-opacity="0.72"/>
<path d="M423.00,508.20 L423.00,502.53 L423.10,502.46 L423.22,502.36 L423.35,502.25 L423.50,502.13 L423.66,502.00 L423.84,501.86 L424.02,501.71 L424.21,501.55 L424.41,501.39 L424.62,501.22 L424.83,501.06 L425.04,500.89 L425.26,500.72 L425.47,500.56 L425.69,500.40 L425.90,500.24 L426.11,500.09 L426.31,499.95 L426.51,499.82 L426.70,499.70 L426.88,499.59 L427.06,499.48 L427.24,499.36 L427.41,499.25 L427.58,499.14 L427.75,499.04 L427.92,498.93 L428.09,498.83 L428.26,498.73 L428.43,498.64 L428.61,498.55 L428.79,498.47 L428.97,498.39 L429.15,498.31 L429.34,498.24 L429.54,498.18 L429.74,498.12 L429.96,498.08 L430.17,498.04 L430.40,498.00 L430.64,497.98 L430.88,497.96 L431.13,497.95 L431.39,497.95 L431.66,497.96 L431.93,497.97 L432.21,497.99 L432.49,498.01 L432.77,498.04 L433.06,498.07 L433.35,498.11 L433.64,498.15 L433.93,498.20 L434.23,498.24 L434.52,498.30 L434.81,498.35 L435.10,498.40 L435.39,498.46 L435.67,498.51 L435.95,498.57 L436.23,498.63 L436.50,498.70 L436.78,498.78 L437.06,498.86 L437.34,498.95 L437.62,499.05 L437.89,499.15 L438.17,499.25 L438.45,499.35 L438.73,499.45 L439.00,499.56 L439.28,499.66 L439.56,499.75 L439.83,499.85 L440.11,499.94 L440.39,500.02 L440.67,500.10 L440.94,500.16 L441.22,500.22 L441.50,500.27 L441.78,500.31 L442.06,500.35 L442.33,500.38 L442.61,500.41 L442.89,500.44 L443.17,500.47 L443.44,500.48 L443.72,500.50 L444.00,500.51 L444.27,500.52 L444.55,500.52 L444.83,500.51 L445.11,500.50 L445.38,500.49 L445.66,500.47 L445.94,500.44 L446.22,500.41 L446.50,500.37 L446.77,500.32 L447.05,500.27 L447.33,500.20 L447.61,500.13 L447.90,500.04 L448.19,499.93 L448.48,499.82 L448.77,499.70 L449.07,499.58 L449.36,499.44 L449.65,499.31 L449.94,499.17 L450.23,499.03 L450.51,498.90 L450.79,498.76 L451.07,498.63 L451.34,498.50 L451.61,498.38 L451.87,498.27 L452.12,498.17 L452.36,498.08 L452.60,498.00 L452.83,497.93 L453.04,497.87 L453.26,497.81 L453.46,497.75 L453.66,497.70 L453.85,497.65 L454.03,497.61 L454.21,497.57 L454.39,497.54 L454.57,497.51 L454.74,497.48 L454.91,497.46 L455.08,497.44 L455.25,497.43 L455.42,497.42 L455.59,497.41 L455.76,497.41 L455.94,497.42 L456.12,497.42 L456.30,497.44 L456.49,497.46 L456.69,497.49 L456.89,497.53 L457.10,497.57 L457.31,497.63 L457.53,497.69 L457.74,497.75 L457.96,497.82 L458.17,497.89 L458.38,497.97 L458.59,498.04 L458.79,498.12 L458.98,498.19 L459.16,498.26 L459.34,498.33 L459.50,498.39 L459.65,498.44 L459.78,498.49 L459.90,498.54 L460.00,498.57 L460.00,508.20 Z" fill="#626262" fill-opacity="0.72"/>
</g>
<path d="M421.20,511.20 L421.20,443.30 L461.60,443.30 L461.60,511.20" fill="none" stroke="#555" stroke-width="0.7"/>
<text x="441.40" y="431.70" font-size="6.2" text-anchor="middle" textLength="19.60" lengthAdjust="spacingAndGlyphs">Shared</text>
<text x="441.40" y="438.4" font-size="5.8" text-anchor="middle" fill="#222">(<tspan font-style="italic">n</tspan> = 13)</text>
<line x1="423.00" y1="513.10" x2="423.00" y2="515.80" stroke="#555" stroke-width="0.5"/>
<text x="425.40" y="521.00" font-size="6.3" text-anchor="end" fill="#333" transform="rotate(-45 425.40 521.00)">0</text>
<line x1="441.50" y1="513.10" x2="441.50" y2="515.80" stroke="#555" stroke-width="0.5"/>
<text x="443.90" y="521.00" font-size="6.3" text-anchor="end" fill="#333" transform="rotate(-45 443.90 521.00)">50</text>
<line x1="460.00" y1="513.10" x2="460.00" y2="515.80" stroke="#555" stroke-width="0.5"/>
<text x="462.40" y="521.00" font-size="6.3" text-anchor="end" fill="#333" transform="rotate(-45 462.40 521.00)">100</text>
<clipPath id="cpG2M1"><rect x="462.60" y="443.30" width="39.70" height="67.90"/></clipPath>
<g clip-path="url(#cpG2M1)">
<line x1="462.60" y1="508.20" x2="502.30" y2="508.20" stroke="#f3f3f3" stroke-width="0.5"/>
<line x1="462.60" y1="485.54" x2="502.30" y2="485.54" stroke="#f3f3f3" stroke-width="0.5"/>
<line x1="462.60" y1="462.88" x2="502.30" y2="462.88" stroke="#f3f3f3" stroke-width="0.5"/>
<line x1="464.40" y1="443.30" x2="464.40" y2="511.20" stroke="#f3f3f3" stroke-width="0.5"/>
<line x1="482.55" y1="443.30" x2="482.55" y2="511.20" stroke="#f3f3f3" stroke-width="0.5"/>
<line x1="500.70" y1="443.30" x2="500.70" y2="511.20" stroke="#f3f3f3" stroke-width="0.5"/>
<path d="M464.40,508.20 L464.40,508.20 L464.52,508.20 L464.64,508.20 L464.76,508.20 L464.89,508.20 L465.02,508.20 L465.16,508.20 L465.30,508.20 L465.44,508.20 L465.59,508.20 L465.74,508.20 L465.89,508.20 L466.05,508.20 L466.21,508.20 L466.38,508.20 L466.55,508.20 L466.72,508.20 L466.90,508.20 L467.08,508.20 L467.26,508.20 L467.45,508.20 L467.64,508.20 L467.83,508.20 L468.03,508.20 L468.23,508.20 L468.43,508.20 L468.63,508.20 L468.84,508.20 L469.05,508.20 L469.26,508.20 L469.48,508.20 L469.70,508.20 L469.92,508.20 L470.14,508.20 L470.37,508.20 L470.60,508.20 L470.83,508.20 L471.06,508.20 L471.30,508.20 L471.53,508.20 L471.77,508.20 L472.02,508.20 L472.26,508.20 L472.51,508.20 L472.75,508.20 L473.00,508.20 L473.26,508.20 L473.51,508.20 L473.77,508.20 L474.02,508.20 L474.28,508.20 L474.54,508.20 L474.80,508.20 L475.07,508.20 L475.33,508.20 L475.60,508.20 L475.87,508.20 L476.14,508.20 L476.41,508.20 L476.68,508.20 L476.95,508.20 L477.22,508.20 L477.50,508.20 L477.77,508.20 L478.05,508.20 L478.33,508.20 L478.60,508.20 L478.88,508.20 L479.16,508.20 L479.44,508.20 L479.72,508.20 L480.00,508.20 L480.29,508.20 L480.57,508.20 L480.85,508.20 L481.13,508.20 L481.42,508.20 L481.70,508.20 L481.98,508.20 L482.27,508.20 L482.55,508.20 L482.83,508.20 L483.12,508.20 L483.40,508.20 L483.68,508.20 L483.97,508.20 L484.25,508.20 L484.53,508.20 L484.81,508.20 L485.10,508.20 L485.38,508.20 L485.66,508.20 L485.94,508.20 L486.22,508.20 L486.50,508.20 L486.77,508.20 L487.05,508.20 L487.33,508.20 L487.60,508.20 L487.88,508.20 L488.15,508.20 L488.42,508.20 L488.69,508.20 L488.96,508.20 L489.23,508.20 L489.50,508.20 L489.77,508.20 L490.03,508.20 L490.30,508.20 L490.56,508.20 L490.82,508.20 L491.08,508.20 L491.33,508.20 L491.59,508.20 L491.84,508.20 L492.10,508.20 L492.35,508.20 L492.59,508.20 L492.84,508.20 L493.08,508.20 L493.33,508.20 L493.57,508.20 L493.80,508.20 L494.04,508.20 L494.27,508.20 L494.50,508.20 L494.73,508.20 L494.96,508.20 L495.18,508.20 L495.40,508.20 L495.62,508.20 L495.84,508.20 L496.05,508.20 L496.26,508.20 L496.47,508.20 L496.67,508.20 L496.87,508.20 L497.07,508.20 L497.27,508.20 L497.46,508.20 L497.65,508.20 L497.84,508.20 L498.02,508.20 L498.20,508.20 L498.38,508.20 L498.55,508.20 L498.72,508.20 L498.89,508.20 L499.05,508.20 L499.21,508.20 L499.36,508.20 L499.51,508.20 L499.66,508.20 L499.80,508.20 L499.94,508.20 L500.08,508.20 L500.21,508.20 L500.34,508.20 L500.46,508.20 L500.58,508.20 L500.70,508.20 L500.70,508.20 Z" fill="#d01018" fill-opacity="0.72"/>
<path d="M464.40,508.20 L464.40,506.50 L464.58,506.49 L464.79,506.47 L465.02,506.46 L465.28,506.44 L465.56,506.42 L465.86,506.40 L466.17,506.38 L466.51,506.36 L466.85,506.34 L467.21,506.31 L467.58,506.29 L467.95,506.26 L468.33,506.23 L468.71,506.21 L469.10,506.18 L469.48,506.14 L469.87,506.11 L470.24,506.08 L470.61,506.04 L470.97,506.01 L471.32,505.97 L471.66,505.93 L471.99,505.89 L472.32,505.85 L472.65,505.80 L472.98,505.75 L473.31,505.70 L473.64,505.65 L473.97,505.60 L474.30,505.54 L474.63,505.48 L474.96,505.43 L475.29,505.37 L475.62,505.31 L475.95,505.25 L476.28,505.20 L476.61,505.14 L476.94,505.08 L477.27,505.03 L477.60,504.98 L477.93,504.93 L478.26,504.88 L478.59,504.84 L478.92,504.80 L479.25,504.77 L479.59,504.74 L479.92,504.71 L480.26,504.69 L480.61,504.68 L480.95,504.67 L481.29,504.66 L481.64,504.65 L481.98,504.64 L482.32,504.63 L482.66,504.62 L483.00,504.61 L483.34,504.60 L483.67,504.58 L484.00,504.56 L484.33,504.54 L484.65,504.51 L484.97,504.47 L485.28,504.42 L485.59,504.37 L485.89,504.31 L486.18,504.23 L486.47,504.15 L486.75,504.07 L487.03,503.98 L487.31,503.88 L487.58,503.78 L487.85,503.67 L488.11,503.56 L488.37,503.44 L488.63,503.32 L488.88,503.20 L489.13,503.07 L489.38,502.93 L489.62,502.79 L489.86,502.65 L490.09,502.51 L490.32,502.36 L490.55,502.21 L490.77,502.05 L490.99,501.89 L491.20,501.73 L491.42,501.57 L491.62,501.40 L491.83,501.23 L492.03,501.04 L492.22,500.84 L492.41,500.64 L492.59,500.42 L492.78,500.20 L492.95,499.97 L493.12,499.74 L493.29,499.50 L493.46,499.27 L493.62,499.03 L493.78,498.80 L493.94,498.57 L494.09,498.34 L494.24,498.12 L494.39,497.91 L494.54,497.70 L494.69,497.51 L494.83,497.33 L494.97,497.16 L495.11,497.01 L495.25,496.87 L495.39,496.75 L495.53,496.63 L495.65,496.53 L495.78,496.43 L495.90,496.35 L496.02,496.27 L496.13,496.20 L496.24,496.14 L496.35,496.08 L496.46,496.03 L496.57,495.98 L496.68,495.95 L496.78,495.91 L496.89,495.88 L497.00,495.85 L497.11,495.83 L497.22,495.81 L497.33,495.79 L497.44,495.78 L497.56,495.76 L497.67,495.75 L497.80,495.74 L497.92,495.73 L498.06,495.73 L498.20,495.73 L498.34,495.74 L498.49,495.76 L498.64,495.78 L498.79,495.81 L498.95,495.84 L499.10,495.88 L499.26,495.91 L499.41,495.95 L499.56,495.99 L499.70,496.03 L499.84,496.07 L499.98,496.11 L500.11,496.14 L500.23,496.18 L500.34,496.21 L500.45,496.24 L500.54,496.27 L500.63,496.29 L500.70,496.30 L500.70,508.20 Z" fill="#3d66e6" fill-opacity="0.72"/>
<path d="M464.40,508.20 L464.40,499.70 L464.49,499.78 L464.60,499.87 L464.72,499.97 L464.85,500.08 L465.00,500.20 L465.15,500.33 L465.32,500.47 L465.49,500.62 L465.67,500.77 L465.86,500.92 L466.05,501.08 L466.25,501.23 L466.46,501.39 L466.67,501.54 L466.88,501.69 L467.09,501.83 L467.30,501.97 L467.52,502.11 L467.74,502.27 L467.97,502.43 L468.21,502.61 L468.45,502.79 L468.69,502.97 L468.94,503.16 L469.19,503.33 L469.45,503.50 L469.72,503.66 L469.98,503.81 L470.25,503.94 L470.53,504.05 L470.81,504.14 L471.09,504.20 L471.37,504.23 L471.66,504.23 L471.95,504.21 L472.26,504.17 L472.58,504.11 L472.90,504.03 L473.24,503.93 L473.57,503.82 L473.91,503.69 L474.26,503.54 L474.60,503.37 L474.94,503.19 L475.27,502.98 L475.60,502.76 L475.93,502.53 L476.24,502.27 L476.54,502.00 L476.83,501.71 L477.11,501.40 L477.37,501.06 L477.62,500.69 L477.87,500.28 L478.11,499.84 L478.34,499.37 L478.56,498.89 L478.78,498.39 L479.00,497.87 L479.20,497.35 L479.41,496.83 L479.61,496.31 L479.80,495.79 L479.99,495.29 L480.18,494.80 L480.37,494.33 L480.55,493.89 L480.74,493.47 L480.91,493.06 L481.09,492.65 L481.25,492.22 L481.42,491.79 L481.57,491.36 L481.73,490.94 L481.88,490.52 L482.02,490.12 L482.17,489.74 L482.31,489.38 L482.45,489.04 L482.59,488.74 L482.73,488.47 L482.86,488.23 L483.00,488.04 L483.14,487.90 L483.28,487.81 L483.41,487.76 L483.55,487.76 L483.68,487.81 L483.81,487.89 L483.93,488.00 L484.06,488.15 L484.18,488.33 L484.30,488.54 L484.43,488.78 L484.55,489.03 L484.67,489.31 L484.80,489.60 L484.92,489.90 L485.05,490.22 L485.18,490.54 L485.32,490.87 L485.45,491.20 L485.59,491.56 L485.72,491.96 L485.84,492.40 L485.97,492.87 L486.09,493.36 L486.21,493.87 L486.33,494.40 L486.46,494.94 L486.59,495.47 L486.72,496.01 L486.87,496.53 L487.02,497.04 L487.19,497.52 L487.37,497.98 L487.56,498.41 L487.77,498.79 L488.00,499.14 L488.24,499.44 L488.49,499.71 L488.76,499.96 L489.04,500.18 L489.33,500.38 L489.63,500.56 L489.94,500.72 L490.26,500.87 L490.59,501.01 L490.92,501.14 L491.27,501.26 L491.62,501.37 L491.97,501.49 L492.33,501.60 L492.70,501.72 L493.07,501.84 L493.44,501.97 L493.83,502.10 L494.26,502.23 L494.71,502.36 L495.18,502.48 L495.66,502.60 L496.16,502.72 L496.66,502.83 L497.16,502.94 L497.66,503.05 L498.14,503.15 L498.60,503.24 L499.04,503.33 L499.45,503.41 L499.83,503.48 L500.17,503.55 L500.46,503.61 L500.70,503.67 L500.70,508.20 Z" fill="#626262" fill-opacity="0.72"/>
</g>
<path d="M462.60,511.20 L462.60,443.30 L502.30,443.30 L502.30,511.20" fill="none" stroke="#555" stroke-width="0.7"/>
<text x="482.45" y="431.70" font-size="6.2" text-anchor="middle" textLength="34.50" lengthAdjust="spacingAndGlyphs">Only protein</text>
<text x="482.45" y="438.4" font-size="5.8" text-anchor="middle" fill="#222">(<tspan font-style="italic">n</tspan> = 13)</text>
<line x1="464.40" y1="513.10" x2="464.40" y2="515.80" stroke="#555" stroke-width="0.5"/>
<text x="466.80" y="521.00" font-size="6.3" text-anchor="end" fill="#333" transform="rotate(-45 466.80 521.00)">0</text>
<line x1="482.55" y1="513.10" x2="482.55" y2="515.80" stroke="#555" stroke-width="0.5"/>
<text x="484.95" y="521.00" font-size="6.3" text-anchor="end" fill="#333" transform="rotate(-45 484.95 521.00)">50</text>
<line x1="500.70" y1="513.10" x2="500.70" y2="515.80" stroke="#555" stroke-width="0.5"/>
<text x="503.10" y="521.00" font-size="6.3" text-anchor="end" fill="#333" transform="rotate(-45 503.10 521.00)">100</text>
<clipPath id="cpG2M2"><rect x="504.10" y="443.30" width="39.70" height="67.90"/></clipPath>
<g clip-path="url(#cpG2M2)">
<line x1="504.10" y1="508.20" x2="543.80" y2="508.20" stroke="#f3f3f3" stroke-width="0.5"/>
<line x1="504.10" y1="485.54" x2="543.80" y2="485.54" stroke="#f3f3f3" stroke-width="0.5"/>
<line x1="504.10" y1="462.88" x2="543.80" y2="462.88" stroke="#f3f3f3" stroke-width="0.5"/>
<line x1="505.90" y1="443.30" x2="505.90" y2="511.20" stroke="#f3f3f3" stroke-width="0.5"/>
<line x1="524.05" y1="443.30" x2="524.05" y2="511.20" stroke="#f3f3f3" stroke-width="0.5"/>
<line x1="542.20" y1="443.30" x2="542.20" y2="511.20" stroke="#f3f3f3" stroke-width="0.5"/>
<path d="M505.90,508.20 L505.90,490.07 L505.98,489.72 L506.07,489.27 L506.17,488.75 L506.29,488.16 L506.42,487.51 L506.56,486.82 L506.70,486.10 L506.85,485.36 L507.01,484.62 L507.17,483.90 L507.32,483.19 L507.48,482.52 L507.64,481.89 L507.79,481.33 L507.94,480.84 L508.08,480.44 L508.21,480.11 L508.35,479.81 L508.49,479.54 L508.62,479.31 L508.76,479.12 L508.89,478.95 L509.03,478.81 L509.17,478.71 L509.30,478.63 L509.44,478.57 L509.58,478.55 L509.71,478.54 L509.85,478.56 L509.98,478.60 L510.12,478.66 L510.26,478.74 L510.39,478.84 L510.53,478.95 L510.66,479.08 L510.79,479.22 L510.92,479.39 L511.06,479.59 L511.19,479.81 L511.32,480.05 L511.46,480.33 L511.59,480.64 L511.73,480.98 L511.86,481.36 L512.00,481.77 L512.14,482.23 L512.29,482.73 L512.43,483.27 L512.58,483.89 L512.74,484.58 L512.90,485.34 L513.06,486.17 L513.23,487.04 L513.39,487.96 L513.56,488.90 L513.73,489.86 L513.89,490.83 L514.06,491.79 L514.22,492.74 L514.38,493.66 L514.54,494.54 L514.69,495.38 L514.84,496.16 L514.98,496.87 L515.11,497.53 L515.22,498.17 L515.33,498.79 L515.44,499.38 L515.53,499.96 L515.63,500.51 L515.72,501.04 L515.81,501.54 L515.91,502.03 L516.01,502.49 L516.11,502.93 L516.23,503.35 L516.35,503.75 L516.48,504.12 L516.63,504.47 L516.79,504.80 L516.97,505.12 L517.16,505.43 L517.36,505.74 L517.57,506.03 L517.79,506.31 L518.02,506.56 L518.25,506.79 L518.49,507.00 L518.73,507.16 L518.98,507.30 L519.22,507.39 L519.47,507.43 L519.71,507.42 L519.95,507.36 L520.19,507.25 L520.42,507.07 L520.65,506.79 L520.88,506.38 L521.11,505.87 L521.34,505.28 L521.58,504.61 L521.81,503.90 L522.05,503.15 L522.28,502.39 L522.51,501.64 L522.74,500.90 L522.97,500.21 L523.19,499.58 L523.41,499.02 L523.63,498.56 L523.84,498.22 L524.05,498.00 L524.25,497.91 L524.44,497.92 L524.62,498.01 L524.79,498.18 L524.96,498.42 L525.13,498.71 L525.29,499.04 L525.46,499.42 L525.62,499.82 L525.79,500.24 L525.96,500.66 L526.14,501.08 L526.33,501.49 L526.53,501.88 L526.73,502.23 L526.95,502.53 L527.17,502.82 L527.38,503.12 L527.59,503.43 L527.79,503.75 L527.99,504.07 L528.19,504.38 L528.41,504.70 L528.63,505.01 L528.87,505.32 L529.13,505.62 L529.42,505.90 L529.73,506.17 L530.07,506.43 L530.44,506.66 L530.86,506.88 L531.31,507.07 L531.83,507.23 L532.43,507.38 L533.10,507.51 L533.83,507.62 L534.60,507.71 L535.39,507.79 L536.21,507.86 L537.03,507.92 L537.84,507.97 L538.63,508.01 L539.38,508.04 L540.09,508.08 L540.74,508.11 L541.32,508.14 L541.81,508.17 L542.20,508.20 L542.20,508.20 Z" fill="#d01018" fill-opacity="0.72"/>
<path d="M505.90,508.20 L505.90,505.93 L506.14,505.72 L506.44,505.43 L506.78,505.08 L507.17,504.69 L507.60,504.26 L508.05,503.82 L508.52,503.37 L509.00,502.94 L509.49,502.53 L509.98,502.15 L510.45,501.83 L510.91,501.58 L511.35,501.40 L511.77,501.34 L512.20,501.39 L512.64,501.53 L513.08,501.74 L513.52,501.99 L513.96,502.26 L514.40,502.52 L514.83,502.75 L515.25,502.92 L515.66,503.01 L516.05,502.99 L516.43,502.84 L516.79,502.53 L517.13,502.07 L517.46,501.49 L517.77,500.79 L518.06,500.00 L518.35,499.14 L518.63,498.20 L518.90,497.22 L519.16,496.21 L519.42,495.18 L519.67,494.15 L519.92,493.14 L520.17,492.15 L520.42,491.20 L520.67,490.25 L520.92,489.24 L521.17,488.19 L521.41,487.10 L521.66,486.00 L521.89,484.91 L522.12,483.84 L522.35,482.80 L522.56,481.82 L522.77,480.91 L522.96,480.08 L523.15,479.35 L523.32,478.74 L523.48,478.24 L523.62,477.81 L523.74,477.45 L523.85,477.17 L523.96,476.94 L524.05,476.78 L524.14,476.68 L524.23,476.63 L524.32,476.63 L524.42,476.67 L524.53,476.76 L524.64,476.88 L524.78,477.04 L524.92,477.24 L525.07,477.47 L525.22,477.74 L525.38,478.06 L525.54,478.42 L525.71,478.84 L525.88,479.30 L526.06,479.81 L526.23,480.39 L526.41,481.02 L526.59,481.71 L526.77,482.46 L526.95,483.27 L527.13,484.21 L527.31,485.29 L527.49,486.49 L527.67,487.78 L527.86,489.14 L528.04,490.54 L528.23,491.95 L528.42,493.34 L528.62,494.69 L528.83,495.97 L529.04,497.16 L529.26,498.22 L529.50,499.14 L529.74,499.93 L529.99,500.66 L530.26,501.33 L530.53,501.93 L530.81,502.47 L531.10,502.95 L531.39,503.38 L531.68,503.75 L531.97,504.06 L532.27,504.32 L532.56,504.53 L532.84,504.69 L533.12,504.80 L533.41,504.84 L533.70,504.79 L534.00,504.66 L534.30,504.46 L534.60,504.21 L534.90,503.90 L535.20,503.57 L535.49,503.20 L535.77,502.83 L536.04,502.45 L536.30,502.08 L536.54,501.73 L536.75,501.40 L536.95,501.07 L537.13,500.69 L537.30,500.27 L537.45,499.83 L537.59,499.38 L537.71,498.93 L537.84,498.50 L537.95,498.09 L538.07,497.72 L538.19,497.40 L538.31,497.14 L538.44,496.96 L538.57,496.87 L538.71,496.86 L538.85,496.92 L538.99,497.04 L539.13,497.22 L539.27,497.45 L539.41,497.71 L539.55,498.02 L539.69,498.35 L539.83,498.71 L539.97,499.09 L540.11,499.48 L540.25,499.87 L540.38,500.27 L540.53,500.70 L540.68,501.20 L540.84,501.74 L541.00,502.33 L541.17,502.95 L541.33,503.57 L541.48,504.19 L541.63,504.79 L541.78,505.37 L541.91,505.89 L542.02,506.36 L542.12,506.76 L542.20,507.07 L542.20,508.20 Z" fill="#3d66e6" fill-opacity="0.72"/>
<path d="M505.90,508.20 L505.90,500.27 L506.03,500.21 L506.19,500.14 L506.37,500.05 L506.56,499.96 L506.77,499.85 L506.99,499.74 L507.23,499.62 L507.48,499.49 L507.74,499.36 L508.01,499.23 L508.28,499.10 L508.56,498.97 L508.85,498.84 L509.14,498.71 L509.42,498.59 L509.71,498.48 L510.00,498.37 L510.28,498.27 L510.56,498.19 L510.83,498.11 L511.09,498.05 L511.35,498.00 L511.59,497.97 L511.84,497.96 L512.09,497.97 L512.34,497.99 L512.58,498.02 L512.83,498.06 L513.08,498.11 L513.33,498.17 L513.57,498.23 L513.82,498.29 L514.07,498.36 L514.32,498.42 L514.56,498.48 L514.81,498.54 L515.06,498.58 L515.31,498.62 L515.55,498.65 L515.80,498.67 L516.05,498.67 L516.29,498.66 L516.54,498.62 L516.79,498.57 L517.04,498.49 L517.29,498.40 L517.55,498.29 L517.80,498.16 L518.06,498.02 L518.32,497.87 L518.59,497.70 L518.85,497.53 L519.11,497.35 L519.37,497.16 L519.63,496.98 L519.88,496.79 L520.14,496.60 L520.39,496.41 L520.64,496.22 L520.88,496.04 L521.12,495.87 L521.36,495.70 L521.58,495.55 L521.81,495.41 L522.03,495.28 L522.24,495.17 L522.44,495.07 L522.63,494.97 L522.81,494.87 L522.98,494.77 L523.15,494.68 L523.31,494.59 L523.46,494.51 L523.61,494.42 L523.76,494.35 L523.91,494.28 L524.05,494.21 L524.19,494.16 L524.34,494.11 L524.49,494.06 L524.64,494.03 L524.79,494.00 L524.95,493.98 L525.12,493.97 L525.29,493.97 L525.47,493.98 L525.66,494.00 L525.87,494.04 L526.07,494.08 L526.29,494.14 L526.52,494.22 L526.74,494.30 L526.98,494.40 L527.22,494.51 L527.46,494.63 L527.71,494.75 L527.96,494.89 L528.22,495.02 L528.47,495.17 L528.73,495.32 L528.99,495.47 L529.25,495.63 L529.51,495.79 L529.78,495.95 L530.04,496.11 L530.30,496.27 L530.55,496.42 L530.81,496.58 L531.06,496.73 L531.31,496.87 L531.56,497.01 L531.80,497.16 L532.05,497.30 L532.30,497.45 L532.55,497.60 L532.79,497.76 L533.04,497.91 L533.29,498.06 L533.54,498.22 L533.78,498.38 L534.03,498.53 L534.28,498.69 L534.53,498.85 L534.77,499.01 L535.02,499.17 L535.27,499.33 L535.52,499.49 L535.76,499.64 L536.01,499.80 L536.26,499.96 L536.51,500.11 L536.75,500.27 L537.01,500.43 L537.27,500.59 L537.54,500.76 L537.82,500.93 L538.10,501.11 L538.39,501.29 L538.68,501.47 L538.96,501.65 L539.25,501.83 L539.54,502.01 L539.82,502.18 L540.09,502.35 L540.36,502.52 L540.62,502.68 L540.87,502.84 L541.11,502.99 L541.33,503.13 L541.54,503.26 L541.73,503.38 L541.91,503.49 L542.07,503.58 L542.20,503.67 L542.20,508.20 Z" fill="#626262" fill-opacity="0.72"/>
</g>
<path d="M504.10,511.20 L504.10,443.30 L543.80,443.30 L543.80,511.20" fill="none" stroke="#555" stroke-width="0.7"/>
<text x="523.95" y="431.70" font-size="6.2" text-anchor="middle" textLength="29.50" lengthAdjust="spacingAndGlyphs">Only RPFs</text>
<text x="523.95" y="438.4" font-size="5.8" text-anchor="middle" fill="#222">(<tspan font-style="italic">n</tspan> = 29)</text>
<line x1="505.90" y1="513.10" x2="505.90" y2="515.80" stroke="#555" stroke-width="0.5"/>
<text x="508.30" y="521.00" font-size="6.3" text-anchor="end" fill="#333" transform="rotate(-45 508.30 521.00)">0</text>
<line x1="524.05" y1="513.10" x2="524.05" y2="515.80" stroke="#555" stroke-width="0.5"/>
<text x="526.45" y="521.00" font-size="6.3" text-anchor="end" fill="#333" transform="rotate(-45 526.45 521.00)">50</text>
<line x1="542.20" y1="513.10" x2="542.20" y2="515.80" stroke="#555" stroke-width="0.5"/>
<text x="544.60" y="521.00" font-size="6.3" text-anchor="end" fill="#333" transform="rotate(-45 544.60 521.00)">100</text>
<line x1="418.20" y1="508.20" x2="421.20" y2="508.20" stroke="#555" stroke-width="0.5"/>
<text x="415.80" y="510.20" font-size="5.8" text-anchor="end" fill="#333">0</text>
<line x1="418.20" y1="485.54" x2="421.20" y2="485.54" stroke="#555" stroke-width="0.5"/>
<text x="415.80" y="487.54" font-size="5.8" text-anchor="end" fill="#333">2</text>
<line x1="418.20" y1="462.88" x2="421.20" y2="462.88" stroke="#555" stroke-width="0.5"/>
<text x="415.80" y="464.88" font-size="5.8" text-anchor="end" fill="#333">4</text>
<text x="482.50" y="421.60" font-size="7.4" text-anchor="middle" fill="#1a1a1a" textLength="62.00" lengthAdjust="spacingAndGlyphs">G2M CHECKPOINT</text>
<text x="483.10" y="537.60" font-size="7.38" text-anchor="middle" textLength="55.40" lengthAdjust="spacingAndGlyphs">Percentage CDS</text>
<rect x="562.20" y="511.20" width="41.00" height="1.90" fill="#cdcdcd"/>
<rect x="601.80" y="443.30" width="1.10" height="67.90" fill="#cdcdcd"/>
<rect x="602.90" y="511.20" width="41.60" height="1.90" fill="#cdcdcd"/>
<rect x="643.10" y="443.30" width="1.00" height="67.90" fill="#cdcdcd"/>
<rect x="644.10" y="511.20" width="41.30" height="1.90" fill="#cdcdcd"/>
<clipPath id="cpMYC0"><rect x="562.20" y="443.30" width="39.60" height="67.90"/></clipPath>
<g clip-path="url(#cpMYC0)">
<line x1="562.20" y1="509.80" x2="601.80" y2="509.80" stroke="#f3f3f3" stroke-width="0.5"/>
<line x1="562.20" y1="496.40" x2="601.80" y2="496.40" stroke="#f3f3f3" stroke-width="0.5"/>
<line x1="562.20" y1="483.00" x2="601.80" y2="483.00" stroke="#f3f3f3" stroke-width="0.5"/>
<line x1="562.20" y1="469.60" x2="601.80" y2="469.60" stroke="#f3f3f3" stroke-width="0.5"/>
<line x1="562.20" y1="456.20" x2="601.80" y2="456.20" stroke="#f3f3f3" stroke-width="0.5"/>
<line x1="564.00" y1="443.30" x2="564.00" y2="511.20" stroke="#f3f3f3" stroke-width="0.5"/>
<line x1="582.10" y1="443.30" x2="582.10" y2="511.20" stroke="#f3f3f3" stroke-width="0.5"/>
<line x1="600.20" y1="443.30" x2="600.20" y2="511.20" stroke="#f3f3f3" stroke-width="0.5"/>
<path d="M564.00,509.80 L564.00,504.44 L564.13,504.06 L564.28,503.61 L564.45,503.09 L564.65,502.51 L564.86,501.88 L565.09,501.21 L565.33,500.49 L565.58,499.75 L565.84,498.99 L566.10,498.21 L566.37,497.43 L566.63,496.65 L566.89,495.88 L567.14,495.13 L567.39,494.41 L567.62,493.72 L567.85,493.04 L568.07,492.36 L568.30,491.66 L568.52,490.96 L568.75,490.26 L568.98,489.56 L569.20,488.86 L569.43,488.16 L569.66,487.47 L569.88,486.78 L570.11,486.11 L570.34,485.45 L570.56,484.81 L570.79,484.19 L571.01,483.58 L571.24,483.00 L571.47,482.43 L571.70,481.86 L571.94,481.30 L572.18,480.75 L572.42,480.20 L572.66,479.67 L572.90,479.15 L573.14,478.65 L573.38,478.16 L573.61,477.70 L573.84,477.26 L574.06,476.84 L574.27,476.46 L574.48,476.10 L574.67,475.78 L574.86,475.50 L575.03,475.24 L575.19,475.01 L575.34,474.80 L575.48,474.61 L575.61,474.45 L575.73,474.32 L575.85,474.21 L575.97,474.12 L576.08,474.06 L576.20,474.03 L576.32,474.03 L576.45,474.05 L576.58,474.10 L576.72,474.18 L576.87,474.29 L577.03,474.42 L577.21,474.60 L577.38,474.81 L577.57,475.07 L577.76,475.36 L577.96,475.68 L578.16,476.03 L578.36,476.41 L578.57,476.80 L578.78,477.22 L578.99,477.65 L579.21,478.09 L579.42,478.53 L579.64,478.98 L579.86,479.43 L580.07,479.88 L580.29,480.32 L580.51,480.78 L580.73,481.28 L580.95,481.81 L581.17,482.37 L581.39,482.94 L581.62,483.53 L581.85,484.12 L582.08,484.71 L582.31,485.28 L582.54,485.84 L582.77,486.37 L583.00,486.87 L583.23,487.32 L583.46,487.73 L583.68,488.07 L583.91,488.36 L584.13,488.58 L584.36,488.75 L584.57,488.88 L584.79,488.96 L585.00,489.00 L585.22,489.01 L585.44,488.99 L585.65,488.95 L585.87,488.89 L586.09,488.81 L586.32,488.73 L586.55,488.64 L586.78,488.56 L587.03,488.48 L587.27,488.41 L587.53,488.36 L587.79,488.31 L588.07,488.24 L588.35,488.15 L588.64,488.06 L588.93,487.95 L589.23,487.84 L589.53,487.72 L589.84,487.61 L590.14,487.49 L590.45,487.39 L590.76,487.29 L591.06,487.20 L591.36,487.12 L591.66,487.07 L591.95,487.03 L592.24,487.02 L592.52,487.03 L592.80,487.06 L593.08,487.11 L593.36,487.17 L593.64,487.24 L593.92,487.33 L594.20,487.42 L594.48,487.52 L594.75,487.63 L595.02,487.74 L595.29,487.85 L595.55,487.96 L595.82,488.07 L596.07,488.17 L596.33,488.27 L596.58,488.36 L596.83,488.45 L597.09,488.54 L597.36,488.63 L597.62,488.73 L597.89,488.82 L598.15,488.92 L598.41,489.02 L598.66,489.11 L598.91,489.21 L599.14,489.30 L599.36,489.38 L599.57,489.46 L599.76,489.53 L599.93,489.60 L600.07,489.65 L600.20,489.70 L600.20,509.80 Z" fill="#d01018" fill-opacity="0.72"/>
<path d="M564.00,509.80 L564.00,508.46 L564.16,508.10 L564.36,507.63 L564.59,507.08 L564.86,506.46 L565.14,505.79 L565.44,505.09 L565.75,504.38 L566.05,503.67 L566.35,502.99 L566.64,502.34 L566.90,501.76 L567.14,501.19 L567.38,500.58 L567.61,499.95 L567.84,499.32 L568.07,498.70 L568.30,498.13 L568.52,497.60 L568.75,497.15 L568.97,496.79 L569.20,496.53 L569.43,496.40 L569.66,496.41 L569.88,496.53 L570.09,496.76 L570.31,497.08 L570.52,497.47 L570.74,497.92 L570.96,498.41 L571.19,498.92 L571.44,499.43 L571.69,499.94 L571.96,500.42 L572.26,500.94 L572.57,501.54 L572.89,502.21 L573.23,502.91 L573.58,503.62 L573.93,504.31 L574.28,504.96 L574.62,505.54 L574.96,506.02 L575.28,506.38 L575.58,506.58 L575.86,506.66 L576.12,506.65 L576.36,506.56 L576.58,506.39 L576.81,506.14 L577.03,505.81 L577.27,505.40 L577.53,504.93 L577.81,504.39 L578.12,503.78 L578.48,503.10 L578.89,502.30 L579.34,501.32 L579.83,500.21 L580.34,499.01 L580.88,497.75 L581.42,496.46 L581.96,495.19 L582.49,493.98 L583.00,492.86 L583.47,491.87 L583.91,491.04 L584.31,490.37 L584.69,489.80 L585.06,489.33 L585.41,488.93 L585.74,488.59 L586.06,488.30 L586.37,488.04 L586.67,487.80 L586.96,487.56 L587.25,487.30 L587.53,487.02 L587.80,486.75 L588.06,486.52 L588.31,486.34 L588.55,486.17 L588.78,486.01 L589.00,485.85 L589.21,485.65 L589.43,485.42 L589.64,485.14 L589.85,484.78 L590.06,484.34 L590.28,483.83 L590.48,483.28 L590.68,482.68 L590.88,482.04 L591.08,481.35 L591.27,480.62 L591.46,479.84 L591.65,479.02 L591.85,478.16 L592.04,477.25 L592.24,476.30 L592.44,475.27 L592.64,474.15 L592.85,472.96 L593.06,471.71 L593.26,470.42 L593.47,469.11 L593.67,467.80 L593.87,466.51 L594.06,465.25 L594.24,464.04 L594.41,462.90 L594.57,461.81 L594.72,460.73 L594.86,459.66 L594.99,458.61 L595.12,457.59 L595.24,456.59 L595.36,455.63 L595.48,454.70 L595.60,453.82 L595.73,452.97 L595.86,452.18 L595.99,451.42 L596.12,450.67 L596.25,449.95 L596.38,449.25 L596.51,448.60 L596.65,448.00 L596.78,447.45 L596.91,446.97 L597.04,446.57 L597.17,446.25 L597.30,446.02 L597.44,445.87 L597.57,445.80 L597.70,445.81 L597.83,445.88 L597.96,446.02 L598.09,446.23 L598.23,446.50 L598.36,446.83 L598.49,447.22 L598.62,447.66 L598.75,448.16 L598.89,448.78 L599.03,449.55 L599.19,450.45 L599.34,451.43 L599.49,452.46 L599.64,453.50 L599.78,454.52 L599.91,455.46 L600.02,456.31 L600.12,457.01 L600.20,457.54 L600.20,509.80 Z" fill="#3d66e6" fill-opacity="0.72"/>
<path d="M564.00,509.80 L564.00,493.72 L564.09,493.54 L564.20,493.33 L564.33,493.08 L564.47,492.80 L564.62,492.50 L564.78,492.17 L564.95,491.83 L565.13,491.47 L565.32,491.11 L565.51,490.74 L565.70,490.37 L565.90,490.00 L566.10,489.64 L566.30,489.29 L566.50,488.96 L566.70,488.65 L566.90,488.36 L567.09,488.08 L567.28,487.80 L567.48,487.51 L567.68,487.22 L567.89,486.93 L568.09,486.65 L568.30,486.37 L568.51,486.10 L568.72,485.84 L568.94,485.58 L569.16,485.35 L569.38,485.13 L569.60,484.93 L569.82,484.74 L570.05,484.58 L570.28,484.45 L570.52,484.34 L570.75,484.26 L570.99,484.21 L571.23,484.18 L571.47,484.17 L571.71,484.19 L571.95,484.22 L572.20,484.27 L572.45,484.34 L572.70,484.41 L572.96,484.50 L573.22,484.59 L573.48,484.68 L573.75,484.78 L574.02,484.88 L574.29,484.97 L574.57,485.06 L574.86,485.14 L575.15,485.23 L575.46,485.32 L575.78,485.42 L576.10,485.52 L576.43,485.63 L576.77,485.75 L577.11,485.87 L577.45,485.99 L577.79,486.11 L578.13,486.23 L578.46,486.35 L578.79,486.47 L579.11,486.59 L579.43,486.71 L579.73,486.82 L580.02,486.92 L580.29,487.02 L580.55,487.12 L580.79,487.21 L581.02,487.31 L581.24,487.41 L581.45,487.51 L581.66,487.61 L581.86,487.70 L582.05,487.80 L582.24,487.88 L582.43,487.97 L582.63,488.05 L582.82,488.12 L583.02,488.19 L583.23,488.24 L583.45,488.29 L583.67,488.33 L583.91,488.36 L584.16,488.38 L584.42,488.40 L584.68,488.41 L584.95,488.41 L585.23,488.41 L585.51,488.40 L585.79,488.38 L586.07,488.36 L586.36,488.33 L586.65,488.29 L586.94,488.25 L587.23,488.20 L587.51,488.14 L587.79,488.07 L588.07,488.00 L588.35,487.91 L588.62,487.82 L588.88,487.71 L589.15,487.58 L589.41,487.42 L589.68,487.24 L589.94,487.05 L590.21,486.85 L590.47,486.65 L590.73,486.44 L590.98,486.23 L591.24,486.03 L591.49,485.84 L591.75,485.66 L592.00,485.51 L592.24,485.37 L592.48,485.26 L592.72,485.19 L592.96,485.14 L593.19,485.13 L593.42,485.15 L593.64,485.18 L593.86,485.24 L594.08,485.31 L594.29,485.40 L594.50,485.51 L594.71,485.63 L594.92,485.76 L595.13,485.91 L595.33,486.06 L595.54,486.21 L595.74,486.37 L595.95,486.53 L596.16,486.70 L596.37,486.86 L596.58,487.02 L596.80,487.19 L597.03,487.38 L597.27,487.58 L597.51,487.80 L597.76,488.03 L598.00,488.27 L598.25,488.51 L598.50,488.76 L598.74,489.00 L598.97,489.24 L599.19,489.47 L599.40,489.69 L599.60,489.89 L599.78,490.08 L599.94,490.24 L600.08,490.39 L600.20,490.50 L600.20,509.80 Z" fill="#626262" fill-opacity="0.72"/>
</g>
<path d="M562.20,511.20 L562.20,443.30 L601.80,443.30 L601.80,511.20" fill="none" stroke="#555" stroke-width="0.7"/>
<text x="582.00" y="431.70" font-size="6.2" text-anchor="middle" textLength="19.60" lengthAdjust="spacingAndGlyphs">Shared</text>
<text x="582.00" y="438.4" font-size="5.8" text-anchor="middle" fill="#222">(<tspan font-style="italic">n</tspan> = 21)</text>
<line x1="564.00" y1="513.10" x2="564.00" y2="515.80" stroke="#555" stroke-width="0.5"/>
<text x="566.40" y="521.00" font-size="6.3" text-anchor="end" fill="#333" transform="rotate(-45 566.40 521.00)">0</text>
<line x1="582.10" y1="513.10" x2="582.10" y2="515.80" stroke="#555" stroke-width="0.5"/>
<text x="584.50" y="521.00" font-size="6.3" text-anchor="end" fill="#333" transform="rotate(-45 584.50 521.00)">50</text>
<line x1="600.20" y1="513.10" x2="600.20" y2="515.80" stroke="#555" stroke-width="0.5"/>
<text x="602.60" y="521.00" font-size="6.3" text-anchor="end" fill="#333" transform="rotate(-45 602.60 521.00)">100</text>
<clipPath id="cpMYC1"><rect x="602.90" y="443.30" width="40.20" height="67.90"/></clipPath>
<g clip-path="url(#cpMYC1)">
<line x1="602.90" y1="509.80" x2="643.10" y2="509.80" stroke="#f3f3f3" stroke-width="0.5"/>
<line x1="602.90" y1="496.40" x2="643.10" y2="496.40" stroke="#f3f3f3" stroke-width="0.5"/>
<line x1="602.90" y1="483.00" x2="643.10" y2="483.00" stroke="#f3f3f3" stroke-width="0.5"/>
<line x1="602.90" y1="469.60" x2="643.10" y2="469.60" stroke="#f3f3f3" stroke-width="0.5"/>
<line x1="602.90" y1="456.20" x2="643.10" y2="456.20" stroke="#f3f3f3" stroke-width="0.5"/>
<line x1="604.70" y1="443.30" x2="604.70" y2="511.20" stroke="#f3f3f3" stroke-width="0.5"/>
<line x1="623.10" y1="443.30" x2="623.10" y2="511.20" stroke="#f3f3f3" stroke-width="0.5"/>
<line x1="641.50" y1="443.30" x2="641.50" y2="511.20" stroke="#f3f3f3" stroke-width="0.5"/>
<path d="M604.70,509.80 L604.70,499.08 L604.80,498.19 L604.92,497.01 L605.07,495.60 L605.23,494.02 L605.41,492.33 L605.60,490.58 L605.79,488.83 L605.99,487.14 L606.18,485.57 L606.37,484.17 L606.54,483.00 L606.71,482.00 L606.87,481.07 L607.04,480.21 L607.21,479.42 L607.38,478.72 L607.54,478.09 L607.71,477.55 L607.88,477.10 L608.05,476.74 L608.21,476.47 L608.38,476.30 L608.55,476.26 L608.71,476.38 L608.87,476.62 L609.03,476.97 L609.20,477.40 L609.36,477.89 L609.52,478.41 L609.69,478.93 L609.86,479.44 L610.04,479.91 L610.22,480.32 L610.41,480.72 L610.59,481.16 L610.79,481.63 L610.98,482.12 L611.18,482.60 L611.38,483.06 L611.58,483.47 L611.79,483.82 L612.00,484.10 L612.21,484.28 L612.43,484.34 L612.65,484.31 L612.87,484.21 L613.10,484.04 L613.34,483.81 L613.57,483.51 L613.81,483.14 L614.05,482.71 L614.29,482.21 L614.53,481.65 L614.77,481.02 L615.00,480.32 L615.24,479.53 L615.48,478.63 L615.72,477.65 L615.96,476.58 L616.20,475.46 L616.43,474.29 L616.67,473.08 L616.90,471.86 L617.13,470.64 L617.36,469.44 L617.58,468.26 L617.80,467.06 L618.01,465.80 L618.22,464.48 L618.43,463.15 L618.63,461.81 L618.83,460.48 L619.03,459.20 L619.22,457.97 L619.41,456.83 L619.60,455.78 L619.79,454.86 L619.97,454.04 L620.15,453.27 L620.33,452.56 L620.50,451.92 L620.67,451.35 L620.84,450.85 L621.00,450.42 L621.16,450.07 L621.32,449.79 L621.48,449.60 L621.63,449.50 L621.77,449.48 L621.91,449.53 L622.05,449.67 L622.17,449.88 L622.30,450.16 L622.43,450.53 L622.55,450.97 L622.68,451.49 L622.81,452.09 L622.95,452.77 L623.10,453.52 L623.25,454.38 L623.41,455.35 L623.57,456.43 L623.73,457.59 L623.89,458.83 L624.06,460.12 L624.23,461.46 L624.40,462.82 L624.58,464.19 L624.76,465.57 L624.94,466.92 L625.12,468.31 L625.30,469.79 L625.49,471.33 L625.67,472.91 L625.86,474.50 L626.05,476.08 L626.25,477.63 L626.46,479.12 L626.67,480.53 L626.90,481.83 L627.15,483.00 L627.40,484.04 L627.65,484.99 L627.91,485.85 L628.18,486.63 L628.45,487.35 L628.74,488.02 L629.05,488.65 L629.37,489.26 L629.71,489.85 L630.07,490.44 L630.46,491.04 L630.88,491.64 L631.33,492.21 L631.81,492.77 L632.30,493.30 L632.82,493.81 L633.35,494.30 L633.88,494.76 L634.41,495.20 L634.95,495.62 L635.47,496.02 L635.98,496.40 L636.50,496.75 L637.06,497.09 L637.63,497.40 L638.22,497.68 L638.80,497.95 L639.36,498.19 L639.90,498.42 L640.39,498.61 L640.83,498.79 L641.21,498.95 L641.50,499.08 L641.50,509.80 Z" fill="#d01018" fill-opacity="0.72"/>
<path d="M604.70,509.80 L604.70,509.80 L604.94,509.73 L605.24,509.66 L605.58,509.59 L605.96,509.52 L606.38,509.45 L606.83,509.38 L607.30,509.29 L607.79,509.19 L608.29,509.07 L608.79,508.93 L609.30,508.77 L609.81,508.58 L610.30,508.36 L610.78,508.11 L611.23,507.82 L611.66,507.49 L612.06,507.12 L612.44,506.69 L612.80,506.21 L613.17,505.67 L613.52,505.09 L613.87,504.47 L614.22,503.82 L614.56,503.15 L614.89,502.45 L615.21,501.74 L615.53,501.02 L615.84,500.31 L616.15,499.60 L616.45,498.91 L616.74,498.23 L617.03,497.59 L617.31,496.97 L617.58,496.40 L617.84,495.86 L618.10,495.33 L618.34,494.82 L618.57,494.32 L618.80,493.84 L619.01,493.36 L619.23,492.90 L619.43,492.44 L619.64,491.99 L619.84,491.54 L620.04,491.09 L620.23,490.64 L620.43,490.20 L620.63,489.74 L620.84,489.29 L621.05,488.83 L621.26,488.36 L621.48,487.88 L621.69,487.38 L621.91,486.87 L622.13,486.35 L622.34,485.83 L622.56,485.31 L622.78,484.78 L622.99,484.26 L623.21,483.75 L623.42,483.25 L623.64,482.76 L623.86,482.29 L624.07,481.84 L624.29,481.42 L624.51,481.02 L624.72,480.65 L624.94,480.32 L625.15,480.02 L625.36,479.75 L625.57,479.51 L625.77,479.29 L625.97,479.10 L626.16,478.92 L626.36,478.77 L626.56,478.63 L626.77,478.50 L626.97,478.38 L627.19,478.27 L627.40,478.17 L627.63,478.06 L627.86,477.96 L628.10,477.86 L628.36,477.75 L628.62,477.64 L628.90,477.53 L629.20,477.43 L629.51,477.34 L629.83,477.26 L630.16,477.19 L630.51,477.12 L630.85,477.06 L631.20,477.00 L631.56,476.94 L631.91,476.88 L632.25,476.82 L632.60,476.75 L632.93,476.68 L633.25,476.60 L633.56,476.51 L633.86,476.41 L634.14,476.30 L634.41,476.17 L634.67,476.03 L634.92,475.87 L635.17,475.70 L635.41,475.53 L635.65,475.35 L635.88,475.16 L636.10,474.97 L636.32,474.78 L636.53,474.60 L636.73,474.42 L636.93,474.25 L637.12,474.09 L637.30,473.95 L637.48,473.82 L637.65,473.71 L637.82,473.62 L637.98,473.54 L638.12,473.47 L638.25,473.41 L638.38,473.35 L638.50,473.30 L638.61,473.26 L638.71,473.23 L638.81,473.21 L638.90,473.20 L638.99,473.20 L639.08,473.21 L639.18,473.24 L639.27,473.29 L639.36,473.35 L639.45,473.42 L639.55,473.51 L639.66,473.62 L639.77,473.76 L639.89,473.93 L640.01,474.14 L640.13,474.37 L640.26,474.63 L640.38,474.90 L640.51,475.19 L640.63,475.48 L640.76,475.78 L640.87,476.07 L640.99,476.36 L641.09,476.63 L641.19,476.89 L641.29,477.12 L641.37,477.33 L641.44,477.50 L641.50,477.64 L641.50,509.80 Z" fill="#3d66e6" fill-opacity="0.72"/>
<path d="M604.70,509.80 L604.70,499.08 L604.83,498.89 L604.98,498.66 L605.16,498.39 L605.36,498.09 L605.58,497.76 L605.81,497.40 L606.06,497.03 L606.31,496.65 L606.57,496.26 L606.84,495.87 L607.11,495.48 L607.37,495.09 L607.64,494.72 L607.89,494.36 L608.14,494.03 L608.38,493.72 L608.61,493.42 L608.84,493.12 L609.07,492.81 L609.30,492.51 L609.53,492.20 L609.76,491.90 L609.99,491.61 L610.22,491.32 L610.45,491.05 L610.68,490.80 L610.91,490.56 L611.14,490.33 L611.37,490.14 L611.60,489.96 L611.83,489.82 L612.06,489.70 L612.29,489.61 L612.51,489.54 L612.72,489.50 L612.94,489.47 L613.15,489.47 L613.36,489.48 L613.57,489.52 L613.78,489.57 L614.00,489.63 L614.23,489.72 L614.45,489.81 L614.69,489.93 L614.94,490.05 L615.19,490.19 L615.46,490.34 L615.74,490.50 L616.04,490.69 L616.35,490.93 L616.69,491.19 L617.03,491.49 L617.39,491.80 L617.76,492.14 L618.13,492.48 L618.50,492.83 L618.87,493.18 L619.24,493.52 L619.61,493.85 L619.97,494.15 L620.31,494.43 L620.65,494.68 L620.96,494.89 L621.26,495.06 L621.54,495.20 L621.80,495.34 L622.04,495.48 L622.27,495.60 L622.48,495.71 L622.69,495.81 L622.90,495.88 L623.10,495.93 L623.30,495.95 L623.51,495.95 L623.72,495.91 L623.93,495.83 L624.16,495.71 L624.40,495.54 L624.66,495.33 L624.94,495.06 L625.24,494.73 L625.55,494.33 L625.89,493.86 L626.23,493.34 L626.59,492.78 L626.96,492.17 L627.33,491.53 L627.70,490.87 L628.07,490.20 L628.44,489.51 L628.81,488.83 L629.17,488.15 L629.51,487.49 L629.85,486.85 L630.16,486.25 L630.46,485.68 L630.74,485.13 L631.02,484.57 L631.29,483.99 L631.55,483.42 L631.81,482.84 L632.06,482.27 L632.30,481.71 L632.53,481.16 L632.76,480.62 L632.98,480.11 L633.19,479.61 L633.39,479.15 L633.59,478.71 L633.78,478.32 L633.96,477.96 L634.14,477.64 L634.30,477.36 L634.45,477.11 L634.57,476.88 L634.69,476.68 L634.79,476.50 L634.88,476.35 L634.97,476.23 L635.06,476.13 L635.15,476.06 L635.24,476.02 L635.33,476.00 L635.43,476.01 L635.55,476.04 L635.67,476.10 L635.82,476.19 L635.98,476.30 L636.16,476.45 L636.36,476.64 L636.58,476.87 L636.81,477.14 L637.06,477.44 L637.31,477.76 L637.56,478.11 L637.82,478.48 L638.08,478.86 L638.33,479.26 L638.58,479.66 L638.83,480.07 L639.06,480.48 L639.28,480.88 L639.48,481.28 L639.66,481.66 L639.83,482.05 L639.99,482.48 L640.15,482.93 L640.29,483.40 L640.43,483.88 L640.57,484.37 L640.69,484.86 L640.81,485.35 L640.92,485.82 L641.03,486.28 L641.12,486.72 L641.21,487.12 L641.30,487.50 L641.37,487.83 L641.44,488.12 L641.50,488.36 L641.50,509.80 Z" fill="#626262" fill-opacity="0.72"/>
</g>
<path d="M602.90,511.20 L602.90,443.30 L643.10,443.30 L643.10,511.20" fill="none" stroke="#555" stroke-width="0.7"/>
<text x="623.00" y="431.70" font-size="6.2" text-anchor="middle" textLength="34.50" lengthAdjust="spacingAndGlyphs">Only protein</text>
<text x="623.00" y="438.4" font-size="5.8" text-anchor="middle" fill="#222">(<tspan font-style="italic">n</tspan> = 19)</text>
<line x1="604.70" y1="513.10" x2="604.70" y2="515.80" stroke="#555" stroke-width="0.5"/>
<text x="607.10" y="521.00" font-size="6.3" text-anchor="end" fill="#333" transform="rotate(-45 607.10 521.00)">0</text>
<line x1="623.10" y1="513.10" x2="623.10" y2="515.80" stroke="#555" stroke-width="0.5"/>
<text x="625.50" y="521.00" font-size="6.3" text-anchor="end" fill="#333" transform="rotate(-45 625.50 521.00)">50</text>
<line x1="641.50" y1="513.10" x2="641.50" y2="515.80" stroke="#555" stroke-width="0.5"/>
<text x="643.90" y="521.00" font-size="6.3" text-anchor="end" fill="#333" transform="rotate(-45 643.90 521.00)">100</text>
<clipPath id="cpMYC2"><rect x="644.10" y="443.30" width="39.90" height="67.90"/></clipPath>
<g clip-path="url(#cpMYC2)">
<line x1="644.10" y1="509.80" x2="684.00" y2="509.80" stroke="#f3f3f3" stroke-width="0.5"/>
<line x1="644.10" y1="496.40" x2="684.00" y2="496.40" stroke="#f3f3f3" stroke-width="0.5"/>
<line x1="644.10" y1="483.00" x2="684.00" y2="483.00" stroke="#f3f3f3" stroke-width="0.5"/>
<line x1="644.10" y1="469.60" x2="684.00" y2="469.60" stroke="#f3f3f3" stroke-width="0.5"/>
<line x1="644.10" y1="456.20" x2="684.00" y2="456.20" stroke="#f3f3f3" stroke-width="0.5"/>
<line x1="645.90" y1="443.30" x2="645.90" y2="511.20" stroke="#f3f3f3" stroke-width="0.5"/>
<line x1="664.15" y1="443.30" x2="664.15" y2="511.20" stroke="#f3f3f3" stroke-width="0.5"/>
<line x1="682.40" y1="443.30" x2="682.40" y2="511.20" stroke="#f3f3f3" stroke-width="0.5"/>
<path d="M645.90,509.80 L645.90,493.72 L646.03,493.05 L646.19,492.24 L646.37,491.29 L646.57,490.22 L646.80,489.06 L647.03,487.82 L647.28,486.52 L647.54,485.18 L647.81,483.81 L648.07,482.43 L648.34,481.06 L648.60,479.71 L648.86,478.41 L649.10,477.18 L649.34,476.02 L649.55,474.96 L649.75,473.96 L649.96,472.96 L650.16,471.98 L650.36,471.01 L650.55,470.06 L650.75,469.13 L650.94,468.22 L651.12,467.34 L651.31,466.48 L651.49,465.66 L651.66,464.87 L651.83,464.12 L652.00,463.42 L652.16,462.75 L652.32,462.13 L652.47,461.56 L652.61,461.04 L652.75,460.55 L652.87,460.11 L652.99,459.71 L653.10,459.34 L653.20,459.01 L653.30,458.72 L653.41,458.46 L653.50,458.24 L653.61,458.05 L653.71,457.89 L653.81,457.76 L653.92,457.66 L654.04,457.59 L654.16,457.55 L654.29,457.54 L654.43,457.56 L654.57,457.61 L654.71,457.70 L654.86,457.82 L655.00,457.98 L655.15,458.16 L655.30,458.38 L655.46,458.63 L655.62,458.90 L655.78,459.21 L655.95,459.54 L656.12,459.90 L656.29,460.28 L656.47,460.68 L656.66,461.11 L656.85,461.56 L657.05,462.06 L657.25,462.62 L657.47,463.23 L657.69,463.89 L657.91,464.60 L658.14,465.32 L658.37,466.07 L658.61,466.84 L658.84,467.60 L659.08,468.36 L659.32,469.10 L659.56,469.82 L659.80,470.51 L660.04,471.15 L660.27,471.74 L660.50,472.28 L660.73,472.76 L660.96,473.22 L661.19,473.64 L661.43,474.03 L661.67,474.40 L661.90,474.74 L662.14,475.07 L662.37,475.38 L662.60,475.68 L662.83,475.96 L663.06,476.24 L663.29,476.52 L663.51,476.79 L663.73,477.07 L663.94,477.35 L664.15,477.64 L664.35,477.92 L664.54,478.17 L664.72,478.40 L664.90,478.61 L665.07,478.82 L665.23,479.01 L665.40,479.20 L665.56,479.40 L665.73,479.60 L665.90,479.82 L666.07,480.05 L666.25,480.31 L666.44,480.59 L666.64,480.91 L666.85,481.26 L667.07,481.66 L667.30,482.10 L667.54,482.57 L667.79,483.07 L668.04,483.60 L668.29,484.15 L668.56,484.73 L668.83,485.32 L669.10,485.93 L669.38,486.55 L669.66,487.19 L669.95,487.83 L670.24,488.48 L670.54,489.12 L670.84,489.77 L671.14,490.41 L671.45,491.04 L671.76,491.68 L672.08,492.35 L672.41,493.04 L672.74,493.75 L673.08,494.47 L673.42,495.20 L673.77,495.93 L674.12,496.65 L674.47,497.37 L674.82,498.07 L675.18,498.76 L675.53,499.43 L675.88,500.06 L676.23,500.67 L676.58,501.23 L676.92,501.76 L677.28,502.25 L677.65,502.72 L678.03,503.17 L678.42,503.60 L678.82,504.01 L679.22,504.40 L679.62,504.76 L680.00,505.11 L680.38,505.43 L680.75,505.74 L681.09,506.02 L681.42,506.28 L681.71,506.52 L681.98,506.74 L682.21,506.94 L682.40,507.12 L682.40,509.80 Z" fill="#d01018" fill-opacity="0.72"/>
<path d="M645.90,509.80 L645.90,499.08 L646.00,498.85 L646.11,498.58 L646.23,498.27 L646.37,497.92 L646.51,497.54 L646.67,497.13 L646.83,496.70 L647.01,496.25 L647.19,495.79 L647.38,495.31 L647.58,494.83 L647.78,494.35 L647.99,493.88 L648.21,493.41 L648.42,492.96 L648.64,492.52 L648.87,492.11 L649.09,491.72 L649.32,491.36 L649.55,491.04 L649.78,490.75 L650.02,490.48 L650.27,490.22 L650.53,489.98 L650.79,489.75 L651.06,489.54 L651.33,489.34 L651.61,489.14 L651.89,488.96 L652.17,488.78 L652.46,488.61 L652.75,488.44 L653.04,488.27 L653.33,488.10 L653.61,487.93 L653.90,487.76 L654.19,487.58 L654.47,487.40 L654.75,487.22 L655.02,487.02 L655.30,486.82 L655.58,486.62 L655.86,486.42 L656.14,486.22 L656.42,486.01 L656.70,485.81 L656.98,485.61 L657.27,485.41 L657.55,485.21 L657.83,485.01 L658.11,484.81 L658.39,484.61 L658.66,484.41 L658.94,484.21 L659.21,484.00 L659.48,483.80 L659.74,483.60 L660.00,483.40 L660.25,483.20 L660.50,483.00 L660.75,482.79 L660.99,482.56 L661.23,482.32 L661.47,482.07 L661.71,481.81 L661.94,481.54 L662.17,481.27 L662.40,481.01 L662.63,480.74 L662.85,480.49 L663.07,480.24 L663.29,480.01 L663.50,479.79 L663.71,479.60 L663.91,479.42 L664.11,479.27 L664.31,479.15 L664.51,479.06 L664.70,479.00 L664.88,478.98 L665.06,478.99 L665.22,479.03 L665.37,479.10 L665.52,479.18 L665.65,479.29 L665.78,479.43 L665.91,479.58 L666.03,479.75 L666.15,479.94 L666.27,480.15 L666.39,480.38 L666.52,480.62 L666.65,480.88 L666.78,481.15 L666.92,481.43 L667.08,481.72 L667.24,482.03 L667.41,482.34 L667.60,482.67 L667.80,483.00 L668.02,483.35 L668.24,483.73 L668.48,484.14 L668.73,484.58 L668.99,485.03 L669.25,485.50 L669.53,485.99 L669.81,486.49 L670.09,487.01 L670.38,487.52 L670.67,488.04 L670.96,488.56 L671.26,489.08 L671.55,489.59 L671.85,490.10 L672.14,490.59 L672.43,491.07 L672.72,491.53 L673.00,491.97 L673.27,492.38 L673.55,492.78 L673.83,493.18 L674.11,493.57 L674.40,493.96 L674.69,494.34 L674.97,494.71 L675.26,495.08 L675.55,495.45 L675.84,495.80 L676.13,496.15 L676.41,496.49 L676.69,496.82 L676.97,497.14 L677.24,497.45 L677.51,497.75 L677.77,498.04 L678.03,498.32 L678.28,498.58 L678.52,498.84 L678.75,499.08 L678.98,499.31 L679.21,499.52 L679.43,499.73 L679.66,499.92 L679.88,500.10 L680.09,500.26 L680.31,500.42 L680.52,500.57 L680.72,500.71 L680.92,500.84 L681.11,500.96 L681.29,501.07 L681.47,501.18 L681.63,501.28 L681.79,501.37 L681.93,501.46 L682.07,501.54 L682.19,501.62 L682.30,501.69 L682.40,501.76 L682.40,509.80 Z" fill="#3d66e6" fill-opacity="0.72"/>
<path d="M645.90,509.80 L645.90,496.40 L646.00,496.21 L646.11,495.99 L646.23,495.73 L646.37,495.45 L646.51,495.13 L646.67,494.80 L646.83,494.44 L647.01,494.07 L647.19,493.69 L647.38,493.30 L647.58,492.91 L647.78,492.51 L647.99,492.11 L648.21,491.72 L648.42,491.34 L648.64,490.98 L648.87,490.62 L649.09,490.29 L649.32,489.98 L649.55,489.70 L649.78,489.44 L650.02,489.19 L650.27,488.95 L650.53,488.72 L650.79,488.51 L651.06,488.30 L651.33,488.09 L651.61,487.90 L651.89,487.71 L652.17,487.52 L652.46,487.34 L652.75,487.16 L653.04,486.98 L653.33,486.80 L653.61,486.62 L653.90,486.44 L654.19,486.26 L654.47,486.07 L654.75,485.88 L655.02,485.68 L655.30,485.48 L655.58,485.28 L655.86,485.08 L656.15,484.88 L656.44,484.68 L656.72,484.47 L657.01,484.27 L657.30,484.07 L657.59,483.87 L657.88,483.67 L658.16,483.47 L658.44,483.27 L658.72,483.07 L658.99,482.87 L659.26,482.67 L659.52,482.46 L659.78,482.26 L660.03,482.06 L660.27,481.86 L660.50,481.66 L660.73,481.46 L660.95,481.25 L661.16,481.03 L661.38,480.81 L661.58,480.59 L661.79,480.37 L661.99,480.15 L662.18,479.92 L662.37,479.70 L662.55,479.48 L662.73,479.27 L662.91,479.06 L663.08,478.85 L663.25,478.65 L663.41,478.46 L663.57,478.27 L663.72,478.10 L663.87,477.93 L664.01,477.78 L664.15,477.64 L664.28,477.51 L664.40,477.38 L664.51,477.26 L664.60,477.14 L664.69,477.02 L664.77,476.91 L664.85,476.81 L664.92,476.72 L664.99,476.63 L665.06,476.55 L665.13,476.48 L665.20,476.42 L665.27,476.37 L665.35,476.32 L665.43,476.29 L665.52,476.27 L665.62,476.26 L665.73,476.26 L665.84,476.27 L665.98,476.30 L666.11,476.34 L666.26,476.38 L666.41,476.43 L666.56,476.49 L666.72,476.56 L666.88,476.64 L667.04,476.73 L667.22,476.83 L667.39,476.93 L667.57,477.05 L667.76,477.19 L667.95,477.33 L668.14,477.49 L668.34,477.66 L668.54,477.84 L668.75,478.04 L668.96,478.25 L669.18,478.48 L669.40,478.72 L669.62,478.98 L669.86,479.26 L670.09,479.56 L670.33,479.88 L670.57,480.22 L670.82,480.58 L671.08,480.96 L671.33,481.34 L671.60,481.75 L671.86,482.16 L672.13,482.58 L672.41,483.01 L672.69,483.45 L672.98,483.89 L673.27,484.34 L673.56,484.79 L673.86,485.24 L674.16,485.69 L674.47,486.14 L674.78,486.58 L675.10,487.02 L675.43,487.47 L675.79,487.95 L676.17,488.44 L676.56,488.96 L676.97,489.49 L677.39,490.03 L677.81,490.58 L678.24,491.13 L678.67,491.67 L679.09,492.21 L679.51,492.74 L679.92,493.26 L680.31,493.76 L680.69,494.23 L681.05,494.68 L681.38,495.10 L681.68,495.49 L681.96,495.84 L682.20,496.14 L682.40,496.40 L682.40,509.80 Z" fill="#626262" fill-opacity="0.72"/>
</g>
<path d="M644.10,511.20 L644.10,443.30 L684.00,443.30 L684.00,511.20" fill="none" stroke="#555" stroke-width="0.7"/>
<text x="664.05" y="431.70" font-size="6.2" text-anchor="middle" textLength="29.50" lengthAdjust="spacingAndGlyphs">Only RPFs</text>
<text x="664.05" y="438.4" font-size="5.8" text-anchor="middle" fill="#222">(<tspan font-style="italic">n</tspan> = 30)</text>
<line x1="645.90" y1="513.10" x2="645.90" y2="515.80" stroke="#555" stroke-width="0.5"/>
<text x="648.30" y="521.00" font-size="6.3" text-anchor="end" fill="#333" transform="rotate(-45 648.30 521.00)">0</text>
<line x1="664.15" y1="513.10" x2="664.15" y2="515.80" stroke="#555" stroke-width="0.5"/>
<text x="666.55" y="521.00" font-size="6.3" text-anchor="end" fill="#333" transform="rotate(-45 666.55 521.00)">50</text>
<line x1="682.40" y1="513.10" x2="682.40" y2="515.80" stroke="#555" stroke-width="0.5"/>
<text x="684.80" y="521.00" font-size="6.3" text-anchor="end" fill="#333" transform="rotate(-45 684.80 521.00)">100</text>
<line x1="559.20" y1="509.80" x2="562.20" y2="509.80" stroke="#555" stroke-width="0.5"/>
<text x="556.80" y="511.80" font-size="5.8" text-anchor="end" fill="#333">0</text>
<line x1="559.20" y1="496.40" x2="562.20" y2="496.40" stroke="#555" stroke-width="0.5"/>
<text x="556.80" y="498.40" font-size="5.8" text-anchor="end" fill="#333">0.5</text>
<line x1="559.20" y1="483.00" x2="562.20" y2="483.00" stroke="#555" stroke-width="0.5"/>
<text x="556.80" y="485.00" font-size="5.8" text-anchor="end" fill="#333">1.0</text>
<line x1="559.20" y1="469.60" x2="562.20" y2="469.60" stroke="#555" stroke-width="0.5"/>
<text x="556.80" y="471.60" font-size="5.8" text-anchor="end" fill="#333">1.5</text>
<line x1="559.20" y1="456.20" x2="562.20" y2="456.20" stroke="#555" stroke-width="0.5"/>
<text x="556.80" y="458.20" font-size="5.8" text-anchor="end" fill="#333">2.0</text>
<text x="623.10" y="421.60" font-size="7.4" text-anchor="middle" fill="#1a1a1a" textLength="58.50" lengthAdjust="spacingAndGlyphs">MYC TARGETS V1</text>
<text x="623.70" y="537.60" font-size="7.38" text-anchor="middle" textLength="55.40" lengthAdjust="spacingAndGlyphs">Percentage CDS</text>
<text x="228.20" y="554.20" font-size="13.5" fill="#000" font-weight="bold" stroke="#000" stroke-width="0.45">h</text>
<text x="318.7" y="568.6" font-size="6.3" fill="#222" textLength="213.4" lengthAdjust="spacingAndGlyphs">Δ Ribosome occupancy upon <tspan font-style="italic">Npm1</tspan> KO – all transcripts binned</text>
<path d="M227.9,600.3 L227.9,588.5 L224.6,588.5 L229.2,578.4 L233.8,588.5 L230.5,588.5 L230.5,600.3 Z" fill="#c00000"/>
<path d="M227.9,603.4 L227.9,614.7 L224.6,614.7 L229.2,624.8 L233.8,614.7 L230.5,614.7 L230.5,603.4 Z" fill="#d9d9d9"/>
<line x1="254.20" y1="583.70" x2="256.40" y2="583.70" stroke="#444" stroke-width="0.5"/>
<text x="251.20" y="585.70" font-size="5.6" text-anchor="end" fill="#333">0.02</text>
<line x1="254.20" y1="601.70" x2="256.40" y2="601.70" stroke="#444" stroke-width="0.5"/>
<text x="251.20" y="603.70" font-size="5.6" text-anchor="end" fill="#333">0</text>
<line x1="254.20" y1="619.70" x2="256.40" y2="619.70" stroke="#444" stroke-width="0.5"/>
<text x="251.20" y="621.70" font-size="5.6" text-anchor="end" fill="#333">-0.02</text>
<path d="M260.50,602.10 L263.00,601.60 L266.00,601.10 L270.00,600.60 L274.00,599.90 L277.00,599.70 L281.00,600.10 L285.00,599.10 L289.00,598.70 L293.00,598.30 L296.00,599.10 L300.00,597.70 L304.00,597.30 L308.00,598.00 L311.00,597.60 L314.00,598.10 L316.40,599.10 L317.40,599.10 L317.90,588.10 L318.30,574.50 L318.70,588.10 L319.30,599.10 L320.00,600.90 L320.60,602.10 L320.60,602.10 L320.00,603.10 L319.30,604.10 L318.70,610.10 L318.30,615.00 L317.90,610.10 L317.40,604.10 L316.40,605.10 L314.00,606.80 L311.00,605.70 L308.00,606.10 L304.00,606.80 L300.00,606.30 L296.00,606.70 L293.00,606.20 L289.00,605.30 L285.00,605.60 L281.00,605.10 L277.00,604.70 L274.00,604.50 L270.00,604.00 L266.00,603.40 L263.00,602.80 L260.50,602.10 Z" fill="#c6c6c6"/>
<rect x="262.00" y="601.59" width="2.20" height="0.84" fill="#c00000" fill-opacity="0.7676916901183808"/>
<rect x="265.50" y="601.55" width="1.50" height="0.92" fill="#c00000" fill-opacity="0.7915680154384778"/>
<rect x="268.00" y="601.45" width="4.00" height="1.08" fill="#c00000" fill-opacity="0.5762115436959253"/>
<rect x="273.00" y="601.68" width="3.50" height="0.71" fill="#c00000" fill-opacity="0.884987632838584"/>
<rect x="277.00" y="601.59" width="4.50" height="0.86" fill="#c00000" fill-opacity="0.6437323844186785"/>
<rect x="282.50" y="601.32" width="2.50" height="1.30" fill="#c00000" fill-opacity="0.7381054030089792"/>
<rect x="287.00" y="601.38" width="2.00" height="1.20" fill="#c00000" fill-opacity="0.740541283479734"/>
<rect x="291.00" y="601.45" width="1.50" height="1.08" fill="#c00000" fill-opacity="0.6102465696094096"/>
<rect x="294.00" y="601.45" width="5.50" height="1.08" fill="#c00000" fill-opacity="0.8972181228573186"/>
<rect x="301.00" y="601.49" width="4.50" height="1.01" fill="#c00000" fill-opacity="0.8465007424805961"/>
<rect x="306.00" y="601.44" width="1.50" height="1.10" fill="#c00000" fill-opacity="0.575612575290799"/>
<rect x="309.50" y="601.41" width="2.00" height="1.15" fill="#c00000" fill-opacity="0.7864398331725271"/>
<rect x="312.00" y="601.57" width="3.50" height="0.88" fill="#c00000" fill-opacity="0.5624047005879"/>
<rect x="317.40" y="595.00" width="2.80" height="7.10" fill="#c00000"/>
<path d="M335.40,601.60 L336.20,574.00 L337.20,581.60 L339.50,586.40 L343.00,590.10 L348.70,593.00 L352.00,591.10 L356.50,588.40 L360.00,588.20 L364.40,588.40 L370.00,589.30 L375.00,589.00 L379.00,590.10 L384.00,590.40 L388.00,589.80 L393.00,591.00 L398.00,591.80 L404.00,593.00 L409.00,594.20 L414.00,594.30 L418.00,595.60 L423.00,596.60 L427.00,596.90 L432.00,596.70 L436.00,596.90 L441.00,596.10 L445.50,594.30 L449.40,598.20 L455.00,597.40 L460.00,596.90 L465.00,596.60 L469.00,596.30 L474.40,595.60 L478.30,598.90 L481.00,599.10 L483.60,599.60 L485.50,600.60 L486.50,601.60 L486.50,601.60 L485.50,608.60 L483.60,612.00 L481.00,611.60 L478.30,611.40 L474.40,614.00 L469.00,611.40 L465.00,609.10 L460.00,608.10 L455.00,607.80 L449.40,607.40 L445.50,609.40 L441.00,607.60 L436.00,606.10 L432.00,605.70 L427.00,604.80 L423.00,604.80 L418.00,606.10 L414.00,604.90 L409.00,604.20 L404.00,605.10 L398.00,604.80 L393.00,605.60 L388.00,604.60 L384.00,605.10 L379.00,604.00 L375.00,604.80 L370.00,604.90 L364.40,604.50 L360.00,604.40 L356.50,604.30 L352.00,604.60 L348.70,605.60 L343.00,608.60 L339.50,613.50 L337.20,620.60 L336.20,628.60 L335.40,601.60 Z" fill="#c6c6c6"/>
<rect x="336.00" y="600.91" width="2.50" height="1.19" fill="#c40000"/>
<rect x="339.00" y="600.96" width="2.50" height="1.14" fill="#c40000"/>
<rect x="342.00" y="600.15" width="2.50" height="1.95" fill="#c40000"/>
<rect x="345.00" y="598.44" width="2.50" height="3.66" fill="#c40000"/>
<rect x="348.00" y="597.27" width="2.50" height="4.83" fill="#c40000"/>
<rect x="351.00" y="596.52" width="2.50" height="5.58" fill="#c40000"/>
<rect x="354.00" y="595.69" width="2.50" height="6.41" fill="#c40000"/>
<rect x="357.00" y="595.27" width="2.50" height="6.83" fill="#c40000"/>
<rect x="360.00" y="596.19" width="2.50" height="5.91" fill="#c40000"/>
<rect x="363.00" y="596.30" width="2.50" height="5.80" fill="#c40000"/>
<rect x="366.00" y="596.65" width="2.50" height="5.45" fill="#c40000"/>
<rect x="369.00" y="597.42" width="2.50" height="4.68" fill="#c40000"/>
<rect x="372.00" y="597.40" width="2.50" height="4.70" fill="#c40000"/>
<rect x="375.00" y="597.20" width="2.50" height="4.90" fill="#c40000"/>
<rect x="378.00" y="597.46" width="2.50" height="4.64" fill="#c40000"/>
<rect x="381.00" y="598.15" width="2.50" height="3.95" fill="#c40000"/>
<rect x="384.00" y="598.01" width="2.50" height="4.09" fill="#c40000"/>
<rect x="387.00" y="598.25" width="2.50" height="3.85" fill="#c40000"/>
<rect x="390.00" y="598.19" width="2.50" height="3.91" fill="#c40000"/>
<rect x="393.00" y="598.67" width="2.50" height="3.43" fill="#c40000"/>
<rect x="396.00" y="599.10" width="2.50" height="3.00" fill="#c40000"/>
<rect x="399.00" y="599.13" width="2.50" height="2.97" fill="#c40000"/>
<rect x="402.00" y="599.24" width="2.50" height="2.86" fill="#c40000"/>
<rect x="405.00" y="599.13" width="2.50" height="2.97" fill="#c40000"/>
<rect x="408.00" y="599.37" width="2.50" height="2.73" fill="#c40000"/>
<rect x="411.00" y="599.23" width="2.50" height="2.87" fill="#c40000"/>
<rect x="414.00" y="599.35" width="2.50" height="2.75" fill="#c40000"/>
<rect x="417.00" y="599.48" width="2.50" height="2.62" fill="#c40000"/>
<rect x="420.00" y="599.98" width="2.50" height="2.12" fill="#c40000"/>
<rect x="423.00" y="600.58" width="2.50" height="1.52" fill="#c40000"/>
<rect x="426.00" y="600.35" width="2.50" height="1.75" fill="#c40000"/>
<rect x="429.00" y="600.60" width="2.50" height="1.50" fill="#c40000"/>
<rect x="432.00" y="600.92" width="2.50" height="1.18" fill="#c40000"/>
<rect x="435.00" y="601.23" width="2.50" height="0.87" fill="#c40000"/>
<rect x="438.00" y="601.15" width="2.50" height="0.95" fill="#c40000"/>
<rect x="441.00" y="601.52" width="2.50" height="0.58" fill="#c40000"/>
<rect x="444.00" y="601.17" width="2.50" height="0.93" fill="#c40000"/>
<rect x="447.00" y="601.10" width="2.50" height="0.55" fill="#c40000"/>
<rect x="450.00" y="601.10" width="2.50" height="1.05" fill="#c40000"/>
<rect x="453.00" y="601.10" width="2.50" height="1.29" fill="#c40000"/>
<rect x="456.00" y="601.10" width="2.50" height="0.75" fill="#c40000"/>
<rect x="459.00" y="601.10" width="2.50" height="0.64" fill="#c40000"/>
<rect x="462.00" y="601.10" width="2.50" height="1.29" fill="#c40000"/>
<rect x="465.00" y="601.10" width="2.50" height="0.94" fill="#c40000"/>
<rect x="468.00" y="601.10" width="2.50" height="1.63" fill="#c40000"/>
<rect x="471.00" y="601.10" width="2.50" height="2.44" fill="#c40000"/>
<rect x="474.00" y="601.10" width="2.50" height="3.03" fill="#c40000"/>
<rect x="477.00" y="601.10" width="2.50" height="3.29" fill="#c40000"/>
<rect x="480.00" y="601.10" width="2.50" height="3.69" fill="#c40000"/>
<rect x="483.00" y="601.10" width="2.50" height="4.62" fill="#c40000"/>
<rect x="486.00" y="601.52" width="2.50" height="0.58" fill="#c40000"/>
<path d="M503.20,601.50 L504.00,599.00 L508.00,598.70 L512.00,599.10 L517.00,598.60 L522.00,599.00 L527.00,598.90 L532.00,599.40 L537.00,599.10 L542.00,599.60 L548.00,599.70 L554.00,600.00 L560.00,600.30 L566.00,600.70 L571.00,601.10 L576.80,601.85 L576.80,602.15 L571.00,602.80 L566.00,603.20 L560.00,603.70 L554.00,604.10 L548.00,604.20 L542.00,604.80 L537.00,604.70 L532.00,605.30 L527.00,605.00 L522.00,605.60 L517.00,605.20 L512.00,605.40 L508.00,605.70 L504.00,605.40 L503.20,602.50 Z" fill="#c6c6c6"/>
<rect x="503.70" y="601.40" width="8.50" height="1.20" fill="#c00000"/>
<line x1="512.20" y1="602.00" x2="566.00" y2="602.00" stroke="#c03030" stroke-width="0.5" stroke-opacity="0.75"/>
<rect x="256.40" y="571.30" width="66.20" height="60.40" fill="none" stroke="#555" stroke-width="0.7"/>
<text x="289.50" y="640.00" font-size="6.8" text-anchor="middle">5′ UTR</text>
<rect x="327.40" y="571.30" width="168.10" height="60.40" fill="none" stroke="#555" stroke-width="0.7"/>
<text x="411.45" y="640.00" font-size="6.8" text-anchor="middle">CDS</text>
<rect x="500.00" y="571.30" width="81.70" height="60.40" fill="none" stroke="#555" stroke-width="0.7"/>
<text x="540.85" y="640.00" font-size="6.8" text-anchor="middle">3′ UTR</text>
</svg></body></html>
